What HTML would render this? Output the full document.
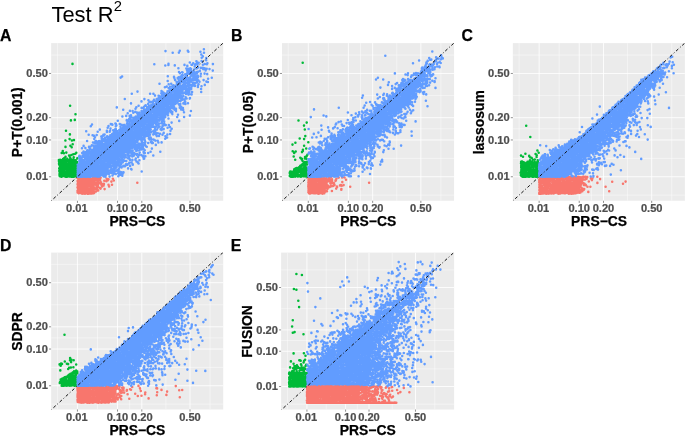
<!DOCTYPE html>
<html><head><meta charset="utf-8"><title>Test R2</title>
<style>
html,body{margin:0;padding:0;background:#fff;}
body{width:685px;height:436px;overflow:hidden;font-family:"Liberation Sans",sans-serif;}
svg{display:block;will-change:transform;font-family:"Liberation Sans",sans-serif;}
.tk{font-size:11.1px;font-weight:bold;fill:#4D4D4D;stroke:#4D4D4D;stroke-width:0.22px;}
.ax{font-size:13.9px;font-weight:bold;fill:#000;stroke:#000;stroke-width:0.25px;}
.tag{font-size:15.8px;font-weight:bold;fill:#000;stroke:#000;stroke-width:0.25px;}
.ttl{font-size:21.9px;fill:#000;}
</style></head><body>
<svg width="685" height="436" viewBox="0 0 685 436">
<rect width="685" height="436" fill="#fff"/>
<g>
<text class="ttl" x="51.5" y="21.5">Test R<tspan font-size="14.8" dx="0.1" dy="-10.6">2</tspan></text>
<rect x="51.15" y="43.10" width="172.05" height="157.65" fill="#EBEBEB"/>
<clipPath id="cA"><rect x="51.15" y="43.10" width="172.05" height="157.65"/></clipPath>
<g clip-path="url(#cA)">
<path d="M57.40 43.1V200.8M51.1 195.15H223.2M97.48 43.1V200.8M51.1 158.36H223.2M129.67 43.1V200.8M51.1 128.82H223.2M165.91 43.1V200.8M51.1 95.57H223.2M210.04 43.1V200.8M51.1 55.06H223.2" stroke="#fff" stroke-width="0.45" fill="none"/>
<path d="M77.44 43.1V200.8M51.1 176.75H223.2M117.53 43.1V200.8M51.1 139.96H223.2M141.81 43.1V200.8M51.1 117.68H223.2M190.00 43.1V200.8M51.1 73.46H223.2" stroke="#fff" stroke-width="0.85" fill="none"/>
<g fill="none" stroke-linecap="round" stroke-width="2.56">
<path d="M60.2 159.9h0m0.9 0.2h0m-2.2 0h0m2 0.2h0m-0.4 0.3h0m-1.6 0.5h0m2.2 0.2h0m-0.3 0.4h0m-1.1 1.5h0m-0.7 0.1h0m2.1 0.3h0m0.3 0.1h0m-2.2 0.6h0m-0.1 0.2h0m0.7 0.1h0m0.9 0.7h0m-0.8 0.3h0m0.1 0.9h0m0.4 0.2h0m0 1.6h0m-1.2 0.1h0m0.3 0.9h0m1 0.9h0m1 0.2h0m-2.2 0.5h0m0.7 0.7h0m1.2 0.8h0m-1.2 0.3h0m1.3 0.3h0m-1.7 0.1h0m0 0.5h0m-0.1 1.3h0m0.4 0.3h0m-0.2 0.9h0m0.1 0h0m1.3 0.5h0m1.7-25.5h0m-1.1 1.9h0m2.2 0.3h0m0.5 4.8h0m-1.4 0.9h0m-0.2 1.2h0m0.4 0.2h0m-1.2 1.3h0m2.2 0.4h0m-0.5 0h0m-1.3 0.8h0m0.3 0.5h0m1.1 0.1h0m-0.8 0.5h0m1 1.7h0m0.3 0h0m-2.2 0h0m-0.5 0.2h0m1.9 0.1h0m-0.4 0.3h0m0.7 0.7h0m-1.1 0.2h0m1 0.9h0m-1.5 0.1h0m1 0.2h0m-1.7 1.2h0m2.8 0.3h0m-0.9 0.5h0m-1.9 0h0m2.9 0.7h0m-2.9 0.4h0m0.2 0.4h0m0.6 0.6h0m-0.7 0h0m1 0.4h0m0.5 0h0m0 0.2h0m0.9 0.8h0m-0.1 0.4h0m-2 0.7h0m0.9 0h0m-0.9 0.6h0m0.7 0h0m0.3 0.3h0m1.3 0.2h0m-2.6 0.6h0m4.4-45.9h0m-0.6 9.7h0m0.1 6.4h0m0.8 5.7h0m-0.8 4.2h0m1.9 2.1h0m-1 0.5h0m-1.2 0.4h0m0.6 0.3h0m1.3 0.3h0m-1.8 0.2h0m1.7 0.7h0m-2.1 1.5h0m1.2 0.4h0m-1.2 0.4h0m-0.3 0.7h0m2.4 0.6h0m-0.5 0.6h0m-0.4 1.6h0m-1.2 1.2h0m2.4 0h0m-2.3 0.5h0m1.9 0.8h0m-2.3 0h0m0 1.2h0m0.5 0.8h0m1.5 0h0m-0.1 0.2h0m-1.2 1.2h0m1.1 0.5h0m-1.3 0h0m0.8 0.2h0m0.9 0.9h0m-0.9 0.8h0m-0.1 1h0m1.1 0.2h0m-1.1 0h0m1.2 0.1h0m-1.3 0h0m4.4-71h0m-0.2 28.7h0m-0.3 4.7h0m0.8 6.6h0m-1.3 9.8h0m0.4 0.4h0m0.7 2h0m0.3 0.9h0m-1.2 1.2h0m-1.3 0.1h0m0.5 0.5h0m1.5 0.1h0m-0.5 0.2h0m-0.6 0.4h0m-0.3 1.5h0m1.6 0.4h0m-1.7 0.2h0m1.3 0.3h0m-2.2 1.2h0m1.4 0.3h0m0.1 0.6h0m0.9 0.1h0m-2.1 1.4h0m0.5 0.4h0m-0.2 0h0m2.3 0.5h0m-1.6 0.4h0m-1.1 1.3h0m1.6 0.3h0m0.3 0.3h0m-1.4 0.8h0m0.7 0.7h0m-1.2 0.7h0m1.3 0.5h0m-0.1 0h0m1.3 0.1h0m-0.6 0.4h0m-1.6 1.2h0m1 0h0m-0.3 0.7h0m0.7 0.8h0m-0.4 0h0m3.4-112.5h0m-1.6 56.5h0m1 20.1h0m0.8 3.8h0m-1 3h0m1.6 6.9h0m-1.9 0.8h0m2.1 4.3h0m-3 0.7h0m1.3 0.1h0m-0.4 0.3h0m1 0h0m-1.8 0.5h0m2.1 0.3h0m-0.1 0.3h0m-1.9 0.7h0m0.4 1.1h0m1.6 0.3h0m-1.5 1.5h0m0.6 0.1h0m1 0.3h0m-0.4 0.2h0m-1.3 0.8h0m0.4 1.1h0m0.9 0.5h0m0.3 0.3h0m-0.9 0.5h0m1 0.6h0m-0.8 0.1h0m1.4 0.2h0m-0.9 1.2h0m-0.2 0.6h0m-1.3 0.1h0m2.1 0.7h0m-0.5 1.3h0m-0.5 0.1h0m0.3 0.3h0m0.6 0.6h0m-0.1 0.2h0m-2 0h0m0.3 0h0m0.1 0.3h0m-0.2 0h0m0.8 0.6h0m-1.4 0.3h0m0.6 0.5h0m0.7 0h0m0.2 0.1h0m3.5-62.4h0m-0.7 5.6h0m-0.8 20.2h0m2.3 12.6h0m-1 1.1h0m-1.6 3.6h0m1.9 3h0m-0.8 0.8h0m0.9 0.2h0m-2 0.8h0m2 1.1h0m-0.7 0.9h0m-1 0.1h0m2.1 0.3h0m-1.5 0.5h0m-0.3 1.1h0m1.8 0.2h0m-0.5 0.5h0m-0.9 0.7h0m0.9 0.4h0m-1.3 0.3h0m2.2 0.8h0m-1.5 0.4h0m-0.2 1.6h0m1.7 0.3h0m-2.7 0.3h0m0.7 0.7h0m0.7 0.5h0m-1.3 1.5h0m2.6 0h0m-1.1 0.8h0m-0.3 0.7h0m-0.1 0.1h0m0.9 0.2h0m-1.4 0.3h0m-0.7 0h0m0 0.2h0m3.5-18.3h0m-0.2 3.7h0m-0.4 1.4h0m0.7 1.2h0m-0.7 0.3h0m-0.1 4.5h0m0.1 3.2h0m0.1 1.8h0m0.5 1.3h0m0.1 0.5h0" stroke="#00BA38"/>
<path d="M78.1 177.3h0m-0.5 0.8h0m1.9 0.7h0m-0.7 0.9h0m-0.7 0.8h0m1.1 0h0m-1.6 0.6h0m0.6 0.6h0m0.3 0.1h0m0.9 0.5h0m-0.2 0.3h0m-1.3 0h0m0.2 0.1h0m0.4 0.4h0m0.6 0.4h0m-1.4 0.3h0m0.5 0.5h0m1 0.1h0m-1.3 0.1h0m-0.3 0.1h0m0.3 0.7h0m-0.1 1.4h0m0.1 0.3h0m0.2 0.2h0m-0.6 0.3h0m0.4 0.6h0m1.2 0.3h0m0 0.1h0m-0.9 0.7h0m0.4 0.4h0m0.1 0.4h0m-0.6 0.5h0m-0.4 0.1h0m-0.2 0.3h0m0.1 1.6h0m0.2 0.1h0m0.6 0.5h0m0.3 0.2h0m3.5-15.3h0m-2.5 0.7h0m1.5 0.2h0m-1.6 0.6h0m2.4 0.6h0m-1.4 0.2h0m0.8 1.2h0m-0.8 0h0m0.5 1.2h0m-1 0.1h0m1.9 0.4h0m-1.8 0.1h0m-0.1 0.2h0m1.9 0.5h0m-0.5 0.6h0m-1.6 0.8h0m0.4 0.6h0m2 0.6h0m-1.2 0.2h0m1.2 0.5h0m-2.7 0.1h0m2 0.4h0m-1.4 0.6h0m0.5 0.9h0m0.5 1h0m-1.3 1.3h0m2.1 0h0m-2.3 1.2h0m1.1 0h0m1.5 0.6h0m-0.7 0h0m0.8 0.2h0m1.1-16.7h0m-0.9 1h0m2.8 0.2h0m-1.2 1.1h0m0.5 1h0m-0.8 1.1h0m1.5 0.3h0m-2.3 0h0m-0.2 0.2h0m1.1 0.3h0m0.5 0.4h0m0.8 1.4h0m-1.3 0.4h0m-1 0.3h0m2 0.9h0m-1.3 0.4h0m1.1 0h0m-1.3 0.3h0m-0.7 1.8h0m1.5 0.2h0m0.3 0.1h0m-0.9 0.5h0m0.2 0.7h0m-1.1 0.6h0m0.5 1.2h0m1.7 0h0m0.2 0.1h0m-1.5 0.1h0m-0.2 1.1h0m1.4 0.6h0m-1.8 0h0m1.1 0.2h0m-0.2 0.1h0m1 0.3h0m1.1-16.7h0m2 0.4h0m-0.1 0.2h0m0.3 1.7h0m-2 0h0m1.9 1.5h0m-0.9 0.8h0m-0.2 0.1h0m-0.6 1.4h0m0.5 0.9h0m0.6 0.1h0m-0.3 0.1h0m0.9 0.1h0m-1.3 0.2h0m-0.5 1.5h0m0.3 1.2h0m0.9 0.6h0m0 0.4h0m0.8 0.7h0m-2.8 0.6h0m0.2 0.9h0m0.9 0.1h0m-0.3 0.4h0m0.4 0.7h0m-1 0.6h0m0.1 0.7h0m1.6 0.7h0m1.8-15.6h0m1.7 1h0m-0.1 0.5h0m-1.8 0.4h0m1.7 0.3h0m0.1 0.1h0m-0.7 1h0m0.8 0.1h0m-2.3 0.2h0m2 0.9h0m-1.6 1h0m2 0.4h0m-1.2 0.2h0m-0.9 1.6h0m1.4 0.1h0m-0.8 0.1h0m-0.8 0.3h0m2.1 0.9h0m-0.1 0.6h0m-0.3 0.1h0m-0.1 0.4h0m-0.6 0.4h0m1.3 0.1h0m-2.6 0.7h0m0.1 1.1h0m1.9 0.3h0m-0.1 0.6h0m-1.5 0.8h0m2.2 0.1h0m-2.5 0.3h0m2.7 0.3h0m-1 0h0m-1.4 0.3h0m1.4 0.2h0m-1.8 0.1h0m5.7-15.9h0m-1.3 0.2h0m1.4 0.4h0m-1.2 1.1h0m1 0.3h0m-1.8 0.6h0m1.9 0.5h0m0.1 0.5h0m-1.5 0.6h0m0.8 0.2h0m-1.6 1.6h0m0.7 0.5h0m1 0.2h0m-1.9 0.1h0m-0.2 1.3h0m1.5 0h0m0.4 0.6h0m-0.3 0.4h0m0.1 0.5h0m0.5 0h0m-1.7 1.1h0m1.4 0h0m0.9 1.2h0m-1.8 0.4h0m-0.2 0.8h0m1.3 0.7h0m-1.8 0.4h0m2.2 1.1h0m-0.2 0.1h0m-1.9 0.1h0m1.3 0.1h0m-1.4 0.2h0m-0.1 0h0m-0.1 0h0m4.3-15.6h0m-1.4 0.2h0m2.9 0.2h0m-0.1 0.5h0m-1.8 0.1h0m-0.1 0.6h0m0 0.4h0m1.8 2.3h0m-2.3 0.3h0m2 0.1h0m0.4 0.9h0m-2.3 0.7h0m2.2 0.3h0m-1.8 0.1h0m1 0.6h0m0 1.8h0m-0.5 1.3h0m1 0.6h0m-2.2 0.4h0m2 0h0m0.7 0.4h0m-1.5 1.8h0m3-14.6h0m-0.7 2.1h0m1.2 0.1h0m0.5 0.2h0m-0.9 0.6h0m1 0.5h0m-2.6 0.5h0m0.7 0.8h0m1.9 1.4h0m-0.8 0.2h0m-1.4 1.3h0m0 0.5h0m0 1.8h0m2 1h0m-1.7 2.5h0m2.4-12.6h0m0.5 4.5h0m0.1 1.4h0m0.1 0.3h0m1.7 0.1h0m-1.6 0.7h0m1.1 0.8h0m-0.3 0.9h0m-1.6 2.1h0m3.7-7.8h0m2.1 0.4h0m-2.5 2.7h0m-0.2 1.6h0m0.9 3.6h0m2-10.3h0m1.9 0.5h0m-0.6 1h0m0.6 4.5h0m0.6 1.6h0m2.3-4.8h0m0.6 3.1h0m0.9-5.9h0m0.9 1.7h0m23.5 2.2h0" stroke="#F8766D"/>
<path d="M79 156.5h0m0.4 0.8h0m0 3.8h0m-0.3 3.3h0m-1.4 0.3h0m1.6 1.8h0m-1.4 0.3h0m0.3 0.1h0m1.1 0.1h0m-1.4 0.1h0m1.1 1.7h0m-1.3 0.4h0m0 0.4h0m0.1 0.2h0m1.5 0.1h0m-1.4 0.9h0m0 0.5h0m-0.1 0.3h0m0.8 0.3h0m-0.7 0h0m0.3 0.2h0m0.3 0h0m-0.2 0.7h0m-0.6 0.8h0m0.7 0.4h0m-0.3 0.3h0m-0.2 0.2h0m0.6 0.7h0m-0.8 0.3h0m0.2 0.1h0m0 0.4h0m0 0.4h0m0.8 0.1h0m-0.8 0.1h0m0.1 0.1h0m1.3 0h0m2.7-28.4h0m0.2 4.8h0m-2.6 2.6h0m0.6 0.9h0m0.9 1.2h0m-0.2 0.6h0m-1.4 0.4h0m2.1 0h0m-0.3 0.2h0m0.8 0.6h0m-1.5 0.5h0m-0.2 0h0m0.9 1.1h0m-0.8 0.7h0m-0.4 0.1h0m-0.1 0.4h0m2.5 0.1h0m-2.9 0.4h0m2.3 0.1h0m-2 0.5h0m1.2 0.1h0m0.3 0.8h0m-1.6 0.2h0m-0.2 0.8h0m1.9 0.7h0m0 0.9h0m-1.6 0.3h0m1.5 1h0m-1.6 0.3h0m-0.1 0.9h0m1.4 0.9h0m-0.6 0.3h0m0.9 0.1h0m0.2 0.8h0m0.4 0.4h0m0.3 0h0m-2.5 0.5h0m2.2 0.4h0m-2.1 0.3h0m2.2 0.1h0m-2.1 0.3h0m1.3 1.2h0m-0.6 0h0m-0.6 0.5h0m0.4 0.2h0m0.3 0.6h0m1 0.2h0m0.7 0.3h0m-0.2 0h0m-1.4 0.1h0m2.7-30.8h0m1.8 2.2h0m-1.8 3.5h0m1.7 0.6h0m-0.5 0.5h0m-0.8 1.4h0m-0.3 0.8h0m-1.1 0.8h0m0.9 0.3h0m-0.8 0h0m2.6 0.2h0m-0.2 0.2h0m-2.2 0.3h0m1 0h0m0.5 0h0m0.6 2.2h0m-1 0.8h0m0.1 0.1h0m-0.6 0.4h0m0.6 0.9h0m1.1 0.5h0m-1.3 0.4h0m-0.4 1h0m0.1 0.2h0m-0.7 0.3h0m2.4 1.4h0m-1.1 0.2h0m-1.7 0.4h0m0.9 0h0m0.8 1.7h0m1 0h0m-0.5 0.1h0m-2.1 0.1h0m1.8 0.9h0m-1.1 0.4h0m-0.5 0.9h0m0.4 0.8h0m1.2 1h0m-0.5 0.9h0m-0.4 0.3h0m0.8 1.2h0m-1.4 1h0m0.5 0.2h0m0.6 0.6h0m-1 0.3h0m0.5 0.3h0m1.3 0.1h0m-0.6 0h0m-0.7 0.1h0m-0.8 0h0m0.2 0.1h0m2.3 0.2h0m1-45.5h0m0.9 9.8h0m0.2 9.4h0m0.4 0.3h0m-0.5 1h0m-1.2 0.3h0m1.3 1.6h0m-1.2 0.9h0m1.1 0.2h0m0 0.4h0m0.6 0.1h0m-0.6 0.6h0m1 0.4h0m-0.4 1.1h0m-1.8 0.3h0m2.2 0.3h0m-1.2 0.2h0m-1.3 0.1h0m2.2 0.7h0m-1.2 1.4h0m0 0.8h0m1.7 0.4h0m-0.2 0.3h0m-0.6 0.2h0m-1.3 0.7h0m1.7 0.7h0m-2.5 0.3h0m2.5 0.3h0m-1.8 0h0m0.7 0.9h0m0.2 0.2h0m-1.4 0.2h0m1.5 1.3h0m0.1 0.8h0m-1.2 0.4h0m0 0.8h0m-0.3 0.3h0m1.8 0.5h0m-0.6 0.2h0m-0.1 0.7h0m-0.4 0.1h0m-1 0h0m1.4 0.7h0m1.5 0.6h0m-1.2 0.3h0m-1.3 0.7h0m2 0.8h0m-2.1 0.1h0m0.2 0.8h0m1.2 0.7h0m-0.1 0.3h0m0 0.5h0m1.3 0.2h0m-2.8 0.2h0m0.4 0.2h0m1.5 0h0m-0.6 0.1h0m-0.9 0.1h0m4.8-50.4h0m-2.1 8.5h0m2 11.7h0m-1.7 0.4h0m0.5 1h0m0.8 1.1h0m-1.6 1.4h0m2.6 0.7h0m-2 0.5h0m1.2 0.4h0m-1.3 1.4h0m0.9 0.1h0m0.8 0.6h0m-0.3 0h0m-0.3 0.3h0m0.7 1.5h0m-1.4 0.4h0m-0.5 0.6h0m1.6 0.2h0m-0.3 1h0m0 0h0m-1.6 0.6h0m0.9 1h0m-1.2 0.8h0m2.6 0.5h0m-1.5 0.2h0m-0.8 1.1h0m2.4 0.3h0m-1.1 0.1h0m0.7 0.7h0m0.4 0.5h0m-1.5 0.9h0m-1.1 0.5h0m2.5 0h0m0.2 1h0m-1.7 0.2h0m1.8 1h0m-2.4 0.6h0m1.9 0.6h0m-1.6 1h0m0.5 0h0m0.6 1.5h0m-0.3 0h0m-0.7 0.2h0m-0.7 0.6h0m1.1 1.2h0m1.4 0.1h0m-0.3 0.3h0m0.2 0.9h0m-2.6 0.4h0m2.5 0.2h0m-1.4 0.1h0m-0.2 0.1h0m-0.7 0.4h0m2.3 0.9h0m-1.5 0h0m0.9 0.1h0m-1.4 0h0m3-52.2h0m0.6 10.8h0m1.5 0.6h0m0.2 3.1h0m-1.3 3.5h0m-1.1 2.8h0m1.8 0.3h0m0.1 0.9h0m-0.1 0.2h0m0.5 1.2h0m-1.6 1.8h0m1.3 0.4h0m-0.7 0.1h0m-0.3 0.3h0m1.4 0h0m-2.3 0.2h0m-0.3 0.3h0m1.4 0.7h0m-0.5 0.8h0m1.1 0.5h0m-0.5 1h0m0.9 0.4h0m-2.2 1.2h0m1.3 0.1h0m1 0.6h0m-1.6 0.4h0m-0.5 0.2h0m1.7 0.2h0m-1.3 0.1h0m0.4 0.8h0m1.2 0.4h0m-2.3 0.8h0m0.9 1.2h0m-0.3 0.1h0m1.1 0.4h0m-1.7 0.1h0m1.3 0.1h0m1.1 0.2h0m-0.2 1.1h0m-1.3 0h0m-0.3 0.6h0m1.7 1.5h0m-1.3 0.7h0m0.9 1.3h0m-1.2 0.5h0m1.2 0.6h0m-1.9 1.1h0m0.9 0.3h0m1.6 0.2h0m-2.3 0.3h0m0.6 1.5h0m-1.1 0.1h0m2.6 0.1h0m0 1.4h0m-1.7 0.1h0m0.4 0.9h0m1.6 0.2h0m-1.8 0h0m-1 0.7h0m1.6 0.3h0m-0.4 0.3h0m0.1 0.4h0m-0.1 0.6h0m0.5 0.2h0m3.4-41.2h0m-1.8 2.1h0m1.5 3.9h0m-1.1 0.4h0m1.7 0.4h0m-0.9 0.3h0m-1.5 0.8h0m1.1 0.5h0m1.8 0.3h0m-1.5 2.3h0m1.5 0.5h0m-1.8 0.4h0m-1.1 1.7h0m2.4 0.1h0m-0.8 0.2h0m0.4 0.3h0m-0.9 0.4h0m-0.5 0.2h0m2.1 0.7h0m-2.3 0.6h0m1.9 0.6h0m0.4 1.4h0m-1.8 0.3h0m-0.3 0.5h0m1.9 0.5h0m-1.2 0.4h0m-0.1 1.5h0m0.5 1.8h0m-0.3 0.4h0m0.4 0.8h0m-1.5 0.1h0m2.4 0h0m-2.1 0.1h0m0.9 1.2h0m-1.3 0.1h0m1.2 1h0m-0.5 0.8h0m1.1 0.7h0m0.2 0.2h0m-0.4 0.7h0m-1.8 0h0m1.1 0.2h0m0.1 0.3h0m0.9 0.7h0m-1.6 0h0m1.7 0.4h0m0.2 1.4h0m-0.7 0h0m-1.3 0.1h0m2 1.1h0m-2.1 0.4h0m2.4 0.7h0m-1.1 0.5h0m0.7 0.1h0m-1.2 0.2h0m1.1 0.9h0m-0.7 0.2h0m0.7 0.2h0m-1.2 1.7h0m1.8 0.9h0m-2.7 0.3h0m0.2 0.7h0m1.7 0.2h0m-1.6 0.3h0m1.1 0.5h0m-1.2 0h0m2.4 0.3h0m2.5-47h0m-2.1 2.2h0m1.4 9.2h0m0.5 0.8h0m-0.9 1h0m1.5 1.1h0m-1 0.2h0m0 1.5h0m-1.6 0.5h0m2.8 0.1h0m-1.1 0.2h0m-1 1.2h0m0.7 0.7h0m-0.2 1.7h0m-0.7 0.2h0m0.1 0.6h0m0 0.1h0m-0.6 0.1h0m2.4 0.7h0m-0.5 0.6h0m1 0.1h0m-1.1 0.2h0m0 0.9h0m0.3 0.6h0m-1 1.2h0m-0.5 0.4h0m1.2 1h0m0.5 1h0m-2.3 0h0m2.6 0.6h0m-1.5 0.2h0m-0.5 0.3h0m-0.7 0.6h0m1.3 0h0m0.2 0.9h0m-0.5 0.5h0m-0.3 0.3h0m2 0.2h0m-2.1 0.4h0m2.1 0.1h0m-0.6 1.5h0m-0.9 0.4h0m-0.3 0.8h0m-0.3 0h0m2.3 1.3h0m-2.6 0.1h0m2.5 0.4h0m-0.1 0.5h0m-0.2 0h0m0.2 0.5h0m-1.3 0h0m-0.6 0.8h0m1.4 1h0m0.1 0.5h0m-2.1 0.9h0m1.8 0.6h0m-0.5 0.6h0m-1.4 0.7h0m2.5 1.2h0m-2.1 0.3h0m1.6 0.3h0m-0.4 0.2h0m0.8 0h0m-1.1 0.1h0m-1.3 0.1h0m0.6 1.8h0m-0.4 0h0m1.8 0.1h0m3.8-41.7h0m-0.7 1.2h0m-1.4 0.6h0m0.6 1.8h0m-0.2 0.1h0m-0.2 2h0m1.5 0.6h0m-1.6 0h0m0.5 1.4h0m-0.2 1.1h0m1.6 0.8h0m-0.1 0.1h0m-1.2 0.9h0m1.3 0.6h0m-2.1 1.7h0m1.2 0.3h0m-1 0.8h0m1 0.4h0m-1.7 0h0m1.3 1.2h0m1.2 0.1h0m-0.9 0.5h0m0.7 1.1h0m-0.1 0.5h0m-1.1 0.9h0m0.3 0h0m0.8 0.8h0m-1.8 0.3h0m1.7 1.1h0m-2.1 0.1h0m2.2 1.3h0m-1.7 0.3h0m1.8 0.1h0m-1.9 0.1h0m-0.2 0.4h0m0.7 0.8h0m-0.3 0.8h0m1.2 1.1h0m-1.8 0.2h0m2.2 0h0m-0.5 0.4h0m0.7 0.3h0m-0.3 0.9h0m-0.4 0.3h0m0.5 0.4h0m-1.3 0.4h0m-0.6 0.6h0m0.6 0.2h0m1.9 0.1h0m-0.3 1.4h0m-2.6 0.2h0m2.2 0.3h0m-1.3 1.1h0m0.9 0.8h0m-1.6 0.3h0m1.4 1h0m0.7 0.3h0m-1.9 1.4h0m1.7 0.1h0m-0.4 0.7h0m1 0.3h0m-1.4 0.8h0m-0.9 0.8h0m-0.1 0.5h0m2.5 0.1h0m-0.6 0.2h0m-1.7 0.1h0m1.4 0.6h0m2.1-40.9h0m0.3 2.9h0m-0.1 1.4h0m-1.2 0.3h0m1.6 1h0m1 0.9h0m-2.7 0.2h0m1.2 0.2h0m0.7 0.8h0m-1 1.7h0m0.9 0h0m0.4 0.4h0m-2.1 0.5h0m1.9 1h0m0.9 0.3h0m-2.3 0.4h0m-0.1 0.7h0m2.3 0.1h0m-0.8 0.5h0m-0.6 0.1h0m-1.3 1.5h0m1.9 0h0m-1.4 0.6h0m2 0.8h0m-1 0.1h0m0.6 1.2h0m-0.7 1.1h0m1.1 0.1h0m-1.5 0.8h0m0.3 0.2h0m0.7 0.3h0m-0.3 0.9h0m-1.1 0.1h0m1.1 0.3h0m-1.6 0h0m1.1 0h0m-0.8 0.4h0m-0.3 0.5h0m2.5 0.7h0m-2.1 1.1h0m-0.3 0.1h0m1.8 0.3h0m-0.2 0.3h0m-1.1 0.4h0m0 0.1h0m0.7 0.1h0m-0.5 0.8h0m0.6 0.1h0m1.3 0.4h0m-2.6 0h0m0.5 0.7h0m0 0.4h0m0.3 0.3h0m-1 0.1h0m0.9 0.4h0m0.9 1.8h0m0 1.1h0m-0.1 1.1h0m-1.5 0.4h0m1.6 0h0m-1.7 0.3h0m0 0.5h0m2 0.1h0m-0.1 0.1h0m0.3 0.3h0m-1.8 0h0m0.2 1.7h0m1.3 0.7h0m-0.2 1h0m0.3 0.4h0m-2 0.9h0m0.5 0.6h0m2.2 0.1h0m-0.5 0.8h0m-2 1.4h0m1.6 0.2h0m3-50.7h0m-0.8 1.8h0m-0.8 3h0m0 1.2h0m0.3 4.2h0m2.1 0.6h0m-0.3 0.4h0m-1.3 0.1h0m-0.7 0.1h0m0.2 0.7h0m0.9 0.3h0m-1.4 1.7h0m0.9 0h0m0 0.4h0m-1 1.6h0m2.4 0.1h0m0.3 0.1h0m-2.1 1.1h0m1.7 0.1h0m-2.2 0.4h0m0.2 0.5h0m0 0.8h0m2.3 0.4h0m-0.5 0.3h0m-0.5 0.2h0m-0.2 0.1h0m0.4 0.1h0m-0.5 1.4h0m-0.3 0.1h0m0.6 0.2h0m-0.5 0h0m-0.5 0.6h0m2.3 1h0m-0.3 0.2h0m0.3 0.2h0m-2.2 0.7h0m0 0.5h0m0.8 0.5h0m-1.4 0.1h0m1.1 0.1h0m1.1 0.3h0m-1.5 1.3h0m0.5 0.2h0m-0.5 0.1h0m1.4 1.5h0m-1.8 0.5h0m1.3 1.3h0m-0.2 0.2h0m0 0.3h0m0.6 0.9h0m-0.6 0.7h0m1.2 0.5h0m-0.8 0h0m-0.9 0.2h0m1.5 1.4h0m-1.5 0.3h0m0.1 0.5h0m-0.3 0.2h0m1.4 0.4h0m0.5 0.2h0m-2.5 0.8h0m-0.1 0.2h0m2.4 0.6h0m-0.1 0.1h0m-1.2 0.8h0m-0.5 0.2h0m1.3 0.3h0m-0.5 0.1h0m-1.2 0.4h0m1.4 0.9h0m0.1 0.2h0m-0.6 0.3h0m-0.3 1h0m-0.4 1.3h0m1.2 0.2h0m-1.4 0.3h0m1.1 1.2h0m-0.6 1.5h0m0.7 0.3h0m0.7 0.3h0m-2.3 0h0m4.3-49.8h0m1.2 0.2h0m0.4 0.5h0m-1.9 3.8h0m-0.4 2.1h0m-0.4 1h0m2.5 2.3h0m-1.9 1.3h0m1.6 0.4h0m-0.8 0.7h0m-0.3 0.3h0m-0.5 0.1h0m0 0.6h0m-0.3 0.3h0m2.4 0.3h0m-0.9 1h0m0.2 0.3h0m-1.8 0.1h0m2.2 0.6h0m-2.5 0.8h0m0.4 0.1h0m1.5 0.5h0m-1.4 1.5h0m1.8 0.9h0m-2.3 0.1h0m1.2 0.1h0m-0.6 1.9h0m1.7 0.7h0m0.1 0.2h0m-0.2 0.4h0m-2 0.3h0m2.3 0.6h0m-1.9 0h0m-0.6 0.1h0m1.5 0.4h0m-0.5 0h0m1.1 2.3h0m0.2 0.5h0m-2.3 0.1h0m2 0.5h0m-1.3 1.4h0m2.1 0.3h0m-1.7 0.5h0m-0.8 0h0m1.4 0.8h0m0.9 0.6h0m-0.9 0.5h0m-1.4 0.4h0m0 0.4h0m2 0.4h0m-0.9 1.3h0m0.6 0.1h0m-1.1 1.8h0m0.2 1.3h0m-0.7 1.1h0m1.7 0.4h0m-1.6 0.3h0m0 1.2h0m2 1.1h0m-0.3 0.4h0m-1.5 0.8h0m-0.7 0.2h0m1.9 1.6h0m-0.2 0.4h0m0.7 0.5h0m-1.5 0.4h0m2 1.3h0m-0.8 0.5h0m-1.7 0.4h0m0.9 0h0m0.3 0.5h0m1.3 2.6h0m-2.9 1.1h0m5.8-53h0m-0.2 5.6h0m-2 1h0m0.8 1.3h0m-0.3 0.9h0m1.2 1h0m-1.5 0.9h0m0.9 1.3h0m-0.3 0.1h0m1.1 0.8h0m-1.8 0.5h0m-0.1 1.3h0m2 0.3h0m-1.1 0.8h0m0.5 1.3h0m0.2 0.8h0m-1.9 0.1h0m1.7 0.7h0m-1.7 0.2h0m2.2 1.8h0m-1.2 0.4h0m0.2 0.3h0m-1.5 0.8h0m0.3 0h0m1 0.1h0m1.2 0.5h0m-0.8 0.2h0m-0.1 1.2h0m-1.2 0.5h0m0.2 0.5h0m2.2 0.3h0m-1 0.2h0m-1.8 1.5h0m1.5 0.4h0m-0.3 1.1h0m-0.7 0.5h0m1.4 0.2h0m-1.4 0.1h0m1.4 0.1h0m-0.8 0.2h0m0.7 0.6h0m-1 0.4h0m1.9 0.8h0m-2.8 0.2h0m2.2 1h0m0.4 0.3h0m-1.5 0.4h0m0.3 1.6h0m-1.2 0.4h0m1.3 0.7h0m-1.2 0.6h0m2.2 0.2h0m-1.7 0.8h0m-0.5 0h0m0.7 0.4h0m1.2 1.2h0m-1.8 0.6h0m0.3 0.3h0m0.3 1.5h0m1.1 0.6h0m-2 0.2h0m1.6 1.8h0m1.2 0.6h0m-1.7 0.4h0m0.1 1h0m0.8 0.3h0m0 0.8h0m-0.6 0.6h0m-1 0.4h0m0.8 1h0m-0.3 0.8h0m3.3-66.5h0m1 13.4h0m-1.8 3.3h0m0.4 1.3h0m-0.6 0.8h0m0 2.8h0m-0.1 1.5h0m0.2 0.5h0m1.1 0h0m-0.4 1.1h0m0.2 0.3h0m0.8 0.6h0m-0.3 0.1h0m-0.8 1h0m1.4 0.9h0m0.4 0.4h0m-2.4 0h0m1.2 0.5h0m-0.2 1.5h0m-0.6 0.3h0m0 0.5h0m1.7 0.6h0m-0.2 0.5h0m-0.9 0h0m-0.4 0.8h0m1.4 0.7h0m-0.6 0.3h0m-0.9 0.2h0m1.2 0.5h0m-0.1 1h0m-1.7 0.7h0m2.2 0.6h0m0 0.3h0m-1.2 0.7h0m0.4 0.6h0m-1.3 0.4h0m0.4 0.8h0m-0.7 0h0m2.4 0.6h0m-0.9 1.5h0m-0.2 0.3h0m0.8 1.1h0m-1.9 0.5h0m1.5 1.7h0m-1.3 0.6h0m0.7 0.1h0m-0.3 1h0m0.9 0.5h0m-1.2 1.5h0m0.8 0.4h0m1.1 0h0m-2.5 0h0m0.2 1.4h0m0.7 0.4h0m-0.9 1.2h0m2.5 0.4h0m-2.5 0.2h0m2.8 0.9h0m-2.1 0.6h0m0.1 0.6h0m0.4 1.3h0m1.4 0.2h0m-2.5 0.3h0m2.4 1h0m-0.8 0h0m-0.9 0.9h0m0.3 0.2h0m-0.1 1.1h0m-0.6 0.1h0m1.4 2.9h0m-1.6 0.9h0m2.8 0.8h0m-0.3 1.2h0m-2.4 0.7h0m2.5 2.3h0m2.4-98.7h0m-0.9 46.4h0m0.7 2.6h0m0.1 2.1h0m-0.2 0.5h0m-1.1 0.9h0m1.8 0h0m-0.8 0.5h0m-0.4 0.1h0m0.3 0.4h0m1 0.3h0m-0.5 0.5h0m-1.8 0.5h0m0.2 0.5h0m2 0.7h0m-0.3 0.2h0m-1.9 1.2h0m0.1 0.3h0m1.8 0.1h0m0.1 0.5h0m-0.8 0.3h0m1 0.2h0m-2 0.8h0m0.5 0.5h0m0.4 0.2h0m0.9 0.7h0m-0.4 0.3h0m-1.3 0.3h0m1.1 0.6h0m0.6 1h0m-2 1h0m0.9 0.3h0m0.4 0.9h0m0 0h0m-1.6 0.3h0m0.9 0.3h0m-0.2 0.8h0m0.5 0.3h0m1.5 1.1h0m-1.9 0.6h0m1.2 0.8h0m-0.9 0.6h0m-1 0.1h0m0.1 0.7h0m2.3 0.3h0m-1.5 0.4h0m1 0.2h0m-0.2 1.5h0m0.9 0.1h0m-2.6 0h0m0.3 0.1h0m2.2 0.5h0m-2.1 0.3h0m0.4 0.5h0m-0.5 0.3h0m0.3 0.2h0m1.3 0.9h0m0.7 0.7h0m-2.1 0.4h0m0.6 0.2h0m-1.1 1.6h0m2.4 0.2h0m-1.5 1.5h0m-0.9 0.1h0m1.8 1.1h0m-1.5 0.7h0m0.7 0.7h0m0.1 1.4h0m0.7 0.1h0m1 0.3h0m-0.8 1.4h0m0.5 0.2h0m-1.4 0.8h0m0.2 1.5h0m-0.5 0.2h0m-0.7 2h0m-0.2 0.8h0m1 1.7h0m1.8 0.8h0m-0.8 0.6h0m-1.4 1.6h0m-0.2 0.4h0m0.9 0.1h0m2.2-98.5h0m1.1 33.3h0m-0.8 6.7h0m-0.8 8.3h0m2.3 0.3h0m-0.6 0.7h0m-0.4 1.8h0m-1.1 0.9h0m1.9 0.2h0m0.5 1.6h0m-1.4 0.6h0m-0.2 0.9h0m1 1h0m-0.7 0.2h0m-0.7 1.3h0m-0.4 0.2h0m1.7 0.4h0m0 0.7h0m-1.5 1.4h0m1.2 0.7h0m0.1 0.3h0m-0.1 1h0m0.9 0.3h0m-1.7 0.6h0m0.2 0.8h0m0 0.2h0m1.2 0.2h0m-1.7 0.2h0m0 0.1h0m0.3 0.1h0m-0.6 0.2h0m2.5 1.1h0m-2.4 0.5h0m-0.3 1.3h0m1.3 0h0m0.4 1h0m-0.9 1h0m0.3 0.2h0m1.5 1.1h0m0.1 0.1h0m-2.2 0h0m-0.1 0.3h0m1.5 0.3h0m-1.5 1.6h0m0.8 0.3h0m1.6 0.6h0m-0.2 0.1h0m-0.8 0.1h0m0.9 1.4h0m-2.2 0.2h0m1.9 1.1h0m-2.1 1h0m1.1 0.3h0m1 0.9h0m-1.1 1.3h0m1.3 0.3h0m-2.2 1.5h0m1.6 0.7h0m-0.7 0.2h0m1.6 0.6h0m-2.2 0.3h0m0.5 1.2h0m1.2 3.4h0m-0.9 0.6h0m-1.6 1.1h0m2 5h0m-0.8 1.3h0m-0.5 1h0m0.1 1h0m2.5-76.7h0m1.4 16.9h0m0.6 4.1h0m-0.1 0.5h0m0.5 0.1h0m0.2 2.3h0m-0.4 0.9h0m-2.4 1.3h0m2.9 0.4h0m-0.1 0.2h0m-0.9 0.5h0m-1.6 0.5h0m2.5 1.1h0m-2.8 0h0m2 0.1h0m-1.8 0.4h0m1.4 0.7h0m-0.8 0.6h0m1.1 1.2h0m-0.8 0.1h0m-0.1 0.5h0m-0.4 1h0m1.5 0.1h0m0.8 1.3h0m-1.8 0.4h0m-0.4 0.2h0m1.3 0.4h0m-1.5 1.4h0m1.3 0.4h0m-0.5 0.2h0m-0.4 0.5h0m0.1 1.7h0m1.8 0.1h0m-1.6 0.6h0m0.1 0h0m-0.4 1.5h0m1.5 0.4h0m0.3 0.4h0m0.1 0.3h0m-1.7 0h0m-0.1 0.2h0m-0.4 0.8h0m-0.5 0.3h0m2.2 0.6h0m-2.1 1.4h0m2.1 0.2h0m0.4 0.9h0m-0.4 0.1h0m-2.3 0.4h0m0.7 1.3h0m-0.1 0.3h0m1.4 0.5h0m-1.5 0.1h0m-0.3 1.1h0m1.7 0.6h0m-1 0.5h0m-0.4 0.5h0m0 0.2h0m1.6 0h0m-1.3 3.1h0m0.9 1.8h0m-1.7 0.4h0m1.7 3.5h0m-0.3 3.1h0m1.3 0h0m-0.8 0.8h0m-1.4 0.7h0m-0.1 0.5h0m4.9-55.3h0m-2.2 2.4h0m2.4 2.3h0m-0.5 0.3h0m0.8 2.3h0m-0.3 0.7h0m-0.9 0h0m-1.1 2.1h0m2.1 0.6h0m-1.1 1.9h0m-1.1 1.3h0m0.3 0.2h0m0.6 0.2h0m0.1 0.1h0m-0.3 0.2h0m1.6 1.6h0m-1.4 0.3h0m0.8 0.5h0m-1.7 0.4h0m1 1.5h0m-0.3 0h0m-0.9 0.8h0m1 0.4h0m0.8 1.4h0m-0.3 0.1h0m-0.7 0.3h0m0.7 1h0m-1.1 0.6h0m1.8 0.5h0m-0.9 0.9h0m-0.7 0.2h0m1.2 1h0m-1.6 0.9h0m2 0.3h0m-1.1 1.2h0m-0.7 0h0m1.4 0h0m0.9 0.5h0m-1.8 1.5h0m0 0.4h0m1.7 0.6h0m-1 0h0m0.1 0.2h0m0.4 0.4h0m0 0.1h0m-0.2 0.6h0m-1.3 0.3h0m1.7 1.9h0m-0.8 0.1h0m-0.2 0.2h0m-1.3 0.4h0m0.7 1.6h0m1.9 0.5h0m-1 1.2h0m-1.5 0h0m0.5 0.2h0m0.1 0.2h0m1.7 0.3h0m-1.8 1.6h0m0.5 0.1h0m1.2 0.3h0m-2.2 0.8h0m0.4 0.2h0m-0.6 0.6h0m-0.1 0.3h0m0.5 0.7h0m2.1 0.3h0m-2.1 0h0m1 1.5h0m-1.1 1.2h0m1.5 0.7h0m0.5 1h0m-0.7 2.9h0m0 0.5h0m-1.8 1.5h0m2.6 1.1h0m-2 2.5h0m3.7-74.6h0m-0.8 9.6h0m1.6 7.7h0m0.7 1.7h0m-2.3 2.6h0m0.2 1.9h0m1.8 0.5h0m-2.5 1.8h0m1.8 0.6h0m-0.3 0.9h0m-0.1 1.3h0m0.6 0.6h0m0.7 0.1h0m-1.7 0.9h0m-0.9 0.2h0m0.8 0.3h0m1.8 0.5h0m-0.8 0.2h0m-1.3 0.5h0m0.8 0.1h0m-0.3 0.6h0m0.1 0.2h0m0.3 0.1h0m0.2 0.7h0m0.1 0.1h0m0.3 0.6h0m-2 0.4h0m2.3 0.6h0m-0.8 1.1h0m-1.4 0.1h0m0.5 0.5h0m0.9 0.2h0m0.9 0.8h0m0 0.8h0m0.4 0.1h0m-1.6 0.2h0m1 0h0m0.3 1.1h0m-2.2 0.1h0m0.4 0.7h0m1.3 1.2h0m-1.7 1.1h0m2.4 0.1h0m-1.2 1.5h0m0.1 0.5h0m1 0h0m-1.1 0.4h0m0.6 0.1h0m0.5 0.5h0m0.2 0.9h0m-1.3 0.2h0m-1.6 2.2h0m2 0.1h0m-1.6 0.6h0m1.8 1.7h0m-1.1 0.3h0m-0.6 0.1h0m-0.2 0.8h0m-0.1 0.2h0m1.6 0.7h0m-0.4 0.3h0m0.7 2.2h0m-2.1 1.4h0m0.4 0.1h0m1 0.6h0m0.1 1.1h0m0.3 0.4h0m0.2 0.1h0m-0.2 2.2h0m0.1 3.5h0m-0.8 2.3h0m0.9 1.9h0m0.3 0.7h0m-1.6 4.2h0m0.3 0.5h0m4.8-62.2h0m-0.8 1.4h0m-0.2 3.1h0m0.5 4.9h0m-0.2 0.2h0m-1.5 1h0m2.1 0.4h0m-2.2 0.2h0m2.2 0.2h0m0.2 0.2h0m-0.9 1.5h0m0.4 0h0m-1.4 0.3h0m1.4 0.2h0m-2.2 0.1h0m0.1 0.3h0m2.7 1h0m-2.2 0.7h0m0.8 0h0m0 1.4h0m-1.1 0.1h0m2 0.1h0m-1 0h0m0 0.5h0m1.2 0.7h0m-0.5 0.5h0m-1.9 0.5h0m1.5 1.5h0m0.3 0.3h0m-1.6 0.1h0m2.1 1.4h0m-1.5 0.4h0m1.4 1.3h0m-0.4 0.1h0m-0.9 0.2h0m0.6 0.7h0m-0.3 0.9h0m-0.2 0.6h0m0 1.3h0m-0.6 1.1h0m2.1 0.5h0m-0.6 0.6h0m-1.5 0.3h0m0.8 2.2h0m1.3 1.6h0m-2.4 0.4h0m0.7 1.2h0m0.5 0.2h0m-0.6 0.6h0m-0.9 0.4h0m1.6 0h0m1.3 0.3h0m-2.3 0.6h0m2 0.7h0m-1 0.4h0m0.1 0.3h0m-1.4 0.1h0m1.6 0.5h0m-0.6 1.5h0m1.4 0.7h0m0 1.1h0m-2.5 2h0m1.3 0.8h0m-1.2 1.9h0m1.9 2.9h0m-0.4 1.2h0m2.1-68.1h0m1.1 14.1h0m-1.6 6.9h0m2 0.1h0m0.5 0h0m-2.6 0.1h0m2.2 1.3h0m-0.1 0.2h0m-0.4 0.4h0m-0.9 0.3h0m0.4 1.2h0m0.2 0.6h0m0.6 0.8h0m-1.7 0.7h0m2 1.5h0m-0.8 0.4h0m-0.9 0.3h0m1 0.7h0m-0.1 0.2h0m-0.9 0.2h0m1.7 0.1h0m-2.4 0.4h0m2.3 1.1h0m-0.8 0.9h0m0.5 0.4h0m-0.2 0.1h0m-1.4 0h0m1.1 1.3h0m0.6 0.4h0m-1.7 0.4h0m1.5 1.5h0m-2 0.2h0m2.7 0.2h0m-1.5 1.3h0m0.7 0.9h0m-0.6 0.2h0m1.2 1.4h0m-1.6 0.2h0m1.6 0.6h0m-2.6 0.2h0m2.4 0.8h0m-1.2 0.3h0m-1 0.8h0m0.5 0.5h0m1.4 1.3h0m-1.6 0.2h0m0.8 0.3h0m0.7 1.4h0m0.1 0.2h0m0.4 0h0m-2.5 0.1h0m0.9 1.5h0m-0.2 1h0m1.5 2.1h0m-0.4 0.1h0m0.9 0.2h0m-1.9 0.3h0m0.7 0.1h0m0.9 1.6h0m-1.2 0.2h0m1.6 1.6h0m-2 0.1h0m-0.9 1.9h0m1.7 0.2h0m-0.9 3.8h0m-0.5 1h0m2.3 0.1h0m-1 2h0m1.3 3.1h0m-2.9 1.2h0m1.4 1.2h0m0.7 0.9h0m2.9-62.1h0m0.1 6.5h0m0 3.1h0m0.3 1.1h0m0 2h0m-0.4 0.2h0m-1.6 0.2h0m1.1 0.4h0m1.4 0.6h0m-2.8 0.5h0m0.6 0.6h0m1.7 0.8h0m-1.7 1h0m1.4 0h0m-0.5 0.4h0m0.9 0.9h0m0 0.4h0m-0.7 0.2h0m-1.4 0.1h0m0.2 0.1h0m2.3 0.8h0m-0.4 1h0m-0.9 0h0m0.1 0.6h0m0.4 1h0m-1.3 0.1h0m-0.3 0.6h0m0.8 0.5h0m0.4 0.5h0m0.9 0.5h0m-1.8 0.6h0m0 0.7h0m-0.1 0.8h0m2 0.4h0m-2.5 0.6h0m0.9 0.3h0m1.8 1.3h0m-2.2 0h0m0.8 0.4h0m1.5 0.3h0m-1.5 0.1h0m1 0.3h0m-0.7 0.9h0m0.1 1.2h0m-0.1 0.6h0m-1.4 0.6h0m-0.3 0h0m2.5 0.4h0m-0.4 0.2h0m-2 1.1h0m1.6 0.4h0m0.2 1.6h0m-1.1 0.1h0m1.9 0.7h0m-0.9 0.8h0m0.4 1.2h0m0.2 0.3h0m0.1 0.8h0m-2.4 1.1h0m1.7 0.1h0m-1.2 0.2h0m1.3 1.3h0m-1.4 0.1h0m1 2.4h0m1.2 0.4h0m-1.4 0.2h0m1 0.9h0m-2.1 0.3h0m-0.1 2.8h0m1.7 2.5h0m0.3 16.4h0m2.7-72.4h0m0.7 6.6h0m-1.1 1h0m-0.8 1.4h0m1.1 1.1h0m-0.3 1.4h0m0.8 0h0m-2.2 1.1h0m2.4 0.8h0m-1.6 0.9h0m2 0.3h0m-1.9 0.7h0m-0.4 0.2h0m1.9 0.9h0m-0.5 0h0m-1.6 0.3h0m2.1 0.5h0m-2.4 0.9h0m1 0.5h0m1.8 1.1h0m-2.4 0.1h0m2.3 1.4h0m0.2 0.1h0m-1.3 0.2h0m-0.7 0.2h0m1.1 0.7h0m-1.4 1.5h0m0.7 0.3h0m0.8 0.1h0m-1.5 0.2h0m0.9 1.3h0m-0.5 0.1h0m1.1 0.3h0m-0.6 0.2h0m-1.6 0.8h0m2.7 1.2h0m-2 0.1h0m-0.3 0.2h0m1.4 0.3h0m0.9 0.1h0m-2.2 0.1h0m1.5 0.3h0m-1.7 1h0m2.6 0h0m-1.4 0.1h0m-1 0.1h0m1.1 0h0m-1.3 0.3h0m0.1 0.3h0m0.8 0.6h0m1.6 0.6h0m-0.8 0.2h0m-0.9 0.9h0m0.3 1.2h0m-0.2 1h0m-1 0h0m0.3 0.1h0m2.4 1.4h0m-1.5 0.8h0m-1 0.8h0m1.2 0.4h0m-0.1 0.3h0m0.4 0.2h0m0 0.4h0m-1.5 0h0m2 1.2h0m0.4 1.5h0m-0.9 0.8h0m0.5 0.5h0m-1.5 1.6h0m1.8 0.3h0m-2.3 1.8h0m0.1 1.6h0m0.6 0.5h0m1.2 1.1h0m-1.2 1.8h0m1.2 1.1h0m-0.9 0.2h0m-0.5 2.7h0m2 0.2h0m-2.5 0.4h0m1.3 2h0m-0.5 0.2h0m4.7-58.6h0m-0.2 3.7h0m-2.5 1.4h0m1.5 1.8h0m-0.1 1.1h0m0.3 0.9h0m-1.1 0.5h0m0.6 0.7h0m-0.3 0.2h0m1.1 1.3h0m-1.8 0.1h0m1.7 1.1h0m-0.6 0.2h0m0 0.3h0m0 1.1h0m0.3 0.4h0m0 1.5h0m-1.8 0.5h0m0.2 0.3h0m2.4 0.1h0m-1.6 0.5h0m-0.8 0.1h0m0.3 1.4h0m1.7 0.1h0m-0.4 0.6h0m-1.4 0.9h0m1.5 0.8h0m-1.7 1h0m2.5 1.2h0m-1.5 0.3h0m0.3 0.5h0m0.3 0.9h0m0.6 0.7h0m0.1 0.5h0m-1.5 0.2h0m-0.7 0.5h0m1.6 1.7h0m0.9 1.1h0m-0.7 0.3h0m-0.6 1.8h0m-1 0h0m0.9 1.1h0m-1.4 0.2h0m0.1 1.2h0m0.2 0.5h0m2.3 0.4h0m-2.2 0.1h0m2.3 7h0m-2.3 3.3h0m0.9 0.4h0m1.4 6.3h0m1.9-59.3h0m-0.6 8h0m1.1 0.4h0m-0.3 0h0m0.9 3.5h0m-1.2 0.1h0m-0.5 0.3h0m-0.5 0.4h0m1.1 0.3h0m1.3 0.2h0m-2.8 0.1h0m2.9 0.4h0m-1 0.9h0m-1.1 0.2h0m0.5 0.8h0m-1 1.3h0m1.1 0h0m-1.2 1.2h0m1.3 0.5h0m-0.3 0.3h0m-0.7 0.6h0m1.8 1.1h0m-0.2 0.1h0m-1.9 0.8h0m1.9 0.1h0m-0.4 0.8h0m0.9 0.1h0m-2 0.5h0m1.4 0.8h0m-1.3 0.4h0m1.6 1.2h0m-0.2 0.3h0m-1.9 0.2h0m0.5 0.8h0m1 0.4h0m-1.6 0.1h0m1.5 0.1h0m1.1 0h0m0.1 0.3h0m-0.7 0.5h0m-1.9 0.3h0m1.5 0.4h0m-0.7 0.1h0m1.5 1.2h0m0.1 0.6h0m-1 0.3h0m-0.7 0.8h0m1 0.3h0m0 0.9h0m-1.8 0.8h0m1.6 1.4h0m0.4 0.5h0m-0.5 0.1h0m-0.9 0.2h0m1.1 0.3h0m-1 0.1h0m0.6 1.1h0m-0.1 0.3h0m1.2 0.3h0m-2 0.3h0m2.1 0.1h0m-1 0.1h0m-1.1 0.9h0m0.9 1.5h0m-1.1 0.2h0m0.6 0.2h0m0.9 2.3h0m-1.3 0.6h0m1.9 0.3h0m-2.2 0.3h0m0.8 0.8h0m1.3 0.2h0m0.4 0.2h0m-0.4 2.3h0m-0.3 9.6h0m3.7-87.5h0m-0.9 29.5h0m0.6 6h0m0.5 1h0m-1.8 0.8h0m-0.1 0.6h0m0.3 0.4h0m-0.2 1.3h0m1.1 0.4h0m-1 0.3h0m-1.2 0.4h0m2.4 0.6h0m0.3 0.5h0m-1.9 0.8h0m1.6 1.3h0m-1.2 0.2h0m-0.1 0.6h0m1.4 0.4h0m-2.3 0.7h0m2.3 0.2h0m-2.1 1h0m1.2 0.7h0m-1.5 0.4h0m2.8 1.4h0m-0.6 0.3h0m-1 0.5h0m-0.2 0.3h0m0.3 0.4h0m-0.5 0.4h0m1.9 0.7h0m-1.4 1.3h0m-0.1 1.8h0m1.5 0.5h0m-1.4 0.3h0m0.6 0.6h0m-0.4 0.6h0m0.5 0.9h0m-0.9 0.2h0m0.9 0.3h0m-0.9 1.1h0m0.3 0.2h0m-0.5 0.8h0m-0.5 0.1h0m-0.5 1.2h0m2.2 0.3h0m-2.1 0.2h0m1.7 0h0m0 4.3h0m0.4 2.4h0m-0.5 1.1h0m0.3 5.1h0m-2 0h0m0.5 2.7h0m-0.2 0.6h0m0.9 0h0m-0.8 0.2h0m-0.1 5.5h0m1.4 6.9h0m1.7-59.9h0m2.3 3.3h0m-0.6 0.1h0m0.1 2h0m0.2 0h0m-1.2 0.7h0m0.9 0.8h0m-0.9 1.6h0m0.1 0h0m-1 0.1h0m2.3 0.7h0m-2.1 1h0m0.4 0.2h0m1.1 0.6h0m0.7 0.5h0m-0.8 0.5h0m-1.3 0.1h0m0.1 0.7h0m0.8 1.1h0m-1.4 0.2h0m2.6 0.2h0m-2.5 1.1h0m0.4 0.2h0m2.3 0.6h0m-0.5 0.3h0m-2.1 0.5h0m1.8 0.1h0m-2 0.3h0m2.1 1h0m0.4 1.3h0m-2 0h0m0.1 0.7h0m2 1.2h0m-2.2 0.1h0m0.6 1.4h0m-1.2 0.1h0m1.2 0.6h0m1.8 0.4h0m-2.3 0.5h0m2.2 1.2h0m-0.6 0.1h0m-1.9 1h0m0.3 0.4h0m0.9 1h0m0.8 0.4h0m-0.4 2h0m-1 0.4h0m-0.3 1.3h0m-0.3 1.3h0m2.1 0h0m-2 1.1h0m0.2 0.4h0m-0.5 0.1h0m1.1 1.6h0m-1.1 1h0m1.4 1h0m0.7 1.4h0m-1.5 4.5h0m0.5 4.3h0m3.7-61.2h0m-0.9 12h0m0.3 0.4h0m0.9 0.4h0m0.4 0.8h0m-2 1.2h0m0.2 0.1h0m1.8 0.9h0m-2.2 0.5h0m1 1.2h0m-1.2 0.6h0m0.9 0.6h0m0.4 0.4h0m-0.5 0.2h0m0.9 0.5h0m-1.3 0.8h0m1 1.2h0m0.2 0.8h0m-0.1 1.2h0m-1.4 0.5h0m0.4 0.4h0m0.5 0.1h0m1.1 0.2h0m0.1 0.2h0m-1.7 0.2h0m-0.2 1.2h0m0.4 0.4h0m-1 0.4h0m1.9 0.6h0m-0.5 0.2h0m-0.7 0.2h0m0.9 1.8h0m-0.9 0.5h0m0.5 0.3h0m-0.6 0.9h0m1.6 1.8h0m-0.1 0.3h0m0.3 1h0m-1.4 0.8h0m-0.5 0.1h0m-0.1 1h0m1.6 0h0m-1 2.6h0m0.8 0.4h0m-0.8 0.6h0m-0.5 0.4h0m1.5 2h0m-1.2 0.9h0m-0.5 5.7h0m2.2 0.5h0m-1 2.2h0m-1.3 4.8h0m0.7 1.8h0m1.9 9.3h0m1.2-60.7h0m0.9 0.8h0m0.9 0.7h0m-2 0.6h0m1 0.5h0m-0.5 1.8h0m1.4 0.3h0m-1.7 0.4h0m0.7 0.8h0m-0.7 2.2h0m0.3 0.3h0m0 1.3h0m-1.2 0h0m2.3 1.1h0m-0.3 0.9h0m-2.1 0.2h0m2.6 0.8h0m-1.7 0.2h0m-0.3 0.4h0m0 1.3h0m1.3 0.1h0m0 0.2h0m-1 0.1h0m0 0.4h0m1.4 0.5h0m-1.5 1.5h0m0.7 0.5h0m0.1 0.4h0m-0.4 0.5h0m-1.1 0.6h0m1.1 0.5h0m-0.9 1.1h0m0 1h0m1 0.1h0m0.7 0h0m-0.3 1.4h0m-1.5 0.4h0m2.7 1.4h0m-2.9 0h0m1.7 0h0m-0.4 0.9h0m1.6 1.2h0m-2.5 0.7h0m2.2 0.4h0m-1.1 1.9h0m0 1.6h0m-0.4 0.1h0m1.6 2.2h0m-0.6 0.5h0m-0.7 1.7h0m-1.3 1.7h0m0.9 0.7h0m1 4.8h0m-0.9 7.6h0m3.9-91.3h0m-0.2 14.4h0m-0.4 21.7h0m0.3 6.5h0m1.2 0.1h0m-1.6 0.1h0m-0.9 0.1h0m0.9 0.6h0m0.2 0h0m0.7 0.3h0m-0.4 0.9h0m0.8 0.3h0m-1.1 1.1h0m-0.5 0.1h0m-1 0.3h0m0.2 1h0m2.3 0.7h0m-0.5 0.1h0m0.9 0.2h0m-0.1 0.1h0m-0.4 0h0m-0.2 0.2h0m-2.1 0h0m1.2 1.1h0m1.5 0.2h0m0.2 1.3h0m-2.5 0.1h0m1.4 1.1h0m-0.7 0.3h0m1.4 0.9h0m-1.3 0.3h0m0.5 0.3h0m-1.3 0.1h0m0.4 0.8h0m-0.4 0.3h0m0.7 0.2h0m0.1 1.7h0m-0.4 0.3h0m1.2 0h0m-1.7 0.2h0m1.7 1.1h0m0.3 0.8h0m-2.2 0.4h0m0.1 0.8h0m2 0.8h0m-1.9 1.4h0m1.3 0.5h0m-0.9 1.2h0m1 1h0m-1.6 1.9h0m0.5 2.4h0m0 2.1h0m-0.1 1.4h0m1.7 0.2h0m-2.1 4h0m0 3.8h0m1.7 3.3h0m0.8 1.5h0m-1 1.1h0m3.3-74.9h0m-0.1 1h0m-0.6 11.4h0m-0.1 4.7h0m1 3.2h0m-2 2.4h0m2.1 1.6h0m-0.1 0.1h0m0.6 2.4h0m-1.8 0.6h0m-0.4 2h0m0.4 0.2h0m-0.9 0.7h0m2.2 0h0m-0.5 1.3h0m-1.2 1.3h0m-0.4 0.2h0m2.3 0.7h0m-1.7 1.2h0m-0.3 0.6h0m1.6 0.4h0m-0.5 0.6h0m1.2 1.4h0m-2 0.9h0m0.1 0.7h0m1.7 0.2h0m0.1 0.4h0m-1.2 0.1h0m-1.4 0.2h0m1.1 1.1h0m-1.2 0.7h0m1.8 0.2h0m0.7 0.3h0m-1.8 0.6h0m2.1 0.5h0m-0.4 0.4h0m-1.8 0.9h0m0.7 0.1h0m0 0.4h0m0.4 0.5h0m0.4 0.1h0m0.5 0.5h0m-2.2 1.2h0m1.4 0.8h0m-1 1.7h0m0.7 0.8h0m0.5 3.3h0m0.3 6.6h0m-1.2 2.6h0m-0.2 6.9h0m-0.3 2.9h0m4.1-53.8h0m0.9 3.1h0m-2.1 0h0m-0.3 1.6h0m2.5 0.2h0m-0.7 1.1h0m-1.6 0.8h0m1 0.8h0m-1.2 0.3h0m1.8 1.3h0m-1.6 0.1h0m1.5 0.8h0m-1.4 0.5h0m1.4 1.8h0m0.8 0.4h0m-2.5 0.3h0m1.6 0h0m-1.4 0.7h0m0.4 0.5h0m-0.4 0.6h0m2.4 0.4h0m-1.6 0.6h0m1.3 0.5h0m-1.6 0.5h0m-0.3 1.2h0m2.2 0.3h0m-2 0.6h0m1.6 0.2h0m-1.5 0.1h0m0.3 0.4h0m1.5 0.7h0m-0.4 0h0m-2.1 0.2h0m0.8 0.2h0m1.3 0.3h0m-0.6 1.1h0m-0.3 0.9h0m-1.2 0.6h0m2.6 0.2h0m-1.3 0.3h0m-0.4 0.2h0m-0.5 0.6h0m0.2 1.6h0m1.3 1.2h0m0.7 0.6h0m-1.3 0.2h0m1.1 1.1h0m0.2 0.7h0m-0.7 8.5h0m-1.6 4.5h0m1.7 1.6h0m-1.2 2h0m-0.4 3.3h0m2.6-81.2h0m2.1 12.6h0m-0.8 11.5h0m0.4 1.3h0m0.7 1.9h0m0.1 0h0m-1.7 5.3h0m-0.9 0.3h0m1.2 1.2h0m1.3 0.2h0m-1.5 0.2h0m1.7 1.6h0m-2.4 0.2h0m-0.2 0.4h0m2.3 0.4h0m0.1 0.6h0m-2 0.2h0m-0.4 0.8h0m1.8 0.1h0m-0.2 1.9h0m-1.8 0.7h0m1.6 1.4h0m0.4 0.2h0m-0.3 0.3h0m-0.9 0.5h0m0.9 0.1h0m-0.6 1.4h0m0.3 0.8h0m1.6 0.7h0m-2.1 0.2h0m1.7 1.7h0m-1.4 0.2h0m0.9 0.2h0m-1.8 0.2h0m1.6 1.3h0m0.3 0.2h0m0.2 0.3h0m-0.6 0.7h0m-1.7 0.4h0m0.3 1h0m1.3 1.2h0m-1 1.2h0m1.4 1.4h0m3.8-41.6h0m-0.7 9.8h0m0.1 0.1h0m0.2 0.5h0m-0.3 3.4h0m-1 0.1h0m0.1 0.7h0m0.2 1.3h0m0.1 1.6h0m-1.3 0.2h0m0.4 0.5h0m-0.7 0.2h0m1.2 0.7h0m0.6 0.8h0m0.3 1.5h0m0.6 0.6h0m-1 0.4h0m0 0.9h0m-1.6 1.3h0m0.7 0.1h0m0.5 1h0m-0.5 0.6h0m1 1.3h0m-1 0.8h0m0.9 0.6h0m-1.2 0.6h0m0.6 1.4h0m1.6 0.3h0m-2.6 0.5h0m1.8 1.2h0m0.2 0.7h0m-1.1 1.3h0m-0.5 5.7h0m0 2.2h0m2 3.6h0m-0.8 2.3h0m2.6-66.2h0m-0.9 1.8h0m0.1 19.5h0m0.9 1h0m0.6 3.8h0m-1.9 0.5h0m2.4 0.9h0m-2.4 0h0m0.5 2.1h0m0.3 0.1h0m1.8 0.5h0m-1.8 0.1h0m-0.1 0.5h0m1.3 1.1h0m-1.4 0.2h0m0.6 0.7h0m-0.8 0h0m-0.3 0.6h0m2 1.3h0m-1.4 0.2h0m0.4 0.8h0m-1 0.6h0m2.6 0.1h0m-0.2 0.7h0m-0.3 0.6h0m-1.9 0.8h0m2.2 0.1h0m-2.4 0h0m1.6 1.7h0m-0.8 0.9h0m0.1 0.7h0m1 0.2h0m-1.9 0.2h0m0.8 0.3h0m-0.8 0.3h0m1.6 0h0m0.6 1.5h0m-1.4 0.6h0m-0.6 0.8h0m0.5 0.3h0m1.2 0.7h0m-2 0.8h0m2.7 0.4h0m0 0.4h0m-2.7 1.5h0m1.9 0.4h0m-0.2 3h0m-1.4 0.1h0m0 0.1h0m1 0.9h0m-0.3 0.3h0m1.6 1.4h0m-1.2 0.7h0m-0.2 0.1h0m1.3 1.8h0m-1.9 11.4h0m2.9-48.6h0m0.5 0.3h0m-0.8 2.6h0m1 0.2h0m-1.1 1h0m0.6 0.8h0m2.1 1h0m-1.4 0.2h0m-1.3 1.2h0m1.4 0h0m0.9 1.4h0m-2.2 0.2h0m0.4 0.4h0m2 0.3h0m-0.3 0.8h0m-0.3 1.4h0m-0.5 0.6h0m-1.2 1.3h0m2.5 0.3h0m-1.9 0.1h0m-0.2 0.5h0m1.9 0h0m-0.2 0.9h0m-1.6 1.2h0m2.1 0h0m-1.2 0.3h0m-0.4 0.4h0m-0.6 1.2h0m0.2 0.3h0m-0.7 1.3h0m1 0.9h0m0.5 2.6h0m-1.8 0.8h0m0.8 0.5h0m0.1 1.3h0m-0.1 1.2h0m1.1 3.6h0m-0.5 4.6h0m-0.8 1.4h0m1.1 0.5h0m0.8 2.4h0m0.1 4.7h0m0.4-52.1h0m2.8 1h0m-1 2.6h0m0.7 2.1h0m0.3 2.5h0m-2.1 1.1h0m1 1h0m-0.3 0.3h0m0.8 0.2h0m-0.5 0.4h0m-0.8 0.2h0m1.3 0.5h0m-0.3 0.5h0m-1.3 0.3h0m0.4 2h0m-0.4 0.2h0m1.7 0h0m-0.9 0.3h0m-1.4 0.1h0m2.1 0.1h0m-1.3 0.7h0m-0.5 0.9h0m1.4 0.9h0m1.2 0.1h0m-2.3 1.2h0m0.3 1.2h0m0.8 0.3h0m-1.1 0.2h0m-0.6 0.1h0m2.7 0.1h0m-2.6 0.7h0m1 0.9h0m0.3 0.6h0m0.5 1.1h0m0.9 0.8h0m-1.1 0.5h0m0.4 1.1h0m-0.9 0.1h0m-0.5 0.8h0m-0.5 0.2h0m1.4 0.4h0m-0.1 0.9h0m-0.3 3.3h0m0.9 1.1h0m-2.1 1.1h0m0.3 1.6h0m0.4 0.3h0m0 0.9h0m0.2 1.5h0m2.4-53.2h0m0.6 1.1h0m1.4 10.7h0m0.5 5.8h0m-2.1 0.4h0m1.9 1.3h0m-1.2 0.9h0m0 0.5h0m0.9 0h0m-1.7 0.3h0m2.3 0.5h0m-2.2 1.6h0m1.8 0.1h0m0.4 3h0m-1.8 1.1h0m0.2 0.4h0m1.2 0.5h0m-1.7 0.7h0m2.1 0.7h0m-1.5 0.6h0m-0.8 1h0m1.1 0.2h0m-0.4 1h0m0.5 0.8h0m-1.1 0.5h0m1.2 0.6h0m-0.3 0.1h0m-1.5 0.7h0m1.2 1.2h0m-0.3 0.2h0m0.2 0.2h0m0.7 0.2h0m-1.1 0.7h0m2 0.2h0m-0.5 0.9h0m-1.1 0.6h0m-0.2 1.4h0m0.9 0.5h0m-1.5 1.2h0m1.6 1.2h0m-1.1 0.3h0m1.6 3.4h0m-0.2 0.6h0m-1.8 4.7h0m1.9 12.3h0m3.3-52.3h0m-1.1 1.4h0m-0.6 0.1h0m-0.4 4.2h0m0.6 2h0m0.7 0.7h0m-0.3 0.7h0m-1.1 0.1h0m0.2 1.2h0m0.5 0.4h0m-1 0.2h0m2.3 0.6h0m-2 0h0m0.5 0.7h0m1.8 1.6h0m0.1 1.5h0m-0.7 0.4h0m0.6 0.5h0m-2.1 0h0m1.2 0.2h0m-0.6 0.1h0m-1.3 1.2h0m0.3 0.5h0m1.7 0.6h0m0.8 0.4h0m-0.4 1h0m-2.1 1.5h0m2.1 0.3h0m-1.4 1.3h0m-0.3 1.7h0m-0.7 0.2h0m0.7 0.5h0m0.9 3h0m-0.5 2.3h0m-0.7 16.6h0m5.5-49.7h0m-1.2 3.3h0m-0.5 1.9h0m-0.5 3h0m-0.1 2.6h0m0.4 0.9h0m-0.7 0.8h0m1.7 0.6h0m-1.9 0.4h0m0.9 1.4h0m0.3 0.9h0m-0.3 0.1h0m1.4 1.5h0m-0.4 0.4h0m-1.5 0.6h0m1.4 0h0m1.1 0.5h0m-1 2.9h0m-1.1 0h0m0.4 0.3h0m0.1 2.5h0m1.7-24.3h0m2.1 1.2h0m-2.1 1h0m0.9 0.9h0m0.6 2.7h0m-1.4 1.1h0m1.3 3.3h0m-1.4 0.3h0m0.4 1.2h0m0.8 2.5h0m-0.9 0.6h0m0.3 0h0m0.7 0.5h0m-0.9 0.6h0m0.3 0.6h0m-0.6 0.6h0m0.7 0.4h0m0.9 1.1h0m-1.4 2h0m1.7 2.1h0m-0.7 1.2h0m0 1.5h0m2.5-35.2h0m0.9 2.7h0m0.4 3.2h0m-0.1 3.3h0m0.8 0.8h0m-1.5 6.1h0m-1.1 3h0m1.1 2.9h0m-0.3 2.5h0m-1.1 5.4h0m2 4.5h0m-0.4 2.8h0m0.1 3h0m2.7-42.7h0m0.1 3.4h0m-1.2 3.7h0m2 7.6h0m-1.9 0.7h0m-0.1 3.1h0m1.8 0.6h0m-0.1 0.3h0m-1.3 0.4h0m1.4 4.5h0m-1 6.5h0m1.2 4.8h0m1.5-26.8h0m-0.1 2.2h0m1.2 3h0m-0.5 1h0m-0.2 4.5h0m-1.1 1.7h0m1.6 3.6h0m0.9 4.7h0m-1.7 2.8h0m1.5 0.4h0m1.6-12.9h0m3.4-5h0m-0.1 6.5h0m-1 7.1h0" stroke="#619CFF"/>
</g>
</g>
<path clip-path="url(#cA)" d="M51.15 200.88L223.20 42.98" stroke="#111" stroke-width="1" stroke-dasharray="0.9 2.2 3.1 2.2" fill="none"/>
<path d="M77.44 200.8v2.1M51.1 176.75h-2.1M117.53 200.8v2.1M51.1 139.96h-2.1M141.81 200.8v2.1M51.1 117.68h-2.1M190.00 200.8v2.1M51.1 73.46h-2.1" stroke="#555" stroke-width="0.65" fill="none"/>
<text class="tk" x="76.8" y="212.4" text-anchor="middle">0.01</text>
<text class="tk" x="47.9" y="180.4" text-anchor="end">0.01</text>
<text class="tk" x="117.5" y="212.4" text-anchor="middle">0.10</text>
<text class="tk" x="47.9" y="143.6" text-anchor="end">0.10</text>
<text class="tk" x="141.8" y="212.4" text-anchor="middle">0.20</text>
<text class="tk" x="47.9" y="121.3" text-anchor="end">0.20</text>
<text class="tk" x="190.0" y="212.4" text-anchor="middle">0.50</text>
<text class="tk" x="47.9" y="77.1" text-anchor="end">0.50</text>
<text class="ax" x="137.4" y="226.4" text-anchor="middle">PRS−CS</text>
<text class="ax" transform="translate(21.8 122.2) rotate(-90)" text-anchor="middle">P+T(0.001)</text>
<text class="tag" x="0.0" y="41.2">A</text>
<rect x="282.00" y="43.10" width="172.05" height="157.65" fill="#EBEBEB"/>
<clipPath id="cB"><rect x="282.00" y="43.10" width="172.05" height="157.65"/></clipPath>
<g clip-path="url(#cB)">
<path d="M288.25 43.1V200.8M282.0 195.15H454.1M328.33 43.1V200.8M282.0 158.36H454.1M360.52 43.1V200.8M282.0 128.82H454.1M396.76 43.1V200.8M282.0 95.57H454.1M440.89 43.1V200.8M282.0 55.06H454.1" stroke="#fff" stroke-width="0.45" fill="none"/>
<path d="M308.29 43.1V200.8M282.0 176.75H454.1M348.38 43.1V200.8M282.0 139.96H454.1M372.66 43.1V200.8M282.0 117.68H454.1M420.85 43.1V200.8M282.0 73.46H454.1" stroke="#fff" stroke-width="0.85" fill="none"/>
<g fill="none" stroke-linecap="round" stroke-width="2.56">
<path d="M292.5 144.6h0m-2.2 27h0m0.9 0.1h0m0.2 0.1h0m-1.6 0.7h0m0 0.7h0m0.5 0.2h0m0.7 0.1h0m0.2 0.1h0m-0.3 0.4h0m1.5 0.4h0m-0.4 0.2h0m-1.8 0.1h0m0.7 0.9h0m-0.8 0.1h0m-0.3 0.2h0m0.2 0.4h0m0.7 0.3h0m1.5 0.1h0m-0.6 0.1h0m3.8-34.1h0m-2.7 8.5h0m1.5 1.7h0m-0.5 3.6h0m1.5 3.3h0m-0.1 9.1h0m-0.9 0.3h0m0.7 0.6h0m0.3 0.2h0m-0.9 1h0m-0.5 0h0m1.6 0.4h0m-2.4 0.5h0m0.9 0.4h0m0.7 0.4h0m-1.3 0.9h0m0.6 1h0m0.6 0.4h0m-1.8 0.4h0m1.8 0.1h0m-0.6 0.7h0m0.2 0h0m0.3 0.3h0m0.8 0.1h0m-2 0.1h0m2.5-25.2h0m2.3 16.5h0m-1.4 0.1h0m-0.1 0.3h0m-0.6 0h0m1.8 1.6h0m0.2 0.8h0m-1.4 0h0m-0.5 0.7h0m1.6 0.2h0m0.1 0.2h0m-0.4 1.4h0m0.3 0.3h0m-1.3 0h0m1.4 0.4h0m-0.3 0.2h0m0.9 0.7h0m0.1 0.2h0m-2.3 0.3h0m2.4 0.4h0m-0.9 0.6h0m0.4 0h0m0.5-55.9h0m1.2 18h0m0.6 19.2h0m0.6 0.6h0m-0.2 7.3h0m-0.5 0.4h0m0.1 0h0m1.1 0h0m-2 1.2h0m1.4 0h0m-1.7 0.2h0m0.6 0.6h0m1.1 0.4h0m-2 0.3h0m0.8 0.9h0m1.6 0.1h0m-0.5 0.9h0m-0.1 0h0m-1.4 1.4h0m0.8 0.3h0m0.7 0.1h0m0.3 1.1h0m0 0.6h0m0.3 0.5h0m-2.3 0.4h0m1 0.6h0m1.2 0.4h0m-1.8 0.1h0m-0.6 0.1h0m2.1 0.5h0m1.8-113.9h0m1.3 62.8h0m0.1 13.5h0m0 6.6h0m-1.2 4.1h0m-0.1 1.1h0m-0.8 1.2h0m-0.1 6.7h0m-0.1 0.6h0m0.7 1.3h0m1.6 1.9h0m0 0.6h0m-1 0.4h0m-0.2 0.1h0m-0.7 0.8h0m1.1 0.1h0m-1.5 1h0m1.8 0.2h0m0.3 1.2h0m-0.2 1.1h0m-1.8 0.2h0m0.1 0.2h0m0.3 1.3h0m2.2 0.3h0m-2.2 0.7h0m2.2 0.5h0m-0.7 0.1h0m-1.6 0.5h0m0.5 0h0m-0.5 0.5h0m0.4 0.1h0m0.8 0.8h0m-1.4 0.5h0m1.2 0.8h0m0 0.3h0m0.7 1.1h0m-0.8 0.3h0m3.6-53.7h0m-1.9 6.9h0m0.5 6.6h0m0.9 12.4h0m1.2 6.2h0m-0.7 1.4h0m-1.7 1h0m-0.1 1.4h0m1.5 0.2h0m0.6 3.1h0m-2.1 0.3h0m-0.2 0.2h0m1.3 0.8h0m0.3 1.2h0m0.7 0.1h0m-2.3 1.5h0m0.2 0.1h0m0.4 0.4h0m-0.2 0.1h0m1.4 1.5h0m0.7 0.1h0m-1.9 0.3h0m1.2 1.9h0m-0.7 0.8h0m1.6 0.2h0m-0.9 0.2h0m-1.8 0.9h0m1 0.5h0m-0.2 1.1h0m1.7 0.1h0m-1.2 0.1h0m-1.4 1.6h0m1.3 0h0m-1 0.3h0m-0.2 0.1h0m2 0.1h0m-2.1 0h0m2.9 0.1h0m-1.5 0h0m0.1 0.1h0m2.2-34.2h0m-0.6 27.2h0" stroke="#00BA38"/>
<path d="M309.7 177.3h0m-1.2 0.3h0m-0.2 0.1h0m0.4 1.1h0m1.8 0.5h0m-1.2 0.1h0m-0.8 0.7h0m0.6 0.8h0m-0.4 0.1h0m1.3 0.5h0m-1.3 0.1h0m0.9 0.6h0m-1.2 0.2h0m0.3 1.1h0m0.9 0.1h0m0.7 0.6h0m-1.5 0.3h0m1.5 0.3h0m-1.9 0.1h0m0.2 0h0m-0.2 1h0m-0.1 0.6h0m1.8 0.4h0m-1.4 0.2h0m-0.1 0.3h0m-0.1 0h0m1 0.4h0m0 0.5h0m-1 0h0m0.1 1.2h0m0.8 0.6h0m-0.9 0.7h0m1.1 0.2h0m0.8 0.6h0m-2 0.7h0m0.2 0.3h0m0.4 0.5h0m1.1 0.4h0m-0.7 0h0m1.1-16.1h0m1.3 1.3h0m0.9 0.9h0m-1.6 0.1h0m0.6 0.1h0m1.5 0.7h0m-2.1 0.3h0m0.4 0.5h0m1.8 0.2h0m-1 0h0m0.5 0.2h0m-1.7 1.4h0m0.9 0.6h0m0.3 0.7h0m-0.7 0.2h0m0.1 0.4h0m-0.7 0.9h0m1.9 0.1h0m-1.5 1.3h0m0.3 1h0m-0.3 0.6h0m0.4 0.2h0m0 1h0m-0.3 0.1h0m1.9 1.2h0m-0.4 0.5h0m-1.7 0.6h0m1.8 0.4h0m-1.2 0h0m-0.9 0.1h0m2.7-14.7h0m1.9 0.7h0m0.5 0.1h0m-1.5 0.2h0m0.7 0.9h0m0.6 0.9h0m-0.8 0.8h0m0.7 1.1h0m-1.1 0.3h0m-0.5 0.1h0m-0.7 0.4h0m0.8 0.1h0m0.8 0.4h0m0.8 0.9h0m-2 1.1h0m2.4 0.2h0m-2.7 0.1h0m1 0.6h0m-0.5 0.9h0m0.8 0.4h0m1.1 0.8h0m-2 0.4h0m0.8 1.2h0m1.6 0.6h0m-1.6 0.4h0m1 0.7h0m0.5 0.4h0m-1.2 0.1h0m0.6 0h0m-1.9 0.1h0m0 0.1h0m2.8-16.1h0m2.2 0.1h0m-1.9 1h0m2.3 1.3h0m-0.8 0h0m-1 0.8h0m0.6 0.1h0m1.4 0.2h0m-1.8 0.5h0m1.2 0h0m-0.8 0.4h0m1.4 0.5h0m-0.5 1.1h0m0.5 0.4h0m-2.3 0.1h0m-0.2 0.2h0m0.7 0.5h0m1.8 0.8h0m-1.1 1.1h0m0.4 0.4h0m-1.9 0.7h0m2.2 0.7h0m-1.2 1.1h0m1.3 1.1h0m-1.6 0.6h0m0.2 0.3h0m1 0.1h0m-0.7 0.4h0m0.5 0.4h0m-1 0.8h0m-0.6 0.1h0m0.3 0.2h0m2.1 0.3h0m-0.9 0.2h0m2.9-16h0m0.5 0.5h0m-0.4 0.6h0m-1.4 0.6h0m2.1 0.1h0m-1.6 1.2h0m1 0.1h0m-0.5 0.8h0m1.5 0.9h0m-0.3 0h0m-0.4 0.1h0m-0.7 1h0m0 0.4h0m-1 1.7h0m0.8 0.4h0m1.4 0.3h0m-1.5 1.1h0m-0.9 0.1h0m1.8 0.9h0m-0.3 0.2h0m-0.2 0.2h0m0.2 0.3h0m0.6 1.3h0m0.3 0.2h0m-2.2 0.3h0m1.4 0.2h0m-1.6 1.3h0m2.3 0.1h0m-1 0.5h0m2.1-14.7h0m1.3 0h0m-1.1 1.2h0m0.6 0.6h0m0.3 1.1h0m-1.4 0.2h0m1.7 0.6h0m0.6 1.3h0m-0.9 0.3h0m-1.6 0.1h0m0 0h0m0.4 1h0m1.6 0.1h0m-0.5 1.3h0m1.1 1h0m-2.8 0h0m2.5 0.2h0m0.2 1.1h0m-1.3 0h0m-0.5 0.5h0m-0.1 0.1h0m0.5 0.3h0m1 0.8h0m-1.1 0.1h0m0.5 0.2h0m-0.2 0.6h0m1 0.6h0m-0.6 0.1h0m-0.3 0.1h0m0.7 0h0m-0.8 0.1h0m0.2 1.2h0m-0.3 0.1h0m-1.4 0.3h0m3.7-15.2h0m0.9 1.2h0m-1.1 0.2h0m0 0.4h0m2.2 0.1h0m-0.5 1.2h0m-2.2 0.2h0m0.9 0.5h0m0 1.3h0m-0.2 1h0m1.5 1h0m-1.2 0.1h0m0.7 0.1h0m-0.7 0.1h0m0.6 0.5h0m-0.5 0.4h0m1.5 0.5h0m0.1 0.2h0m-0.7 1.4h0m-1.7 2.1h0m1.1 0.4h0m4.4-14.5h0m-2 0.1h0m-0.5 1h0m0.8 0.8h0m0.1 0.5h0m0 0.6h0m0.4 0h0m0.2 0.7h0m-0.8 0.4h0m0.9 0h0m-1 0.2h0m0.9 2.2h0m0.4 0.5h0m0.2 2.2h0m-0.8 0.3h0m-0.1 0.4h0m-0.3 0.2h0m-0.6 0.2h0m2.8-7.7h0m0.1 1.6h0m-0.6 1.4h0m1.1 0.3h0m1.4 0.6h0m-0.3 1.2h0m0.8 0.6h0m-1.5 0.9h0m-1.5 0.2h0m0.4 4.8h0m4.5-12.2h0m-0.8 1.5h0m0.3 0h0m-0.4 0.7h0m1.4 5.5h0m0.2 0.6h0m-0.9 1.5h0m2.5-11h0m1.3 7.8h0m2.1-7.9h0m0.2 4.6h0m-1.4 3h0m0 0.2h0m0.9 0.4h0m-0.4 3.3h0m-0.1 0.7h0m3.2-12.2h0m1.5 2.2h0m-2.4 5.4h0m6.6 1.6h0m18.9-4h0" stroke="#F8766D"/>
<path d="M308.6 129h0m1.3 19.4h0m-0.6 0.4h0m-0.3 3.8h0m0.5 0.3h0m-0.9 0.8h0m1.7 5.4h0m-1.8 0.3h0m0 0.2h0m1.1 0.7h0m-1.1 0.1h0m0.6 0.1h0m0.1 1.7h0m1.2 0.4h0m-1.1 1.2h0m1.1 0.6h0m-0.8 0.6h0m0.1 1.2h0m0.5 0.8h0m-1.5 0.1h0m-0.4 0.2h0m1.1 0.4h0m-0.2 0.4h0m-0.7 0.4h0m1.8 0.2h0m-0.2 0.1h0m-1.7 0.1h0m0.3 0.1h0m1.5 1.5h0m-1.4 0.5h0m1.6 0.1h0m-2.1 0.3h0m0.6 0.1h0m-0.4 0h0m0.1 0.9h0m0.7 0.1h0m0.7 0.3h0m-0.9 0.3h0m1.3 0h0m-1.4 0.4h0m-0.5 0h0m0 0.5h0m0.3 0.8h0m-0.3 0.8h0m0.4 0.2h0m0.9 0.2h0m0.2 0.1h0m-0.6 0.2h0m-0.9 0.1h0m0.1 0.1h0m1.6 0.1h0m-0.6 0.1h0m0.1 0h0m1.1-59.6h0m1.4 20.4h0m0.4 9.3h0m0.7 2.4h0m-2.3 2.3h0m2.3 0.8h0m-0.5 0.8h0m-1.4 0.9h0m1.6 0.4h0m-1.3 1.1h0m-0.6 0.4h0m1.9 1.5h0m-0.9 1.1h0m-1.2 0.3h0m2 0.8h0m-1.4 0.3h0m1.9 0.3h0m-0.9 0.1h0m-1.3 1.6h0m1 0.5h0m0.3 0.3h0m-1 0.4h0m1.8 0.6h0m-2.4 0.5h0m1.7 0.4h0m-0.3 0.7h0m0.9 0.1h0m-1.5 0.1h0m0.4 0.5h0m-1 1.3h0m0.2 0.3h0m1.9 1h0m-2.3 0.6h0m1.8 0.3h0m-0.3 0.7h0m1.1 0.4h0m-0.6 1.3h0m-0.7 0.3h0m0.2 0.1h0m-1.2 0.4h0m1.8 0.2h0m-1.2 1.3h0m-0.5 0.7h0m-0.7 0.2h0m2.3 0.2h0m-2.2 0.6h0m0.4 0h0m-0.1 0.4h0m2.4 0h0m-0.6 0.1h0m0.5 0.1h0m-2.2 0.1h0m1.4 0.1h0m1.5-67.3h0m-0.2 24.5h0m2.7 3.3h0m-2.5 10.7h0m1.9 1.1h0m0 0h0m-1.5 2.5h0m-0.2 0.4h0m0.1 1.8h0m1.4 0h0m0.1 0.6h0m-1.9 1.2h0m1.1 0.1h0m1.2 0.8h0m-1.6 0.5h0m0.2 0.2h0m-1.1 0h0m-0.2 0.6h0m2.6 1.5h0m-0.7 0.2h0m-0.6 0.5h0m0 0.3h0m1.6 0.6h0m-1.2 1.5h0m0 0.1h0m-1.4 0.4h0m2 0.2h0m-0.8 0.1h0m0.1 0.3h0m-1.1 0.6h0m1.3 0.4h0m0.9 0.3h0m-2.2 0.2h0m1.3 1.5h0m-0.2 0.5h0m0.6 0.6h0m-2 0.3h0m0.6 0.5h0m0.6 1.2h0m-0.4 0.8h0m2 0.5h0m0 0.4h0m-1.3 1.1h0m1 0h0m-1.2 0.8h0m-0.7 0.6h0m1 0.8h0m-0.7 0.1h0m1.3 1h0m0.2 0.7h0m-2.4 0.2h0m1.8 0h0m-0.1 0.1h0m-0.5 0h0m-1 0.1h0m0.7 0h0m3.8-44.1h0m0.4 9.9h0m0.5 4.3h0m-1.3 0.8h0m1.3 0.6h0m-0.6 0.8h0m-1.4 0.4h0m1.5 1.2h0m0 2.9h0m-1.5 0.3h0m0.6 0h0m1.4 0.3h0m-0.6 1.3h0m-0.4 1.5h0m-0.5 0.6h0m0.2 0.5h0m0.4 0.7h0m-0.7 0.2h0m-0.3 0.9h0m1.2 1.4h0m-2 0.5h0m0.9 0h0m0.5 1.2h0m0.2 0.3h0m1.1 0.9h0m-0.5 0.4h0m-0.4 0.8h0m-1.3 0.7h0m-0.2 0h0m1.3 1h0m-1.1 0.1h0m2.2 0.6h0m-2.7 0.2h0m1.5 0.5h0m-0.6 0.3h0m0.2 1.6h0m0.3 0.2h0m-1.4 0h0m2 1.7h0m-2 0.9h0m0.7 1.3h0m1.4 0.1h0m-0.3 0.7h0m-0.3 0.1h0m1.2 0.5h0m-0.3 0h0m-2.3 0.1h0m0.1 0.1h0m1.9 0.1h0m0.2 0h0m-1.8 0.2h0m-0.6 0.3h0m1.1 0h0m0.2 0.1h0m-0.8 0h0m4.3-51.1h0m0.3 4.2h0m-0.7 6.1h0m-0.7 5.8h0m1.7 0.9h0m-2.2 0.2h0m1.7 0.5h0m-1.4 0.2h0m2.3 1.7h0m-2 2.5h0m0.4 0.4h0m0.4 0.3h0m-0.3 1.1h0m0.5 0.4h0m0.9 0.3h0m0.1 0.3h0m-1.9 0.8h0m0.1 0.8h0m1.9 0.9h0m-2.2 0.3h0m0.4 0.4h0m1.7 0.1h0m-2.5 1.1h0m1.3 0.4h0m1.3 0.1h0m-2.5 0.6h0m0.1 0.5h0m0.9 0.8h0m0.7 0h0m-1 0.3h0m0.6 0h0m0.4 1.4h0m-1.2 0.2h0m2.1 0.1h0m-1.5 1.1h0m-1.1 0h0m0 1.5h0m1.4 0.1h0m0.6 0.6h0m-1.9 0.6h0m1.1 1.3h0m0.4 0.7h0m-1.2 0.3h0m2.2 0.1h0m-2.3 0h0m2.1 0.2h0m-0.1 0.2h0m-2.5 0.5h0m1.1 0.3h0m1 1.5h0m-0.5 0.1h0m0.2 0.1h0m-1.4 0.4h0m1.7 0.2h0m-2.2 1.2h0m1.2 0.6h0m-0.3 1.1h0m1.9 0.7h0m-2.1 0.4h0m0.7 0.4h0m0.3 0.2h0m-0.2 0.6h0m-1.4 0.7h0m1.7 1.3h0m-1.8 0.1h0m0.6 0.3h0m0.2 0h0m-0.4 0h0m3.6-61.2h0m1.1 23.3h0m-0.8 1.9h0m1.4 4.3h0m0.2 4.6h0m-0.1 0.4h0m-0.6 0.4h0m0.4 0.1h0m0.1 0h0m-0.5 0.2h0m-1.5 0.7h0m1.6 1.1h0m-2.2 0.3h0m0.4 0.3h0m0.3 1.2h0m1.5 1.7h0m-1.5 0.5h0m-0.3 0.6h0m-0.1 0.6h0m1.8 0.4h0m-0.7 0.2h0m-1.2 1.3h0m0.7 1h0m-0.3 0h0m-0.8 0.7h0m1.6 0.5h0m0.5 0.5h0m-1.3 0.5h0m0.6 0.7h0m-0.7 0.5h0m-0.4 0.3h0m0.4 0.6h0m-0.4 0h0m2.5 0.7h0m-1.2 0h0m-0.9 0.8h0m2.2 0.7h0m-1.4 0.1h0m0.4 0.2h0m-0.7 1.5h0m1.4 0.4h0m-1.8 1.5h0m2.2 0.1h0m-1.8 0.5h0m-0.4 0.4h0m-0.3 0h0m0.8 0.1h0m1.1 0.9h0m-0.3 1.4h0m-0.4 0.2h0m-0.5 0.2h0m-1 0.9h0m2.4 0.5h0m-0.7 0.1h0m-1.1 0.2h0m0.7 0h0m2.3-59.9h0m1.8 11h0m0 9.8h0m-1.7 1.6h0m0.5 1.7h0m0.3 0.4h0m-0.1 0.6h0m0.1 0.5h0m-1.6 1.3h0m1.5 0.8h0m0.9 1h0m-1.7 1.7h0m1.2 0.1h0m-0.8 0h0m1.6 0.6h0m-2.7 0.8h0m1 0.2h0m-0.4 0.7h0m-0.4 0.6h0m1 0.5h0m-0.3 0.4h0m1.1 0.3h0m-0.3 0.4h0m-0.3 0.1h0m-0.7 0.2h0m2 0.8h0m-1.9 0.4h0m1.3 0.4h0m0.5 0.6h0m-0.8 0h0m-1.8 0.3h0m1.9 0.3h0m-1 1.3h0m1.5 1.2h0m-2.1 0.8h0m1.5 0.2h0m-0.7 1.4h0m-0.9 0.2h0m2.4 0.6h0m-2.4 0.9h0m1.5 0.2h0m-1.2 0.4h0m1.8 0.5h0m0.3 0.2h0m-0.9 0.1h0m0.1 1.1h0m-1.7 0.3h0m0.7 0.9h0m-0.1 1.7h0m1.5 0.1h0m-2.1 0.8h0m1.3 1.4h0m-0.1 0.2h0m0.6 1.2h0m-1.2 0.6h0m0 0.8h0m1.8 0.2h0m-2.5 0.2h0m1.4 2h0m-1.4 0.7h0m2.4 0.9h0m-2.1 0.5h0m0.8 0.2h0m0.7 0.2h0m1.5-45.7h0m0.4 1h0m2 4.1h0m-0.8 0.4h0m0.2 2.3h0m0 0.1h0m0 0.2h0m-1.2 4.7h0m-0.3 1.8h0m-0.3 0.1h0m1.9 0.1h0m-0.1 0.3h0m-0.7 0.8h0m0.7 1.6h0m-1.6 0.5h0m1.2 0.2h0m-0.9 0.7h0m-0.2 0.1h0m1.7 0.9h0m-1.9 0.2h0m1.9 0.7h0m-1.1 0.5h0m1.4 1h0m-0.8 0.2h0m-1.5 0.8h0m0.7 0.9h0m-0.3 0h0m1.5 2h0m-2.2 0.1h0m0.4 0.1h0m0 0.2h0m0.1 1.5h0m2.1 0.3h0m-1.1 0.3h0m-0.4 0.6h0m0.8 0.3h0m-0.7 0.4h0m-0.5 0.2h0m0.5 0.6h0m0.3 0.2h0m-1.1 0.2h0m0.7 0.1h0m1.2 0.3h0m-0.5 1.1h0m-1.3 0.9h0m0.8 0h0m-0.5 0.1h0m-0.9 0.9h0m2.4 0.8h0m-0.9 0.2h0m-1 0.5h0m1.5 0.6h0m-0.9 0.8h0m-0.2 0h0m1.7 0.1h0m-2.1 0.2h0m2.1 0.1h0m-2.2 1.1h0m1.5 0.4h0m1.1 0.4h0m-2.9 0.4h0m1.3 1.1h0m0.6 0.5h0m1 0.1h0m-1.4 0.6h0m-1.4 0.5h0m1.2 0.3h0m1.4 0.4h0m-1.4 1h0m-1.2 0.6h0m2.1 0.3h0m2.3-48h0m-1.5 5.2h0m0 1h0m2.8 0.3h0m-1.7 1.7h0m1.3 0.7h0m-2 0.2h0m1.7 0.2h0m-2.1 0.6h0m2.6 1h0m-0.1 0.6h0m-2.1 0.5h0m-0.1 0.4h0m1 0h0m-0.2 0.3h0m0.5 0.1h0m1.2 2.2h0m-2.3 0.3h0m1.5 0.6h0m-0.4 0.7h0m0.4 0.1h0m-1.6 1.6h0m2.1 0.9h0m-0.8 0h0m1.2 1.2h0m-1.7 0.1h0m-1 0.8h0m2 0.1h0m-0.6 1.5h0m1.2 0.4h0m-0.5 0.9h0m-0.4 0.6h0m-1.1 0.3h0m1.4 0.3h0m0.6 0.1h0m-0.8 1h0m-1.4 0h0m2.2 0.1h0m-0.2 1h0m-2.6 0h0m0.1 0.9h0m0.3 0.5h0m1.8 0.1h0m-1.9 0.7h0m0.3 0.1h0m1.9 0.2h0m-1.9 0.3h0m-0.7 1.4h0m1.6 0.4h0m-0.7 1.1h0m-0.6 0.4h0m-0.1 0.3h0m2.5 0.4h0m0 0.7h0m-1.8 0.8h0m0.7 0.9h0m-1.2 0.4h0m0.8 0.2h0m-0.5 1.3h0m2.1 0h0m0.2 0.4h0m-1.5 0.5h0m0.6 0.7h0m-0.5 0h0m1 0.2h0m-0.6 0.5h0m0.5 0h0m-1.1 1.4h0m1.4 0.3h0m-2.1 0.6h0m0.8 0.1h0m1.1 0.8h0m-1.8 0.8h0m1.4 0.7h0m-2.1 0.2h0m0.7 0.1h0m0.7 0.2h0m1 0.6h0m-0.6 0h0m-0.7 0.6h0m1.4 0.8h0m2.2-53h0m-0.6 0.9h0m-0.9 2.6h0m0.2 9h0m0.7 1.9h0m0.3 1.7h0m0 0.9h0m-1 0.1h0m1.5 0.7h0m-0.9 0.4h0m0.9 0.3h0m0.1 0.3h0m-1 0.8h0m1.6 0.1h0m-1.3 0.3h0m0.6 0h0m-1.6 0.9h0m0.4 1.1h0m1.5 0.2h0m-0.1 0.2h0m-0.3 0.1h0m0 0.9h0m-1.2 0.2h0m-0.3 0.7h0m0.9 0.8h0m1.3 0.3h0m-0.2 0.8h0m-0.2 0.6h0m-1.8 0.7h0m0 0.3h0m-0.2 0.5h0m1.4 0.5h0m-1 0.4h0m0.3 0.5h0m0 0.6h0m1 0.4h0m0.7 0.8h0m-1.5 0.2h0m0.4 0h0m-1.4 0.8h0m2.3 0.7h0m-0.1 0.8h0m-1.3 0.1h0m1.2 0.1h0m0.5 0.6h0m-1 0.3h0m0.8 0.3h0m-1.4 0.5h0m1.4 0.1h0m-1.6 0.3h0m1.6 1.1h0m-1.7 0.1h0m-0.7 0.9h0m1 0.7h0m1.8 0.3h0m-2.1 0h0m1.6 0.2h0m-0.1 0.5h0m-1.6 1.1h0m2.1 0.6h0m-0.8 0.1h0m0.5 0.2h0m-0.5 1.2h0m0 0.5h0m-1.3 0.4h0m1.8 0.1h0m-0.2 0.8h0m0.6 0.5h0m-1.7 0.7h0m1.6 0.4h0m-0.7 0.6h0m0.3 0.1h0m-1.4 1.2h0m1.9 1.1h0m-1.1 0.2h0m-1.4 0.3h0m2.3 1.1h0m0.2 0.2h0m-2.4 0.8h0m2.1 0.4h0m-1.3 0.2h0m3-68.8h0m-0.2 14.4h0m-1 6.1h0m2.8 2h0m-0.3 1.8h0m-1.8 0.2h0m0.5 2.3h0m-0.7 0.4h0m2.4 0.7h0m-2.3 1.2h0m2 0.5h0m-2.4 0.8h0m1.3 0.9h0m0.3 0.5h0m0.3 0.2h0m-1.7 0h0m2 0.3h0m-1.7 1h0m0.3 0h0m1.8 0.4h0m-1.9 0.7h0m1.5 0.5h0m0.4 0.6h0m0 1.1h0m-2.2 0.2h0m0.4 0.2h0m-0.1 0.3h0m1.9 1.1h0m-0.6 0h0m0.2 0.1h0m-0.5 0.1h0m-1.8 0.3h0m1.5 0.7h0m-0.4 0.3h0m1.2 0h0m-1 1.3h0m1.3 1.4h0m-1.8 0.2h0m0.8 0.1h0m-0.6 0.7h0m-1.2 0.7h0m2.9 0.5h0m-1.8 0.4h0m-0.9 1.3h0m1.9 0.1h0m0.6 0.1h0m-2.2 1.1h0m-0.1 0.2h0m1.7 0.7h0m-1.2 0.2h0m-0.5 1h0m2.1 0.8h0m0.3 0.6h0m-1.8 0.2h0m0.9 0.3h0m0.5 0h0m-2.4 1h0m2.3 0.8h0m-1.7 0.4h0m0.4 0.7h0m-0.3 0.3h0m2.2 0.2h0m-1.6 1.1h0m0.9 0.8h0m-0.2 2h0m-0.1 0.3h0m0.3 0.2h0m-2 0.3h0m0.6 0.4h0m-0.3 0.1h0m2.3 0.9h0m-0.4 1.6h0m-1.1 0.3h0m0.5 0.4h0m-0.7 0.7h0m1.6 1.2h0m-0.5 0.7h0m-0.3 0.6h0m1.1 0.5h0m-2.4 1.4h0m2.8-54.9h0m0.9 3h0m0.1 0.2h0m0.6 1.1h0m0.4 3.4h0m-0.6 1h0m-0.6 2.2h0m-0.9 0.1h0m1.6 0.3h0m0.8 0.1h0m-0.1 1.3h0m-1.4 0.6h0m-0.5 1h0m0.6 1h0m0.3 0h0m1.3 1h0m-2 0.7h0m1.9 0.4h0m-2.4 0.4h0m-0.2 0.3h0m1.9 0.5h0m0.4 0h0m-1.8 0.2h0m1.9 0h0m-1.3 0.3h0m0.9 0.9h0m-0.3 0.2h0m0.3 0.1h0m-0.6 0.2h0m-0.7 0.8h0m-0.8 0.6h0m1.9 0.9h0m-0.6 1.6h0m0.2 0.2h0m1.2 0.7h0m-2.3 0.5h0m1.8 0.2h0m-1.6 1.6h0m0.8 0.1h0m-1 0.4h0m1.9 1.1h0m-0.5 0.9h0m-0.5 2.1h0m1.3 0.4h0m-1.1 1h0m-1.2 0h0m0.4 0.3h0m-0.5 0.4h0m0.6 0h0m0.4 1.8h0m1.6 0.1h0m-1.9 0.3h0m-1 0.8h0m1.4 0h0m-0.8 1.9h0m-0.2 0.1h0m1.7 1h0m0 0.7h0m0.4 0.2h0m-0.5 0h0m-1.3 0.1h0m1.4 0.7h0m-2 1.4h0m2 0.3h0m-0.7 0.5h0m-0.7 0.1h0m-0.1 0.4h0m2 2.6h0m-0.6 3.3h0m-1 0.5h0m-0.1 0.3h0m0.3 0.5h0m0.4 1.9h0m-0.9 0.5h0m1.2 0.8h0m1.6-50.6h0m2 2.9h0m-0.4 0.8h0m-0.1 0.3h0m0.2 1h0m0.8 1.4h0m-0.8 1.1h0m-1.3 1.1h0m-0.7 1h0m1.5 0.7h0m-0.6 0.8h0m1.2 0.1h0m-2.1 0.4h0m1.4 1h0m0.6 1.4h0m-0.6 0.1h0m0.4 0.6h0m0.3 0.8h0m-1.6 0.5h0m1.2 0.5h0m-1.1 0.2h0m2 1.2h0m-0.2 0h0m-2.3 0.1h0m2.3 0.2h0m-0.5 0.9h0m-1.4 0.7h0m-0.4 0.7h0m1.7 0.6h0m-1.3 0.9h0m1.1 0.5h0m-0.1 0.1h0m-1 1.2h0m0.1 1.1h0m1 1.3h0m-1.6 0h0m0.6 0.2h0m0.9 1.6h0m-0.9 2.1h0m1.6 0.5h0m-2.3 0.3h0m0.1 0.9h0m0 0.2h0m2.8 0.1h0m-2.3 0h0m2.2 0.2h0m-0.7 1h0m-0.4 0.7h0m-0.7 0.2h0m-1.1 0h0m0.8 1.6h0m0.6 0.8h0m-1.2 0.5h0m2.1 0.3h0m-1.2 0.8h0m-0.8 0.6h0m0.5 0.8h0m2 0h0m-2.8 0.8h0m2.9 0h0m-2.4 0.5h0m1.5 0.8h0m1 0.5h0m-0.6 2.1h0m-2 1.4h0m0.7 1.9h0m0.1 1.1h0m1.6 0.3h0m-2.1 0.3h0m3.7-62.8h0m-0.1 7.5h0m1.3 2.7h0m-2.5 0.4h0m2.8 0.9h0m-2 3.6h0m2 2h0m-2.2 0.2h0m1.7 1.4h0m-1.3 0.8h0m0.8 0.6h0m0.5 0.4h0m-1.1 0.2h0m-0.3 0.8h0m-0.6 0.2h0m-0.1 0h0m2.5 0.3h0m-2.3 1h0m0.2 0.2h0m1.7 0.2h0m-0.8 0.9h0m-1.2 0.3h0m1.7 0.4h0m-1.7 0.2h0m-0.1 0h0m-0.1 0.3h0m-0.2 0.1h0m2 0h0m0 0.5h0m-0.8 1h0m0.4 0.8h0m1 0.2h0m-1.3 0.8h0m0.3 0h0m1.1 0.8h0m-1 0.1h0m0.4 0.7h0m-1.4 0.1h0m0.7 1h0m1.4 0.7h0m-0.2 0.1h0m-2.2 0.4h0m0.6 1.1h0m1.4 0.1h0m0.2 0.1h0m-0.8 1.1h0m-0.4 0.2h0m-0.6 0.2h0m0.6 0.2h0m-0.2 0h0m-0.1 0.1h0m0.2 0.2h0m0.2 0.2h0m0.3 1.2h0m0.8 0.1h0m-2.6 0.1h0m0.6 1h0m-0.1 0.5h0m2.1 0.3h0m-2.1 0.3h0m2.4 1h0m-0.3 0.1h0m-1.6 0.4h0m0.5 0.9h0m-1.1 0h0m2.2 0.6h0m-1.6 0.8h0m0.7 0.8h0m0.7 0.8h0m-0.1 1.7h0m-0.7 0.3h0m-1.3 0.2h0m1.6 0.3h0m0.9 0.2h0m-2.8 1.3h0m1.8 0.6h0m0.6 0.3h0m-1.6 0.1h0m2 0.1h0m-0.5 0.3h0m-0.7 3.6h0m-1.5 1.4h0m2.9 0.4h0m-0.2 0.2h0m-0.3 0.3h0m-1.1 0.5h0m0.4 0.2h0m-1.5 2h0m2 1.7h0m-0.2 1.4h0m-0.5 0.3h0m0.7 1.1h0m2.7-61h0m0 7h0m0.8 0.8h0m-0.8 0.5h0m0.4 1.1h0m-1.2 1.7h0m-0.8 1h0m2.4 0.1h0m-2.7 0.7h0m2.2 0.8h0m0 2h0m-1.5 0.1h0m1.3 1.1h0m-1.5 0.8h0m1.3 1h0m-1.7 0.9h0m1.8 0h0m0.4 1.5h0m-2 0.1h0m0.2 0.8h0m-0.3 0.1h0m2.7 0.7h0m-0.7 0h0m-0.8 0.1h0m-0.4 0h0m0 0h0m-0.7 0.2h0m1.9 1.1h0m-1.4 0.1h0m1.6 0.6h0m-0.6 0.1h0m0.3 1.8h0m-2.1 0.3h0m0.7 0.2h0m-0.6 0.5h0m1.8 0.1h0m0.4 1.4h0m-2.2 0.6h0m1.8 1.2h0m-0.4 0.2h0m-0.3 0.3h0m-1.2 0.3h0m0.7 0.1h0m0.8 0.9h0m0.4 0h0m-1.2 0.2h0m0.8 0.1h0m0.7 1.5h0m-1.6 0.2h0m1.5 0h0m-2 0.7h0m-0.2 0.3h0m0.5 0.5h0m0.3 0.3h0m0.5 0h0m-1.2 0.2h0m-0.1 0.7h0m2.6 0.5h0m-0.5 0.8h0m-1.4 0.4h0m0.7 0.7h0m0.6 1.1h0m-1 0.6h0m-0.4 1.1h0m-0.5 0.5h0m0.5 0.7h0m-0.5 0h0m0.3 1.4h0m1.2 0.8h0m0 0.7h0m-1.2 0.3h0m1.4 0.9h0m1 1.8h0m-0.3 0.4h0m-0.7 0.9h0m-1.2 2.8h0m1.3 0.5h0m-1.8 0.5h0m1.5 0.8h0m0.3 0.8h0m-0.6 1.5h0m-1.2 2.8h0m1.3 0.1h0m4.5-59h0m-2.1 0.8h0m0 1.4h0m-0.3 0.4h0m0.4 0.8h0m0.1 1.5h0m-0.5 3h0m-0.3 0.5h0m1.3 1.1h0m1.3 1.4h0m-1.9 0.6h0m0.6 0.1h0m-0.3 0.6h0m0.1 1h0m0.3 0.6h0m-1.5 0.2h0m0 0.4h0m2.5 0.7h0m-2.3 0.2h0m2.3 0.9h0m-2 0.7h0m0.3 0.2h0m-0.6 0.3h0m1.6 0.8h0m-1.5 0.3h0m0.1 0.8h0m0 0.1h0m-0.4 0.7h0m1.9 0.5h0m-0.2 0h0m1.1 1.2h0m-0.8 0.8h0m-1.7 0.1h0m0.7 0.6h0m1.7 0.2h0m-1.3 1h0m-0.3 0.1h0m0.3 1.4h0m0.9 0.3h0m-1.7 0.9h0m-0.4 0.3h0m0.5 0.1h0m1.3 0.8h0m-0.3 0.3h0m-1.7 0.3h0m1.7 1.1h0m1.2 0.3h0m-2.7 0.5h0m1.6 0.3h0m0.5 0.2h0m-0.9 1h0m0.7 0.7h0m-1.8 0.1h0m0.8 0.3h0m-0.7 1h0m1.5 0.8h0m-1.4 0.3h0m0.3 0.3h0m0.5 1.2h0m1.5 0.3h0m-2.2 0.3h0m1.4 0.4h0m-1.8 1.1h0m-0.2 0.1h0m0.7 0.2h0m1 0.5h0m-0.5 0.2h0m-0.6 0.7h0m0.3 0.1h0m-0.8 0.9h0m1.9 0.7h0m0.6 0.8h0m-2.1 0.8h0m2.3 0.1h0m0.1 0.4h0m-0.1 0.2h0m-2 0.1h0m0.1 1.9h0m1.6 2.5h0m-0.7 2.1h0m0.2 1.9h0m-1.1 0.3h0m2.3-57.3h0m2.3 1.6h0m-0.3 0.4h0m0.3 0.8h0m-2.3 4.1h0m2.7 3.6h0m-0.4 0.4h0m-0.1 1h0m-1.7 0h0m1.6 0.3h0m-1.5 1.5h0m1.5 1.2h0m-2.3 0.2h0m2.7 0.2h0m-1.6 1.4h0m0.1 0.8h0m-1.1 0.1h0m2.1 0.3h0m-1 0.7h0m0.8 0.2h0m-1 0.5h0m-0.8 0.9h0m0.8 0.6h0m1.6 0.3h0m-0.3 1.1h0m-1.3 0.2h0m0.1 0.3h0m0.1 0h0m-1.1 0.4h0m2.1 0.2h0m-1.5 1.2h0m2.1 0.9h0m-1.5 1.3h0m0.9 0.2h0m-1.1 0.4h0m1.3 0.5h0m-2.3 1.4h0m0.7 0.2h0m1.1 0.3h0m0.6 0h0m-2.5 0.4h0m2.2 1.8h0m-0.9 0.1h0m0 1.1h0m-0.2 0.2h0m-1 0.2h0m-0.1 0.8h0m1.5 1.6h0m-0.5 1.2h0m0.5 0.1h0m-1 0.4h0m0.3 0.6h0m0.8 1h0m1.1 1.5h0m-1.7 0.2h0m0.5 1h0m-0.9 0.1h0m0.2 2.5h0m-0.7 0.2h0m0.4 6.7h0m0.4 0.7h0m2.6-53.3h0m0.3 1.9h0m1 6.9h0m0.2 0.5h0m-1 2.1h0m0.1 1.3h0m0.4 0.6h0m1.1 0.1h0m-0.7 0.5h0m-1.5 0h0m0 1h0m1.5 0.1h0m-1.4 0.9h0m-0.2 0.2h0m1.4 0.4h0m-1.2 0.1h0m1.8 0.2h0m-1.8 1.5h0m2 0.3h0m-1.5 0.5h0m0 0.1h0m-0.4 0.9h0m1.7 0.6h0m-2 0.8h0m2.4 1h0m-1.3 0.2h0m1 0.2h0m-0.8 1h0m1.2 1h0m-0.3 0.8h0m-1.1 0.2h0m0.9 0.6h0m0.5 1h0m-1.4 0.9h0m-0.8 0.8h0m1.5 0.1h0m0 1.2h0m-1.9 0.6h0m1.5 0.2h0m0.4 0.1h0m-1.1 0.2h0m1.3 0.5h0m-1.5 1.3h0m1.6 0.1h0m0.2 1.3h0m-0.5 0.2h0m-2.1 0.3h0m1.1 0.6h0m0.6 0.3h0m0.6 0.2h0m-1.8 0.8h0m0.2 1h0m0.7 0.7h0m-1.5 0.3h0m0.8 1h0m1.9 0.3h0m-1.4 0h0m-0.8 1.5h0m1.1 0.4h0m-0.4 0.5h0m-0.4 0.3h0m-0.2 0.3h0m0.5 0.4h0m1.9 0.7h0m-1.7 1.1h0m-0.7 0.2h0m0.8 0.1h0m1.4 0.1h0m-2.2 0.3h0m0.1 2.5h0m-0.2 0.3h0m0.9 1.3h0m1.3 0.2h0m-2.2 0.3h0m0.1 2.9h0m-0.5 10h0m4.3-80.8h0m-0.8 2.2h0m1.5 10.1h0m-1.7 3.7h0m0.7 0.9h0m0.7 0.3h0m0.1 0.2h0m-1.4 2.4h0m-0.3 1.8h0m0.7 0.2h0m-0.3 1.5h0m1.1 0.5h0m0.2 2.2h0m-0.2 0.4h0m-1.2 0.1h0m0.9 0.7h0m1.3 0.1h0m-0.5 0.2h0m-1.8 0.3h0m0.2 0.9h0m2.4 0.2h0m-0.6 0.2h0m0.2 1.1h0m-0.8 0.7h0m-1.2 0.7h0m1.8 0.9h0m-0.9 0.6h0m0 1.2h0m0.9 0.1h0m-1.8 0.2h0m1.5 0.4h0m-1.4 1h0m1 0.8h0m0 0.6h0m0.6 0.1h0m0.6 1.2h0m-1.4 0.3h0m1.3 0.1h0m-1.4 1.3h0m-0.7 0.4h0m0.2 0.7h0m1.3 0.4h0m-1.2 0.2h0m1.9 0.9h0m-1.6 0.2h0m0.8 0h0m0.4 0.7h0m-2 0.3h0m-0.2 1.2h0m1.4 0h0m-1.2 0.6h0m2.4 0h0m-2 0.3h0m0.5 0.4h0m1.6 0.1h0m-1.4 0.4h0m-0.4 0.5h0m1.3 0.5h0m-1.9 1.1h0m1.9 0.3h0m-0.3 1.3h0m-1.2 0.9h0m1.5 0.1h0m-0.6 1.8h0m-0.9 0.1h0m1 0.4h0m0.4 1.1h0m-1.4 1.1h0m1.2 1h0m-1.1 2.3h0m-1 0.1h0m0.5 0.1h0m0.6 0.6h0m-0.4 1.5h0m0.1 1.7h0m-0.9 4.8h0m2.3 1.3h0m-0.4 0.2h0m-0.7 1h0m0 0.9h0m1.7 2.1h0m-1.8 2.3h0m3.6-69.1h0m-1.5 2.8h0m2.4 4.4h0m-1.7 1.5h0m0.5 1.2h0m1.2 0.1h0m-1.6 2.4h0m-0.6 0.3h0m2 2.7h0m-0.2 0.1h0m-1.4 0h0m0.4 1.7h0m1.5 0.2h0m-2.6 0.3h0m2.4 0.5h0m-2.2 0.4h0m2.4 1h0m-1.1 0.2h0m-1.2 1.4h0m2.4 0.7h0m-2.5 0.8h0m1.9 0.1h0m-1.7 0.1h0m-0.5 0.2h0m2.9 1.2h0m-0.8 0h0m-1.3 0h0m2.2 1h0m-2.4 0.1h0m-0.5 0.1h0m2.1 1.6h0m-1.2 0.7h0m0.2 0.8h0m-0.1 0.6h0m-0.4 0.4h0m1.1 1.7h0m0.9 1.2h0m-1.4 0.1h0m0.3 0.3h0m0.7 0.2h0m-1.6 0.3h0m1.1 0.7h0m0.7 1h0m-0.5 1.2h0m-1.8 1.2h0m2 0.2h0m-2.1 0h0m0.6 1.8h0m1.8 0.7h0m-1.1 0.3h0m1.3 0.7h0m-2.3 1h0m2.1 1.2h0m-1.6 0.1h0m1.9 0.1h0m-1.1 0.9h0m1 1.4h0m-0.5 2.6h0m-0.4 0.5h0m-1.6 0.9h0m2.2 0.4h0m-1.5 1.2h0m0.1 0.9h0m0.7 0.7h0m-0.1 0.4h0m-0.2 2.4h0m-0.9 4.6h0m1.9 4.4h0m3.2-65.6h0m-0.3 8.7h0m-1.5 3.4h0m1.7 0.5h0m0.2 2.1h0m0 0.4h0m-1.7 0.3h0m-0.2 0.8h0m0.2 0.7h0m0.8 0.2h0m1.2 1h0m-2.9 0.2h0m1.8 0.9h0m0.1 1.8h0m0 0.3h0m-1.1 0.6h0m-0.4 0.3h0m1.2 0.9h0m-1.4 0.5h0m0.5 1.1h0m0.5 1h0m0.9 0.1h0m-0.8 1.8h0m1.6 1.2h0m-2.7 0.5h0m0.9 0.3h0m0.5 0.5h0m-1.4 1.1h0m0.9 0.4h0m0.7 1.8h0m-1.3 0.5h0m0.6 0.4h0m0.2 1.1h0m-1.2 0.6h0m2.7 0.2h0m-2.5 0h0m-0.2 0.8h0m2.5 0.7h0m-0.6 0.2h0m-0.9 0.6h0m-0.8 0.2h0m2.4 1.2h0m-0.9 0.7h0m0.6 0.4h0m-1.1 0.6h0m0.8 0.6h0m0 1.5h0m0.5 1.1h0m0.1 1.1h0m-0.2 2.6h0m-1 2.8h0m-0.9 1.4h0m0.9 0.3h0m0.6 0.5h0m0.7 1.1h0m-0.2 4.1h0m-1.3 1.4h0m-0.1 2h0m-1.3 4h0m2.5 5.9h0m1.6-69.3h0m1.1 1.4h0m-1.7 4.8h0m0.4 0.2h0m0.1 1.7h0m0.3 1.2h0m0.2 0.9h0m1.4 0.9h0m-0.8 0.2h0m-0.7 0.8h0m-1.1 0.7h0m1.1 0.1h0m-1.1 0.7h0m1.3 0.5h0m1 1h0m0.3 1.2h0m-2.6 0.2h0m2.6 0h0m-0.6 0h0m-2.2 0.6h0m2.3 0.2h0m0.5 0.9h0m-2 0.3h0m1.6 0.1h0m-0.8 0h0m-0.7 0.6h0m1.2 0.4h0m-1.2 0.6h0m1.1 0.2h0m-1.7 0.4h0m0.6 0.4h0m0.2 0.1h0m-1 0.2h0m0.5 0.5h0m0.6 0.5h0m0.1 0.4h0m-1 1.6h0m1.5 0h0m0.3 0.1h0m0 1.2h0m0.8 0.7h0m-2.3 0.4h0m1 0.1h0m-1.6 0.8h0m1.7 0.1h0m-1.1 1.6h0m1.2 0h0m-0.1 0.3h0m-1.6 0.1h0m0.1 0.5h0m0.5 0.2h0m1.8 0.7h0m-2.2 0.9h0m2.5 0.6h0m-1.4 0.4h0m-0.6 0.5h0m0.7 1.6h0m-0.6 0.3h0m-0.9 0.6h0m0 0.8h0m1.9 1.7h0m1 0.6h0m-2.5 1.3h0m1.4 2.2h0m-0.5 0.6h0m0.4 0.4h0m-0.1 1.6h0m-0.6 1.8h0m-0.1 1.7h0m-1 0.8h0m0.4 3h0m1.3 0.1h0m0.7 0.4h0m-1.6 0.5h0m0.3 5h0m-0.4 1.9h0m1.5 0.3h0m-1.9 2.7h0m0.2 0.4h0m5-89.2h0m-0.9 22.9h0m1.1 2.2h0m-0.4 3.2h0m-2.2 0.3h0m-0.1 0.9h0m1.2 1.3h0m1.3 1.5h0m-1.7 0.2h0m1.5 0.5h0m-0.4 0.3h0m-0.6 0.2h0m0.9 0.5h0m-1.8 0.8h0m2.3 0.2h0m-2.1 0.5h0m1.4 0.1h0m-1.8 0h0m1.3 0.7h0m0.1 0.2h0m-0.1 0.3h0m0.3 0.2h0m1 0.3h0m-2.7 0.3h0m2.7 0.2h0m-1.4 0.7h0m-0.5 0.8h0m0.9 0.7h0m-1.1 0.2h0m1.3 0.7h0m-0.4 2h0m0.8 0.4h0m-0.2 1h0m-1 0.2h0m-0.5 0.8h0m-0.4 1.3h0m0.5 0h0m0.6 0.4h0m0.5 0.4h0m0.4 0h0m-0.1 0.3h0m-0.5 0.2h0m-1.1 0.4h0m0.9 0.6h0m-1.1 0.5h0m0.8 0.2h0m1.7 0.5h0m-2 1.6h0m-0.1 0.3h0m0.3 0.7h0m-0.6 0.7h0m0.3 1.1h0m0.2 1.7h0m1.9 1.1h0m-0.9 0.7h0m-1.6 0.9h0m0.6 1.1h0m1.6 0.6h0m-0.2 0.5h0m-2.3 0.9h0m0.1 1h0m0 0.4h0m1.8 0.5h0m-2 0.3h0m0.8 2.2h0m-0.5 2.1h0m1 3.9h0m0 0.5h0m-1.1 2.1h0m0.8 1.7h0m3.4-78.5h0m-0.7 16.9h0m0.6 3.9h0m-1.1 6.1h0m1.7 0.8h0m-0.7 0.9h0m1.5 0.7h0m-1.4 1.2h0m1.1 0.3h0m-2.3 0.1h0m1 0.3h0m-1.1 0.2h0m1.8 0.4h0m0.2 0.3h0m-0.6 0.9h0m-1.3 0.3h0m2.8 0.9h0m-0.3 0.4h0m-1.3 0h0m1.2 0.2h0m0.1 0.6h0m-1.7 1.1h0m0.2 1h0m-0.9 0.9h0m2.1 0.3h0m-0.3 0.2h0m-0.6 0.7h0m1.2 1.2h0m-1.4 0.2h0m-0.8 0.3h0m1.2 0.9h0m-1.4 0.1h0m2.5 0.3h0m-2.6 0.2h0m0.6 0.8h0m0.2 0.6h0m0.4 0.5h0m-0.8 0.4h0m0.5 0.4h0m1.9 0.8h0m-2 0.9h0m0.4 0.7h0m-1.3 0h0m1.9 0.4h0m-0.3 0.6h0m-1.1 0.7h0m0.6 0.1h0m1.3 0h0m0.3 0.2h0m0.3 1.1h0m-1.1 0.6h0m-1.6 0h0m2.4 1.1h0m-2.3 0.5h0m-0.1 0h0m0.7 0.1h0m1.7 0.2h0m0 0.9h0m-1 0.1h0m-1.6 0.7h0m0.1 0.9h0m1 0.2h0m0.3 2.1h0m0.7 0h0m-1.6 0.3h0m0.8 2.8h0m-0.4 5.7h0m0.3 1.5h0m1.5 1.4h0m1.1-60.2h0m-0.6 9.4h0m2.1 5.4h0m-1.4 2.6h0m0.9 0.7h0m0.9 0.5h0m-1.6 1.2h0m1.2 1h0m-1 0.1h0m1.1 0.3h0m-0.1 0.3h0m-1.4 0.2h0m1 0.6h0m-1.5 1.3h0m1.5 0.2h0m-0.5 0.2h0m0.3 0.6h0m-0.3 0.7h0m0.8 0.1h0m-0.8 0.1h0m-0.8 0.1h0m0.3 1.4h0m-0.6 0.1h0m0.1 0.2h0m2.2 0.8h0m0.1 0.1h0m-1.8 0h0m0.7 1.4h0m-1.4 0.5h0m0.3 0.1h0m1.6 0.1h0m-0.5 0.4h0m-0.4 0.1h0m1 1.9h0m-0.8 0.1h0m0.4 0.5h0m-1.6 0h0m1.9 0.5h0m-1.7 1.2h0m0.4 0.7h0m0.8 0.2h0m-1.7 0.2h0m0.6 0.1h0m2.4 0.4h0m-1.2 0.1h0m-1.4 0h0m0.6 0h0m0.3 1.1h0m0.5 1.1h0m-0.9 0.4h0m-0.7 0.2h0m1.3 0.3h0m-0.9 0.1h0m1.9 0.9h0m-0.6 0.3h0m-0.4 2h0m0.3 0.4h0m-0.6 1.5h0m-0.9 1h0m1 0.9h0m-1 0.4h0m0.3 0.3h0m-0.5 0.5h0m2 4h0m0.9 0.1h0m-2 0.4h0m-0.4 0.2h0m-0.5 6.6h0m2.5 12.9h0m0.1 1.6h0m-1.2 0.1h0m-0.7 3h0m5-108.9h0m-2.1 23.8h0m0.7 14.2h0m-0.6 1.3h0m0.8 3.4h0m-0.9 0h0m0.4 1.2h0m1.3 0.8h0m-0.3 0.8h0m-0.2 1.6h0m0.3 0.1h0m-1.6 0.3h0m0.7 0.4h0m0.1 1h0m0.4 0.1h0m-1.7 1.5h0m0.2 0.1h0m0.6 0.2h0m1.6 1.5h0m-1.8 0h0m1.1 1.4h0m-0.4 0.7h0m-0.3 1h0m1.2 0.4h0m-1.6 1.9h0m1.3 0.5h0m-1.8 0h0m1.6 0.8h0m1.2 1h0m-0.8 0.1h0m0.5 0.1h0m-0.4 0.8h0m-1.9 0.1h0m1.5 0.9h0m-0.4 0.2h0m-1 0.2h0m0 1.2h0m1.3 0.2h0m0.7 0.6h0m-0.4 1h0m-0.6 0.2h0m0.2 0.1h0m0.1 0.7h0m-1.4 1.3h0m0.6 0.2h0m1.8 0.5h0m-2.5 0h0m0 0.8h0m0.7 1.2h0m1.9 0.6h0m-1.9 0.1h0m-0.9 1.5h0m0.8 0.7h0m1.2 0.4h0m0.9 0.3h0m-1.7 1.6h0m-0.4 0.6h0m0.4 0.2h0m0.7 2.7h0m-1.8 0.2h0m2.5 1.2h0m-0.3 0.4h0m-1.9 3.5h0m1.2 1.2h0m0.4 4.2h0m-0.8 4.8h0m-0.5 1.8h0m4.7-67.2h0m-0.9 9.5h0m-0.2 1.3h0m1.3 4.9h0m-2.4 0.6h0m0.3 0.1h0m-0.4 0.4h0m2.4 1.2h0m-0.1 0.7h0m-1.2 0h0m-0.5 0.4h0m1.3 0.2h0m0.8 0.1h0m-1.6 0.1h0m-0.8 0.6h0m1 0.2h0m0.7 1.1h0m-1.9 0.2h0m0 0.6h0m2.2 0.5h0m0.3 0.4h0m-2.2 0.2h0m0.4 0.7h0m0 0.2h0m0.4 0.4h0m0 0h0m1.4 0.2h0m-1 0.7h0m-0.8 0.3h0m-0.2 0.1h0m0 0.3h0m0.1 1.8h0m1.6 0.3h0m-2.4 0.4h0m2.6 0.4h0m-0.6 0.4h0m-2 0.4h0m1 0.1h0m0.1 1.7h0m1 0.3h0m-2.2 0.8h0m2.1 0.6h0m-0.8 0.4h0m1.1 0.2h0m0.3 0.6h0m-2.4 0.4h0m1.5 0.4h0m-0.2 0.5h0m-0.9 1.1h0m1.4 0.2h0m-0.7 1.6h0m0.3 0.5h0m1.1 1h0m-1.3 1.6h0m-0.4 1.7h0m1.8 0.3h0m-1 0.3h0m-1 1.5h0m0.8 0.5h0m-0.2 6.4h0m1.2 7.1h0m-1.6 1.7h0m1.9 2.4h0m0.3-66.4h0m1.1 13.2h0m-0.2 0.4h0m-0.3 0.4h0m0.3 0.7h0m-1.2 0.4h0m3 0.4h0m-1.5 0.8h0m-0.9 0.4h0m1.5 0.1h0m-2.1 0h0m1.6 0.9h0m0.6 1.3h0m-1.7 0.5h0m0.2 0.9h0m1.1 0.6h0m-1 1.4h0m1.1 0.2h0m0.1 0.1h0m0.5 0.9h0m-1.2 0.3h0m0.4 0.7h0m-0.7 0.2h0m1.7 1.1h0m-1.7 0.6h0m1.8 0h0m-2.5 1h0m2.6 0.9h0m-1.1 0h0m0.2 0.7h0m0.7 0.5h0m-2.5 0.3h0m1.8 1.1h0m0.7 0h0m0 0.2h0m-1.2 0.2h0m0.3 0.8h0m-1.6 1.8h0m2.2 0.1h0m-1.7 0.5h0m1.8 0.2h0m-0.7 1.4h0m-0.2 1.4h0m1.3 0.4h0m-0.7 0h0m-1.1 0.4h0m-0.2 1.6h0m1 0.8h0m-0.2 0.5h0m-1.2 0.6h0m1.5 0h0m-0.8 2.3h0m-0.4 4.2h0m0 1.1h0m0.9 0.5h0m-0.5 9.3h0m0.1 0.8h0m-0.4 2.7h0m2.7-59h0m0 2.8h0m0.5 4h0m-0.5 0.5h0m1.8 0.6h0m-0.2 0.3h0m-0.8 0.2h0m1.2 0.2h0m-0.9 0.5h0m-1.4 1.1h0m0.4 0.4h0m0.9 0.8h0m1.1 0.1h0m-1.6 0.2h0m-0.9 0h0m2.2 1.5h0m-2.1 0.9h0m-0.2 0.7h0m1.9 0.3h0m0.6 0.4h0m-1.9 0.5h0m2.2 0.4h0m-2 0.8h0m0 0.6h0m1 0.8h0m0.4 0.2h0m-1.1 1h0m1.7 0.5h0m-1.5 0.1h0m-1.4 0.1h0m1.1 0.8h0m1.9 0.7h0m-2.5 0.1h0m1.8 0.2h0m0.2 1.4h0m-1.8 0.5h0m2.3 0.1h0m-2.3 0.8h0m2.2 1.3h0m-2.9 0.6h0m0.9 0h0m0.2 0.2h0m1.7 1.4h0m-2.1 1h0m0.1 0.5h0m0 1.2h0m-0.7 0.4h0m1.6 1.7h0m-0.7 1.7h0m0.5 0.3h0m0.8 0.6h0m-0.9 1.9h0m0.7 1.3h0m-0.1 1.6h0m-0.2 2.6h0m-0.3 3.4h0m0.7 15.8h0m1.2-75.3h0m2.2 9.6h0m-1.4 1.1h0m-0.9 3.8h0m1.9 1h0m-0.4 1.3h0m0.4 1.2h0m-0.4 1.1h0m0.4 0h0m-0.6 1.1h0m1.3 0.5h0m-0.6 0.2h0m0.3 0.1h0m-2.3 0.4h0m1.9 1.7h0m-1.5 0.1h0m0.8 0.6h0m-0.8 0.8h0m0.9 0.6h0m-0.8 1.1h0m1.3 0.6h0m-0.4 0.9h0m0.1 0.7h0m0.6 0.6h0m-0.3 0.2h0m-1.2 0.3h0m2 0h0m-1.6 0.7h0m-0.9 1h0m2.5 0.7h0m-0.2 0.4h0m-2.5 0.1h0m1.5 0.8h0m1.1 0.3h0m-2.4 0.6h0m1 0.6h0m0.1 0.5h0m-1.2 0.4h0m1.7 0.9h0m-1.6 0.3h0m-0.3 0.6h0m1.2 1.1h0m0.2 0.7h0m-1.2 0.7h0m1.5 0.3h0m-1.5 1.2h0m0.9 0.6h0m-1 0.6h0m0.3 3.9h0m0.8 0.1h0m-0.7 1.1h0m2 0.3h0m-0.2 0.1h0m0.2 0.7h0m-2.6 0.2h0m0.2 4h0m1.2 1.5h0m-0.2 2.5h0m0.1 1h0m0.1 1h0m1.5 0.7h0m-2.5 1.3h0m5.1-49.2h0m-1.2 0.1h0m1 1.7h0m-1.1 0.8h0m0.1 0.3h0m0.1 0.8h0m1.4 1h0m-1.1 0.5h0m-1.3 0.4h0m2 0.8h0m0.2 1.1h0m-2.3 0.7h0m2.4 0.4h0m-0.4 0.1h0m-2.2 0.3h0m2.3 0.2h0m-0.5 1.1h0m-0.5 0.9h0m-0.9 0.5h0m2.1 0.5h0m-2.1 0.2h0m0.5 0.3h0m0.1 1.1h0m-0.7 1.3h0m0.8 0.2h0m1.4 0.1h0m-1.4 0.6h0m0.6 0h0m0 1.1h0m1.1 1.1h0m-1.8 0.2h0m0.4 0.1h0m1.1 1.4h0m-0.5 0.4h0m0.3 1.1h0m-1.6 0.4h0m-0.5 0.7h0m1.2 0.5h0m1.5 0.7h0m-1.9 0.6h0m-0.7 0.7h0m-0.4 0h0m1.7 0.8h0m-0.9 0.3h0m1.4 0.3h0m-0.1 0.6h0m-1.3 1h0m1.8 3.3h0m-1.6 0.2h0m-0.2 0.9h0m0.9 5.7h0m0.3 1.9h0m0.2 1.6h0m0.7 3.5h0m0 1.6h0m-2.1 1.3h0m4.7-54.3h0m-0.7 1.1h0m1 0.8h0m-0.7 1.1h0m0.2 1.1h0m-1.5 0.1h0m0.8 1.1h0m1.2 1.5h0m-2 0.4h0m-0.3 1.6h0m2 0.7h0m-2.2 1.9h0m2.7 0.1h0m-1.2 0.2h0m0.9 0.5h0m-1.1 2.1h0m0.5 0.1h0m0.5 0.6h0m-2 0.6h0m0.4 0.6h0m1.5 0.1h0m0.1 1.8h0m0.2 0.1h0m-1.3 0h0m0.3 0h0m0.2 0.7h0m-2 0.4h0m0.3 0.3h0m-0.2 0.6h0m1.4 0.3h0m0.3 1.2h0m0.6 0h0m-1.3 0.2h0m-1 0h0m2.8 0.4h0m-0.9 0.7h0m-1.2 1.1h0m1.9 0.2h0m-1.7 0.2h0m-0.2 0.1h0m-0.1 0.9h0m1.7 0.4h0m-0.5 0h0m0 1h0m-1.6 0.6h0m1.7 0.5h0m-1.4 0.7h0m0 1.5h0m0.4 2.4h0m-1 0.5h0m1.1 2.9h0m0 3h0m1.9 0.5h0m-2.1 5.1h0m-0.4 1h0m1 2h0m-0.5 0.7h0m-0.4 18.3h0m4.4-71.1h0m-0.9 5.3h0m0.8 0.5h0m-0.9 0.4h0m1.1 2.3h0m-1.3 1.1h0m0.6 1h0m0.1 1.5h0m1 0.3h0m0 0.4h0m-1.4 0.3h0m1 0.7h0m-0.3 0.1h0m-1.7 0.1h0m2.1 1.1h0m0.2 0.5h0m0.2 0.5h0m-1.4 0.2h0m1.2 0.1h0m-2.3 0.5h0m2.7 0.1h0m-2.4 0.5h0m-0.3 0.6h0m1.6 0.9h0m-1 0.9h0m0.9 1.1h0m-1.2 0.2h0m2 0.2h0m0 0.5h0m-0.1 0.3h0m0.7 0h0m-1.6 0.2h0m0.6 0.1h0m0.3 0.4h0m-0.2 0.2h0m-2.1 0.5h0m0 0.2h0m2.3 0.7h0m-1.7 0.3h0m0.7 0.2h0m-0.8 0h0m0.7 0.2h0m0.5 0.9h0m-0.4 1.1h0m0.3 0.9h0m0.6 0.1h0m0 0h0m0.7 0.3h0m-0.8 0.8h0m-1.3 0.8h0m0.6 0.1h0m-1.4 0.2h0m1.4 0.3h0m-0.9 2.1h0m0.6 0.2h0m0.4 0.7h0m0.5 0.5h0m-0.1 0.1h0m-1.1 5.2h0m1 0.7h0m0.2 2.5h0m-0.9 0.1h0m1.6 3.5h0m-2.7 3.9h0m1.1 0.3h0m3.4-51.8h0m-0.3 1.9h0m0.4 4h0m0.7 0.6h0m0.4 0.4h0m-0.8 0.6h0m-0.1 1.2h0m-0.2 0.5h0m-0.8 0h0m-0.3 1.5h0m2 0.1h0m-0.6 0.2h0m-0.6 1.7h0m1.5 0.3h0m-2.2 0.4h0m0.9 0.9h0m0.5 1.2h0m-0.5 0.3h0m-1.2 0.8h0m0.3 0.1h0m2.1 0.8h0m-0.4 0h0m-0.4 1.7h0m0.7 0.5h0m-0.5 0.3h0m-0.1 0.2h0m-1.8 0.4h0m0.5 0h0m0.3 0.8h0m0.1 0.5h0m-0.7 0.3h0m1.8 0h0m-0.5 0.6h0m0.7 0.4h0m-0.5 1.4h0m-0.6 0h0m0.7 0.2h0m-0.6 1.1h0m-0.6 0.2h0m0.2 0.7h0m-0.5 0.2h0m0.7 0.9h0m-0.4 0.4h0m1.9 0.7h0m-0.7 0.7h0m0.1 1.6h0m-1.7 0.6h0m0.9 0.8h0m0.9 1.6h0m-1.1 4.2h0m-1.1 1.9h0m5.1-38h0m-0.5 1.5h0m-0.7 2.9h0m0.5 0.2h0m1.3 0.3h0m-1.1 0.9h0m0.4 1.1h0m-1.2 0h0m0.5 2.2h0m-0.5 0.2h0m1.5 0.2h0m-0.3 0.6h0m-1.2 0h0m0.9 1.3h0m-1.1 0.2h0m0.5 0.4h0m-0.1 0.7h0m-0.7 0.8h0m0.1 0h0m0.4 1.1h0m2 0.3h0m-2.2 0.3h0m-0.1 0.7h0m1.2 0.6h0m1.3 0.2h0m-0.8 1.2h0m-1.4 0.1h0m2 0.1h0m-2.7 0h0m2.4 0.5h0m-1.4 0.5h0m-0.8 1.3h0m1.5 0.8h0m-1.1 0.5h0m0.8 0.1h0m-0.1 1.3h0m-1.2 0.2h0m0.1 0.9h0m-0.3 0.4h0m1.5 1.5h0m-1.3 0.3h0m2.4 0.2h0m-2.1 1.7h0m2.1 1h0m-2.1 4.9h0m1.5 1.8h0m-0.6 1.7h0m0.7 18.2h0m0.1 4.3h0m1.3-72.5h0m1 10.3h0m0.8 1h0m-1.9 0.7h0m1.7 3.3h0m-0.7 0.8h0m0 0.1h0m-1.3 1.9h0m0.4 0.4h0m1.2 0h0m0 0.4h0m0.8 1.4h0m-2.4 0h0m1 1.2h0m1.7 0.3h0m-1.8 1.1h0m1.3 0.6h0m-2.1 0.6h0m0.8 0.2h0m0.4 0.4h0m0.9 1.2h0m-2.2 0.2h0m2.2 0.5h0m-1.9 0.5h0m1.8 1.3h0m-1 0h0m0.2 1.1h0m0.4 0.1h0m-0.1 0.5h0m0.1 0.8h0m-0.9 0.1h0m0.7 0.5h0m-1.2 0.2h0m0 0.2h0m1.6 0.3h0m-1.1 1.1h0m0.5 0.6h0m0.8 0.1h0m0.6 0h0m-2.4 0.9h0m-0.3 0.2h0m2.4 3.3h0m-1.9 4.2h0m0.1 4.3h0m2.8-37.2h0m1.9 0.2h0m-1.4 0.8h0m-0.9 1.1h0m1.9 0.5h0m0.8 1.3h0m-1 1.1h0m-1.6 0.2h0m-0.1 0.9h0m1.8 0.1h0m0 0.7h0m-1.2 0.2h0m0.2 0.9h0m-0.7 0.6h0m1.8 0.1h0m-0.3 0.5h0m0.3 0.7h0m-0.3 0.2h0m-1.4 0.1h0m2.6 1.6h0m-2.7 0.3h0m0.1 0.2h0m2.3 0.1h0m-1.3 0.2h0m-1.2 1.2h0m2.2 0.5h0m-2 0.1h0m-0.1 0h0m1.6 0.1h0m-1.7 1.9h0m1.5 1.5h0m1.1 0.2h0m-1.9 0.1h0m1.1 0.2h0m-0.5 0.1h0m-0.8 2.6h0m-0.1 1.1h0m0.8 1.5h0m-1.3 0.6h0m0.7 0.4h0m-0.7 1.4h0m0.1 22.3h0m3.5-60.9h0m2.4 10h0m-0.6 1.7h0m-0.8 1.6h0m0 0.7h0m0.3 0.3h0m0.6 1.4h0m-1.6 0h0m1.4 0.8h0m-2.1 0.1h0m2.5 0.3h0m-0.8 0.9h0m-1.1 0.7h0m0.3 0.5h0m0.6 0.6h0m-0.8 0.1h0m-0.9 2h0m1.3 0.2h0m-1 0.7h0m2.4 1.2h0m-2.2 0h0m0 0.8h0m0.8 0.6h0m0.4 0.1h0m0.1 2.8h0m0.2 1.6h0m-1.1 0.1h0m1.1 0.7h0m-1.4 0.5h0m0.6 0h0m0 0.6h0m2.6-24.5h0m-0.5 0.7h0m2.5 0.6h0m-0.4 0.7h0m-2.2 1.3h0m1.7 0h0m-0.2 0.2h0m1.1 0.2h0m-0.4 0.8h0m-0.6 0.3h0m-1.1 0h0m2.2 2h0m-2.1 0.1h0m1 1.2h0m-0.8 0.1h0m1.7 0.6h0m-2.4 1.4h0m1.7 0.7h0m-1 0h0m1.7 0.1h0m-1.3 1h0m-1.4 0.5h0m1.7 0.2h0m-0.4 1.2h0m-0.6 0h0m0.9 2.4h0m-1 0.3h0m0.2 1.8h0m-0.4 0.8h0m1 1.1h0m1.3 4.2h0m-1.4 0.4h0m0.8 1.5h0m2.8-31.5h0m0.4 1h0m-0.5 0.4h0m-0.8 1.6h0m1 1.3h0m-1.7 0.3h0m0.9 0.7h0m1.7 1.1h0m-1.6 0.2h0m1 1.7h0m-1.2 0.6h0m-0.6 2.8h0m-0.1 0.4h0m2.1 0.7h0m-1.2 0.4h0m-0.4 0.3h0m2 0.2h0m-2.3 2.4h0m1.8 0.2h0m-1.5 0.4h0m0 1.1h0m1.4 0.5h0m-1.3 0.7h0m1.7 0.2h0m0 1.3h0m-1.8 0.2h0m-0.5 0.9h0m1.4 1.3h0m-0.2 0.3h0m0.9 0.2h0m-2.3 1.8h0m1.5 6.7h0m-0.3 6.4h0m1.6 5.5h0m1.7-48.2h0m0.9 1.6h0m-2.4 1.2h0m2.1 3.3h0m-0.5 0.8h0m-0.2 2.5h0m0.3 0.2h0m-0.8 0.1h0m1.8 2h0m-0.6 0h0m-1.4 1h0m1.9 1.3h0m-1.1 0.8h0m-0.9 0.1h0m1.5 1.8h0m-1.5 4.2h0m-0.4 0.2h0m2 0h0m0.2 3.4h0m-1 2.7h0m3.2-33.8h0m-1 8.1h0m0.8 5.3h0m0.7 0.6h0m-2.3 0.2h0m2 1.6h0m-0.1 0.8h0m0.9 1.4h0m-0.7 0.3h0m0.5 4.6h0m0.1 0.1h0m-2.4 0.4h0m0.5 0.8h0m0.7 0.1h0m-1.4 0.6h0m1.7 4.4h0m3.8-23.5h0m0.3 2.2h0m-1 1h0m0.4 0.4h0m-1.6 1.5h0m-0.3 1.7h0m1.1 3.2h0m-0.5 1.9h0m1 9h0m-0.8 3.1h0m-0.1 0.6h0m0.9 6h0m3.1-29.3h0m-1 4.1h0m-0.6 1.4h0m0.3 2.4h0m2.1 0h0m1.7-11.2h0m0.2 0.7h0m0.2 1h0m-0.5 2.2h0m-1.3 2.7h0m1 1.1h0m-1.1 4.3h0m3.2-8.9h0" stroke="#619CFF"/>
</g>
</g>
<path clip-path="url(#cB)" d="M282.00 200.88L454.05 42.98" stroke="#111" stroke-width="1" stroke-dasharray="0.9 2.2 3.1 2.2" fill="none"/>
<path d="M308.29 200.8v2.1M282.0 176.75h-2.1M348.38 200.8v2.1M282.0 139.96h-2.1M372.66 200.8v2.1M282.0 117.68h-2.1M420.85 200.8v2.1M282.0 73.46h-2.1" stroke="#555" stroke-width="0.65" fill="none"/>
<text class="tk" x="307.7" y="212.4" text-anchor="middle">0.01</text>
<text class="tk" x="278.8" y="180.4" text-anchor="end">0.01</text>
<text class="tk" x="348.4" y="212.4" text-anchor="middle">0.10</text>
<text class="tk" x="278.8" y="143.6" text-anchor="end">0.10</text>
<text class="tk" x="372.7" y="212.4" text-anchor="middle">0.20</text>
<text class="tk" x="278.8" y="121.3" text-anchor="end">0.20</text>
<text class="tk" x="420.8" y="212.4" text-anchor="middle">0.50</text>
<text class="tk" x="278.8" y="77.1" text-anchor="end">0.50</text>
<text class="ax" x="368.2" y="226.4" text-anchor="middle">PRS−CS</text>
<text class="ax" transform="translate(252.6 122.2) rotate(-90)" text-anchor="middle">P+T(0.05)</text>
<text class="tag" x="230.9" y="41.2">B</text>
<rect x="512.85" y="43.10" width="172.05" height="157.65" fill="#EBEBEB"/>
<clipPath id="cC"><rect x="512.85" y="43.10" width="172.05" height="157.65"/></clipPath>
<g clip-path="url(#cC)">
<path d="M519.10 43.1V200.8M512.9 195.15H684.9M559.18 43.1V200.8M512.9 158.36H684.9M591.37 43.1V200.8M512.9 128.82H684.9M627.61 43.1V200.8M512.9 95.57H684.9M671.74 43.1V200.8M512.9 55.06H684.9" stroke="#fff" stroke-width="0.45" fill="none"/>
<path d="M539.14 43.1V200.8M512.9 176.75H684.9M579.23 43.1V200.8M512.9 139.96H684.9M603.51 43.1V200.8M512.9 117.68H684.9M651.70 43.1V200.8M512.9 73.46H684.9" stroke="#fff" stroke-width="0.85" fill="none"/>
<g fill="none" stroke-linecap="round" stroke-width="2.56">
<path d="M521 155.6h0m2 1.2h0m-0.9 4.8h0m-1 0.3h0m0.6 0.1h0m1.3 0.1h0m-2 1.5h0m0.9 0.1h0m-0.4 0.5h0m1.7 0.9h0m-1.1 0.2h0m1.4 0.6h0m-2.3 0h0m1.6 1h0m-0.5 0.2h0m-1.1 0.1h0m0 0.3h0m2.3 1.1h0m-2.1 0.3h0m0.5 0.9h0m-0.6 0.4h0m0.1 0.9h0m1.5 0.1h0m-1.9 1.1h0m0 0.4h0m-0.4 0.1h0m1 0.6h0m1.4 0h0m-0.5 0.4h0m0.7 0.4h0m-1.2 0h0m-1 0.1h0m0.1 0.2h0m-0.1 0.5h0m0.6 0.2h0m-0.7 0.1h0m0.6 0.7h0m1.8 0.1h0m-0.1 0.4h0m-0.2 0.2h0m-0.4 0h0m3.6-51h0m-0.8 28h0m-1.6 8.6h0m0.4 0.4h0m0.6 0.1h0m-0.7 0.1h0m0.5 0.6h0m0.9 0.1h0m-0.3 1.4h0m-0.4 0.3h0m-0.9 0h0m1 0.8h0m1.5 0.5h0m-0.1 0.7h0m-0.4 0.1h0m-2.2 0.5h0m1.7 0.9h0m-0.5 0.1h0m-0.1 0.4h0m-1.1 0.6h0m-0.1 0.2h0m0.6 0.8h0m0.6 0.7h0m1.1 0.7h0m-1.6 0.7h0m1.5 0.9h0m-1.6 0.1h0m1.2 0.4h0m-1.3 0.6h0m0 1.5h0m1.8 0.1h0m-0.5 0.1h0m-1.3 0h0m5.1-20.8h0m-0.1 5.7h0m-1.5 0.1h0m0.7 0.4h0m-1 0.1h0m1.5 0.7h0m-0.5 0.5h0m-1.6 0.4h0m0.9 1.8h0m1.4 0.2h0m-1.7 0.3h0m1.5 1.7h0m-2 0.9h0m0.3 0.3h0m2.3 0.7h0m-2.5 0.6h0m-0.2 0.1h0m1.9 0.8h0m0.2 1.1h0m0.4 0.3h0m-0.2 0.1h0m-1.1 0.4h0m-0.8 0.4h0m-0.1 0.6h0m0.1 0.8h0m-0.3 0.2h0m1.4 0.1h0m0.1 0.5h0m-1.6 0.3h0m1.5 0h0m-1 0.4h0m1.7 0h0m-2.2 0.1h0m2.2 0.2h0m0.3 0h0m-0.2 0.1h0m1.3-39.8h0m-0.4 20.2h0m1.4 0.5h0m0.4 0.3h0m-1.7 2.4h0m1.5 1.3h0m0.4 0.2h0m-0.2 0.4h0m-0.6 0.1h0m0.5 0.1h0m-1.4 1.9h0m1.1 0.2h0m0.6 0.3h0m-0.4 1.6h0m0.7 0.3h0m-2.7 0.5h0m0.2 0.4h0m0.9 0.2h0m1 1.4h0m-1.3 0.9h0m0.8 1h0m-0.9 0.1h0m1.8 1.3h0m-2.3 0h0m1.2 0.2h0m-1.1 0.8h0m2.2 1h0m-1.9 0.3h0m1 0h0m-1.4 0.3h0m1.6 0.6h0m0.2 0.4h0m0.5 0.2h0m-2.4 0h0m2.9 0.3h0m2.3-17.2h0m-1.9 0.3h0m1.7 2.2h0m-0.6 0.4h0m0.4 0.1h0m-1.9 0h0m2.4 0.1h0m-0.1 0.1h0m-1.6 0.9h0m0.3 0.2h0m1.5 1.1h0m-0.5 0.4h0m-0.7 0.1h0m0.3 0.3h0m0.4 0.7h0m-1 0h0m1.5 0.1h0m-1.4 1.9h0m0.9 1.6h0m-1.1 0.5h0m1.1 1.1h0m-0.5 0.9h0m1.3 0.7h0m0.2 0.4h0m-1.9 0.9h0m0.9 0.2h0m-1.9 0.8h0m2.6 1h0m-1.6 0.1h0m3.8-26.1h0m-1.8 3.6h0m1.2 1.1h0m-0.2 1.8h0m1.1 3.2h0m-0.1 1.5h0m0.3 0.2h0m-1.2 0.5h0m0.7 0.5h0m0.2 0.2h0m-1.6 0.2h0m0 0.5h0m-0.3 1.4h0m2.6 0h0m-1.1 0.6h0m0.2 1h0m-1.2 1h0m1.4 0.2h0m-1.4 0.2h0m1.2 1.7h0m-1.7 0.1h0m0.6 1.8h0m1.7 0.5h0m-0.8 0.1h0m-0.3 1.2h0m1.2 0.3h0m-0.4 0.9h0m0.1 0.1h0m-1.6 0.3h0m1.1 0.3h0m0.4 0.3h0m0.4 0.5h0m0.2 0.3h0m-2.4 0.1h0m0.8 0h0m2-23.9h0m0.4 10.5h0m-0.2 6.6h0m-0.2 2.5h0" stroke="#00BA38"/>
<path d="M541.2 177.1h0m-1.5 0.4h0m0 0.5h0m0 0.6h0m0.5 0.5h0m-0.5 0h0m0.1 0.6h0m-0.5 0.3h0m-0.1 0h0m1.9 0.5h0m-1.7 0h0m0.1 0.6h0m1.4 0.4h0m-1.7 0.6h0m1.3 0h0m0.1 0.6h0m-1.3 0.1h0m0.6 0.2h0m1.5 0.5h0m-1.6 0.4h0m0.7 0.4h0m-1.1 0.2h0m0.1 0.5h0m0 0.8h0m0.4 0.7h0m0 0.2h0m-0.6 0.6h0m2.2 0.9h0m-0.1 0.1h0m-0.4 0.5h0m-0.3 0.1h0m0.2 0.1h0m-1.4 0.3h0m0 0.3h0m0.9 0.1h0m-0.4 0.2h0m-0.6 0.3h0m2 0.1h0m-1.2 0.1h0m0.6 0h0m-0.6 0.1h0m-0.3 0.6h0m0.9 0.2h0m0.5 0.7h0m-1.7 0.3h0m-0.3 0.5h0m1.7 0.9h0m-1.8 0.1h0m4.1-15.6h0m-0.7 0.5h0m0.2 0.8h0m-0.2 0.8h0m0.6 0.1h0m0.8 1.2h0m-1 0h0m1.3 0.5h0m-1 1.2h0m1 0.1h0m-0.5 1h0m-0.1 1.1h0m-1.4 0.2h0m0.4 0.1h0m-1.2 0.5h0m0.9 0.2h0m0.7 1.5h0m1.1 0.6h0m-0.9 0.2h0m-0.3 0.3h0m0 1.9h0m-0.7 1.4h0m1.4 0h0m-0.5 1h0m-0.9 0h0m5.2-16.2h0m-2.4 0.1h0m1 1h0m-0.9 0.1h0m0.6 0.6h0m1.1 0.3h0m-1.5 0.4h0m0.5 0.4h0m1.2 0.1h0m-2.4 0.6h0m1.6 1.2h0m-1.2 0.3h0m1.4 1h0m-1.6 0.5h0m1 0.4h0m1.5 0.9h0m-0.4 0.1h0m-1.7 0.4h0m0.8 0.6h0m-0.7 0.6h0m0.7 0.3h0m-0.3 0.6h0m-0.8 0.1h0m2.3 0.5h0m-0.9 0.7h0m-1.6 0.1h0m-0.2 1h0m0.8 0.1h0m-0.6 1.3h0m2.2 0.3h0m-0.3 0.5h0m0.3 0.1h0m-0.2 0.4h0m0 0.1h0m-1.6 0.2h0m0 0.2h0m2.3 0.1h0m-1.3 0.3h0m2.1-16.9h0m1.2 0.8h0m-0.9 1.1h0m1.5 0.8h0m-1.3 0.6h0m-0.8 1.4h0m1.7 0h0m0.4 0h0m-2.4 1.5h0m2.3 0.5h0m-1.8 1h0m1.4 1.1h0m0.9 0.3h0m-1.7 1.1h0m-0.3 0.4h0m-0.6 0.2h0m1.8 1.2h0m0.3 1h0m-2.4 0.6h0m0.7 0h0m1.8 1.3h0m-2.6 0.3h0m1.7 0.7h0m-0.7 0.3h0m0.3 0.6h0m4.5-16h0m-0.9 0h0m-1.5 0h0m0.8 1.4h0m1.4 0.7h0m-1.3 0.5h0m0.7 0.2h0m0.1 1.3h0m-0.3 1h0m0.9 1.3h0m-0.1 0.8h0m-1.3 0.2h0m-0.6 0.9h0m0.6 0.2h0m0.9 0h0m-0.8 0.7h0m-0.7 1.1h0m0.9 0.2h0m1.2 0.6h0m-2.3 0.5h0m1.6 0.3h0m-0.5 0.7h0m-1.3 0.8h0m2.6 0.1h0m-2.2 0.4h0m0.1 0.6h0m-0.2 0.3h0m1.8 0.1h0m-2.2 0.7h0m1.5 0h0m-0.9 0.2h0m2.7-16.3h0m2.1 0.2h0m-1 0.1h0m1.3 1.3h0m-2.5 0.5h0m1.2 1.5h0m1.2 0.3h0m-1.5 0.5h0m-0.4 0.5h0m1.1 0.4h0m-0.1 0.1h0m-1.4 1.5h0m1.3 0.8h0m-0.1 0.3h0m0.2 0.5h0m0.3 0.3h0m-1.2 0.2h0m1.7 0.4h0m-1.4 0.6h0m-1.1 0.4h0m2.5 1h0m-0.7 0.1h0m-1.8 0.6h0m0.6 1.6h0m0.6 0.3h0m1 0.1h0m0.5 0.4h0m-2.9 0.5h0m1.5 0.4h0m0.6 0h0m-0.1 0.1h0m-1.6 0.6h0m-0.1 0.2h0m3.7-15.9h0m0 0.7h0m1.7 0.4h0m-1.3 1.7h0m1.1 0.4h0m-1.3 0.5h0m-0.2 0.5h0m1.5 0.4h0m-1.7 0.5h0m-0.1 1h0m1.7 0.5h0m-2 0.9h0m0.4 0h0m-0.3 0.4h0m1.5 0.9h0m0.3 0.9h0m-0.1 0.3h0m0.5 0.8h0m-0.4 0.1h0m-1.4 0.1h0m-0.8 0.2h0m0.7 0.3h0m-0.6 0h0m1.7 0.4h0m0.5 0.1h0m0 1h0m-0.9 0.6h0m0.4 0.2h0m1.1 0.6h0m-0.4 0.2h0m-0.1 0.3h0m-2.2 0.1h0m2.1 0.7h0m-1.2 0.1h0m1 0h0m0 0.4h0m3.5-15.5h0m-0.4 0.1h0m-1.5 0.1h0m2.1 0.2h0m-0.6 0.1h0m-1.8 0h0m1.7 0.7h0m0.5 0.2h0m-1.9 0.5h0m0.6 2.1h0m1.4 0.2h0m-2.1 0.7h0m2 0.5h0m-0.9 0.6h0m0.9 1.3h0m-1.5 0h0m0.2 0.7h0m0.1 0h0m0.7 1.3h0m-0.6 0.7h0m0.4 0.5h0m-1.2 0.9h0m-0.1 1.1h0m2 0.4h0m-1.5 0h0m-0.6 0.6h0m0 0.2h0m0 0.3h0m2 0.2h0m-2.4 0.1h0m1.9 0.5h0m-1.3 0h0m0.3 0.3h0m-0.3 0.1h0m5.2-15.5h0m-2.6 0.5h0m1.4 0.8h0m-1.1 0.2h0m-0.5 0.5h0m-0.2 0.3h0m0.9 0.1h0m0.9 0.7h0m-1.6 0.2h0m2.6 0.4h0m0 1.2h0m-0.7 0.3h0m-1.9 0.5h0m1.6 0.3h0m-0.1 0.9h0m0.7 1.6h0m-2.1 0h0m0.7 0.9h0m1.8 0.5h0m-0.7 1h0m-1.1 0.1h0m1.9 0.3h0m-1.2 0.7h0m0.4 0.3h0m-1.5 0.1h0m1.7 0.1h0m-0.5 1h0m0.3 0.3h0m-1.8 1.2h0m2.5 0.1h0m-1.3 0.1h0m0.8 0.1h0m-0.5 0h0m2.7-15.9h0m1.1 0.2h0m-1.6 0.5h0m-0.6 1.1h0m0.9 0h0m1.4 0.2h0m0.2 0.9h0m-0.6 0h0m-1.3 1.4h0m0.9 0.5h0m0.5 0.4h0m0.4 0.3h0m-1 1.1h0m-1.8 0.8h0m0.8 0.6h0m1.3 0.8h0m-1 0.1h0m0.1 0.2h0m-0.5 0.4h0m2.2 1.4h0m-0.5 0.3h0m-0.9 0.2h0m0.3 0.1h0m0.1 0.2h0m-1.8 1.6h0m1.6 0.1h0m0.6 0.3h0m-0.1 0.5h0m0.1 1.1h0m-0.9 0.2h0m-1 0.2h0m-0.3 0.1h0m5.2-16.2h0m0.6 0h0m-2.2 0.1h0m-0.3 0.5h0m0.5 0.3h0m0.9 1.2h0m-0.4 1.1h0m-0.5 0h0m-0.8 0.3h0m1.6 0.5h0m0.5 0.2h0m-0.9 0.1h0m0.7 1.8h0m-0.1 0.5h0m-1.6 0.9h0m-0.2 0.6h0m2.9 0.2h0m-2.1 0.4h0m1.4 0.2h0m-0.3 0.5h0m-1.3 0.7h0m1.6 0.4h0m0.3 1.4h0m-0.8 0.3h0m-0.2 0.5h0m-1.6 0.2h0m2.7 0.6h0m-1 0h0m-0.9 1.1h0m1.1 0.1h0m1 0.9h0m-0.1 0.2h0m-2.2 0.2h0m1.1 0.5h0m0 0.1h0m-1.6 0.1h0m0.3 0.1h0m5.2-16.8h0m-1.5 0.2h0m-0.9 0.3h0m1.6 0.3h0m-1.3 0h0m0 1.9h0m1.6 0h0m-0.2 1.4h0m0.4 1h0m-1.4 0.6h0m0.5 0.1h0m0.5 0h0m-0.5 0.1h0m-0.7 1.8h0m1.7 0.2h0m-0.7 0.6h0m1.2 0.8h0m-2 0.4h0m1.6 0.9h0m-0.1 1h0m0.3 0.1h0m-1.7 0.6h0m0.3 0.1h0m-0.8 1.2h0m-0.3 0.7h0m1.8 0.4h0m-1.7 0h0m2.5 1.7h0m-0.9 0.1h0m0.2 0.1h0m-1.5 0h0m-0.5 0.3h0m5.7-16.8h0m-0.7 0.3h0m0.4 0.2h0m-2.1 0.6h0m1.6 0.4h0m-0.3 0.6h0m1 0h0m-0.2 0.2h0m-0.6 0.6h0m-0.7 0.4h0m0.4 0h0m-0.5 0.3h0m0.8 0.7h0m-1.4 0.5h0m2.5 0h0m-0.9 0h0m-0.1 0.8h0m-0.1 0.4h0m0.3 0.1h0m-2.1 0.1h0m1.8 0.6h0m-0.1 0.6h0m-0.6 0.4h0m-0.5 0.4h0m0.3 0.2h0m1.3 0.8h0m-0.3 0.5h0m0.4 0.2h0m-1.6 0.2h0m1 0.8h0m0.8 0.9h0m-2.5 0.1h0m1.7 0.5h0m-1.7 0.6h0m0 1.5h0m2 0.2h0m-0.3 0.1h0m1.1 0.8h0m-1.4 0.5h0m-1.4 0.1h0m3.7-16.2h0m0.2 0.1h0m1 0h0m0.5 0.4h0m-2.1 0.3h0m0.8 0.2h0m0.1 0.4h0m0.6 0.8h0m-1.5 0.4h0m1.3 0.2h0m0.7 0.9h0m-2.2 0.4h0m1.2 1.2h0m0.9 0.7h0m-2.2 0.4h0m1.2 1.3h0m-1.1 0.3h0m-0.1 1.2h0m2.2 0.7h0m-0.8 0.2h0m1.5 0.2h0m-1.7 1.2h0m-0.5 1.5h0m0.8 0.2h0m-1.3 1.1h0m2.6 1.1h0m-1.5 0.2h0m0.5 0.2h0m3.7-16h0m-2 0.4h0m-0.5 0.4h0m2.2 0.1h0m-1 1.3h0m0.1 0h0m0.9 0.1h0m-1.6 0.2h0m0.8 1.4h0m-1.1 0.9h0m0.7 0.3h0m-0.6 0.3h0m1.9 0.5h0m-2.1 1.2h0m0.3 0.6h0m-0.3 0.6h0m0.4 2.4h0m0.7 0.9h0m0.9 0.5h0m-0.2 0.4h0m-1.7 0.5h0m1.1 1.2h0m0.3 0.2h0m1.3-14.4h0m2 0.1h0m0 0.8h0m0.5 0.6h0m-2.5 1.2h0m1.6 0h0m-1.4 3.7h0m-0.2 0.4h0m1 0.1h0m1 1.1h0m-1.7 0.1h0m2 0.4h0m-1.7 3.7h0m-0.3 0.7h0m3.4-12.6h0m-0.7 1.7h0m2.2 2.7h0m-1.3 5.2h0m0.8 5.2h0m2.6-13.5h0m1.5 0.1h0m-0.5 1.6h0m-1.5 6.6h0m6.9-9.9h0m0.1 6.1h0m2.7-3.8h0m5.5 7.7h0m3.6 4.4h0m3-9.4h0m10.8 2h0m2.6-2.2h0" stroke="#F8766D"/>
<path d="M540.2 145.3h0m0.7 13h0m-0.9 1.5h0m0.7 2.5h0m-1.1 1.1h0m1.4 0h0m-0.5 0.4h0m0.9 0.5h0m-2.1 0.7h0m1.7 0.3h0m-1.2 0.6h0m0.6 0.7h0m-1.2 0.3h0m1.6 0.8h0m-1.7 0.1h0m1 0.2h0m-0.7 0.1h0m-0.1 1h0m0.1 0.1h0m-0.2 0.2h0m1.8 0.5h0m-1.2 0.3h0m0.7 0.3h0m-0.8 0.1h0m1.1 0.1h0m-0.6 0.6h0m-0.6 0.4h0m0.9 0.2h0m-1.1 0.4h0m0.3 0.1h0m1.4 0h0m-1.3 0.6h0m0.6 0.1h0m0.2 0.1h0m-1.4 0.3h0m0.7 0.6h0m-0.6 0.2h0m0.7 0h0m-0.4 0.4h0m0.4 0.4h0m0.2 0.8h0m-0.9 0h0m1 0.2h0m-1.1 0.1h0m0.8 0.1h0m1.4 0.2h0m-0.8 0h0m2.4-21h0m-0.5 0.4h0m1.3 0.7h0m-2.1 0.4h0m-0.1 0.7h0m2.4 0.2h0m-1.6 0.5h0m1.7 1.6h0m-1.7 1h0m1.6 0.2h0m-0.2 0.2h0m-0.2 0.4h0m-0.6 0.3h0m-1.3 0.3h0m1.2 0.4h0m-1.2 0.1h0m0.3 0.2h0m1.9 0h0m-1.6 0h0m-0.4 0.8h0m2.2 0.7h0m-0.6 0.2h0m-0.2 1.8h0m0.5 0h0m0.6 0.1h0m-2.7 0.1h0m0.8 0h0m0.6 0.2h0m-0.1 1.6h0m1.3 0.4h0m-1.7 0.7h0m-0.7 0.2h0m0.6 0.1h0m-0.5 0.2h0m1.2 0.3h0m-0.6 1.9h0m0.6 0.3h0m-1 0.6h0m0.1 0.6h0m-0.6 0.9h0m1.4 0.2h0m0.5 0.5h0m0 0.3h0m-1.5 0.2h0m0.1 0.5h0m-0.2 0h0m0.3 0.1h0m2.1 0h0m-1.1 0.1h0m-1.5 0h0m4.4-30.6h0m-1.4 8.2h0m0.1 0.1h0m0.2 0h0m0 1.8h0m0.8 1.4h0m-0.4 0h0m0.7 0.6h0m-0.1 0.2h0m0.4 1.2h0m0.5 0h0m-1.5 0.1h0m0.8 0.4h0m0.9 0.1h0m-2.5 0.1h0m0.6 0.1h0m0 0.8h0m0.1 0.3h0m1.5 0.7h0m-0.1 0.3h0m-1.5 0h0m-0.6 1.4h0m0.5 0.5h0m1.2 0.7h0m0.9 0.1h0m-1.4 1.5h0m0.6 0.7h0m-1.8 1.6h0m1 0.8h0m0.9 0.3h0m-0.1 0.9h0m-1.9 0.7h0m2 1.2h0m-2 0.1h0m1.3 0h0m-0.7 1.2h0m0.9 0.5h0m1.1 0.9h0m-0.3 0h0m-1.3 0.1h0m-1.1 0.3h0m1.1 0h0m1 0.1h0m-1.4 0.1h0m2.2 0h0m-0.2 0.4h0m-1.9 0.1h0m4.5-26.6h0m0.6 2.7h0m-2.7 2.1h0m0.3 1.6h0m-0.1 0.4h0m-0.2 0.7h0m2.2 0.1h0m-1 0.7h0m1.1 0.3h0m-0.7 0.1h0m1.1 0.1h0m-1.9 1.6h0m-0.7 0.3h0m0.3 0.7h0m2.1 1.2h0m0.2 0.7h0m-1.5 0.1h0m1.5 0.5h0m-2.6 0h0m2.2 1.2h0m-0.5 0.3h0m-0.7 0.4h0m-1 0.8h0m0.6 0.2h0m2 1.1h0m-2.4 0.4h0m-0.4 0.5h0m1.1 0.7h0m0.4 0.8h0m-0.5 1.1h0m0.1 0.2h0m-0.2 0.1h0m1.5 0.6h0m-2 0.5h0m0.9 0.4h0m-0.5 0.4h0m1.3 0.4h0m0.7 1.5h0m-1.9 0h0m-0.1 0.6h0m-0.7 0h0m2.3 0.1h0m-0.9 0.2h0m-0.6 0h0m1.6 0h0m-0.6 0.1h0m3.8-27.4h0m-1.3 1.5h0m-1.3 1.5h0m2.8 0.3h0m-0.2 0.6h0m-1.3 0.2h0m1 0.3h0m-1.9 0.4h0m1.7 0.6h0m0.2 0.1h0m-0.7 0.3h0m-0.1 0.1h0m-0.2 0.6h0m0.8 1h0m-2 0.4h0m0.1 0.3h0m2.5 1h0m-0.9 0.4h0m-0.4 0.2h0m-1.4 0.4h0m0.9 0.3h0m-0.7 0.3h0m0.9 0.3h0m-0.2 0.5h0m1.5 0.4h0m-1.4 0.1h0m-1.1 0.1h0m0 0.3h0m1.7 0.9h0m0.3 1.9h0m0.3 0.9h0m-1.9 0.5h0m0 0.9h0m1.9 0.7h0m-0.8 0.4h0m0.2 0.3h0m-1.6 0.4h0m1.3 0.8h0m-1.1 0.5h0m2.5 0.2h0m-2.8 0.3h0m1.6 1.1h0m-1.6 0.3h0m0.2 0.4h0m2 0h0m-0.3 0.8h0m-0.2 0.2h0m-0.1 0.2h0m-1.1 0h0m0.3 1.1h0m0.6 0.7h0m1.2 0.2h0m-1.6 0.7h0m1.7 0.3h0m-2 0h0m-0.1 0h0m0.4 0.2h0m0.3 0.1h0m3.7-28.9h0m0.6 1.5h0m-1.3 0.6h0m-0.3 1.4h0m0.3 0.3h0m0.9 0.4h0m0.4 0.3h0m-0.6 0.1h0m-1.3 1h0m1.4 0.5h0m0.4 0.7h0m-1 0.1h0m-1.3 0h0m-0.3 0.9h0m2 0.8h0m-1.1 0.5h0m-0.9 0.3h0m2.4 0h0m-1.6 1.6h0m2.1 0.7h0m-2.7 0.3h0m0.9 0.2h0m1 0.2h0m-0.2 0.1h0m-0.9 0.1h0m0 0.4h0m1.4 0.1h0m-2.2 0.1h0m1.5 0.4h0m0.6 0.6h0m-1.9 0.6h0m1.6 0.3h0m-1.9 1.1h0m0 0.8h0m2.2 0.5h0m-0.7 0.2h0m0.1 0.9h0m-1 0.6h0m1.7 0.3h0m-1 0.5h0m1.4 0.7h0m-2.3 0.6h0m1.5 0.2h0m-1 0.1h0m0.8 0.4h0m0.4 0.3h0m-1 0.7h0m-0.8 1.2h0m2.5 0.2h0m-0.4 0.9h0m-2 0.5h0m1 0.5h0m0.7 0.9h0m-0.6 0.8h0m-0.6 0h0m0.7 0.1h0m0.7 0.4h0m-1 0.4h0m3.8-31.4h0m0.4 1.5h0m-0.9 3.1h0m-0.2 0.2h0m-0.5 0.4h0m-1 1h0m2.7 0.9h0m-0.5 0.2h0m-0.9 0.5h0m-0.2 1h0m-0.6 0.7h0m0.3 0.3h0m0.7 0.3h0m1.2 0.5h0m-1.3 0h0m0.6 0h0m0.2 0.6h0m-0.5 0.5h0m-1.1 0.3h0m0.9 0.3h0m-0.9 1.2h0m1.4 0.9h0m0 1.5h0m-1 0.1h0m1.4 0.6h0m-0.5 0.2h0m-0.1 0.5h0m-1.2 0.5h0m2.3 0.3h0m-1.2 1.1h0m-0.3 1.4h0m-1.2 0.1h0m2 0.2h0m-2 1.4h0m0.7 0.5h0m0 0.2h0m-0.1 0.5h0m0.8 0.2h0m1.3 0.2h0m-1.7 1.2h0m1.4 1h0m-2 0.2h0m0 0.1h0m2 0.1h0m-0.3 1.6h0m-2 0.1h0m2.5 0.1h0m-1.4 0.4h0m-0.2 0.3h0m0.5 0.6h0m1.1 0.2h0m-0.4 0.6h0m-0.8 0.6h0m-0.5 0.2h0m1.1 0.1h0m-1.9 0h0m-0.1 0.1h0m5.5-30.5h0m-1 1.2h0m-0.7 0.8h0m-0.3 1.3h0m-0.6 0.6h0m2.7 0.1h0m-2.7 0.7h0m1 0.1h0m0.8 0.5h0m-1.8 0.4h0m1.5 0.3h0m0.9 0.5h0m-2.1 1.3h0m2 1h0m-1.2 0.5h0m0.1 0.3h0m-0.3 0.5h0m1.3 0.9h0m-1.2 0.2h0m-0.6 0.1h0m1.6 0.3h0m0.8 1.1h0m-1.9 0.1h0m-0.5 0h0m0.9 0.2h0m1.2 0.3h0m-1.6 1h0m1.2 0.7h0m-0.8 0h0m-1.3 0.5h0m0.1 0.2h0m2.6 0.7h0m-2.6 0.9h0m0.2 0h0m0.5 0.6h0m-0.7 0.7h0m1.3 0.3h0m-0.5 0.2h0m1.1 0.1h0m-0.2 0.8h0m0 0.4h0m-0.5 0.2h0m0.1 0.3h0m0.9 0.4h0m-0.9 0.3h0m-1.1 0.1h0m1.1 0.3h0m0.3 0.3h0m0.3 1.2h0m0 0.2h0m0.2 0.6h0m-1 0h0m1.3 1.2h0m-2.2 0.3h0m2.3 0.6h0m-2 0.2h0m1.9 0.5h0m-0.3 0.4h0m-2.2 0.9h0m1.3 0.4h0m-0.3 0.8h0m0.3 0.3h0m1.5 0.2h0m-2.1 0.3h0m-0.2 0.1h0m4.8-32.1h0m-0.2 1.2h0m0.1 1.6h0m-1.8 0.5h0m0.2 1h0m2 0.2h0m-0.4 0h0m-2 0h0m1.3 0.2h0m-0.7 0.1h0m1.9 0.2h0m-0.3 0.6h0m-1.1 0h0m-0.4 0.1h0m1 0.1h0m0.1 1.6h0m-1.7 0.1h0m1.3 0.7h0m-1.4 0.7h0m0.1 0.6h0m-0.3 1.1h0m1.8 0h0m-0.4 0.5h0m1.5 1h0m-1.6 0.4h0m0.3 0.9h0m-0.5 0.3h0m1.2 0.1h0m-1.8 1.6h0m2 0.1h0m-1.5 1.3h0m1.2 0.1h0m0 0.6h0m-0.7 0.1h0m0.6 0.5h0m-2.1 0.3h0m0.7 0.8h0m0.4 0.5h0m-0.9 0.3h0m0.2 1.2h0m1.8 0.3h0m-0.1 0.2h0m-0.4 0.8h0m-0.3 0h0m1.1 0.7h0m-2.1 1.2h0m1.9 0.3h0m-0.8 0.5h0m1.2 0.1h0m-2.1 0.7h0m0.5 0.5h0m-0.6 0h0m0.3 0.6h0m-0.2 1.5h0m1.5 0.3h0m-1.1 1.9h0m-0.5 0.4h0m2.2 0.4h0m-1.7 0.4h0m1.1 0.1h0m2.6-32.9h0m-1.8 0.9h0m0.9 1.2h0m2.1 0.5h0m-0.6 0.1h0m-0.2 0h0m-0.1 0h0m-1.7 0.3h0m1.9 0.2h0m-1.4 0h0m1.9 1.1h0m-2.3 0.2h0m0.6 1h0m0.8 0.4h0m-0.4 0.2h0m0.5 1h0m0.5 0.1h0m-1.6 0.2h0m1.4 1.2h0m0.2 0.1h0m-2.5 0.1h0m1.4 0.2h0m1.5 0.2h0m-0.2 0.2h0m-1.8 0.1h0m0.2 0.4h0m-0.5 0.6h0m0.4 0.2h0m0.8 0.1h0m-0.1 1.2h0m-1 1.2h0m-0.1 0.2h0m1.6 0.2h0m0.6 0.3h0m-1.5 0.5h0m-0.8 0.2h0m2.1 1.3h0m-2.5 1h0m1.4 0h0m0.9 0.4h0m-1.5 1h0m0.4 1.4h0m-0.7 0.3h0m0.6 0.1h0m-0.9 0.5h0m2 0.8h0m-0.6 0.1h0m-1.3 0.4h0m1.4 0.4h0m-0.2 1.8h0m-0.9 0.6h0m0.1 0.7h0m-0.1 0.3h0m1.3 1.2h0m0.2 0.1h0m-1.2 0.3h0m0.5 0.6h0m-1.4 0.2h0m1 1h0m0.9 0.5h0m0.2 0.5h0m-1.2 0.9h0m1.5 0.2h0m-2.4 0.5h0m1.2 0.2h0m-0.3 0.2h0m4.7-36.2h0m-1.9 1.9h0m1.2 0.3h0m-1.3 1h0m1.2 0.1h0m-0.2 0h0m-1.2 0.3h0m0.8 0.3h0m-0.3 0.5h0m-0.9 0.2h0m1.2 0.8h0m-1 0.9h0m0.4 0.3h0m1.2 0h0m-1.9 1.8h0m1.1 0.5h0m0.5 0.6h0m-0.5 0h0m0.8 0.3h0m0 1.4h0m0.4 0.3h0m0.6 0.5h0m-2.3 0.1h0m-0.1 0.3h0m1.9 1.4h0m-1.4 0.7h0m-0.2 0h0m1.3 1.4h0m-2.1 0.4h0m2.5 0.2h0m-0.2 0.3h0m-1.3 0.4h0m1.3 0.3h0m-1.1 1.2h0m-0.1 0.8h0m0 0.2h0m0 0.2h0m-0.4 0.1h0m2 0.4h0m0.2 0.6h0m-0.3 0.2h0m0.4 0.5h0m-2.4 0h0m0.7 0.1h0m1.1 0.3h0m-1.3 0.3h0m-1 0.1h0m2 0.1h0m-0.2 1h0m-1.8 0.1h0m2.2 0.7h0m0.2 0.2h0m-2 0.3h0m0.4 0.2h0m0.7 0.3h0m0.9 0.1h0m-1.6 1.1h0m-0.8 0.7h0m2 0.6h0m-1.9 0.9h0m2.3 0.4h0m-0.8 1h0m-1.3 0.4h0m1.8 0.9h0m0.3 0.4h0m0.4 0.4h0m-2 0.1h0m0.1 0.2h0m-0.9 0.6h0m0.9 0.9h0m-0.5 0.4h0m2.3 0.2h0m3.1-34.4h0m-2.3 0.3h0m0.6 0.7h0m0.5 1.6h0m-1.1 0.4h0m1.3 0.3h0m-1.6 0.4h0m2.6 0.1h0m-2.6 0.4h0m0.2 0.2h0m-0.2 0.1h0m1.7 0h0m-0.6 0.1h0m-0.7 1.3h0m-0.5 1.6h0m1.6 0.3h0m0.3 0.3h0m-1.7 0.1h0m2.5 1.2h0m-1.2 0.2h0m-1.6 0.7h0m0.8 0.4h0m1 0.6h0m-1.1 1.9h0m1.7 0.4h0m-1.9 0.3h0m1.9 0.5h0m-1.5 0.8h0m1.9 0h0m-2.2 0.7h0m1 0.2h0m-0.6 0.7h0m-0.5 1.4h0m1.4 0.5h0m-1.4 0.8h0m1.2 1.3h0m0.5 1.5h0m-0.4 0.7h0m-0.7 0.2h0m0.9 1.1h0m-1.9 0.3h0m1.2 0.4h0m1.1 0.4h0m-2.1 0.9h0m0.2 0.6h0m1.6 0.4h0m-1 0.5h0m1.3 1h0m-2 0.4h0m-0.3 1.1h0m1.5 0.2h0m-0.9 0.2h0m-0.3 0h0m0.8 0.2h0m1.5 0h0m-2.6 5.1h0m1 0.3h0m2.3-36.9h0m2.3 0.1h0m-0.1 0h0m-1.4 1.4h0m0.3 0.1h0m-1.2 0.3h0m2.1 0.5h0m-1.4 0.5h0m-1 0.2h0m0.1 0.2h0m1.9 0.1h0m0 0.8h0m-1.1 2.2h0m1.8 0.1h0m-2.7 0h0m2.6 0.4h0m0.2 0.4h0m-1.6 0h0m1.5 0.9h0m-1.9 0.2h0m2 1.6h0m-1.6 0.1h0m0.6 1.4h0m-1.7 0.3h0m0 0.7h0m0.8 0.3h0m1.2 0.3h0m-1 0.5h0m1 0.4h0m-1.8 1h0m2.4 0.2h0m-2.4 1.1h0m2.4 0.1h0m-2.6 0.9h0m0.5 0.1h0m0.8 0.9h0m-0.7 0.7h0m-0.5 0.1h0m2.4 0.8h0m-0.8 0.7h0m-1.2 0.5h0m1.9 0.2h0m-0.3 0.4h0m-1.3 1.4h0m0.9 0.2h0m-0.2 0.2h0m0.8 0.5h0m-0.6 0.6h0m-1.6 0.4h0m-0.2 1h0m0.6 0.2h0m-0.6 0.2h0m2.8 0.1h0m-1.4 1.6h0m0.3 2.2h0m-1.5 0.3h0m1.8 0.3h0m-0.4 0.8h0m-1.5 1.4h0m1.9 0.8h0m-1.1 0.4h0m1.9 0.1h0m-1.5 2.1h0m3.8-43.7h0m0.3 4.7h0m-0.9 0.2h0m-0.2 0.9h0m1.3 0.1h0m-1.9 0.2h0m0.8 0h0m-1.3 0.2h0m1.5 0.1h0m-1.1 0.6h0m2.2 0.7h0m-1.4 0.2h0m-1.2 0.5h0m2.1 0.8h0m-0.3 0.7h0m-1.1 1.2h0m-0.9 0.1h0m0.5 0.1h0m0.1 1.5h0m0.9 1.6h0m0.8 1h0m-1.9 1.1h0m2.4 0.4h0m-2.4 0.7h0m0.9 0.2h0m-0.3 0.4h0m-0.3 0.6h0m-0.3 0.6h0m1.5 0.2h0m-0.4 0h0m0.9 2h0m-2.3 0.1h0m2.7 0.8h0m-2.3 0h0m1.2 0.3h0m1.1 0.2h0m-0.9 1h0m-1.9 0.3h0m0.2 0.2h0m1.4 0.7h0m-0.5 0.9h0m1.6 0.1h0m-2.1 1.3h0m1.8 0.8h0m-1 0.9h0m-1.4 0h0m2.7 1.2h0m-0.8 0.3h0m-0.5 1.4h0m-0.7 1.1h0m2 0.3h0m-2 1h0m0.8 0.6h0m-0.9 1.8h0m1.1 0.2h0m0.9 1h0m-1.7 0.6h0m0.9 0.1h0m-1 0.5h0m0.8 2.3h0m2.8-46.8h0m1.4 7.4h0m0.1 1.5h0m-1.6 0.5h0m0.5 0.6h0m-1.1 0.2h0m1.3 0.1h0m-1 0.2h0m0.5 1.9h0m-0.3 0.2h0m1.2 0.2h0m-1.4 1.6h0m0.9 0.5h0m0.6 0.5h0m-2.6 0.6h0m0.2 0.4h0m0.4 0.3h0m0.8 0.1h0m0.3 1.1h0m-1.7 0.1h0m1.2 0.4h0m0.9 0.5h0m0.6 1.3h0m-1.8 0.1h0m1 0.2h0m-1.3 0.2h0m0.9 0.1h0m1.2 0.4h0m-1.5 0.3h0m1.5 1.4h0m-1.3 1.2h0m-1.1 0.1h0m1 0.6h0m-0.3 0.6h0m1.4 0.5h0m-2 0.3h0m0.6 0.5h0m1.8 0.2h0m-0.1 1.2h0m-1.9 1h0m0.8 0.8h0m1.1 0.5h0m-2.6 0.3h0m0.7 0.8h0m-0.3 0.1h0m1.7 1.5h0m-0.4 0.3h0m1.1 0.6h0m-1.5 0.5h0m-0.5 0.3h0m0 0.6h0m-0.7 1.4h0m0.8 0.4h0m-0.2 0.1h0m0.6 1.6h0m1 0.4h0m-1.1 0.4h0m-0.8 1.1h0m0.6 1.5h0m-0.8 0.9h0m0.3 3.2h0m2.1 0.3h0m3.1-42.5h0m-0.6 2.2h0m-0.6 0.1h0m0.2 0.3h0m1 0h0m-1.2 0h0m0.6 0.1h0m-0.6 0.2h0m0.6 0.3h0m-1 0h0m-0.5 0.3h0m0 0.1h0m0.5 0.7h0m-1 0.1h0m2.4 1.1h0m0.2 0.2h0m-2.4 0h0m2.3 1.5h0m-0.7 0.2h0m-1.7 0.3h0m1.1 0.1h0m0.4 1.1h0m-1.5 0.2h0m2.6 0.7h0m-1.2 0.3h0m1.1 0.1h0m-2.6 0.5h0m0 0.3h0m1.4 0.2h0m-1.5 1.4h0m1.4 0.5h0m1.3 0.2h0m-1.3 0.8h0m1 0.5h0m-1.3 0.1h0m0.5 0.4h0m0.4 2h0m-1.6 0.2h0m2.3 0.5h0m-0.8 0.5h0m-1.3 0.5h0m-0.4 0h0m0.5 0.2h0m-0.4 0.5h0m2.2 0.2h0m0 0.3h0m-0.4 0.4h0m-0.7 0.5h0m0.8 0.7h0m0.1 0.1h0m-0.5 0.1h0m0.6 0.1h0m0.4 1.2h0m-1.4 0.4h0m0.9 0.7h0m-1.5 0.9h0m-0.9 1.4h0m1.6 0.2h0m-0.9 0.8h0m1.3 0.3h0m0.6 0.9h0m-0.1 1.4h0m-1.6 0.5h0m0.5 0.9h0m0.3 3.3h0m-0.2 2h0m0.4 0.5h0m-0.4 0h0m0.1 1h0m-1.4 1.3h0m0.1 0.6h0m1.3 0.1h0m-0.3 0.6h0m4.5-43.4h0m-1.3 0.8h0m0.2 0.3h0m1 0.7h0m-0.6 0.1h0m-2 0.3h0m1.2 0.1h0m0.6 0.7h0m-1.2 0.1h0m0.3 0h0m-0.6 0.7h0m2 0.1h0m0.4 0.3h0m-1.2 0.4h0m-1.1 0.4h0m-0.3 0.3h0m2.2 0h0m-1.7 0.7h0m1.3 0.5h0m-0.5 1.9h0m1.4 1.2h0m-2.6 0.1h0m2.1 1.1h0m-1.4 0.4h0m0.1 1.3h0m1.8 0.4h0m-2.6 1h0m2.6 0.5h0m-0.1 0.3h0m-2.1 0.4h0m-0.4 1.1h0m0.8 0.3h0m1.5 0.1h0m-1.2 0h0m-0.2 1h0m-0.9 0.1h0m1.7 0.5h0m-0.5 0.6h0m0.7 1.3h0m-1.9 0.3h0m1.1 0.5h0m0.7 0.2h0m0.2 0.6h0m-2.1 0h0m1.3 0.1h0m0.1 0.4h0m0.3 0.9h0m1.1 0.1h0m-2.6 1.4h0m1.8 0.3h0m0.7 0.5h0m-2.9 0.5h0m1.4 0.9h0m1.5 0.2h0m-1.8 0.2h0m-0.8 0.3h0m1.7 2.5h0m0.4 0h0m-1.4 6.5h0m-0.4 1.4h0m-0.3 2.8h0m5.6-50.9h0m0 6h0m-0.1 3h0m-1.3 0h0m-0.1 0.1h0m0 0.1h0m-1.2 0.6h0m0.5 0h0m1.6 0.7h0m-2.1 0.1h0m0.1 0.3h0m2.4 0.1h0m-2.2 0.2h0m1.7 0.2h0m-2 0.7h0m0.8 1.4h0m0.8 0.4h0m-1.1 0.5h0m0.5 0.1h0m1.7 0.8h0m-0.2 0.6h0m-1.9 0.9h0m1.1 0.5h0m0.5 0.1h0m-0.9 0.1h0m-1.4 0h0m0.2 0.6h0m2.1 0h0m0.1 0.5h0m-1.9 1.1h0m2.1 0h0m-1.5 0.4h0m0.5 0.1h0m0.4 0.3h0m-0.4 0.8h0m0.7 1h0m-1.9 0.3h0m0.5 0.3h0m1.7 0.2h0m-0.4 0.2h0m-1.3 0.3h0m-0.2 2.2h0m1.3 0h0m0.2 0.6h0m-0.4 0.7h0m-1.7 0h0m1.1 0.4h0m0.5 1h0m-0.9 1.1h0m0.4 0h0m0.9 0.5h0m-1.6 1.2h0m0.8 0.3h0m-0.7 0.4h0m1.7 0.2h0m-0.9 0.2h0m-0.8 1h0m0.5 0.5h0m1.7 0.8h0m-1.4 4.3h0m-1.4 1.2h0m2.5 1.4h0m-0.7 0.2h0m0.6 2.2h0m0.2 7.1h0m-2.6 3.1h0m1.1 3.8h0m3.1-51.9h0m0 0.4h0m0.3 0.9h0m0.6 0.7h0m-0.8 0h0m0.1 0.1h0m-0.2 0.2h0m0.6 0.2h0m-1.9 0h0m1.9 0.9h0m-0.5 1.7h0m0.6 0.3h0m-1.9 0.3h0m1.7 0.8h0m-1.1 0.1h0m0.8 0.1h0m1 0h0m-1.7 1.2h0m1.4 1.3h0m-1.4 0.8h0m0 0.3h0m1.4 0.3h0m-0.7 0.1h0m0.2 1.4h0m-1.2 0h0m2.3 1.8h0m-1.5 0.3h0m1.2 1.5h0m-2 0.7h0m0.7 0.3h0m1.6 0.5h0m-0.3 0.2h0m-0.6 0.2h0m-0.6 0.1h0m-1 0.1h0m1.5 0.3h0m1.1 0.1h0m-1.3 0.6h0m-0.4 0h0m1.4 0.1h0m0.3 0.1h0m-2.8 0.4h0m2.6 0.5h0m-1.8 0.7h0m0.8 1.1h0m-0.5 0.4h0m-0.6 0.1h0m0.5 1.6h0m0.5 0.6h0m0.5 0.2h0m-0.7 0.2h0m-1.2 1.8h0m2.3 0.3h0m-1.6 0.1h0m-0.2 0.3h0m0.1 2.5h0m1.3 2.3h0m0 2.4h0m-0.9 0h0m0 10.8h0m-0.7 3.3h0m0.4 2.8h0m0 0.6h0m3.6-62h0m0.8 6h0m0 1.2h0m-0.1 0.6h0m0.1 0.3h0m-0.7 0.3h0m-0.6 0.6h0m-0.3 0.7h0m-0.6 0h0m2.6 0.8h0m-2.1 0.4h0m0.5 0.4h0m1 0.2h0m-1.5 0.3h0m0.2 0.8h0m1.9 0.2h0m-1.4 0.6h0m-0.9 0.1h0m1.3 0.4h0m-0.9 0.9h0m0.2 0.1h0m1 0.4h0m0.3 1.7h0m0.3 0h0m-0.9 0.2h0m-1.3 1.7h0m0.2 0.3h0m1.1 0.1h0m-0.4 0.3h0m0.7 0.6h0m0.8 1h0m0.2 0.1h0m-2.6 0.6h0m1.4 0h0m-1.7 0.1h0m0.4 0.4h0m0.2 0.5h0m1.7 0.3h0m-1.7 1.3h0m0.7 0.2h0m1.5 1h0m-2.5 0.7h0m1.4 0.3h0m1.1 0.1h0m0 0.7h0m-1.3 0.9h0m0.5 0.2h0m-1.9 1.1h0m1.9 1.8h0m-0.9 0.1h0m-0.7 0.1h0m0.4 0.7h0m-0.5 0.4h0m-0.2 0.7h0m0.1 1.3h0m2.5 0h0m-1.3 0.2h0m0.6 0.1h0m-1.6 1.4h0m0.5 1h0m0.9 0.8h0m-1.6 0.8h0m0.4 5.5h0m-0.4 1.3h0m1.3 3.3h0m0 0.7h0m0.4 3.5h0m-1 0.7h0m-0.2 0.2h0m1.7 0.7h0m1.8-63h0m0.7 12.6h0m-1.7 0.6h0m1.8 0.4h0m-0.9 0h0m1.1 0.1h0m0.2 0.2h0m-2 0.1h0m0.7 0.3h0m1.5 1.3h0m-1.6 0.7h0m-0.9 0.4h0m2.3 0.4h0m-1.3 0.8h0m-0.5 0.2h0m1.8 0.9h0m0.3 0h0m-1.1 0.3h0m0.1 1.1h0m1.1 0.4h0m-1.9 0h0m0.3 0.1h0m-0.6 0.5h0m1.3 1.4h0m-1.6 0.2h0m1.5 0.2h0m-1.4 1.2h0m0.7 0.4h0m1 0.6h0m-1.5 0.4h0m1.6 0.6h0m-1.5 0.8h0m1.9 1.3h0m-2.1 0.8h0m0.9 0.5h0m0.3 0.2h0m-0.9 0h0m-0.8 0.3h0m1.4 0.1h0m-0.6 1.2h0m-0.3 0.4h0m0.9 0.5h0m-0.6 0.5h0m1.5 1.1h0m-1.2 0.5h0m0.7 0.7h0m-1.4 0h0m1.5 1.2h0m-1.6 0.2h0m0.2 0.4h0m1.6 0h0m-0.9 0.1h0m1.6 1.5h0m-1.7 1h0m0.3 1.6h0m-1.3 0.3h0m1.5 0.7h0m-0.9 1h0m0.7 0.3h0m-1.5 4h0m1.8 0.3h0m-1 0.4h0m0.5 3.4h0m-1.3 0h0m0.4 0.4h0m0 3.5h0m2.1 0.5h0m-1.6 1.2h0m-0.5 1.4h0m5-50.6h0m0 0.4h0m0 1.3h0m0.5 0.3h0m-0.1 0.4h0m-2 1h0m-0.3 0h0m0.8 0.1h0m-0.7 0.1h0m0.1 0.4h0m1 0.1h0m0.3 0.4h0m-0.2 0.7h0m-0.8 0.2h0m-0.6 0.2h0m-0.3 0.8h0m1.8 0.2h0m-1.2 0.8h0m-0.6 0.2h0m2.3 0.7h0m-2.2 0.3h0m1.3 1h0m-0.4 0.2h0m0.2 1.1h0m1.5 0.3h0m0.2 0.4h0m-0.8 0.9h0m0.5 0.1h0m-1.8 0.4h0m-0.7 0.9h0m1.2 0.2h0m0.8 0.3h0m-1.7 0.1h0m1 0.6h0m-1.2 0.4h0m1.4 0.4h0m-0.8 0.1h0m1.8 0.6h0m-1.2 0.2h0m-0.3 0.1h0m-1 0.2h0m2.7 0.1h0m-2 0.5h0m-0.5 0.9h0m1.7 0.1h0m-1.8 0.6h0m1.1 1.3h0m0.8 0.6h0m0.6 0.1h0m-1.8 1.3h0m2 0.3h0m-0.8 0.7h0m-1.8 0.3h0m2.5 0.1h0m-2.8 1.2h0m0 0.5h0m2.4 0.2h0m-0.7 0h0m-0.1 2.1h0m0.8 0.4h0m-2 1.2h0m2.2 0.2h0m-2.1 3h0m-0.6 0.3h0m2.2 3h0m0.3 0.8h0m-1.4 2.8h0m0.7 1.8h0m0.9 2.4h0m-0.6 3.5h0m-1.6 2.2h0m4.4-51.1h0m-0.1 1.3h0m-0.1 0.2h0m0.2 0.4h0m0.3 0.3h0m0.4 0.8h0m-0.9 0.6h0m-1.3 0.2h0m2.5 0.9h0m-1 0h0m-1.5 0.2h0m0.8 0.7h0m1 0.1h0m0.3 0.1h0m-2 1.5h0m-0.3 0.3h0m2.7 0.1h0m-1.2 1h0m0.1 0.1h0m0.5 0h0m-1.5 1.5h0m0.4 0.7h0m-0.1 0.3h0m1 0.2h0m-0.5 0h0m-1.5 1.9h0m1.2 0.5h0m0.9 0h0m0.6 0.1h0m-0.7 0.4h0m-0.6 0.1h0m0 0.8h0m-1.1 0.3h0m1 0.7h0m1.3 0.2h0m-0.2 0.1h0m-0.2 1.1h0m-0.5 0.2h0m-1.1 0.5h0m2 0.6h0m-1.8 0.1h0m0.6 1h0m1.2 0.1h0m-2.6 0.2h0m0.3 1.5h0m1.5 0.7h0m1 0.5h0m-2.4 0.3h0m2.3 0.2h0m-1.2 0.3h0m0.9 0.1h0m-1.6 0.7h0m1.7 1.5h0m-0.6 0.9h0m-1.5 1.1h0m1.5 2h0m0.2 0.3h0m-1.2 0.1h0m-0.9 1.9h0m1.8 5.5h0m-1.9 1.2h0m2.5 1.7h0m-2.2 8h0m1.5 3.5h0m-1.4 0.3h0m4.9-55.5h0m-0.8 0.4h0m0.7 1h0m-0.9 0.2h0m-0.2 0.7h0m0.3 0h0m-0.9 0h0m0.9 0.4h0m1 0.3h0m-2 0.3h0m0.8 0h0m0.4 0.9h0m0.4 0.5h0m-1.8 1.1h0m0.1 0.6h0m2.4 0h0m-0.6 0.4h0m0.6 1.1h0m-1.2 0.8h0m-0.7 1h0m2.2 0.8h0m-1.7 0.5h0m0.5 0.4h0m-0.5 0h0m1.1 0.7h0m-0.8 0.2h0m-1.2 0.2h0m0.3 1.5h0m-0.1 0.7h0m1.7 0.3h0m-1 1.3h0m1.7 0.9h0m-2.1 0h0m0.6 1.2h0m0.8 0.8h0m0.1 0h0m0.5 0.6h0m-2.6 0.5h0m2.4 0.2h0m-0.2 1.6h0m-0.5 0h0m-2 0.8h0m2.6 0h0m-1.2 0.2h0m-1.3 1.3h0m1.5 0.1h0m0.5 1h0m0.5 1.1h0m-0.9 1.6h0m-0.6 0.8h0m0.7 1.4h0m-0.6 1.9h0m-0.1 1.6h0m0 1.1h0m0.1 1.2h0m-0.6 3.3h0m1 0.6h0m1 15.4h0m3-58.6h0m-0.5 0.2h0m0.9 0.2h0m-1.3 0.7h0m0.2 0.6h0m0.4 0.4h0m-0.4 0.2h0m-0.6 0.1h0m-0.4 0.4h0m0.6 0h0m0.5 1.3h0m-0.5 0.3h0m0.9 1h0m-1.4 0.3h0m0.3 1.3h0m-0.6 0.3h0m-0.7 0.4h0m1.2 0.5h0m1.3 0.6h0m-0.7 1.9h0m0.1 0.4h0m0.4 0.3h0m0.1 0.2h0m-2.3 0.4h0m0.1 0.4h0m1 0.4h0m1.1 1h0m-0.5 0.7h0m-0.2 0.1h0m1.2 1.6h0m-1.8 0.7h0m-0.9 0h0m0.6 0.7h0m2 0.4h0m-0.5 0.2h0m0.4 0.6h0m-1.3 0.6h0m-1 0.8h0m2.6 1.1h0m-1.9 1.6h0m0.5 0.6h0m-0.5 0.4h0m1.2 0.1h0m0.2 1.2h0m-2.3 0.3h0m1.7 1.8h0m-0.8 0.3h0m-0.3 0.6h0m0.7 0h0m1.4 0.2h0m-2.3 3.4h0m0.6 0.7h0m1.5 1.1h0m-0.2 0.9h0m-2.2 0.6h0m-0.1 0.5h0m1.1 20.8h0m1.8 1.1h0m-2.7 9.8h0m4.8-69.7h0m0.2 1h0m-0.6 0.5h0m0.8 0h0m-1.6 0.5h0m1.5 0.2h0m-1.7 0.3h0m1.4 0.1h0m0.1 0.2h0m-1.9 0.9h0m0.9 0.9h0m1.7 0.2h0m-0.6 0.2h0m-0.5 0.3h0m-0.1 0.6h0m-1.2 0.6h0m1.8 0.2h0m-0.8 0.3h0m0.9 0.4h0m0.5 1.5h0m-2.2 0.2h0m2.1 0h0m-2.7 0.1h0m1.3 2h0m0.9 0.1h0m-1.5 0.1h0m-0.6 0.4h0m2.3 0h0m-0.2 1.2h0m-0.3 0.3h0m-0.3 0.1h0m-1.1 1.8h0m0.7 0.5h0m1.1 1.2h0m-2.2 0.2h0m0.7 0.2h0m1.9 0.4h0m-1.1 0h0m-1.6 0.5h0m1.1 0.4h0m1.7 0.6h0m-0.8 1h0m0.7 0.9h0m-1.2 0.1h0m-0.5 1.4h0m0.1 0.3h0m1.3 0.7h0m-0.3 0.1h0m-1.4 1h0m0.3 0.4h0m1.6 2.5h0m-0.1 0.2h0m-2.3 0h0m-0.3 0.4h0m0.3 0.2h0m1.2 1.7h0m-0.5 0.9h0m1.8 0.9h0m-2 11.7h0m1.3 1.9h0m-1 5h0m3.9-53.5h0m-0.9 1.5h0m-0.3 0.5h0m-0.3 0.9h0m2.1 0h0m-1.7 0.2h0m0.7 0.5h0m1.2 0.1h0m-2 0h0m1.9 0.2h0m-2.4 0.1h0m1.2 0.6h0m1.4 0.6h0m-0.2 0.3h0m-2.3 0.7h0m0.1 0.4h0m1.9 0.5h0m-1.1 0.1h0m0.8 0.1h0m-2.1 0h0m2.3 0.9h0m0.4 0.7h0m-1.9 0.9h0m1.8 0.2h0m-2.5 0.6h0m1.2 0.7h0m0.7 1.4h0m0.5 0.3h0m-0.1 0.7h0m-1.9 0.2h0m0.8 0h0m1.6 1.1h0m-1.8 0.4h0m-0.6 1.1h0m1.7 0.8h0m0.5 0.4h0m-2.5 0.7h0m2.8 0.1h0m-2.1 0.5h0m1.1 0.8h0m-1.6 1.2h0m2.4 0.1h0m-0.5 0.4h0m-0.7 1.5h0m0.8 1.9h0m-1.7 0.5h0m0.3 1.8h0m1.3 0.4h0m-0.4 0.8h0m-1.4 1.9h0m1.3 0.1h0m0.8 1.4h0m-1.3 1.1h0m-1.2 0.4h0m1.7 2.2h0m1 1.8h0m-0.4 0.5h0m-1.9 0.2h0m-0.3 1.6h0m0.8 15.7h0m4-57.2h0m-0.5 1.1h0m-0.2 0.4h0m1.3 0.1h0m-2.1 0.5h0m0.2 0.1h0m1.3 0.7h0m-1.8 0.2h0m2.7 0.8h0m0 0.3h0m0 0.1h0m-2.4 0h0m2.3 0.1h0m-1.2 0.4h0m0.2 0.3h0m-1.7 1.8h0m2.2 0h0m-1.9 1.2h0m1.2 0.2h0m0.9 1.5h0m-1.4 0.8h0m-0.9 0.2h0m1.6 0h0m-1.4 0.5h0m-0.1 0h0m1.8 0.3h0m-1.3 0.6h0m-0.1 0.7h0m0.8 0.4h0m0.3 0.8h0m-1.3 0.6h0m0.7 0.2h0m0.8 0.5h0m-0.2 0h0m0.5 0.4h0m-0.9 0.6h0m0.7 0.2h0m0.3 1.4h0m-2.3 0.1h0m0.8 0.2h0m1.7 1.5h0m0.4 0.5h0m-1.7 0.1h0m0.6 0.1h0m-1.7 0.4h0m0.7 1.3h0m-0.2 0.1h0m2.2 0.1h0m-0.6 0.1h0m-0.7 2.3h0m-1.2 0.3h0m-0.1 0.5h0m1.9 0.2h0m-0.2 1.1h0m0.9 1.5h0m-0.8 0.9h0m-1.9 0.3h0m1.6 2h0m0.1 1.8h0m-1.8 3.2h0m-0.1 8.9h0m0.9 9.5h0m0.5 15.2h0m4.6-74.1h0m-0.1 1.9h0m0 0.3h0m-1.2 0.2h0m1.2 0.3h0m-0.5 0.1h0m-0.2 0.1h0m0.3 0.1h0m-0.9 0.1h0m-1.5 0.1h0m1.4 0.3h0m0.9 0.2h0m-1.7 0.3h0m-0.6 0.4h0m2.9 0.3h0m-2.7 0.4h0m1.5 0.5h0m-1.7 0h0m0.7 2.2h0m1.3 0.6h0m0.1 0.2h0m-1 0.9h0m-0.5 0.1h0m0.3 1.1h0m1.1 0.7h0m-1 0.7h0m0.8 0.1h0m0 0.6h0m-0.7 1.8h0m0.4 0.2h0m-0.9 0.4h0m0.2 0.4h0m0.6 0.1h0m1.5 0.6h0m-2.9 0.7h0m2.4 0h0m-0.3 0.1h0m-1.6 0.6h0m0.6 0.6h0m-0.2 2.2h0m1.5 0.8h0m-1.9 1.1h0m0.7 1.5h0m0.7 0.2h0m-1 0.3h0m1.1 1h0m-1.4 1.1h0m0.6 0.9h0m-0.4 0.6h0m0.9 1.8h0m-1.5 0.1h0m1.5 1.8h0m0.4 4.5h0m0.3 0.8h0m-2 0.6h0m2 7.7h0m-1.6 0.6h0m0.6 14.7h0m4.5-62.9h0m-0.6 0.3h0m0.3 0.7h0m-1 0.3h0m0.3 0h0m-0.2 0.6h0m-0.1 0.8h0m-0.8 0h0m0.2 0.7h0m-0.4 0.2h0m1 0.5h0m1 0.1h0m-1.8 0.2h0m-0.8 0.3h0m1 0h0m1.4 0.4h0m-0.1 0.5h0m-2.1 0.3h0m2.4 1.1h0m-2.3 0.5h0m1.9 0.2h0m0 0.3h0m0.3 0.4h0m-2.1 0.5h0m-0.3 0.2h0m1.5 0.1h0m-0.2 0.9h0m-0.9 0.8h0m2.3 0.9h0m-1.9 0.1h0m-0.5 0.4h0m-0.3 0.8h0m2 0.6h0m-0.2 0.6h0m0.2 0.8h0m-1.9 0.3h0m0.8 0.1h0m-0.8 1h0m0.8 0.6h0m1.6 0.4h0m-2.6 1.4h0m1.9 0.3h0m-1.3 0.4h0m0.6 1.3h0m-1.2 0.2h0m0.1 0.7h0m0.4 1.2h0m0.8 0.5h0m-0.4 1.3h0m-0.9 0.4h0m2.3 1.3h0m-1.6 0.1h0m-0.1 1h0m0.1 1.7h0m-0.6 2.5h0m2.2 10.3h0m-1.4 1.2h0m1.1 0.7h0m-2 3.4h0m0.9 4.7h0m4.3-53.7h0m-0.7 0.2h0m1.1 1h0m-0.7 0.1h0m-0.6 0.1h0m-0.4 0.2h0m-0.6 0.6h0m2.5 0.4h0m-0.3 0h0m0.3 0.7h0m-0.3 0.2h0m-0.2 0h0m0.3 0.8h0m-1.8 0.1h0m0.1 0.8h0m-0.3 1h0m2.2 0.5h0m-1 0.9h0m-1.3 0.8h0m2.3 0.5h0m-1.8 0.4h0m1.2 0.1h0m-0.4 1.3h0m-1.6 0.8h0m1.9 0h0m0.4 0.3h0m-0.6 0.7h0m0.3 1.3h0m0.7 0.5h0m-2.6 0.3h0m1.9 0.7h0m-1.6 0.3h0m1.9 0.6h0m-2.6 0.1h0m0.3 0.3h0m2.4 0.2h0m-0.9 0.4h0m0.8 0.6h0m0.4 0.1h0m-2.1 0.9h0m-0.3 0.2h0m0.1 0.4h0m1 1.5h0m0.3 1h0m-2 0.1h0m0.6 0.3h0m-0.6 0.9h0m2.2 0.6h0m-0.9 6.1h0m1.6 0.7h0m-1.9 2.5h0m0.5 1.4h0m-1.1 2.7h0m-0.1 0.8h0m2.2 0.7h0m0.1 3h0m-1.7 13.5h0m3.3-57.7h0m0.3 0.2h0m0.7 0.5h0m-1.6 0.2h0m1.9 1h0m-1.6 0.2h0m0.7 1.1h0m1 0h0m0.3 0.4h0m-0.7 1.1h0m-1.5 0h0m-0.6 1.3h0m2.2 0.1h0m-1.3 0.6h0m1.8 0.7h0m-1.5 1.3h0m-0.7 0.1h0m0.5 0.1h0m1.5 0.5h0m-0.9 0.1h0m-1 0.6h0m1 0h0m-1.4 1.6h0m2.5 0.2h0m-0.3 0.5h0m-2.3 0h0m1.3 0.5h0m-0.3 0.9h0m1.3 0.6h0m0.1 0.8h0m-1.9 0.2h0m0.5 0.2h0m0.7 0.4h0m-0.4 1.1h0m0.9 0.1h0m-1.9 1.9h0m1.9 0h0m0.4 0.1h0m-2.5 1.8h0m2.5 0.3h0m-2.8 1h0m2.1 1.7h0m-1.3 1h0m0.6 0.2h0m-0.7 0.1h0m0.6 3.9h0m0.3 0.5h0m-0.1 1h0m0.8 4.7h0m2.9-39.6h0m-2.1 1.7h0m2.7 0.1h0m-2 0.2h0m0.8 0.6h0m0.5 0.1h0m-1.9 0h0m1.1 0.5h0m1.5 0.9h0m-0.7 0.3h0m-1.4 0.3h0m-0.1 0.2h0m0.3 0.8h0m1.9 0.2h0m0.1 0.5h0m-1.8 0.2h0m-0.5 0.3h0m0.6 0h0m-0.6 0.8h0m0.8 0.4h0m-0.2 1.2h0m-0.5 0.4h0m1.3 0.2h0m-0.5 0.2h0m-0.3 0.5h0m0.8 0.3h0m0.6 0.2h0m-2 0h0m-0.6 1h0m1.8 1h0m-1.8 0.3h0m2.7 0.8h0m0 0.5h0m-1.9 0.3h0m1.9 1.5h0m-0.2 0.3h0m-1 0.1h0m-1.3 0.3h0m1.7 0h0m0.9 0.3h0m-0.3 1h0m-1.9 0h0m-0.5 1.7h0m1.1 0.2h0m1.6 0.2h0m-1 0.3h0m-0.8 1.7h0m-0.8 5.5h0m1.7 1.9h0m0.7 1.1h0m-1.4 0.1h0m-0.6 3.1h0m-0.1 2.1h0m0.5 0.7h0m2 0.2h0m-0.8 2.1h0m0.6 9.2h0m-1.3 1.5h0m-0.8 16.3h0m4.8-69.6h0m0.2 0.7h0m-1 0h0m-0.2 1.2h0m-0.6 0.9h0m1.7 0.7h0m-1.3 0.4h0m0.7 0.1h0m0.8 0.2h0m-0.2 0.7h0m0.1 0.4h0m-2.4 0.6h0m0.4 0.9h0m0.5 0.2h0m1.3 0.5h0m-0.4 0.2h0m-1.4 0.5h0m2.2 0.3h0m-1.7 1.2h0m-0.9 1.2h0m0.6 0.2h0m1.6 0.3h0m-2.4 0h0m2.2 1h0m0 1.2h0m-1.3 1.1h0m1.7 0.3h0m-2.5 1.3h0m2.6 0.3h0m-1.3 0.3h0m-1 0.8h0m1.9 1.3h0m-0.7 0.4h0m-1.4 1.9h0m0.1 3.1h0m2.3 0h0m-1.2 2.5h0m-1.4 1.4h0m2.9 2.4h0m-1.1 9h0m0.6 5h0m-2.4 3.7h0m1.4 6.3h0m4.2-57.6h0m-1.9 0.5h0m1.4 1.6h0m0.2 0.5h0m-2.1 0.3h0m1 0.2h0m0.6 0.8h0m0.8 0.7h0m-1 0.2h0m0.4 0h0m-1.5 0.3h0m0.3 0.1h0m0.9 0h0m-1 0.5h0m1.8 0.4h0m-0.1 0.2h0m-1.2 1h0m1.4 0.5h0m-1.7 1h0m1.1 0.2h0m0.4 0.1h0m-1.4 0.1h0m0.2 0.4h0m-1.1 0.9h0m2.4 0.6h0m-2.1 1.1h0m1.7 0.1h0m-1.2 0.4h0m1.4 0.7h0m-0.5 1h0m-0.5 0h0m0.8 0.8h0m-2.2 0.7h0m1.4 0.3h0m0.3 0.1h0m-0.8 0h0m2 1.5h0m-1.9 0.1h0m0 1h0m0 2.1h0m-0.1 1.1h0m-0.3 1.1h0m-0.4 0.9h0m1 14.6h0m-0.9 11.3h0m0.4 29.5h0m3.9-81.3h0m0 1.8h0m0.4 0.3h0m-0.1 0.3h0m-1.8 0.7h0m1.1 0.3h0m-0.6 1.1h0m0.9 0.1h0m0.4 1.2h0m0.9 1.4h0m-1.5 0.2h0m0.9 0.8h0m0.6 1.2h0m-1.8 0.1h0m1.9 0.2h0m-2.3 1.3h0m0.4 1.4h0m-0.4 0.1h0m1.9 0.4h0m-1.3 0.1h0m0 0.6h0m-0.9 0.2h0m2.4 0.8h0m-1.5 0.1h0m1.3 0.6h0m-1.7 1.4h0m-0.2 1.6h0m0.6 0h0m-1.1 0.5h0m0.6 0.5h0m-0.2 2.1h0m1.1 1.9h0m-0.3 33.3h0m4.6-59.1h0m-0.8 0.4h0m0.4 0.8h0m0.1 0.4h0m-1.3 0.1h0m0.5 0.1h0m-0.9 0.4h0m1.6 0.2h0m-0.7 0.1h0m0.8 0.7h0m-1.9 0.1h0m1.1 0.2h0m0.3 0.2h0m-0.2 1.2h0m-0.8 0.3h0m1.1 0.8h0m-2 0.4h0m0 1h0m1.3 0.4h0m0.7 0.4h0m-2 0.3h0m1.6 1.4h0m0.2 0.1h0m-0.4 0.7h0m1.3 0.4h0m-1.3 0.5h0m-0.7 0.3h0m2.1 0.4h0m-2.6 0.8h0m1.4 0.8h0m-0.8 0.2h0m1.3 0.5h0m-2.1 0.3h0m1.4 0.7h0m-1.4 0.3h0m0.4 0.2h0m0.8 0.3h0m-0.1 0.5h0m-0.7 1.4h0m1.6 0.6h0m-2 0.4h0m1 0.9h0m0.9 1.8h0m-1 0.7h0m-0.8 0.8h0m1 2.8h0m0.5 2h0m1.2 5.7h0m-1.9 1h0m-0.3 8h0m0.5 7.2h0m-0.1 14.3h0m3.8-66h0m0.9 0.7h0m-0.1 0.5h0m-1.9 0.3h0m0.7 0.5h0m1.2 1h0m-1.7 0.5h0m1.3 0.1h0m-0.1 0.6h0m0.3 1.3h0m0.2 0.4h0m-1.1 0h0m-1.4 0.1h0m0 0.2h0m0.4 0.5h0m0.7 0.2h0m0.2 1h0m-0.9 1.1h0m0.1 0.9h0m-0.3 0.2h0m2.4 0.2h0m-0.4 0.1h0m-0.2 0.1h0m-1.7 1.2h0m2 1.2h0m-2.1 1.1h0m0.1 1h0m-0.3 6.6h0m0.4 0.9h0m-0.4 17.6h0m0.9 13.2h0m3.8-55.8h0m-1.4 0.4h0m1.2 0.4h0m0.9 0.1h0m-2.1 0.3h0m-0.3 0.3h0m1.1 1.4h0m0.3 0.8h0m0.1 1.2h0m0.9 0.4h0m-2.3 1.4h0m0.2 0.1h0m2.3 0.1h0m-1.6 0.7h0m-0.6 1.4h0m1.3 1.4h0m0 2.2h0m-0.2 0.4h0m0.5 0.1h0m-0.6 0h0m1 1.2h0m-1.8 0.1h0m0.8 0.3h0m0.3 0.9h0m-1.7 1.1h0m0 0h0m1.1 1.1h0m0.2 0.9h0m0 6.8h0m0.9 3.9h0m0.4 3.7h0m2.9-36.6h0m-1.4 0.9h0m1.2 1.2h0m-0.6 0.5h0m-0.1 1.2h0m1.1 0.5h0m-1.2 0.1h0m0.9 0.5h0m-2.1 0.3h0m0.1 0.3h0m-0.2 0.7h0m2.2 0.6h0m-1.9 0.7h0m0.8 0.7h0m0.5 0.4h0m0.1 0.3h0m0.8 0.4h0m-2.9 0.7h0m2.3 0.9h0m-1.8 0.8h0m1.7 0h0m-2.2 0.3h0m1.1 2.1h0m-1 0.5h0m5.3-17.4h0m-0.3 0.5h0m-0.3 0.5h0m0.2 2h0m-0.9 0.4h0m0.9 1.5h0m0.5 0.7h0m0.4 0.6h0m-0.6 0.4h0m-1.3 1h0m0.6 0.4h0m1.3 0.7h0m-2.5 0.6h0m1.7 0.7h0m-1.8 0.9h0m1.9 0.9h0m0.6 1.1h0m-0.2 0.7h0m-0.4 1.8h0m-1.1 0.2h0m0.1 1h0m-0.1 6.4h0m-1 6.7h0m4.8-31.7h0m-0.4 1.4h0m0.8 3.8h0m0.5 0h0m-1.2 0.1h0m-1.6 2.4h0m1.2 0.5h0m-1.2 1h0m1.1 0.3h0m0.5 1.2h0m-0.1 0.2h0m-1.1 0.2h0m2.3 0.6h0m-2.5 1.6h0m1.7 0.9h0m-1.8 3.1h0m1.3 3.7h0m3.4-19.5h0m0.3 0.1h0m-1.1 0.7h0m1.2 2.2h0m-1.6 5.3h0m-0.5 1.9h0m2.4 2.7h0m-1.2 15.1h0m3.7-30.7h0m-0.7 2.1h0m-1.2 1.7h0m1.2 5.8h0m0.1 36.7h0m3.2-51.1h0m-1.5 0.7h0m2 4.8h0m-0.8 3.6h0m0 2.3h0m2-3.5h0m-0.3 8.5h0" stroke="#619CFF"/>
</g>
</g>
<path clip-path="url(#cC)" d="M512.85 200.88L684.90 42.98" stroke="#111" stroke-width="1" stroke-dasharray="0.9 2.2 3.1 2.2" fill="none"/>
<path d="M539.14 200.8v2.1M512.9 176.75h-2.1M579.23 200.8v2.1M512.9 139.96h-2.1M603.51 200.8v2.1M512.9 117.68h-2.1M651.70 200.8v2.1M512.9 73.46h-2.1" stroke="#555" stroke-width="0.65" fill="none"/>
<text class="tk" x="538.5" y="212.4" text-anchor="middle">0.01</text>
<text class="tk" x="509.7" y="180.4" text-anchor="end">0.01</text>
<text class="tk" x="579.2" y="212.4" text-anchor="middle">0.10</text>
<text class="tk" x="509.7" y="143.6" text-anchor="end">0.10</text>
<text class="tk" x="603.5" y="212.4" text-anchor="middle">0.20</text>
<text class="tk" x="509.7" y="121.3" text-anchor="end">0.20</text>
<text class="tk" x="651.7" y="212.4" text-anchor="middle">0.50</text>
<text class="tk" x="509.7" y="77.1" text-anchor="end">0.50</text>
<text class="ax" x="599.1" y="226.4" text-anchor="middle">PRS−CS</text>
<text class="ax" transform="translate(483.5 122.2) rotate(-90)" text-anchor="middle">lassosum</text>
<text class="tag" x="461.5" y="41.2">C</text>
<rect x="51.15" y="252.60" width="172.05" height="156.90" fill="#EBEBEB"/>
<clipPath id="cD"><rect x="51.15" y="252.60" width="172.05" height="156.90"/></clipPath>
<g clip-path="url(#cD)">
<path d="M57.40 252.6V409.5M51.1 404.10H223.2M97.48 252.6V409.5M51.1 367.39H223.2M129.67 252.6V409.5M51.1 337.93H223.2M165.91 252.6V409.5M51.1 304.75H223.2M210.04 252.6V409.5M51.1 264.34H223.2" stroke="#fff" stroke-width="0.45" fill="none"/>
<path d="M77.44 252.6V409.5M51.1 385.75H223.2M117.53 252.6V409.5M51.1 349.04H223.2M141.81 252.6V409.5M51.1 326.81H223.2M190.00 252.6V409.5M51.1 282.70H223.2" stroke="#fff" stroke-width="0.85" fill="none"/>
<g fill="none" stroke-linecap="round" stroke-width="2.56">
<path d="M61.1 363.5h0m-1.5 0.9h0m1.1 1.3h0m-0.4 4.7h0m0.4 9.2h0m-0.5 2.3h0m-0.1 0.4h0m0.3 0.2h0m0.5 0.1h0m-1.1 0.3h0m0.4 0.1h0m4.3-48.2h0m-2.5 29.1h0m1.6 14.2h0m-0.9 0.5h0m-0.7 0.3h0m1.4 0.2h0m-1 0.6h0m0.6 0h0m-1 0.8h0m1.7 0.8h0m-1.7 0.8h0m0.1 0.3h0m1.3 0.2h0m-1.2 0.2h0m-0.4 0.9h0m2.1 0.1h0m-1.2 0.4h0m1.4 0.9h0m-2.3 0.4h0m0.8 0.1h0m1.2 0.1h0m-2.1 0h0m3.1-24.2h0m2.1 2.2h0m-0.5 13.1h0m-1.5 0.6h0m1.4 0.7h0m-1 1.4h0m-0.6 0.8h0m2.3 0.1h0m0.1 0.3h0m-0.3 0.2h0m0.1 0.2h0m-1.9 0.6h0m1.6 1h0m-1 1h0m1.3 0.6h0m-2.1 0.4h0m1.3 0.2h0m-1.3 0.3h0m0.2 0.2h0m1.8 0.2h0m0 0.1h0m3.3-27.6h0m-0.1 2.2h0m-1.9 3.8h0m1 3.7h0m-0.9 1.2h0m1.4 5.4h0m-0.5 0.6h0m-1 0.5h0m0.2 1.7h0m1.2 0h0m-0.4 0.8h0m0 1h0m0 0.8h0m1 1.8h0m-1.7 0.2h0m-0.9 0.7h0m0.7 0.3h0m1 0.7h0m1 0.1h0m-0.5 0.1h0m-0.2 1.1h0m-0.3 0.4h0m-1 0h0m1.8 0.3h0m-1 0h0m0.6 0.1h0m1.7-25.9h0m-0.2 2.4h0m2.3 5.1h0m-2.5 0.3h0m2 4.7h0m0.6 1.4h0m-2.2 0h0m1.2 0.1h0m-0.9 0.1h0m-1.1 0.1h0m0.5 1h0m0.8 0.3h0m0 0.6h0m-1 0.9h0m1 0.6h0m1.2 0.4h0m-2.5 0.8h0m3 0.4h0m-0.7 0.1h0m-2.1 1.4h0m2.7 0.4h0m-2 0.2h0m0.6 0.7h0m-0.9 0.3h0m0.9 0.6h0m1.4 0h0m-0.2 0.7h0m-1.6 0.6h0m1.3 1.4h0m-1.9 0.3h0m2.7-25.4h0m2.5 4.3h0m0 6.1h0m-2.1 0.7h0m1.9 0.4h0m-0.4 0.6h0m-1.8 0h0m1.6 0.6h0m-0.4 0.7h0m1 1.1h0m-0.3 0.4h0m-2.1 0.9h0m1.7 0.1h0m0.3 2.1h0m-1.7 0.1h0m0.2 1.5h0m0.7 0.2h0m1.3 0h0m0 1.6h0m-0.9 0.2h0m1 0.1h0m-0.2 0.3h0m-1.7 0.3h0m0.5 0h0m0.3 1.5h0m1 0.5h0m-2.5 0.5h0m0.3 0.1h0m0.2 0.2h0m2 0h0m-1.8 0.3h0m0.7 0h0m2.2-14.2h0m0.1 0.9h0m0 1h0m-0.6 3.5h0m0.1 8.6h0" stroke="#00BA38"/>
<path d="M78.1 386.4h0m1.3 0.4h0m-1.3 0.1h0m-0.5 0.4h0m0.6 0.3h0m-0.7 0.9h0m0.6 0.1h0m0.8 0.5h0m-0.9 0.1h0m1.1 0.2h0m-1.2 0.1h0m0.1 0.1h0m-0.2 0h0m-0.3 0.2h0m0.6 0.7h0m0.1 0.4h0m-0.5 0h0m0.6 0.2h0m0.9 0.5h0m-1.2 0.3h0m0.4 0.3h0m-0.5 1h0m-0.2 0.2h0m1.2 0h0m-0.9 0.6h0m0.4 1h0m-0.9 0.1h0m0.5 0.8h0m0.9 0.2h0m-1.4 0.1h0m0.1 1.2h0m0.4 1h0m-0.5 1.5h0m0.7 0.6h0m-0.5 0.1h0m0 0.7h0m0 0.1h0m0.1 0.5h0m1.3 0.3h0m2-14.9h0m1 0.1h0m-2.4 0.6h0m2.6 0.5h0m-0.9 0h0m0.8 0.5h0m-0.9 0.8h0m-1.4 0.9h0m1.9 0.3h0m-0.5 1.4h0m-1.6 0.4h0m1.5 1.1h0m-1 0.6h0m-0.1 0.7h0m2.3 0.4h0m-2.3 0.2h0m1.8 0.1h0m-1.1 0.6h0m-0.9 1.8h0m1.4 0.2h0m-1.4 0.2h0m1.3 0.2h0m0.5 0.3h0m0.2 0.2h0m-0.7 0.1h0m-0.9 0.5h0m-0.7 1h0m2.2 0.1h0m0.5 0.6h0m-0.2 0.7h0m-1.5 0h0m0.9 0.2h0m2.1-16.7h0m1.5 1.1h0m-0.8 0.3h0m-1.7 0.6h0m1.6 0.5h0m0.7 1.1h0m-0.8 0.4h0m-0.1 1h0m-0.5 0.3h0m-0.3 0.4h0m2.3 0.2h0m-1.1 0.1h0m-1.6 1h0m1.5 0.9h0m0.3 0.2h0m-0.1 0.5h0m-1.9 0.5h0m0.1 0.7h0m2.4 1h0m-0.2 0.1h0m-1.9 0.1h0m0.3 0.2h0m0.4 0.5h0m0 1h0m1.4 1.3h0m-2.3 0.3h0m-0.2 0.8h0m2.2 0.3h0m-0.8 0.1h0m0.1 0.2h0m0.3 0h0m0.6 0.3h0m-1.2 0.5h0m2.2-15.9h0m0.6 0.2h0m0.4 1.4h0m-0.3 0.9h0m-0.2 0.2h0m1.5 0.7h0m-0.5 1.3h0m-0.7 0.2h0m-1.2 0.2h0m2 1.1h0m-1.1 1.2h0m1.8 0.2h0m-2.2 0.2h0m1.7 0.1h0m0.1 0.2h0m-1.6 1.2h0m2.1 0.3h0m-1.2 1.4h0m0.1 0.1h0m-1.6 0.1h0m0.1 1.3h0m1.5 0.3h0m-1.3 0.6h0m0.7 0.7h0m1.7 0h0m-0.6 0.6h0m0.4 0.4h0m-1.4 0.3h0m-0.4 0.3h0m0.5 0.3h0m0.4 0.2h0m1.2-15.8h0m2.1 0.3h0m-1.5 0.1h0m1.5 0.1h0m-1.4 0.5h0m0.8 0.9h0m0.4 0h0m-0.5 0.3h0m-0.9 1h0m-0.2 0.4h0m1.3 0.2h0m1.2 0.2h0m-2.3 0.7h0m1.2 0.2h0m0.7 0.5h0m-1.6 0.1h0m1.9 1h0m-0.8 0.9h0m-1.8 0.2h0m2.7 0.1h0m-0.8 0.6h0m-0.6 0.8h0m-0.6 1.1h0m1 0.7h0m-0.9 0.8h0m1.2 0.7h0m0.7 2h0m-1.6 0h0m-1.2 0.4h0m2.2 0.3h0m0 0.3h0m-1.9 0.3h0m0.9 0.1h0m2.2-16.3h0m0 0.9h0m1.2 0.2h0m-0.5 0h0m1.2 0.1h0m-1.6 0.4h0m1 0h0m0.8 1.1h0m-1.1 0.3h0m0.2 1h0m-0.6 0.6h0m-0.4 0.7h0m2.3 0.7h0m0 0.8h0m-0.7 0.2h0m-0.5 0.2h0m1 1.1h0m-1.3 0.5h0m1.4 0.2h0m-1.2 0.5h0m-0.7 0.7h0m1.4 0.2h0m-0.3 0.3h0m-1.8 1.2h0m2.2 0.7h0m-2 0.5h0m0.3 0.2h0m2.1 1.2h0m-1.7 1h0m0.6 0.5h0m-0.8 0.1h0m1.1 0h0m-1.3 0.1h0m3.9-15.5h0m1.2 0.2h0m-2.5 0.1h0m1.5 0.2h0m-0.9 0.2h0m0.9 1.4h0m0.2 0.5h0m-1.1 0.2h0m0.6 0.6h0m0.2 1h0m1.2 0.2h0m-2.6 0.3h0m0.8 0.6h0m1.3 0.6h0m-0.9 1.5h0m1.3 1.2h0m-1.1 0.1h0m0.6 1.1h0m-0.5 0.8h0m-0.5 0.2h0m-0.5 1.4h0m1.1 0.3h0m0.1 0.4h0m-0.4 0.1h0m-1.5 0.9h0m1.8 0.5h0m-1.2 0.2h0m1 0.2h0m1.3 0.4h0m1.9-15.4h0m1.1 0.1h0m-2.7 1.2h0m0 0.5h0m2.5 0.1h0m-1 0.7h0m-0.7 1.5h0m-1.1 0.6h0m0.6 0.1h0m1.5 0.6h0m-0.7 0.5h0m-1.3 1.2h0m2 1.3h0m0.5 0h0m-1.2 0h0m1.5 0.9h0m-0.8 0.7h0m-0.8 0.7h0m1.1 0.5h0m-1.9 0.3h0m1.1 1.1h0m0 0.7h0m-1.3 1.5h0m2.4 0.4h0m-2.2 0.3h0m0.6 0h0m3.2-16.5h0m1.4 1.2h0m-2.2 0.8h0m1.9 0.5h0m-1.2 0.3h0m0.4 0.2h0m-0.8 1.5h0m1.9 0.4h0m-2.6 0.1h0m2 0.6h0m-0.7 0.2h0m0.9 1.4h0m0.7 0.4h0m-2.7 0h0m2.5 0.3h0m-1.4 0.4h0m0.7 1.2h0m-0.6 2h0m1.4 0.9h0m-2.2 0.1h0m1.3 0.2h0m0.1 1h0m-1 0.2h0m1.8 0.4h0m-1.8 0.8h0m0 0.1h0m1.6 0.9h0m-1.2 0.2h0m-1.2 0.1h0m0.7 0.1h0m4.5-16.3h0m-0.8 1.4h0m-1.2 1.2h0m0.8 0.5h0m0.4 0.3h0m-0.7 0.5h0m-0.7 0.6h0m1.5 0.2h0m1.2 1.1h0m-1.6 0.6h0m-0.2 0.1h0m0.4 1.2h0m1.2 0.3h0m-2.5 0.6h0m1.3 1.3h0m0.8 0.6h0m-1.8 0.4h0m0.9 0.9h0m-1.1 0.3h0m1.5 1h0m-1.3 0.7h0m1.7 1.3h0m-1.7 0.3h0m-0.2 0.1h0m1.7 0.7h0m-0.8 0h0m1.9-16.5h0m2.5 0.8h0m-0.2 0.3h0m-0.1 0.5h0m-1.7 0.1h0m1.2 0.4h0m-0.7 0.1h0m-0.5 1.3h0m0.4 0h0m0.4 0.6h0m-0.7 0.5h0m-0.3 1h0m1.7 1.1h0m-1 1h0m-0.1 0.4h0m-0.7 0.3h0m0.8 0.9h0m-0.7 1.2h0m1 0h0m-0.5 0.3h0m1.9 0.2h0m-0.1 0.4h0m-0.8 1h0m0.4 0.2h0m-2.2 0.5h0m1.9 1.1h0m0.8 0.9h0m-2.2 0h0m1.4 0.3h0m-2.1 0.6h0m2.6 0.2h0m-2.2 0h0m1.5 0.2h0m1.6-16.6h0m0 0.1h0m0.4 0.1h0m0.5 0h0m-0.7 0.3h0m1.8 0.4h0m-0.7 0.8h0m-0.6 0.3h0m0.5 1h0m-0.2 0.5h0m-1 0h0m0.3 0.3h0m0.8 0.1h0m1.3 0.1h0m-2.4 0.7h0m-0.3 0h0m0.3 0.2h0m0.1 0.1h0m0.4 0.2h0m1.2 0.6h0m-1.7 0h0m0.3 0.2h0m1.7 0.3h0m-2 0.2h0m0 0.2h0m0.2 1h0m-0.6 0h0m1 0.1h0m0.2 0h0m-0.6 0.3h0m0 0.3h0m-0.2 0.2h0m-0.2 1.6h0m2.1 0.1h0m-0.8 0h0m0.9 0.4h0m-2.1 0.5h0m1.1 0.3h0m-1 1.8h0m1.1 0.7h0m-0.2 0.1h0m-0.8 0.2h0m-0.6 0.3h0m2.1 1.2h0m3.5-15.4h0m-0.8 0.4h0m-1.1 1h0m1.5 0.5h0m-0.7 0.2h0m-0.2 0h0m0.8 0.8h0m-1.4 0.1h0m0.5 0.5h0m1.6 1.3h0m-1.7 0.6h0m1.8 1.4h0m-1.4 0.6h0m0.1 0.3h0m-0.8 0h0m-0.3 0.7h0m1.9 0h0m-2.3 0.2h0m1 0.9h0m0.2 0.1h0m0.2 0.1h0m-1.5 1.1h0m1 0.6h0m0.6 0.4h0m-1.1 0.9h0m2.2 0.5h0m-2.1 0.3h0m0.6 0.9h0m-1.1 0.2h0m0.7 0.3h0m0.4 0.3h0m1.8 0h0m0.7-15.6h0m0.3 0.5h0m0.3 0.6h0m0.2 0h0m-0.8 2.1h0m2.2 4.7h0m-0.8 0.5h0m-0.9 1.1h0m-0.4 1.8h0m1.8 0.7h0m-0.9 0.4h0m0.5 1.2h0m1-13.6h0m0.6 0.3h0m0.2 0.6h0m-1 2.1h0m0.7 0.2h0m0.7 1h0m0.9 0.2h0m0.4 0.9h0m-0.9 0.7h0m0.9 0.9h0m-1.8 2.2h0m1.9 1.2h0m-1.4 1.1h0m1.3 2.1h0m2-11.8h0m-1.1 0.3h0m1.5 0.1h0m-0.5 1.4h0m0.4 0.6h0m-1.4 2.5h0m2 0.2h0m2.8-2.6h0m-0.2 0.7h0m3.3-1.5h0m-2.4 5h0m1.7 4.5h0m2.9-11.7h0m-1.2 2.7h0m4.2 4.1h0m3.3-7.9h0m-0.7 10.1h0m2.2-7.6h0m0.8 2.5h0m0.7 4.9h0m3.8-3.3h0m-0.2 1.8h0m3.5 4.1h0m7.8-10.1h0m0.7 0.1h0m0.1 3.9h0m-0.4 2.9h0m4.7-5.3h0m4.9 5h0m0.7-3.3h0m8.7-5.5h0m3.4 4.1h0m0.6 7h0m2.4-7.2h0" stroke="#F8766D"/>
<path d="M79.3 374.9h0m0 0.8h0m-1.6 1.1h0m1.6 0.2h0m-1 0.3h0m0 0.2h0m-0.3 1.1h0m-0.1 0.3h0m-0.2 0h0m0.9 0h0m-0.6 1.1h0m0.9 0.1h0m-1.3 0.4h0m0.2 0.4h0m0.5 0.2h0m-0.5 0.2h0m0.4 0.2h0m0.1 0.8h0m0.5 0.1h0m-0.9 0.1h0m1 0.3h0m-1.2 0.2h0m0.6 0.4h0m0.5 0.2h0m-0.8 0.1h0m-0.2 0.1h0m0.8 0.5h0m0.8 0.1h0m-0.9 0h0m-0.7 0.5h0m1.1 0.1h0m-0.5 0.4h0m0.9 0.3h0m-1.4 0h0m4.2-15.4h0m-1.4 1.8h0m0.3 0.9h0m1.4 1h0m-2.6 0.5h0m2 0.4h0m0.7 0.2h0m-0.2 0h0m-1.3 0.1h0m-0.8 0.9h0m1.3 0.6h0m0.5 0.2h0m-0.2 1.2h0m-1.8 0.7h0m2.4 0.4h0m-2.6 0.5h0m1.9 0.7h0m-1.4 0.5h0m0.3 0.9h0m-1 0.7h0m2.8 0.1h0m-0.8 1.2h0m0.6 0.8h0m-1.4 0.4h0m0.4 0.6h0m1.1 0.1h0m-1.4 0h0m4.3-18.8h0m-0.2 1.6h0m0 0.8h0m-2.2 2.6h0m0.3 0.6h0m1.6 0.2h0m-1.1 0h0m0.7 0.1h0m-0.8 0.6h0m1.7 0.1h0m-1.3 0.6h0m-0.6 0.6h0m1.5 0.2h0m-1.5 0.1h0m0.4 1.7h0m0.5 0h0m-1.2 0.5h0m0 0.1h0m2.2 0.8h0m-2.3 0.7h0m1.1 0.1h0m0.2 0.7h0m-0.6 0.5h0m0.8 0.1h0m-0.6 0.9h0m-0.3 0.8h0m1.9 0h0m-1 1.8h0m-1.2 0.7h0m1.5 0.2h0m-2.1 0.4h0m2.4 0.3h0m-1.6 0.1h0m-0.7 0.1h0m0.5 0.1h0m1.1 0h0m0 0.1h0m0.5 0h0m2-18.9h0m1.4 0.7h0m-0.6 0.3h0m-0.6 0.8h0m1.4 0.1h0m-0.7 0.9h0m-2.1 0.8h0m1.9 0.5h0m-1.3 0h0m1.8 1.2h0m-2.2 0.6h0m0.3 0.7h0m0.6 0.1h0m-0.5 0.5h0m0.9 0.3h0m0.7 0.3h0m-2 0.7h0m1.2 0.2h0m-1.3 0.6h0m2 0.1h0m-1.6 1h0m2.3 0h0m-2.4 0.7h0m1.7 0.7h0m-1.7 0.5h0m1.9 0h0m-0.4 0.5h0m-1.4 0.7h0m0.2 0.5h0m2.1 0.1h0m-1.4 1h0m0.3 0.3h0m0.9 0h0m-1.1 0.3h0m-0.8 0.3h0m0.9 0.5h0m-1 1.6h0m-0.4 0.1h0m-0.3 0.3h0m2.2 0.1h0m-0.5 0h0m0.3 0.1h0m0.3 0.1h0m-1.9 0.1h0m1.3 0h0m3.6-36.3h0m0.6 13.5h0m-2.4 0.8h0m1 2.3h0m1.3 0.7h0m-0.9 0.3h0m0.8 1h0m-1.9 0h0m0 1.1h0m0 0.9h0m2.1 0.2h0m-1.3 1.1h0m1 1h0m-1 0h0m-1 1.1h0m-0.1 0.7h0m1.9 0.1h0m-1.6 1.2h0m0.8 0.3h0m-0.6 1.3h0m0.4 0.6h0m-0.6 0.3h0m-0.7 1.1h0m2.2 0.3h0m-1.5 1.4h0m0.7 0.1h0m-0.1 0.2h0m1 0.2h0m-1.2 1.1h0m1.3 0.4h0m-2.5 0.4h0m2.9 1.1h0m-1.4 0.6h0m1.4 0.1h0m-1.8 0h0m0.5 0.5h0m-0.3 0h0m-0.9 0.2h0m2.5 0h0m2-21.4h0m-0.1 0.6h0m-1.7 0.2h0m2 0.1h0m0.2 0h0m-0.9 1.2h0m0.9 0.5h0m-1.4 0.8h0m0.1 0.6h0m1.4 0.9h0m-2.1 1h0m2.5 0h0m-2.3 0.3h0m2.2 1.4h0m-1.9 0.1h0m1.6 0.4h0m-1.9 0.4h0m1.4 0.2h0m-0.4 0.5h0m0.3 1.5h0m-1.7 1.2h0m0.6 0h0m0.1 0.3h0m1.3 0.3h0m-1.7 0.2h0m0.9 0.3h0m-0.5 0.3h0m0.4 1.1h0m-1.1 0.9h0m1.8 1h0m-0.5 0.9h0m0.2 0.4h0m0.4 0.5h0m-1.1 0h0m1.6 0.5h0m-1.7 0h0m1 0.6h0m0.7 0.3h0m-0.4 0.2h0m-1.5 0.4h0m0.9 0.4h0m0.4 0.1h0m-1.4 0.2h0m0.2 0.4h0m0 0.1h0m1 0.1h0m0.3 0.1h0m1.9-26.4h0m1.2 0.9h0m-0.3 0.3h0m-0.9 0.2h0m2 1.2h0m-1.2 1.1h0m0.8 0.2h0m-0.4 1.5h0m-1.7 0.1h0m0.4 0.5h0m1.2 0.3h0m-1.5 1.4h0m-0.2 0h0m1.3 0.2h0m-0.1 0.2h0m0.6 0.4h0m-0.6 0.2h0m0.2 0.4h0m-1.3 1.5h0m1.4 0.2h0m1 0.6h0m-0.7 0.5h0m-2 0h0m0.5 1.1h0m1.5 0.6h0m-1.2 0.2h0m-0.7 0.6h0m2.8 0.6h0m-1.4 0.7h0m-1.2 0.5h0m1.5 1h0m-0.6 0.8h0m-0.3 0.1h0m-1 0.9h0m0.9 0.5h0m-0.1 0.1h0m-0.4 0.3h0m1.9 0.1h0m-0.5 0.3h0m1.1 0.1h0m-1.1 0.2h0m-1.3 0.3h0m0.9 0.7h0m-0.1 1.3h0m0.7 1.1h0m0.2 0.2h0m-1.5 0.1h0m1.1 0.5h0m-1.3 0.3h0m2.1 0.4h0m0 0.2h0m-0.3 0.3h0m-1.4 0.2h0m1.1 0h0m-1.8 0h0m3.5-28h0m1.6 4.2h0m0.4 0.1h0m-1.7 0.5h0m1.3 0.6h0m-1.5 0.2h0m-0.4 0.2h0m0.4 0.1h0m1.4 0.6h0m-1.9 0.3h0m2.2 0.3h0m-0.9 0.2h0m0.4 0.6h0m-1 0.6h0m1.3 0.5h0m0.1 0.3h0m0.4 0.9h0m-1.8 0.3h0m0.3 0.5h0m-1.2 0.2h0m2.8 0h0m-1.1 0.5h0m0.4 1h0m-2.2 0.9h0m1.8 0.7h0m1 0.5h0m-0.4 0.7h0m-1.7 0.4h0m2 0.2h0m-0.7 0.6h0m0 0h0m-1.8 0.2h0m2.2 0.3h0m-1.4 0.4h0m0.6 1.2h0m1.3 0.3h0m-2.5 0.3h0m0.6 0.2h0m-0.4 0.8h0m1.4 0.1h0m-1.4 0.9h0m0.2 0.6h0m-0.2 0.9h0m0.4 0.4h0m1.2 0.1h0m-1.7 1.1h0m1.1 0.5h0m0.3 1.1h0m-0.5 0.3h0m-0.2 1.1h0m-0.1 0.2h0m0.6 0.1h0m0.7 0.2h0m-0.8 0h0m3.5-26.5h0m-1.7 0h0m1.5 0.4h0m0.5 0.3h0m-1.3 1.1h0m-0.5 0.3h0m0.1 0.1h0m2.1 0.1h0m-1.7 0.4h0m1.1 0.5h0m0.3 0.2h0m0.3 0.8h0m-0.9 0.1h0m-0.5 0.7h0m0 0.4h0m0.9 0.4h0m-1.9 0.1h0m1.1 0.2h0m1.4 0.1h0m-2.6 0.1h0m1.3 0.8h0m1.3 1.1h0m-2 0.3h0m1 1.3h0m0.5 0.4h0m-0.1 0.1h0m0.4 0.3h0m-0.8 0.4h0m-1.1 1.1h0m1.1 0.3h0m-1.6 0.3h0m2.6 0.2h0m-1.3 0h0m0.8 0.4h0m-2.3 0.9h0m1.1 0.6h0m-0.4 0.2h0m0.7 0.4h0m0.6 0.2h0m-1 0.2h0m1.6 1.4h0m-1 0.6h0m-0.3 0.9h0m-0.4 0.8h0m1.3 0.3h0m-1.9 0.8h0m0 1.3h0m-0.3 0.2h0m1.5 0.1h0m0.7 0.1h0m-0.8 0.8h0m-1.3 0.6h0m0.5 1.4h0m1.2 1h0m0.6 0.2h0m-2.5 0.1h0m2.2 0.2h0m3.3-30.5h0m0.1 0.9h0m-0.6 0h0m0.1 1.1h0m0.4 1h0m-2 0h0m0 0.1h0m0.1 0.9h0m1.3 0.6h0m0.6 0h0m-0.4 0.2h0m0.9 0.2h0m-2.5 0.7h0m1.6 0.2h0m-0.1 0.8h0m-0.4 0.6h0m-0.1 0.7h0m1.1 0.9h0m-0.8 0.8h0m0.8 1.5h0m-0.2 0.2h0m-0.8 0.6h0m0.2 0h0m-1.2 1.1h0m1.8 0.2h0m-0.4 1.2h0m-1.1 0.2h0m0.2 1h0m1.2 0.8h0m-1.2 0.7h0m0.9 0.4h0m-1.1 0.5h0m0.2 1.4h0m0.8 0.1h0m-1.4 0.3h0m0 1.2h0m0.4 0.5h0m-0.8 0.2h0m0.5 0.2h0m0 0.5h0m0.6 0.3h0m1.5 0.2h0m-1 0.6h0m-0.7 1.4h0m0.9 0.4h0m-0.1 1.6h0m-1.5 0.1h0m-0.2 0.9h0m1.4 0.1h0m-1.2 0.1h0m0.7 0.5h0m0.5 0.4h0m0.7 0.2h0m-1.6 0.5h0m0.2 0.2h0m0.8 0.5h0m2.4-30.3h0m1.2 0h0m-1.4 0.4h0m-0.3 0.7h0m1 0.8h0m0.6 1.1h0m-0.8 0.5h0m-1.2 0.2h0m1.8 0.5h0m1 1.2h0m-2 1h0m1.2 0.2h0m-1.2 0.1h0m0.2 0.5h0m1.7 0.2h0m-2.1 0.3h0m1.1 2h0m1.1 0.3h0m-2.2 0.2h0m0.9 0.7h0m-0.1 0.1h0m-1.3 0.5h0m1.9 0.4h0m0.4 0h0m-0.6 0.5h0m1 0.3h0m-1.9 0.1h0m0.5 0h0m0.2 0.7h0m-0.8 0.8h0m1 0.5h0m-0.8 0.5h0m-0.5 0.8h0m1 0.5h0m-0.8 1.2h0m2 0.7h0m-0.8 0.1h0m0.3 0.3h0m-2.1 0.9h0m-0.1 0.3h0m1.7 0.2h0m-1.6 0.5h0m2.4 0.4h0m-2.1 0.4h0m2.3 0.1h0m-1.3 0h0m1.4 1.1h0m-0.2 0.5h0m-2.1 0.5h0m0.7 0.2h0m1.7 0.1h0m-1.6 0.5h0m0 0.3h0m-0.5 0.5h0m1 0.3h0m0.4 1.3h0m-2 0.3h0m1.4 1.5h0m-1.5 0.2h0m1.2 0.7h0m2.8-33.8h0m1.7 1.4h0m0.1 0.6h0m-1 0.3h0m-0.3 0.3h0m0 0.1h0m0.1 0.2h0m-0.9 0.5h0m1.1 0.3h0m1 0.1h0m-1.6 0.2h0m0.7 0h0m0.9 0h0m-2.2 0.1h0m0.7 0.1h0m-1.2 0.5h0m0.1 0.5h0m2.2 0.5h0m-1.1 0.8h0m1.1 0.1h0m-1.1 0.9h0m-0.1 0.6h0m0.7 0.1h0m-1.7 0.4h0m0.8 0.4h0m1.5 0.7h0m-1.6 0.7h0m1.4 0.2h0m-2.3 0.9h0m1.2 1.3h0m-0.1 0.8h0m1.2 1.3h0m-2.4 0.5h0m2.9 0.7h0m-1.9 0.3h0m-1 0.3h0m0.2 0.3h0m2.2 0.2h0m-1.3 0.6h0m1.6 0.8h0m-2.1 1.3h0m1.4 0.7h0m-1.4 0.8h0m-0.3 0h0m1.3 0.7h0m-0.8 0.5h0m0.8 0.4h0m0.1 1.1h0m0.5 0.2h0m-1.9 0.9h0m1.1 0.1h0m-1.2 0h0m0 1h0m0.9 0.7h0m0.1 1h0m1.2 2h0m-2 0h0m1.5 0.3h0m-0.3 0.4h0m0 0.6h0m-0.8 0.6h0m-0.1 0.5h0m0.3 0.7h0m-0.9 0.4h0m2.3 0.7h0m-2 0.1h0m1.1 0h0m4.3-34.3h0m-0.6 0.5h0m0.1 0.1h0m-1.6 0.4h0m0.8 0.7h0m0.4 0.3h0m-1.2 0.6h0m1.2 0.6h0m-1.2 0.4h0m1.5 0h0m-1.8 0.6h0m2.5 0.4h0m-2.2 0.7h0m1.7 0.5h0m-0.4 0.2h0m-0.9 1h0m-1.2 0.4h0m1.7 1.3h0m0.6 0h0m0.4 1.1h0m-0.8 0.6h0m-0.7 1.1h0m-1 0.2h0m1.8 0.5h0m-1.8 0.5h0m1.9 0.9h0m-1.4 0.2h0m0.2 0.1h0m0.4 0.6h0m1.4 0.7h0m-0.6 0.2h0m-1.6 0.5h0m2.2 0.2h0m-0.5 0.5h0m-0.9 0.5h0m0.6 0.1h0m0.8 0.1h0m-1 0.2h0m-0.6 0.2h0m-0.7 0.9h0m0.8 0.7h0m0 1.9h0m-0.7 0.4h0m1.8 0.1h0m0.1 1.4h0m-1.3 0.2h0m-0.3 0.2h0m0.8 1.6h0m0.3 0.2h0m-1.8 1h0m1.6 0.1h0m-0.8 0.3h0m0.4 1.2h0m1.3 0.3h0m-2.5 0.5h0m0.5 0.1h0m0.7 0.1h0m0.8 0.8h0m-0.8 0.8h0m-0.4 0.1h0m1.6 2h0m-1.2 0.3h0m1.1 0.5h0m-2.2 0.8h0m0.7 0h0m3.3-36.3h0m1.4 0.6h0m0.3 0.5h0m-1 0.4h0m-0.6 0.2h0m-0.7 0.1h0m2.4 0.7h0m-2.3 0.2h0m1.6 0.6h0m-1.6 0.9h0m0.7 0.2h0m1.3 1.1h0m-2 0.9h0m0.9 0.3h0m1.3 1.5h0m-1.6 0.5h0m0.4 0h0m0.3 0.7h0m-1.9 0.7h0m1.3 0.7h0m0.7 1.2h0m-0.3 1.6h0m-0.6 0h0m1.3 1.3h0m-1.7 0.3h0m2.1 1h0m-1.9 0.3h0m1.4 0.7h0m-0.7 0h0m-0.3 0.2h0m0.7 1.2h0m-0.6 0.1h0m-1 0.4h0m0.1 1h0m1.4 0.5h0m-0.2 0.1h0m-0.3 0.1h0m1.5 0.4h0m-1.4 0.5h0m-1.5 0.1h0m0.1 0.1h0m0.3 0.7h0m1.3 1.2h0m-0.5 0.3h0m0.5 0.5h0m-0.7 0.5h0m0.1 1.1h0m0.4 0.2h0m-1.4 0.2h0m1.1 0.4h0m1.6 0.1h0m-1.3 0h0m-0.9 1.1h0m1 1.7h0m1 0.7h0m-0.1 0.4h0m-1.8 0h0m2.2 0h0m-1.5 0h0m-0.4 0.6h0m0.5 1h0m1.4 0.1h0m-1.8 0.1h0m1.7 0.7h0m-2.7 0.4h0m3.3-45.7h0m0.4 10.6h0m0.9 0h0m0.3 0.3h0m0.8 0.5h0m0.1 0.3h0m-2.1 0.1h0m-0.5 0.5h0m1 0.2h0m-0.4 0.3h0m0.1 1.7h0m0.8 0.9h0m-0.6 0.9h0m0.2 0.1h0m-0.9 0.9h0m2.1 0h0m0.2 0.9h0m-1.7 0.4h0m0.2 0.8h0m0.4 0.9h0m-0.9 1.5h0m-0.3 0.6h0m1.9 0.4h0m0.2 0.8h0m-2.1 0.5h0m1.9 0.5h0m0.5 0.2h0m-1.4 0h0m-0.5 0.4h0m0.4 0.2h0m0.8 0.1h0m-0.5 1.5h0m-1.3 0.2h0m1.6 0.8h0m-0.3 0.6h0m1.1 0.8h0m-1.9 0.4h0m1.7 0.9h0m-1.4 0.1h0m-1 0.8h0m0.8 0.5h0m-0.6 0.9h0m0.9 0.7h0m-0.2 0.6h0m-1.1 0.3h0m2.6 0.1h0m-1.9 1.6h0m-0.7 0h0m1.4 0.2h0m0.7 1.8h0m-1.2 0.2h0m-0.1 1.5h0m-0.8 0.5h0m1.2 0.5h0m1.2 0h0m-1.3 1h0m1.5 1.7h0m-0.3 0h0m0.1 1.4h0m-2 0.9h0m0.8 1.3h0m-0.6 0.6h0m5-42.1h0m-1.4 1.7h0m-0.8 0h0m1.5 0.4h0m-1.7 0.6h0m0.5 0.5h0m-0.4 0.8h0m2.1 0.3h0m0.3 0.1h0m-2.5 0.4h0m2.4 0h0m-1.7 0.7h0m1.1 1.5h0m-1.7 0.1h0m1 0.7h0m-0.9 0.1h0m1.8 0.8h0m-1.9 0.2h0m2 1.3h0m-1.2 0.9h0m1 1.1h0m0.6 0.1h0m0 0.6h0m-2.7 0.2h0m2.1 0.6h0m-1.8 1.5h0m0.4 0.7h0m0.6 0.1h0m1 1.2h0m-2.4 0.6h0m1.8 0h0m0.6 1h0m0.5 0h0m-2.6 1.4h0m1.9 0.2h0m0.4 0.9h0m-0.4 0.2h0m-0.9 0.3h0m-1.3 0.3h0m0.1 0.1h0m0.4 0.8h0m1.7 0.6h0m0.6 0.2h0m-2 0.2h0m0.4 0.5h0m-0.7 1.5h0m1.8 0.2h0m-0.2 0.5h0m0.7 0.2h0m-2.5 0.3h0m2.6 0.2h0m-2.6 1h0m0.4 0.2h0m0.2 1.3h0m-0.3 0.2h0m0.6 0.5h0m-0.2 0.4h0m0.5 0.5h0m1.3 0.4h0m-2 0.5h0m2.2 0.4h0m-2 0.6h0m-0.9 0.3h0m0.2 0.4h0m0.2 0.2h0m1.2 2.4h0m-1.1 3.6h0m-0.5 1.2h0m0.5 0.3h0m2.4-43.5h0m1.3 1.3h0m-0.7 0.1h0m0.6 0.5h0m-0.5 1.4h0m1.6 1h0m-1.2 0h0m1.4 0.5h0m-1.5 0h0m1 1.1h0m0.7 0.4h0m-1.3 1.2h0m1.3 0.5h0m-0.7 0h0m-0.6 0.3h0m-0.6 0.2h0m-0.4 0.4h0m1.9 1h0m-0.4 1h0m-1.7 0.2h0m1.9 1h0m-2.1 0.4h0m2.9 0.1h0m-2.3 0.5h0m1.9 0.9h0m-0.1 0.3h0m0.3 0.3h0m-2 1.2h0m2.2 0.3h0m-1.9 0.6h0m1.2 0.6h0m-2 0.3h0m0.9 0.1h0m0.3 0.4h0m1.2 1.5h0m-1.6 0.9h0m1.8 0.1h0m-2.3 0.3h0m-0.1 0h0m2.5 1.6h0m-1.2 0.2h0m0.8 0.9h0m-2 1.3h0m1.9 0h0m-0.6 0.2h0m-1.3 0.3h0m1.5 0.8h0m0.6 0.1h0m0.3 1h0m-1.8 0.1h0m1.1 0.4h0m-1.5 0.7h0m0 0.5h0m1.8 0.9h0m0.2 1.1h0m-2.2 0.1h0m0.7 0.2h0m1.3 0.6h0m-1.7 0.2h0m-0.4 0.7h0m2.2 1.2h0m-1.1 0.9h0m1.2 0.2h0m-2.5 1.2h0m1.5 0.7h0m0.2 2.3h0m-1.6 0.1h0m3.9-52.8h0m-0.7 3.1h0m2.5 7.9h0m-2.5 0.1h0m2.1 1.2h0m-1.9 0.2h0m1.8 0.1h0m-2.4 0.5h0m0 0.5h0m1 0.4h0m0.6 0.4h0m-0.5 0.2h0m-0.7 1.1h0m1.8 0h0m-2.3 0.5h0m2.2 1h0m-1.9 0.9h0m2.3 0.5h0m0.2 0.7h0m-1.8 0.3h0m1.9 0.7h0m-0.5 0.4h0m-1.4 0.3h0m1.2 0.5h0m-2.1 0.6h0m1.7 1.7h0m-0.6 0.6h0m-0.2 0.1h0m1.4 0.5h0m0.3 0.5h0m0.2 0.5h0m-2.2 0.3h0m0.2 0.2h0m-0.4 0.5h0m2.2 0.7h0m-1.3 0.5h0m-0.9 0.3h0m2.5 1.3h0m-2.2 0.2h0m0.4 1.3h0m0.5 0.1h0m-0.9 0.2h0m1.7 0.7h0m-1.5 0.7h0m1 1.4h0m0.5 0.2h0m-1.4 0h0m1.1 0.3h0m-2 0.8h0m0.6 0.5h0m1.4 0.4h0m-0.1 0.5h0m0.5 0.7h0m-1.7 0.1h0m0.3 1.4h0m-0.3 0.7h0m1.4 0.2h0m0.7 0.7h0m-0.1 0.3h0m-1 0.5h0m-1.8 1h0m2.4 0.2h0m-0.4 0.7h0m0.1 0.5h0m-1.8 1.1h0m-0.1 0.7h0m1.1 0.2h0m1.2 0.5h0m0 2.6h0m-1.2 3.4h0m0.2 0.8h0m1 0.2h0m-2 1.4h0m0.9 0.3h0m-0.2 0.6h0m0.2 0.4h0m4-56.9h0m0.2 7.9h0m0 0.4h0m-1 0.3h0m1 1.2h0m-0.5 0h0m-0.4 0.7h0m-0.3 0.1h0m0.2 0.4h0m-1.2 0h0m1.6 0.1h0m-1.9 0.2h0m0.3 0.3h0m1.2 0.1h0m-1.1 0.3h0m2 0.4h0m-1.9 0.1h0m2.3 0.6h0m-0.5 0.1h0m-2.5 0.3h0m2.1 0.1h0m-1.4 0.7h0m1.1 1.2h0m1 0.1h0m-1.7 0.7h0m-0.1 0.5h0m1 0.6h0m-1.3 0.1h0m1.7 1.2h0m-0.5 0.9h0m0.1 0.1h0m0.6 1.1h0m-2.5 0.2h0m2.4 0.7h0m-1.9 1.2h0m-0.5 0.1h0m0.7 0.8h0m2.1 0.1h0m-1.8 0.5h0m-1.1 0.1h0m2.9 0.6h0m-0.5 0.4h0m-1.9 0.1h0m0.8 0.8h0m1.4 0.6h0m-0.6 1.1h0m-1.9 0h0m0.6 0.4h0m2.1 0.2h0m-2.5 0.5h0m1.7 0.3h0m0 0.9h0m-1.4 0.2h0m-0.3 1h0m1.3 1.3h0m0.9 0.6h0m-2.4 0.1h0m2.7 0h0m-2.7 0.9h0m2.7 0.3h0m-0.5 0.2h0m0.3 0.6h0m-0.3 0.4h0m-2.1 2.1h0m1.2 0.3h0m0.1 0.7h0m-1.1 0.3h0m0.1 0.4h0m2.3 0.6h0m-0.7 1.6h0m-1.9 0.1h0m2.1 0.7h0m0 0.7h0m-2 1.4h0m2.2 1.3h0m-1.2 0.8h0m0.2 1.5h0m-1.1 2.3h0m2 0.6h0m-1.5 0.7h0m0.1 3.9h0m-0.4 2.3h0m4.3-53.5h0m0.8 0h0m0.1 0.2h0m-2.1 1.1h0m2.1 0.2h0m-2.8 1.2h0m1.6 0.3h0m1.3 0.3h0m-1.5 0.2h0m1.2 1.6h0m-2.3 0h0m1.5 0.7h0m0.3 0.4h0m-1.6 0.2h0m1.9 0.6h0m0.1 1.3h0m-1.8 0h0m0 0.5h0m0.5 0.4h0m1 0h0m-0.2 0.4h0m0.4 0.8h0m-2.1 1.2h0m0.8 0.6h0m-0.6 0.5h0m1.8 0h0m-1.8 1h0m2.2 0.5h0m-2.6 0.5h0m0.7 0.2h0m-0.3 1h0m0.6 0.4h0m1.3 0.9h0m-1.9 1.3h0m1.6 0.1h0m-0.6 0.1h0m-0.9 0.3h0m1.8 0.9h0m0.4 0.6h0m-0.8 0.3h0m-1.9 0.4h0m-0.1 0.4h0m2.5 0.6h0m-0.2 0.7h0m-1.7 0.1h0m0.5 0.2h0m-0.5 0.3h0m1.9 1.4h0m-0.3 0h0m0.4 0.2h0m-1.9 0.3h0m-0.6 0.3h0m1.4 0.1h0m-1.2 0.6h0m0.4 0.5h0m2.2 0.2h0m-0.6 0.6h0m-0.9 0.3h0m-0.4 0.4h0m-1 0.3h0m2.3 0.7h0m-0.2 1h0m-1.8 0.7h0m2.4 0h0m-0.3 1.4h0m-1.6 0.1h0m0.8 1.1h0m1.3 0.9h0m-2.7 0.2h0m0.1 0.4h0m2.3 0.5h0m-2.3 0.6h0m2 1.5h0m-0.2 0.4h0m-0.3 0h0m-1.8 0.2h0m1.6 2.3h0m-1.4 0.5h0m-0.1 0.3h0m0.2 1.2h0m1.4 3.4h0m-1.1 3.8h0m-0.7 0.3h0m0.3 1.9h0m4.3-53.6h0m1 1h0m-1.4 0.2h0m1.1 1h0m-1.9 0.3h0m2.2 0.5h0m-1.4 0.1h0m1.1 0.7h0m-1.5 0.6h0m-0.4 0.4h0m2.1 0.3h0m-2.1 0.7h0m2 0.1h0m-0.6 0.5h0m0.8 0.9h0m-1.2 0.3h0m1.2 0.2h0m-0.7 0.7h0m0.7 0.7h0m-2.5 0.1h0m1.1 0.8h0m0.9 0.4h0m-1 0.8h0m1.1 0.1h0m-2 0.8h0m0.9 0.5h0m0.6 0.9h0m0.2 0.6h0m0.8 0.3h0m-1.9 1.3h0m1.1 0.3h0m-0.7 0.1h0m1 0.4h0m-1.6 0.2h0m-0.3 0.8h0m1.3 0.1h0m1.4 1.2h0m-1.7 1.1h0m-0.3 0h0m1.1 0.7h0m-1.3 0h0m0.2 0.8h0m1.6 0.6h0m-2.4 0.6h0m0.7 0.6h0m1.8 0.2h0m-0.7 0.9h0m-0.1 0.7h0m-1.4 0.8h0m0.2 0.5h0m2.2 0.5h0m-2 0.5h0m1.6 0.9h0m-0.8 0.1h0m-0.2 2.1h0m-0.3 0.5h0m0.1 2h0m0.5 0.6h0m-1 0.3h0m0.5 1.1h0m0.1 0h0m0.8 0.5h0m-0.2 2.3h0m0.2 1.4h0m0.3 1.5h0m-1.8 0.1h0m1 0.6h0m-0.6 2.2h0m0.3 0.2h0m1 1.1h0m-2.1 1.6h0m0.7 0.1h0m1.1 0.8h0m-1.2 1.4h0m1.6 2.3h0m-1.9 0h0m4.9-54.2h0m-0.3 0.7h0m-1.1 0.3h0m1.5 0.1h0m-2 0.3h0m0.1 0.3h0m-0.4 0.6h0m1.1 0.4h0m-1.3 0.4h0m0 0.2h0m0.2 0.2h0m1.9 0.3h0m0 1.8h0m-1.7 0.2h0m-0.1 0h0m1 0.4h0m-0.5 1.7h0m1.8 1h0m-1 0.1h0m-0.6 0.9h0m1.3 1h0m-0.2 0.4h0m0.1 0h0m-0.7 1h0m1.2 0.3h0m-1.1 0.6h0m-0.8 0.3h0m1.2 0.4h0m-1.6 1.7h0m0.4 0.2h0m-0.2 0h0m-0.1 0.9h0m1.7 0h0m0.4 1.2h0m-0.5 0.3h0m0.4 0.2h0m-1.3 0.1h0m1.4 0h0m-2.1 1.2h0m1 0.2h0m0 1.3h0m-0.8 0.1h0m-0.5 0.8h0m2.3 0.6h0m-0.1 0.7h0m-0.5 0.3h0m0.5 0.3h0m-2.4 0.2h0m1.5 0.4h0m0 0.4h0m-1.2 1.2h0m0.2 0.6h0m0.6 0.3h0m-1 0.5h0m1.1 0.1h0m-0.4 0.3h0m1.3 0.4h0m0.4 0.4h0m-2.1 0.3h0m0 0.2h0m0.2 0.8h0m1.8 3.2h0m-2.3 0.1h0m2.7 0.1h0m-1.2 1.2h0m-1.5 0.4h0m1.7 0.8h0m-1.5 0.7h0m-0.3 0.3h0m0.8 1h0m0.1 0.4h0m1.1 4.8h0m-1.6 6h0m-0.4 0.5h0m0.1 1.8h0m2.2 0.3h0m0.5 2h0m-2 1.6h0m-0.1 0.3h0m1 0.7h0m-0.3 0.2h0m4.4-59h0m-1.2 0.7h0m-1.4 0.1h0m1.4 0.1h0m-1.4 0.6h0m1.8 0.2h0m0 0.6h0m-0.8 0.7h0m1.6 0.1h0m-2 0.8h0m-0.4 0.1h0m0.1 0.5h0m1.2 0.1h0m-1 0.3h0m0.8 1h0m-0.8 1.5h0m1.3 1.2h0m-0.8 0.3h0m-1.1 1h0m2.5 0.7h0m-1.4 0h0m-1.2 0.3h0m0.1 0h0m2 1.3h0m0.5 0.5h0m-1.2 0.3h0m-0.2 2h0m1.2 0.6h0m-1.3 0.2h0m-1.1 0.6h0m0.4 0.1h0m2.2 0.2h0m0.3 0.1h0m-2 0.8h0m-0.6 0.7h0m1.6 0.4h0m-0.9 0.9h0m1.5 0.3h0m-2.5 0.3h0m1.1 0h0m0.9 1.2h0m0.8 0.1h0m-0.1 0.3h0m-2.3 1.2h0m-0.3 0.2h0m1.5 0.9h0m0 0.8h0m0.9 0.8h0m-1.1 0.8h0m-0.5 0.9h0m0.6 0.2h0m-1.4 2.5h0m0.4 1.8h0m1.4 0.6h0m-0.6 0.1h0m0.5 0.7h0m-0.1 0.2h0m1.1 0.2h0m0.1 0.7h0m-0.6 3.5h0m-0.7 3.4h0m-0.5 1.4h0m0.5 0.2h0m1.2 2h0m-1.8 0.1h0m-0.4 3h0m0 1h0m1.7 0.2h0m-1.2 0.4h0m-1 4.3h0m1.1 4.6h0m4.6-61.4h0m-1.1 0.4h0m-1.4 1h0m0.3 0.2h0m1.3 0.5h0m-0.4 0.1h0m1.4 0.4h0m-2.7 0.3h0m2 0.5h0m0.4 0.4h0m-0.8 0.3h0m-0.9 0.5h0m1.7 0.2h0m-0.9 0.1h0m-0.1 0.3h0m-0.2 0.5h0m0.7 0.6h0m-1.5 0.9h0m1.4 0.2h0m-1.6 1.4h0m0.2 0.7h0m1.9 0.1h0m-2.4 0.2h0m0.5 1.3h0m0.5 0.1h0m-0.5 0.3h0m0.8 0.7h0m0.7 0.1h0m-0.7 1h0m-1 1.2h0m1.9 0.2h0m-0.7 0.4h0m-1.5 1.7h0m2.4 0.4h0m-0.2 0.1h0m-1.5 0.3h0m0.8 0.8h0m1 0.9h0m-0.7 0.9h0m-1.2 1.1h0m0.7 0.2h0m0.7 1.6h0m-0.9 1.1h0m0.3 1.7h0m-0.6 0.2h0m0.2 0.1h0m-0.9 1.1h0m2.2 1.3h0m-2.2 0.3h0m1 0h0m1.3 0.4h0m-0.2 0.6h0m-2 1.4h0m0.3 0.6h0m1.2 0.3h0m0.4 0.2h0m-1.2 0.7h0m0.7 0.7h0m-1.5 0h0m2.5 1.5h0m-2.5 0.1h0m1.6 0.4h0m0.1 4.3h0m0.5 0.2h0m-0.4 2h0m0.9 1.8h0m-1 3h0m0 0.5h0m-0.1 1.1h0m-0.9 3.7h0m-0.7 1.3h0m0 0.1h0m1 1.3h0m1.2 0.6h0m-0.8 0.1h0m1.1 4.4h0m-0.2 3.3h0m1.5-65.8h0m1.2 0.1h0m-1.8 0.3h0m1.1 0.6h0m1 0.7h0m-0.8 0.8h0m-1 0.4h0m1.3 0.1h0m0.6 0.3h0m-2.2 0.2h0m0.8 0.9h0m-0.4 0.1h0m0.1 1.4h0m1.3 1.4h0m-0.6 0.1h0m-0.3 0.7h0m-0.6 1h0m-0.1 0.5h0m0.6 0.1h0m-0.7 0.6h0m1.2 1h0m-1.5 0.1h0m0.8 0.7h0m-0.6 0.8h0m0.3 0.7h0m1.5 1.2h0m-1.2 0.8h0m-0.6 0h0m2 1.3h0m-1.7 0.1h0m0.3 1.3h0m1.4 0.7h0m0.3 1.1h0m-2.5 0.2h0m1.2 0.1h0m0.4 0.8h0m-0.8 0.2h0m-0.4 1.9h0m1.8 0.1h0m-0.3 0.8h0m-1.4 0.2h0m0.8 2.4h0m-1.5 1h0m0 0.3h0m0.5 0.4h0m1.4 0.5h0m-1.4 0.6h0m2.1 0.2h0m-0.2 0.2h0m-0.2 0.3h0m-2.3 0.6h0m2.2 1.2h0m-1.4 2h0m1.5 0.5h0m-1.9 0.3h0m-0.2 0.3h0m2 1.8h0m-1.9 3.7h0m0.3 0.7h0m0 0h0m0.4 0.1h0m1.3 0.2h0m-0.7 1.4h0m-1.5 0.6h0m2.4 2.8h0m-0.7 2.9h0m-0.6 3.4h0m1.2 0.6h0m-0.7 2.2h0m-1.3 5.6h0m0.2 0.5h0m-0.1 2.3h0m5.4-66.8h0m-0.9 0.7h0m-0.1 0.1h0m0.9 0.1h0m-1.5 0.7h0m0 0.2h0m0.7 0.1h0m-0.5 0.5h0m-1.4 0.1h0m2 0.7h0m0.2 0.1h0m-0.9 0h0m-0.3 0.9h0m0.4 0.6h0m-0.4 0.8h0m0 1.1h0m-1 1.1h0m0.1 0.6h0m2.3 0.1h0m-1.5 0.1h0m1.1 0.5h0m-0.7 0.1h0m1.6 0.7h0m-0.5 0.5h0m-1.9 1.1h0m-0.2 0.5h0m0.9 0h0m0 0.8h0m0.9 0.2h0m-2 0.2h0m2.3 0.3h0m-2.1 0.1h0m0.4 0.6h0m-0.5 0.2h0m0.4 0.5h0m0.4 0.3h0m-1 0.6h0m1.2 0.3h0m-1.2 0.6h0m2.3 0.8h0m-2.4 0.8h0m1.9 1h0m0.3 0.2h0m-0.3 0.2h0m-0.7 0.7h0m-0.2 0.4h0m1.3 0.4h0m-2.2 0.2h0m1.7 1.9h0m0.2 0.2h0m-0.7 0.4h0m0.2 0.5h0m-1.2 0.4h0m0.3 2.3h0m0.3 0h0m1.7 1.3h0m-0.2 0.5h0m0.2 0.7h0m0.2 0.9h0m-1.5 1.1h0m0.2 0.8h0m-0.9 0.8h0m2.2 0.3h0m-1.5 1.2h0m1.1 1.4h0m-1.2 0.1h0m1.2 0.7h0m-1.9 0.1h0m0.9 0.3h0m0.7 2h0m0.7 0.2h0m-2.3 1.7h0m0.2 1.1h0m1 0.5h0m-1.5 3h0m1.5 0.3h0m0.2 5.4h0m-0.7 0.6h0m-0.5 3.5h0m0.8 2.6h0m-0.6 0.5h0m0.1 0.3h0m1.7 4h0m3.2-67.9h0m0 1.4h0m-0.3 1.3h0m-0.5 1.4h0m-0.5 0.2h0m-0.7 0.1h0m2.1 0.2h0m-2.8 0h0m2.1 0.2h0m-1.1 0.1h0m1.4 0.1h0m0.3 1h0m-1.9 0h0m0.9 0.1h0m-1.5 0h0m-0.1 1.7h0m2.1 0.1h0m-1.5 0.7h0m1.8 0.5h0m-0.9 0.6h0m-1.1 1h0m0.4 0.1h0m0.7 0.2h0m-1.7 0.2h0m2.3 1.1h0m-2.1 0.6h0m1.9 0.3h0m-0.2 0.5h0m0.2 0.5h0m-0.1 0.7h0m-0.1 0.6h0m-1.2 1.5h0m0.4 0.7h0m0.7 0.2h0m-0.8 0.7h0m0.1 1h0m-0.8 0.5h0m0.7 0.2h0m1.4 0.7h0m0.2 0.2h0m-2.4 0.8h0m0.9 0.1h0m-1.2 1.2h0m1.9 0.1h0m0.9 0.8h0m-0.9 0.8h0m-1.5 0.3h0m0.9 1h0m-1.3 0.7h0m1.4 0.1h0m-1.1 0.5h0m1.3 0.9h0m-1.5 1.1h0m1.6 3.4h0m-1.1 0.4h0m0.5 0.4h0m-0.3 1.4h0m1.2 1.3h0m0 0.3h0m0.5 0.2h0m-0.3 0h0m-2.1 2.9h0m0.3 0.1h0m2.4 0.7h0m-2 0.1h0m0.7 1.7h0m-0.1 3.4h0m1.6 2.3h0m-0.4 0.8h0m-2.3 0.5h0m0.7 4.2h0m0.3 2.5h0m-0.1 12h0m0.6 5h0m1.5-73.2h0m1.2 0.3h0m-0.2 1.3h0m1 0h0m-1.5 0.1h0m1.8 0.2h0m-0.5 0.9h0m-0.4 0.5h0m-0.4 0.6h0m-1 0.2h0m1.5 0h0m0.5 1.5h0m-0.9 0.5h0m1.4 0h0m-0.2 0.2h0m-1 0.8h0m-1.2 0.6h0m0.9 0.3h0m1.1 0.5h0m-1.2 0.5h0m0.2 0.7h0m-0.9 0.4h0m0.6 1.1h0m0.7 0.2h0m0.8 0.2h0m-2.2 0.8h0m2.1 0.4h0m-0.3 0.1h0m0.5 0.2h0m-1.2 0.6h0m0.7 0.8h0m-2 0h0m0.7 1.2h0m-0.1 0.9h0m1.4 0.7h0m-1 0.2h0m-0.4 0.9h0m1.8 0.4h0m-2.1 0.7h0m0.4 0.1h0m1.9 0.2h0m-1.9 0.4h0m-0.2 0.4h0m-0.6 0h0m1.1 0.6h0m-0.1 1.3h0m0.8 0.1h0m0.4 1h0m-0.4 0.2h0m-0.7 1.4h0m0.3 1.1h0m0 1.8h0m-0.8 1.1h0m1.4 2.1h0m-1.4 0.7h0m2.2 0h0m-0.7 1.7h0m-2 0.2h0m2.1 0.9h0m-2 0.3h0m0.5 0.6h0m-0.4 0.3h0m0.1 0.8h0m2.5 0.6h0m-2.9 2.3h0m1.7 0.4h0m-0.7 3.9h0m1.7 0.4h0m-1.8 2.3h0m-0.4 0.3h0m0 4h0m1.4 0.2h0m-0.6 5.1h0m0.1 0.8h0m0.4 10.2h0m3.9-70.5h0m-0.4 0.5h0m0 1h0m-1 0h0m-1.3 0.8h0m0 0.4h0m1.7 0.1h0m-0.6 1h0m-1.1 0.8h0m2.1 0.1h0m-1.4 0.2h0m0.8 0.1h0m-1.4 0.6h0m2.8 0h0m-0.7 0.3h0m-1.8 1.1h0m2.1 0.6h0m0.4 0.4h0m-2.1 0h0m1.2 0.2h0m0.4 0.3h0m-1.4 0.8h0m1.5 1.8h0m-1.4 0.3h0m1.8 0.3h0m-2.9 0.4h0m2.7 0.6h0m-0.9 0.3h0m-0.4 0.9h0m-0.7 0.1h0m-0.7 0.8h0m2.3 0h0m-1.2 0.5h0m1.7 1.1h0m-0.2 1.2h0m-1.6 0h0m-0.9 1.5h0m2.2 0.1h0m0.1 0.4h0m-1.2 1.3h0m0.5 0.1h0m0.1 0.8h0m-0.3 0.3h0m-0.2 1.6h0m1 0h0m-2.2 0.3h0m2.6 0.7h0m-0.9 0.2h0m-0.6 0.7h0m0.8 0.3h0m-1.8 1.1h0m0.5 1.4h0m-0.3 1.1h0m0.5 0.7h0m1 0.9h0m-1.3 0.3h0m0.4 1.1h0m-0.8 1.6h0m1.3 0.7h0m0.4 7.4h0m0.7 3.2h0m-1.5 3h0m0.4 6.2h0m-0.5 5.8h0m0.5 3h0m0.3 1.5h0m0.1 1.4h0m0.2 9.3h0m3.1-78.1h0m0.6 0.4h0m-2.1 0.7h0m2.1 0.2h0m-2 0.1h0m1.4 0.2h0m-1.8 1.4h0m-0.3 1.1h0m2.3 0.1h0m-0.7 0.5h0m0.9 0h0m-2.6 0.3h0m2.1 0.9h0m-0.8 0.8h0m1.2 0.2h0m-1.2 0.4h0m-1.4 1.3h0m2.8 0.2h0m-1.8 0.6h0m1.3 0.4h0m-2 0.1h0m-0.2 0.6h0m0 0.3h0m2.1 0.2h0m0.2 0.1h0m-0.3 0.4h0m-1 0.3h0m0.4 0.5h0m-0.5 0.4h0m1.7 0h0m-1.6 1.8h0m0.3 0.7h0m0.8 0.3h0m-1.6 1.1h0m0.8 0.1h0m1.4 1.6h0m-0.9 0.3h0m0.9 0.2h0m-2.6 0.4h0m1.7 0.7h0m-1.1 0.8h0m-0.1 0.1h0m0.6 0.6h0m0.7 1h0m-1.6 0.5h0m2 0.4h0m0 0.5h0m0.3 0.6h0m-2.1 1.3h0m1.3 0.1h0m-0.3 0.3h0m-0.5 2.5h0m1.3 3.2h0m-2.1 4.5h0m0.6 2h0m-0.1 3.6h0m0.9 2.8h0m-0.3 0.6h0m-0.7 0.7h0m-0.6 1.6h0m1.4 2.7h0m1.4 1.7h0m-0.1 1.4h0m-1.6 6.3h0m-0.3 2.7h0m0.8 5.9h0m3.2-70.3h0m0.4 0.1h0m-2 0.8h0m1.3 0.2h0m1.3 0.5h0m-1.7 1.1h0m0.3 0.2h0m0.9 0.1h0m0 2.1h0m-2 0.1h0m0.5 0.6h0m1.6 0.2h0m-1 0.3h0m1.1 0.3h0m-1.3 1.4h0m1.6 1.4h0m-0.2 0.6h0m-1.9 0h0m1.5 0h0m-0.4 0.8h0m-0.4 0.2h0m1.5 0.8h0m-1.8 0.5h0m1 0.1h0m-1.1 0.3h0m0 1.2h0m0.2 1.1h0m0.6 0.3h0m-1.4 0.5h0m2.5 0h0m-0.5 0.4h0m-1.9 0.5h0m2.3 1h0m-0.6 0.2h0m-1.4 0.6h0m0.5 0.4h0m-1.3 1.8h0m0.1 1.4h0m0.3 1.1h0m0.7 0.1h0m-0.6 0.6h0m1.6 0h0m0 1.6h0m0.1 0.5h0m-0.2 0.5h0m-2 0.5h0m2.5 4h0m-0.6 1.1h0m0.3 1.8h0m-0.7 1.1h0m-1 0.5h0m2.2 0.7h0m-2.6 0.1h0m1.5 1.6h0m1.1 3.1h0m-0.1 2.9h0m-2.6 4.9h0m2.6 5.7h0m-1.3 1.6h0m1.3 0.1h0m-0.8 1.2h0m1 0.6h0m-2.2 0.4h0m2.2 3.2h0m0.8-64.4h0m1.8 0.6h0m-0.7 0.6h0m0.1 0h0m-1.5 0.3h0m0.1 0.3h0m1.8 0.2h0m-1.8 1.3h0m1.8 0h0m-0.4 1.3h0m-0.4 0.6h0m-1.5 1.2h0m1.6 0.2h0m0.9 0.1h0m-1.9 1.2h0m1.4 1.3h0m-0.5 0.1h0m0.7 0.3h0m-0.5 0.9h0m-0.8 0.2h0m-0.6 0.5h0m0.6 0h0m0.4 0.1h0m-0.2 0.4h0m0.3 1.7h0m1.2 0.1h0m-1.9 1.5h0m1.9 0.7h0m-0.4 0h0m-1.8 0.5h0m-0.1 0.5h0m2.2 1.1h0m-2.1 0h0m2.2 0.3h0m-1.5 0.3h0m-0.7 0.4h0m0.7 1.4h0m0.4 0.8h0m0.4 0.3h0m-0.9 0.5h0m1.5 0.3h0m-1.4 0.3h0m1.5 1h0m-1.4 1.3h0m0.8 1.6h0m0.7 1.8h0m-1 3.1h0m-1.7 7.5h0m1.2 3.6h0m0.4 6.3h0m-0.4 1.2h0m0.6 2.5h0m0.9 9.1h0m-1.8 2.8h0m5.1-69.2h0m-0.5 0.4h0m-0.2 1.4h0m-0.3 0.9h0m0 0.2h0m-1 1h0m-1 0.4h0m1.8 0.7h0m-1.1 0.1h0m-0.7 0.5h0m1.1 1.1h0m0.7 0.5h0m-1.7 0.1h0m1 0.5h0m-0.4 0.3h0m0.4 0.6h0m1.7 0.6h0m-0.3 0.6h0m0.5 0h0m-2 0.6h0m-0.1 0.3h0m0.2 0.1h0m0.5 0.5h0m1.4 0.5h0m-2.4 0.4h0m1.5 0.9h0m-0.2 0.7h0m0.5 0.1h0m-1.6 0.2h0m2.1 1.2h0m-0.6 0.6h0m-1 0.3h0m-0.8 0.7h0m1.7 0.5h0m0.6 0.4h0m-2.3 0.5h0m2 0.6h0m-1.1 0.6h0m-0.2 1.1h0m0.6 0.3h0m-0.6 0.7h0m0.3 0.3h0m-0.7 0.6h0m1.2 0.6h0m0.1 1.9h0m0.8 0.2h0m-0.4 0.2h0m-1.4 1h0m0.3 1.3h0m1.2 1.5h0m-0.5 2.7h0m-1.6 0.6h0m-0.3 1h0m2.4 0.2h0m-0.5 0.5h0m-0.3 3.1h0m-1 2.7h0m1.2 4.5h0m-0.7 15.7h0m1.4 3.8h0m0.2 18.9h0m3-85.4h0m-0.4 1.3h0m-0.7 0.4h0m0 1.4h0m-0.7 0.3h0m0.5 0.9h0m0.8 0.5h0m-2.4 0.2h0m0.5 1h0m1.8 0.2h0m0.3 1.8h0m-2.4 0.2h0m0.3 0h0m-0.5 0.2h0m2.7 0.8h0m-1.9 0.7h0m2.1 1.1h0m-2.1 1.3h0m1.8 0.1h0m-1.2 1.4h0m0.2 0.5h0m-0.4 0.1h0m-0.7 0.2h0m1.6 0.2h0m0.7 1.4h0m-1.3 0.9h0m0.8 1.2h0m-1.6 0.1h0m1.2 0.4h0m-0.4 0.2h0m0.7 1.1h0m-1.2 0.7h0m1.7 0.2h0m-0.8 0.1h0m-1.7 1.4h0m2.8 0.2h0m-1.6 0h0m-0.1 1.3h0m0.1 3.8h0m1 0.1h0m0.5 2.6h0m-1.4 3.1h0m-0.3 3.3h0m-0.5 0.5h0m-0.3 2.4h0m2.5 0.1h0m-2.1 4.6h0m1.7 2h0m-0.9 2.6h0m1 0.7h0m0.3 1.5h0m-0.3 0.2h0m-1.1 17h0m3.6-71h0m-0.4 1.6h0m0.6 0.9h0m-0.9 0.4h0m1.5 0.2h0m-1 0h0m-1.2 0h0m0.4 1.2h0m0.6 0.1h0m0 0.6h0m-1.6 0.1h0m2.7 0.2h0m-1.6 1.5h0m0 1.6h0m0.7 0.1h0m-1.2 0.9h0m1.8 0.7h0m-1.3 1h0m0 1.1h0m1.7 0.1h0m-2.8 0.2h0m0 1h0m0.9 0.2h0m0.7 0.4h0m-0.7 0.2h0m0.8 0h0m-1.3 1.6h0m1.4 0.6h0m0.7 0.2h0m-1.7 0.3h0m0.1 1h0m-0.6 0h0m1.6 0.5h0m-0.6 0.6h0m0.2 1.8h0m1 2.9h0m-2.2 2.5h0m2.5 0.4h0m-2.5 4.8h0m2.3 5.5h0m-2.4 0.1h0m0.1 0.7h0m0.9 2.4h0m0.8 1.5h0m-0.1 1.4h0m-1.9 4.3h0m0.8 2h0m0.1 2h0m1.3 4.2h0m-1.7 17.4h0m-0.4 9h0m5.1-84.5h0m-0.9 1.7h0m0.3 0.4h0m-1.4 0.4h0m2.6 0.1h0m0.1 1.2h0m-2 0.5h0m1.4 1.8h0m-1.3 0.6h0m0.7 0.3h0m-0.1 0.9h0m0.2 0h0m-1.2 0.1h0m0.9 1h0m0.1 0.5h0m-1.5 0.7h0m0.9 0.3h0m0.9 0.2h0m0.6 0.6h0m-0.1 0.2h0m-1.4 0.6h0m1.9 0.5h0m-1.4 0.4h0m-1.3 0.3h0m-0.3 1.4h0m2.2 0.1h0m-2 1.2h0m1.2 1.1h0m0.4 0.6h0m-1.1 0h0m-0.6 4.1h0m0.4 1.1h0m2.1 1h0m-1.8 3.2h0m1.8 4.1h0m-2 0.1h0m0.1 2.6h0m-0.4 2.7h0m-0.3 2h0m1.1 2h0m1.3 0.2h0m-0.3 3.9h0m-0.2 6.9h0m3.9-52.5h0m0.2 0.2h0m-2.1 1.1h0m2.1 1h0m-2.9 0.1h0m2.3 0.7h0m-0.3 0.9h0m-1.3 0.8h0m1.5 0.7h0m-0.7 0.2h0m0.3 0.3h0m1.1 0.8h0m-2.3 0.2h0m0.2 0.3h0m1.5 0.1h0m-1.1 2.2h0m0.6 0.4h0m-1.2 0h0m0.5 1h0m-0.3 0.1h0m0.6 0.7h0m-0.5 0.1h0m1.9 0.3h0m-1.4 0.9h0m-1.2 0.1h0m0.9 1.7h0m-1 0.7h0m2.4 0.3h0m-2.1 0.8h0m-0.3 1h0m1.6 3h0m-1 3.3h0m-0.7 0.3h0m2 6.6h0m-1.3 6.1h0m-0.6 1.1h0m1.2 7.3h0m0.6 3.9h0m-1.4 3.9h0m1.4 17.2h0m-1.7 5.4h0m2.6 5.4h0m0 11.2h0m3-95.6h0m-1.8 0.7h0m-0.6 0.1h0m1.2 0h0m1.2 1.5h0m-2.4 0.5h0m-0.2 0.7h0m1.9 0.4h0m-0.9 0.2h0m-0.7 0.7h0m1.8 0.3h0m0.6 0h0m-2.9 1h0m0.4 0.4h0m2.4 0.2h0m-0.5 0.6h0m-1.4 0.3h0m1.4 0.2h0m-0.5 0.2h0m0.3 2.2h0m-2.1 0.2h0m1.1 1.1h0m1.5 1h0m-2.2 0.1h0m0 0.5h0m-0.2 0.1h0m2.1 0.2h0m-1.8 0.5h0m2.2 0.5h0m-0.6 1.2h0m0.1 0.9h0m-1.1 1.3h0m0 2.8h0m1.5 1.9h0m-1.6 0.5h0m-0.8 7.1h0m0.2 1.3h0m0.4 6.4h0m2 5.5h0m-2 4.5h0m-0.7 8.6h0m2.8-58.7h0m0.5 0.3h0m2 0.4h0m0.1 0.4h0m-1.7 0.2h0m1.5 1.2h0m-0.9 0.1h0m-1.3 0.2h0m1.8 1.8h0m-1.9 0.1h0m1.8 1h0m0.6 1.2h0m0.1 1.1h0m-1.4 0.2h0m1.6 0.7h0m-1.5 0.1h0m1 0.2h0m-1.8 0.4h0m0.5 0.5h0m-0.4 0.4h0m0.9 0.1h0m-0.2 1.5h0m0.2 0h0m-0.6 6.3h0m0.2 1.4h0m1.1 0.4h0m-0.3 0.7h0m-0.5 2.6h0m-1.3 1h0m1.2 17.1h0m-0.1 1.4h0m-0.2 1.6h0m-0.2 11.8h0m2 10.3h0m-0.3 33.3h0m2.1-103.2h0m0 0.7h0m-0.8 0.5h0m-0.3 1.4h0m0.9 1.9h0m1.4 1.4h0m0 0h0m-1.5 0.6h0m0.5 0.2h0m-1 1.6h0m0.3 0.2h0m1 0.3h0m0.8 0.2h0m-2.1 0.7h0m1.5 3.2h0m-2.2 1.3h0m2.9 1.6h0m-0.6 1.4h0m-2.3 0.1h0m2.6 0.1h0m-0.6 14.4h0m0.1 13.8h0m0.5 45.5h0m1.4-93.7h0m0.8 1.6h0m-1.7 1.1h0m0.9 0.1h0m0.9 0.1h0m-0.5 0.2h0m-0.5 1.7h0m1.4 0.2h0m-2.2 1.4h0m1.6 0.2h0m-1.6 0.8h0m0.7 1.4h0m-0.7 1.1h0m0.7 0.5h0m1 1.2h0m-0.7 0.2h0m0.5 2.3h0m0.8 0.1h0m-0.8 0.4h0m0.5 2h0m-2.1 0.7h0m2.7 2h0m-2 19.8h0m0.3 13.7h0m0.8 2.8h0m0.5 12.5h0m2.2-71.5h0m0.2 3.6h0m-1.1 0.1h0m0.8 0.1h0m1.3 5.5h0m-1.9 3.9h0m0.3 0.9h0m-0.4 0.3h0m0.8 3.8h0m-0.4 45.4h0m1.7 3.5h0m1.1-68.5h0m-0.2 1.5h0m1.5 1.3h0m-1.5 9.7h0m2.1 2h0m-0.7 3.7h0m-0.3 3.7h0m1.1 25.5h0m-2.1 2.4h0m1.9 48.8h0m0.8-99.6h0m-0.3 0.5h0m-0.2 4.4h0m1.5 2.1h0m-1 1.8h0m0.6 2.9h0m-0.5 1.6h0m1.6 2.5h0m-0.6 6.9h0m3.9-26.7h0m-1.7 2.7h0m-0.5 1.3h0m0.7 1.2h0m-0.9 2.5h0m0.3 0.5h0m0.2 1.8h0m1.6 22.7h0m1.9-34.9h0m-0.8 1h0m0.4 7.5h0m1.2 1.2h0" stroke="#619CFF"/>
</g>
</g>
<path clip-path="url(#cD)" d="M51.15 409.82L223.20 252.30" stroke="#111" stroke-width="1" stroke-dasharray="0.9 2.2 3.1 2.2" fill="none"/>
<path d="M77.44 409.5v2.1M51.1 385.75h-2.1M117.53 409.5v2.1M51.1 349.04h-2.1M141.81 409.5v2.1M51.1 326.81h-2.1M190.00 409.5v2.1M51.1 282.70h-2.1" stroke="#555" stroke-width="0.65" fill="none"/>
<text class="tk" x="76.8" y="421.2" text-anchor="middle">0.01</text>
<text class="tk" x="47.9" y="389.3" text-anchor="end">0.01</text>
<text class="tk" x="117.5" y="421.2" text-anchor="middle">0.10</text>
<text class="tk" x="47.9" y="352.6" text-anchor="end">0.10</text>
<text class="tk" x="141.8" y="421.2" text-anchor="middle">0.20</text>
<text class="tk" x="47.9" y="330.4" text-anchor="end">0.20</text>
<text class="tk" x="190.0" y="421.2" text-anchor="middle">0.50</text>
<text class="tk" x="47.9" y="286.3" text-anchor="end">0.50</text>
<text class="ax" x="137.4" y="435.2" text-anchor="middle">PRS−CS</text>
<text class="ax" transform="translate(21.8 331.4) rotate(-90)" text-anchor="middle">SDPR</text>
<text class="tag" x="0.0" y="250.7">D</text>
<rect x="281.10" y="252.60" width="173.00" height="156.95" fill="#EBEBEB"/>
<clipPath id="cE"><rect x="281.10" y="252.60" width="173.00" height="156.95"/></clipPath>
<g clip-path="url(#cE)">
<path d="M287.60 252.6V409.6M281.1 404.16H454.1M326.26 252.6V409.6M281.1 368.90H454.1M357.30 252.6V409.6M281.1 340.58H454.1M392.25 252.6V409.6M281.1 308.71H454.1M434.81 252.6V409.6M281.1 269.88H454.1" stroke="#fff" stroke-width="0.45" fill="none"/>
<path d="M306.93 252.6V409.6M281.1 386.53H454.1M345.59 252.6V409.6M281.1 351.26H454.1M369.01 252.6V409.6M281.1 329.90H454.1M415.48 252.6V409.6M281.1 287.51H454.1" stroke="#fff" stroke-width="0.85" fill="none"/>
<g fill="none" stroke-linecap="round" stroke-width="2.56">
<path d="M289.3 372.7h0m-0.2 0.5h0m0.1 0.8h0m0.2 3.3h0m0.1 0.1h0m-0.3 0.4h0m0.1 1.4h0m0.1 1.8h0m-0.1 1.2h0m-0.2 0.3h0m0.4 0.1h0m-0.3 0.6h0m0 0.8h0m0.1 2h0m0 0.4h0m2.8-59.9h0m-1.2 34.9h0m-0.8 6h0m2.1 3.9h0m-2.6 1.3h0m2.1 0.1h0m-0.2 0h0m-1.8 0.6h0m1.3 0.3h0m-0.5 0h0m-0.6 1.2h0m2.1 0.2h0m-1.1 1.3h0m-0.3 1.3h0m-1 0.5h0m1.4 0h0m-1.2 0.6h0m-0.1 0.7h0m-0.1 0.7h0m1.8 0.4h0m0 1.2h0m-0.7 0.2h0m1.2 0.4h0m-0.3 0.6h0m-0.3 0.3h0m-1.7 1.2h0m2.1 0.1h0m-1.1 1.3h0m1.8 0.2h0m-2.7 0.1h0m0.8 0.2h0m0.2 0.1h0m3.2-97.4h0m-1.1 31.3h0m1.8 11.8h0m-1.8 0.6h0m0.8 20.7h0m0 10.4h0m0.8 2.3h0m-1.3 2.2h0m0.9 0.2h0m0.7 0.6h0m-1 1.7h0m-0.1 0.6h0m-0.7 1.8h0m1.3 0.1h0m1.3 0.1h0m-2.3 1.6h0m0.8 0.2h0m-1 0.3h0m0.3 0.4h0m-0.3 1h0m1.2 0h0m-1.7 0.5h0m2.3 0.9h0m-1.9 0.2h0m0.4 0.6h0m0.5 0.2h0m1.3 0.1h0m-2.5 0.8h0m2.5 0.4h0m-1.5 1.2h0m1.3 0.1h0m0.3 0.4h0m-0.4 0.5h0m-0.5 0.2h0m-1.4 0.3h0m0.4 0.3h0m-0.1 0.8h0m-0.2 0.4h0m0.2 0.3h0m0.5 0.1h0m1.7 0.1h0m-0.6 0.6h0m-2.1 0.4h0m0.1 0h0m1.4 0.1h0m-0.1 0.1h0m-0.9 0h0m3.2-112.5h0m0 15.8h0m1.9 10.9h0m-1.4 64.5h0m0.2 1.1h0m-1.6 0.3h0m2.5 0.2h0m-0.2 0.2h0m0.4 0.8h0m-1.8 0.2h0m-0.1 1.5h0m0.4 1.8h0m-1 1.4h0m1.6 0.3h0m-1.5 0.8h0m2.7 0h0m-2.1 0.2h0m-0.2 0.1h0m-0.2 0.4h0m2 1.2h0m-2 0.6h0m0.1 0.6h0m0.7 0.2h0m-0.2 1.3h0m-0.6 0.1h0m0.3 0h0m-0.1 0.4h0m-0.4 0.8h0m1.4 0h0m1.2 0.2h0m-2.9 1.3h0m1 0.1h0m0.9 0.6h0m-0.5 0.6h0m0.1 1h0m-1.5 1.2h0m2 0h0m-1.3 1.4h0m-0.6 0.2h0m2.6 0.1h0m-0.7 0.1h0m-0.9 0h0m2.5-79.4h0m0.2 53.1h0m1.4 0.6h0m-0.2 0h0m0.5 3.5h0m0.4 1.1h0m-1.6 2.8h0m1.7 1.5h0m-2 1h0m-0.7 2h0m2.5 0.4h0m-1.1 0.1h0m-0.2 1h0m1.1 0.1h0m-1.3 1.1h0m-1.1 0.7h0m2.3 1h0m-2.3 0.5h0m1.2 0h0m1.5 0.8h0m-1.8 0.1h0m-0.3 1.3h0m-0.8 0.3h0m2.1 0.6h0m-1.7 0.3h0m0.6 0.4h0m-0.6 0.1h0m2 0.4h0m-0.3 0.3h0m0.5 0.1h0m0.1 0.2h0m-1.3 0.8h0m-1.1 0.3h0m0 0.3h0m0 0.6h0m2.1 0.8h0m-1.3 0.2h0m1.1 0h0m0.4 0.7h0m0.3 0.1h0m-1.4 0h0m1.9-111.3h0m1.6 59.3h0m0.4 18.9h0m0.2 7.5h0m-0.5 1.8h0m-0.8 5.2h0m0.8 0.1h0m-2 0.1h0m1 0.1h0m0.7 1.5h0m-0.2 0.2h0m0.8 1.5h0m-0.2 1.2h0m-1 0.2h0m0.9 1h0m-1.2 0.3h0m-0.2 0.8h0m0.9 0h0m-1.5 0.8h0m1.1 0.9h0m0.5 0.3h0m0.9 0.3h0m-1.7 0.6h0m0.9 0.5h0m0.9 0.7h0m-1.1 1.2h0m-0.9 0.4h0m1.7 1.6h0m-2 0h0m1.4 0.2h0m-0.2 1.3h0m-0.2 0h0m0.9 0.4h0m0.4 0.4h0m-2.5 0.3h0m1.8 0.7h0m0.5 0.7h0m-0.1 0.3h0m-1.4 0.2h0m3-30.7h0m-0.4 4h0m1.1 5.1h0m-0.1 0.3h0m-0.5 0.8h0m-0.3 2.9h0m-0.5 3.9h0m0.2 0.2h0m1.9 0.1h0m-1.1 0.1h0m-1.3 0.1h0m1 0.2h0m0.3 0.3h0m0.3 0.1h0m-1.6 0h0m1.1 1.4h0m-0.1 0.3h0m0.5 1.3h0m-0.4 0.2h0m0.6 0.6h0m-1.2 0.6h0m0.8 1.2h0m-1 1.1h0m0.6 0.2h0m-0.8 1.1h0m2.3 0.3h0m-2.4 1.1h0m2.1 0.1h0m0 0.5h0m-1.8 0.4h0m0 0.7h0m1.7 0.6h0m-1.9 0.1h0m0.4 0.1h0m0.4 0.4h0m0.3 0.3h0" stroke="#00BA38"/>
<path d="M307.4 283.1h0m-0.2 69h0m0.2 12.6h0m-0.3 5.2h0m0.3 5.7h0m-0.2 0.2h0m0.2 2.2h0m0.1 0.3h0m-0.4 1.4h0m0.1 0.2h0m0.3 1.7h0m-0.3 4.4h0m0.8-94.4h0m1.2 52h0m-0.2 3.1h0m-1 7.3h0m1 6.7h0m0.8 2.3h0m-1.6 3.1h0m2 0.6h0m-0.5 0.2h0m0.7 0.1h0m-1 1.5h0m-1.8 0.6h0m2.1 1h0m-1.8 0.7h0m0.8 0.8h0m0 0.6h0m0.1 1h0m1.7 0.5h0m-1.1 0.6h0m-0.6 0.4h0m-0.4 1h0m0.4 0.2h0m0.2 0.4h0m1.5 0.5h0m-2.6 0.4h0m1.9 0.1h0m-2 0.7h0m2.5 0.7h0m-0.8 0.9h0m0.5 0.1h0m-0.9 0.5h0m-0.3 0h0m1.1 0.1h0m-0.6 0.6h0m-0.7 0.4h0m1.3 0.3h0m-0.4 0.4h0m-0.2 0.4h0m-1 0.3h0m-0.6 0.1h0m0.2 0.7h0m1.8 1.4h0m-0.6 0h0m-1.6 0.7h0m1.6 0.1h0m-0.6 0.3h0m1.5 0.4h0m1.4-53.5h0m0.6 9.4h0m-1.4 3.1h0m0.2 5.6h0m0.2 0.1h0m1.2 1.1h0m0.9 1.4h0m-1.1 0.4h0m-1.3 0.5h0m1.2 5.3h0m-0.3 0.1h0m-0.9 1.1h0m2.3 0.3h0m-1.1 1h0m-0.4 0.7h0m0.2 0.4h0m1.7 1h0m-2 0.7h0m1 0.7h0m0.6 0.8h0m-2.4 1h0m2.7 0.1h0m-2.6 0h0m0.3 0.8h0m1.5 1.2h0m-0.2 0.2h0m0 0.7h0m-1.5 0.2h0m2.6 1.6h0m-2.4 0.1h0m1.6 1.1h0m-1.7 0.4h0m2.1 0.4h0m-2.5 0.3h0m1.3 0.2h0m1 0.6h0m0.6 1.4h0m-0.8 0.3h0m-0.9 0.4h0m-1 0.1h0m2.4 0.4h0m-1.6 0.6h0m1 1.6h0m-0.9 0.2h0m1.1 0.1h0m-0.1 0.3h0m0.8 0.4h0m-0.2 1h0m-1 0.1h0m1.2 0h0m-2.1 0.8h0m0.2 0.3h0m0.4 0.2h0m0.5 0.1h0m-1.8 0.1h0m0.3 0.4h0m0.8 0.7h0m1.4 0.6h0m0.1 0.1h0m2.2-78.6h0m-1.4 13.7h0m2.1 15.7h0m-0.2 4.1h0m-1.3 0.5h0m1.2 2.1h0m0 5.3h0m-0.5 5.5h0m-0.2 0.2h0m-0.2 5.4h0m-1 0.4h0m0.9 0.4h0m-0.2 1.1h0m0.9 1.4h0m-1.4 0.2h0m2.3 0.4h0m-2 0.6h0m0.2 0.3h0m1.5 0.8h0m-1.5 0.9h0m0.9 0.3h0m-1 1.1h0m1.9 0.3h0m-0.4 0.5h0m-1.3 1.2h0m1.4 0.5h0m-1.7 0.2h0m0.9 0.7h0m-0.8 0.2h0m1.3 0.1h0m-0.4 0.4h0m-0.4 1.8h0m-0.3 0.4h0m1.3 0.3h0m-0.6 1.6h0m-0.6 0h0m-0.3 0.8h0m0.2 0h0m0.9 1.9h0m-1 0h0m1.6 0.5h0m-0.3 0.2h0m0.3 0.1h0m-0.3 0.2h0m-0.5 0.1h0m1 0.3h0m-2.3 0.1h0m2.1 0.3h0m-1.8 0.1h0m1.2 0h0m-1.3 0.9h0m1.4 1h0m-0.9 0.2h0m-0.4 1.1h0m0.4 0.3h0m-0.9 0h0m2 0.6h0m-1.8 1.3h0m2.1 0h0m0.9-54.5h0m0.6 0.3h0m0.2 9.2h0m-1.3 6.3h0m0.6 4.8h0m2.2 1.5h0m-1.7 0.1h0m-0.3 1.4h0m0.2 2.5h0m0.6 1.5h0m0.5 0.8h0m0.6 0.7h0m-0.4 0.2h0m-0.6 1.5h0m-0.9 1.6h0m-0.7 2.1h0m-0.1 0.3h0m2 0.2h0m-1.3 0.3h0m1.5 0.3h0m-1.9 1.2h0m2.5 0.4h0m-0.9 1.2h0m-1.6 0.6h0m0 0.4h0m-0.3 0.2h0m2.8 0.4h0m-0.6 1h0m-2.1 0.1h0m1.7 0.8h0m-0.3 0.1h0m1.4 0.7h0m-2.1 0.2h0m-0.6 0.2h0m0.3 1h0m2 0.2h0m-0.1 0.6h0m-0.4 0.3h0m-1.4 0.7h0m0.1 0.2h0m0.5 0h0m-0.7 0.5h0m0.2 0.4h0m0.3 0.1h0m1.2 0.1h0m-2 0.1h0m2.6 0.2h0m-0.4 0.5h0m-2.3 1.3h0m1.9 0.4h0m-0.1 0.6h0m-1.3 0h0m2 0h0m-1.5 0.6h0m-1 0.3h0m1.9 0.6h0m-0.6 0.2h0m0.9 2h0m-1.2 0.3h0m-1 0.2h0m2.5 0.3h0m-1 0.3h0m2.1-87.9h0m1.1 25.7h0m1.1 1.4h0m-0.2 15h0m-1.2 1h0m1.4 8.1h0m-0.3 2.8h0m-0.6 1.3h0m-2 0.4h0m2.6 0.9h0m-1.1 2.9h0m-1.4 1.7h0m1.9 0.2h0m-0.7 0.6h0m-1.1 0.9h0m0.7 0h0m0.7 1.1h0m-1.7 1h0m0 0.7h0m1.7 0.4h0m0.9 0.3h0m-0.7 1.2h0m-0.9 0.2h0m1.1 0h0m-1.4 0.5h0m1.8 0.8h0m-0.5 0.3h0m0.6 0.4h0m-1.8 1.3h0m1.9 1.1h0m-2.6 0.1h0m0.4 0.5h0m1.9 1.6h0m-1.5 0.5h0m1.4 0.7h0m-0.9 0.1h0m1.4 0.5h0m-0.9 0.3h0m-0.6 0.3h0m0.5 0.3h0m-0.9 0.2h0m-0.6 1.8h0m1.1 0.2h0m1 0.4h0m-1.7 0.8h0m0.1 0.5h0m0.7 0.1h0m1.2 0.7h0m-2 0.7h0m2.1 0.2h0m0 0.2h0m-2.7 0.8h0m0.9 0.2h0m0.8 0.2h0m0.7 1.5h0m-1.5 0.2h0m0.8 0.1h0m-0.7 0.1h0m0.1 0.5h0m-0.5 0.3h0m2 0.9h0m-0.7 0.1h0m2.9-49.6h0m-0.6 5.5h0m1.6 0.8h0m-2.3 1.6h0m0.8 2.1h0m-1.3 1.2h0m0.6 0.4h0m0.7 2.3h0m1 0.4h0m-1.3 3.2h0m1 2.3h0m-1.7 0.2h0m0.6 0.1h0m0.1 1.8h0m-0.4 1.3h0m1.2 0.6h0m0.3 0.6h0m-1.9 0.1h0m0.3 1.8h0m0.9 0.2h0m1.2 0h0m-0.8 0.1h0m-0.1 0.3h0m0.1 0.2h0m1.1 0.5h0m-2.7 0.6h0m1.5 0.7h0m0.7 0.1h0m-1.1 0.3h0m-0.7 1.1h0m2 0.4h0m-0.6 0.1h0m-1.5 0.2h0m2 0.8h0m-2.1 0.3h0m-0.1 0.7h0m2 0.3h0m-1.3 1.2h0m0.1 0.8h0m0.8 0.1h0m-0.5 0.1h0m0.8 0.3h0m-1.3 0.1h0m0.4 0.5h0m-0.9 0.1h0m-0.1 1.2h0m1.2 0.3h0m-0.3 0.3h0m-0.8 1.4h0m1.5 0.3h0m0.9 0.8h0m-1.4 0.7h0m-0.7 0.3h0m0.2 0.9h0m-0.1 0.7h0m1 0.2h0m0.1 0.7h0m0.9 0.3h0m-2.2 0.1h0m0.1 0.9h0m0.5 1h0m0.3 0.1h0m-1.5 0.8h0m0.7 0.4h0m1.3 0.2h0m0.7 0.3h0m2.6-46.9h0m-0.5 4.7h0m0 0.2h0m-1.1 2.7h0m1.5 0.4h0m-2.2 0.4h0m2.2 0.6h0m-1 2.1h0m0.1 0.5h0m1.1 1.5h0m-2 1.8h0m2.2 0.1h0m-0.2 0.7h0m0.2 0.1h0m-0.5 0.6h0m-1.5 0.1h0m0.6 1.5h0m1.1 0.5h0m-2.4 1.1h0m0.6 0.2h0m0.3 0.1h0m1.9 0.7h0m-0.9 0.4h0m0.7 0.2h0m-2.4 0.3h0m0 0.2h0m1.4 1.6h0m-0.3 0.7h0m0.9 1.2h0m-1.4 0.2h0m1.3 0.2h0m0 0.3h0m-1.6 0.2h0m1.8 0.5h0m-2.2 0.8h0m0.8 0.2h0m2 0.6h0m-1.2 0h0m-1 0.1h0m0 0.3h0m-0.2 1.5h0m0.5 0.2h0m1.5 0.2h0m0.4 0.3h0m-0.9 0.4h0m-0.4 0h0m-0.5 0.4h0m-0.7 0.5h0m0.4 0.6h0m-0.7 0.4h0m0.5 0.4h0m2.2 0.4h0m-2.1 0.3h0m0.9 1.4h0m-1.2 0h0m-0.4 0.6h0m1.2 0.6h0m-1.1 1.1h0m1.9 0h0m-0.6 0.9h0m-0.2 0.6h0m1.6 0.7h0m-1.9 0.6h0m0.6 0.5h0m-0.9 0h0m1.4 0.6h0m0.2 0.6h0m0.6 0.5h0m-1 0.8h0m-1.3 0.9h0m1.5 0.6h0m0.7 1h0m-2.3 0.4h0m0.6 1.5h0m4-60.2h0m0.2 7.2h0m-1.1 1.9h0m0.5 6.4h0m0.1 0.2h0m0.5 5.1h0m-2.1 1.5h0m1.1 0.4h0m-0.8 0.5h0m1.3 1.1h0m-0.8 0.1h0m0.5 2.2h0m0.2 0.2h0m-1.1 0.5h0m0.9 0.2h0m1.5 0.7h0m-1.4 0.5h0m-0.5 1.2h0m1.1 0.8h0m0.6 0h0m-2.5 0.2h0m0.6 0.1h0m2.1 0.9h0m-2.5 0.3h0m-0.2 1.1h0m1.5 0.5h0m-0.3 0.1h0m-1 0.8h0m1.9 0.5h0m-1.4 1.4h0m2 0.6h0m-2.4 0.8h0m-0.2 0.2h0m1.9 0.5h0m-1.2 0h0m0.4 0.1h0m-1 1h0m1.4 0.6h0m-0.8 0.4h0m1.4 0.3h0m-1.5 0.5h0m-0.3 0.2h0m2.1 0.7h0m-1.4 0.2h0m-0.3 0.2h0m1.9 0.1h0m-0.3 0.4h0m-1.6 1.3h0m-0.9 0.4h0m2.4 0h0m-1 0.1h0m-0.9 0.8h0m1 0.7h0m-1.5 0.4h0m0 0.4h0m1.4 0.3h0m-1.3 0.2h0m2.3 1.1h0m-1.7 0.4h0m1.9 0.1h0m-1.1 0.4h0m-1.5 0h0m2.8 1.3h0m-1.3 0.9h0m-0.6 0.3h0m-0.8 1h0m0.2 0.5h0m1 0.4h0m0.8 0.1h0m-0.8 0.4h0m0.9 0.5h0m-1.4 0.3h0m-0.7 0.7h0m1.1 0.8h0m0.5 0.3h0m0.6 0.2h0m-1.7 0.2h0m0.1 0.2h0m-0.5 1.7h0m1.6 0.1h0m1.6-72.8h0m1.6 8.2h0m-0.4 11.4h0m-1.2 0h0m0.4 2h0m0.9 3.8h0m0.5 3.7h0m-1.8 1.9h0m2 0.7h0m-1.6 0.6h0m-0.3 0.6h0m2.4 1h0m-2 1h0m-0.3 1.3h0m1.7 0.4h0m-1.9 0.7h0m-0.5 0.2h0m1.9 0.2h0m-1.4 1h0m0.9 0.8h0m0.6 0.9h0m-1.3 2.2h0m0.4 0.1h0m1.5 0.2h0m-0.5 0.1h0m-0.2 0.7h0m0.9 0.9h0m-2.7 0.7h0m2.4 0.7h0m-0.9 0.2h0m-0.8 0.4h0m1.8 0.2h0m-1.8 0.6h0m0.6 0.5h0m-0.6 0.7h0m-0.4 0.5h0m2.5 0.9h0m-2.5 0.3h0m2.3 0.3h0m-0.2 0.5h0m-2.1 0h0m1.2 0.1h0m-0.5 0.8h0m-1 0.8h0m2.7 0h0m-1 0.5h0m-1.5 0.1h0m2.2 0.4h0m-0.6 0.2h0m-0.8 0.3h0m-0.5 0.1h0m1.8 0.8h0m-2.1 0.2h0m0.5 0.2h0m0.7 0.7h0m-1.1 0.3h0m2.5 0.5h0m0 0.6h0m-2 0.5h0m0.1 1.2h0m1.1 0.2h0m-1.8 0.6h0m0.6 0.4h0m2 0.5h0m-2.6 0.7h0m1.9 0.8h0m-0.1 0.7h0m-0.9 0.1h0m1.7 1h0m-2 0.1h0m1.3 0.8h0m-0.2 0.8h0m-1.6 0.1h0m-0.1 0.9h0m1.2 0.4h0m1.1 0.3h0m-0.4 0.5h0m-0.5 0.3h0m-0.9 0.3h0m-0.7 0.6h0m0.3 0.9h0m2 0.6h0m-2.1 0.5h0m2 0.1h0m-2.1 0.4h0m5.1-67.8h0m0.6 13.6h0m-2.8 1.6h0m1.7 6.4h0m-0.8 5.8h0m0 0.4h0m1.7 0.1h0m-0.6 2.5h0m-1.2 0h0m1.1 3.2h0m-1.6 0.5h0m0 1.1h0m2.6 0.2h0m-2.9 0.9h0m1.1 0.8h0m0.7 0.8h0m0.2 1.5h0m0.7 0.1h0m-0.7 1.3h0m-1.5 0.4h0m1.1 0.8h0m-1.2 0h0m-0.4 0.2h0m1.9 0.3h0m0 1.1h0m0 0.5h0m-0.8 0.1h0m-0.7 0.1h0m0.5 0.2h0m0.9 1.2h0m-1.7 0.6h0m1.3 0.8h0m1.3 0.5h0m-0.7 0.7h0m-1.6 1h0m1.9 1.1h0m-2.1 0.4h0m2.2 0.4h0m-1.5 1h0m0.1 1.5h0m0.8 0h0m0.7 0.4h0m0.2 0.7h0m-2.4 0.6h0m1.3 0.3h0m0.9 1.3h0m-0.2 0.5h0m-1.4 0.1h0m1.5 1h0m-1.3 0.5h0m1.2 1.3h0m-1.1 1.3h0m-0.4 0.2h0m2 0.3h0m-0.7 0h0m-2 0.3h0m1 0.3h0m-0.6 0.1h0m2.4 1.3h0m-1.2 0.9h0m-1.6 0h0m1.6 1.7h0m-0.9 0.7h0m0.9 0.7h0m4-98.4h0m-2.8 23.5h0m2.7 4.6h0m-2.3 2.8h0m1 14.2h0m0.6 1.6h0m-1.3 2.1h0m2.2 2.8h0m-1.2 2.3h0m-1.2 1.4h0m0.2 0.1h0m1.3 0.1h0m0.3 0h0m-2.2 0.1h0m0.8 0.2h0m0.5 2h0m-0.6 1.3h0m2 0.9h0m-2.6 1h0m1.8 0.1h0m-2 0h0m2.8 1.5h0m-0.2 0.1h0m-2.1 0.5h0m2.1 1.1h0m0.3 0.5h0m-1.6 0h0m0.9 0.6h0m-0.5 0h0m-1.3 1.6h0m0.9 0.7h0m-1.3 0.8h0m0.4 0.3h0m-0.1 0.4h0m0.1 0.5h0m1.2 0h0m-1.6 0.3h0m2.6 0.8h0m-2.3 0.3h0m0 0.9h0m1.2 0.9h0m1.3 1.1h0m-2.4 0.9h0m0.8 0.2h0m1.2 0.1h0m0.3 0.5h0m-1.1 0.1h0m-1.1 0.3h0m1.7 0.3h0m-1.8 1.2h0m-0.4 0.1h0m2.8 0.4h0m-2.3 0.5h0m-0.1 1.2h0m0.7 0.4h0m1.3 0.5h0m-0.7 0.6h0m-0.8 0.9h0m-0.5 0.4h0m2.1 0.9h0m-1.2 0.1h0m1.5 0h0m-0.4 0.7h0m-0.7 0.1h0m-0.3 0.3h0m-0.3 0.5h0m0.7 1.4h0m-1.7 0.7h0m1.2 1.6h0m0.5 0.1h0m-0.9 0.3h0m-0.7 0.1h0m1.6 0.7h0m-1.1 1.1h0m1.4 0.9h0m0.3 1.2h0m-1.9 0.3h0m2.2 1h0m-0.4 0.4h0m-1.9 0.4h0m1.2 0.4h0m-1 0.9h0m0.9 0.7h0m0.4 0.7h0m-1.2 0.1h0m-0.4 0.1h0m4.4-103.8h0m-0.9 34h0m1.7 8.8h0m0 5.5h0m0.2 0.2h0m-0.1 0.9h0m-1.1 1.2h0m-0.9 1.1h0m1.8 0.2h0m-1.8 0h0m-0.5 1.2h0m2.5 1.9h0m-0.4 1.4h0m0.1 0.2h0m-1.8 0.3h0m2.4 1.1h0m-1.2 0.7h0m1 1.1h0m-2.2 0.4h0m2.5 1.2h0m-1.3 0.4h0m-0.5 0.9h0m-1.2 0.8h0m1 0.4h0m1.8 0h0m-0.1 1.3h0m-0.2 0.4h0m-0.8 0h0m0.4 2h0m-2 0.1h0m1.4 0.4h0m0.9 0.7h0m0.5 0.1h0m-0.1 0.3h0m-0.6 0.7h0m-1 0.5h0m-0.5 0.4h0m0.2 1.2h0m1.6 0.5h0m-0.6 0.1h0m-1.8 0.3h0m2.5 0.9h0m0 0h0m-1.4 0.1h0m0.6 0.6h0m0.9 0.4h0m-2.3 0.1h0m0.3 0.1h0m1.7 1h0m-1.9 0.4h0m1.7 0.2h0m-2.2 0.2h0m1.9 0h0m-1.8 0.3h0m2.1 1.1h0m-1.3 0.3h0m2 0.1h0m-2.7 0.2h0m1.3 1.4h0m-1.1 0.1h0m1.7 0.6h0m0.8 0.8h0m-2.8 0h0m0.3 0.8h0m-0.3 0.4h0m1.5 0.7h0m0.2 0.1h0m-1.7 0.5h0m2.5 0.2h0m-1.5 0h0m1.1 0.5h0m-0.4 0.4h0m-1.1 1.6h0m0 0h0m2.1 0.2h0m0.1 0.9h0m-0.2 0.4h0m-1.9 0.3h0m2.1 1h0m-2.5 0.5h0m1.7 0.7h0m-0.2 0.3h0m-0.6 0.8h0m-0.3 0.1h0m-0.4 0.2h0m1 0.6h0m-1.1 0.8h0m1.9 0.6h0m0 0.2h0m-1.6 1h0m1.3 0h0m0.8 1h0m-1.5 0.6h0m0.8 1.3h0m-0.8 0.2h0m-1.1 1h0m1.6 0.2h0m0.2 0.5h0m-0.4 1h0m-0.9 0.4h0m1.2 0.1h0m-1.8 0.8h0m1.8 1.1h0m0.4 0.3h0m0.9-100.1h0m1.7 27.7h0m0.9 1.3h0m0 4.3h0m-0.7 4.3h0m-1.2 9.3h0m0 2.7h0m-1 0.7h0m2.4 0.3h0m-1.1 1.3h0m0.8 0h0m-0.5 2.5h0m-0.1 0.5h0m0.3 0.1h0m0.6 0.4h0m-0.4 0.2h0m-1.7 0h0m-0.1 0.2h0m2 1.6h0m-2.1 0.9h0m0 0.4h0m0.3 0.2h0m1.4 0.2h0m-0.5 1.1h0m0 0h0m0 0.2h0m1.3 0.9h0m-2.1 0.1h0m0.3 0.3h0m-0.3 0.7h0m0 0.7h0m1.8 0.8h0m-0.1 0.2h0m0.7 0.2h0m-1.6 1.1h0m-0.6 1h0m1.8 0.2h0m-0.7 0.1h0m-0.4 0.2h0m1.2 0.5h0m-2.6 0.2h0m1.6 0.5h0m-1.3 0.4h0m1.1 0.4h0m-0.5 1.6h0m-0.3 0.9h0m1.5 0.1h0m0.5 1.1h0m-0.5 0.4h0m0.6 0.3h0m-1.8 0.1h0m0.1 0.6h0m-0.1 0.6h0m0 0.4h0m0.8 0.6h0m0.1 0.5h0m-1.1 0.4h0m2 0.3h0m-2.3 0.2h0m2.3 0.9h0m-2.7 0.3h0m1.2 1.1h0m0.8 0h0m0.8 0.8h0m-2 1.6h0m1.8 0.6h0m-1.8 0.1h0m1.6 0.5h0m-1.8 0.5h0m1.4 1.9h0m-0.7 2.1h0m0.2 0.6h0m-0.6 0h0m0.6 0h0m-0.8 0.2h0m1.7 0.3h0m-0.7 1h0m0.3 1.4h0m-1.9 0.1h0m1.2 1.1h0m1.4 0.7h0m-1.4 0.4h0m0.3 0h0m-1.3 0.7h0m0.9 1.4h0m0.7 0.1h0m0 1.6h0m0.1 0.2h0m-1.7 0.5h0m2.3 0h0m-2 0.1h0m0 1.2h0m2.2 0.8h0m0.9-107.9h0m1.7 4.1h0m-1.5 32.4h0m-0.4 10.9h0m1.1 1.8h0m-1.5 1.5h0m0.3 1.3h0m-0.2 1.4h0m1.7 0.6h0m0.1 0.1h0m-0.5 0.2h0m1.4 0.7h0m-1.5 3.2h0m-0.1 1.1h0m1.2 0h0m-1.2 0.9h0m-1 0.1h0m1.1 1.3h0m-1.3 0.9h0m2.8 0.1h0m-1.2 0.2h0m-1.1 0.9h0m2.4 0.2h0m-0.5 1h0m-1.8 0.8h0m-0.3 0.5h0m2.2 0.5h0m-1.6 0.2h0m-0.2 0.6h0m-0.7 0.3h0m0.7 0.1h0m0.8 0.1h0m1.1 0.1h0m-2.2 2.2h0m1.2 0.2h0m-1.7 0h0m1.3 2.2h0m-0.7 0.4h0m2.2 0.8h0m-1 0.7h0m-0.4 0.1h0m-0.6 0.7h0m0.7 0.7h0m-1.4 1.2h0m0 0.7h0m2.5 0h0m-1.6 0.2h0m1.9 0.1h0m-1.9 0.8h0m-0.3 0.4h0m1.6 0.3h0m-0.8 1.3h0m-0.6 0.4h0m0.3 0.7h0m1 0.7h0m-1.6 0.1h0m1.7 0.3h0m0.4 1.8h0m-1.2 0.3h0m1.2 0.3h0m-1.3 0h0m1.4 0.4h0m-2.1 0.4h0m1 0.7h0m-0.6 0.5h0m-0.7 0.5h0m1.9 0.2h0m0.1 0.6h0m-1.3 0.2h0m1.1 0.1h0m0.7 1.1h0m-2.9 0.1h0m1.2 0.6h0m-0.4 1.4h0m0 0.2h0m2.2 0.5h0m-1.1 0.3h0m0.5 0.8h0m-2.2 0.4h0m1.2 0.7h0m1.4 0.5h0m-1.6 0.5h0m-0.7 1h0m1.7 0.4h0m0.1 1.3h0m-1.1 0h0m-0.4 0.8h0m-0.7 0.8h0m0.5 0.3h0m-0.2 0.1h0m2.2 0.5h0m-2.4 0.6h0m1.3 0.2h0m-1.1 1.1h0m1.5 0.2h0m1 0.4h0m0 1.4h0m-1.2 0.1h0m-0.8 0.1h0m-0.3 0.3h0m1.5 0.5h0m-0.4 0.5h0m0.8 1.1h0m0.4 0.1h0m-1.1 0.1h0m2.7-80h0m0.4 8.1h0m0.2 14.7h0m-2 0.6h0m2.3 0.7h0m-1.4 1.7h0m-0.6 1.6h0m0.8 2h0m-0.4 0.7h0m0.1 1.9h0m1.4 0.2h0m0.3 0.2h0m-1.8 0.2h0m-0.1 1.5h0m2 0.4h0m-1.1 0.2h0m0.2 1.5h0m0.8 0.2h0m-1.1 1.1h0m-0.8 1.8h0m1.8 0.1h0m-1.9 0.9h0m-0.5 0.4h0m1.1 0.8h0m1.4 0.1h0m-2.5 0.9h0m1.3 0.7h0m-1.3 1.2h0m-0.1 0.8h0m2.5 0.1h0m-0.8 0.1h0m-0.9 0.6h0m1 1.3h0m-1.7 0.2h0m0.6 0.5h0m0.4 0.1h0m-0.8 0.1h0m1.5 0.2h0m0.5 0.2h0m0.3 0.3h0m-1 0.4h0m-0.4 0.3h0m-0.2 1.3h0m-0.6 0.1h0m1.6 0.7h0m-1.7 0.4h0m0.4 0.7h0m1.8 1.4h0m-1.1 0.4h0m0 0.3h0m-0.5 0.3h0m0.3 0.3h0m-1 1h0m0.7 0.4h0m-0.1 0.5h0m0.7 0h0m-1.1 0.1h0m2.5 0.8h0m-1.4 1.3h0m-0.4 0.1h0m0.2 2.2h0m0.3 0.6h0m-1 1.3h0m-0.2 0.1h0m0.7 0.1h0m-0.6 0.2h0m-0.2 0.2h0m2.7 0.7h0m-0.3 1h0m-1 0.1h0m0.6 0.6h0m0 0.8h0m-1.6 0.3h0m1.5 0.4h0m0 0.6h0m-0.5 0.7h0m-0.6 0.7h0m-0.7 0.2h0m0.4 1.2h0m1.5 0.6h0m-0.8 0.4h0m0.3 1.7h0m-0.7 1h0m-0.9 1.2h0m2.6 0.4h0m-1.7 0.8h0m0.6 0.5h0m-1 0.6h0m0.4 1h0m3.1-83.2h0m-0.9 13.2h0m2.5 1.3h0m-1.1 9.7h0m-0.9 0.2h0m-0.3 0.5h0m0.1 2.2h0m1 1.3h0m-0.7 1.1h0m1.1 0.4h0m-1.9 1.4h0m1.1 0.2h0m0.9 0.5h0m-0.6 0h0m0.7 0.5h0m-2.1 0.5h0m0.5 0.4h0m0.9 0.7h0m1 0.3h0m-0.8 0.6h0m0.1 0.5h0m1.2 0.2h0m-2 0.8h0m1.8 0.4h0m-1 1.8h0m0.6 0.3h0m-2.1 1.5h0m0 0.2h0m1 0h0m0.8 0.4h0m-0.6 0.6h0m-0.7 0.6h0m1.3 1.4h0m-1.4 0.2h0m2.2 1.3h0m-1 0.7h0m-0.9 0.5h0m2 0.6h0m-2.6 0.2h0m2.3 0.8h0m-1 0.6h0m-1.4 0.5h0m1 0.3h0m1.4 0.7h0m-1.7 0.7h0m0.7 0.3h0m0.7 0.7h0m-0.9 0.2h0m-1.2 1.7h0m1.8 0.1h0m0.5 0.7h0m-2.6 0.5h0m2.2 0.4h0m-0.7 0.9h0m0.8 0.8h0m-1.6 0.4h0m-0.3 1.7h0m1.4 0h0m0.4 0.3h0m-0.5 0.1h0m0.7 0.1h0m-1.5 0.5h0m-0.4 0.5h0m0.8 1.4h0m1.4 1.3h0m-2.4 0.5h0m0.5 0.5h0m0.7 0.3h0m0.9 1.3h0m-2.3 0.5h0m0.7 0h0m2.2 0.8h0m-1.6 0.1h0m-1.2 1.7h0m0.7 0.2h0m2.1 0.3h0m-0.9 0.2h0m-0.2 0h0m-1.6 0.9h0m2.3 0.5h0m-1.5 1.5h0m1 0.2h0m0.6 0.4h0m-1.7 0.4h0m1.2 0h0m-1.2 0.2h0m1.8 0.5h0m-2.6 0.2h0m0.5 0.1h0m0.2 1.8h0m1.5 0h0m-2 1.5h0m2.4 0.4h0m-1.6 1.5h0m0 0.4h0m0.4 1.4h0m-1 0.2h0m-0.5 0.5h0m1.4 0.5h0m1.2 0.1h0m1.2-86.3h0m0.2 3.3h0m1.4 13.7h0m0.4 2.6h0m-1.4 2.9h0m0.6 4.4h0m-1.9 0.7h0m2.2 3h0m-2.1 0.2h0m1.8 0h0m-1.7 0.9h0m0.5 0.3h0m-0.5 0.6h0m1.1 0.7h0m-0.2 0.2h0m-0.7 1.4h0m2.1 0.2h0m-0.1 0.2h0m-0.6 0.5h0m-1.7 0.9h0m2.6 1h0m-1.4 0.5h0m1 0.9h0m-0.2 0.5h0m0.1 0h0m-0.5 0.2h0m0.3 0.8h0m0.4 0.8h0m-1.7 1.4h0m0.9 0.2h0m-0.8 1.8h0m0 1.2h0m1.4 0.4h0m-0.1 0h0m0.5 0.6h0m-0.1 0.1h0m0.1 0.4h0m-1.7 0.1h0m1.1 1.2h0m-1.9 0.1h0m1.4 0.2h0m-1.4 1.6h0m1.4 0.2h0m-1.3 1.3h0m1.1 0.3h0m-0.5 1.4h0m1.5 0.4h0m-2.1 0.4h0m0.1 0.3h0m0.7 1h0m-0.7 0.4h0m2.2 0.1h0m-1 0.9h0m0.3 0.5h0m-0.7 0.2h0m-0.2 0.3h0m0.2 0.3h0m-0.9 0.4h0m1.6 0.5h0m-1.2 0.6h0m1 0.4h0m-1.5 0.7h0m0 0.2h0m2.4 0.3h0m-0.9 0.1h0m0.5 0.6h0m-0.5 1.2h0m-1.2 0.2h0m1.5 0.1h0m-0.6 0.8h0m-1.2 0.1h0m1.3 1.3h0m-0.2 0.4h0m-0.8 0.1h0m-0.6 0.9h0m2.1 1h0m0.7 0.3h0m-2.1 0.1h0m2 0.5h0m-1 1.4h0m1 1h0m-1.1 1h0m-0.6 0.1h0m1.9 1h0m-0.5 0h0m-0.8 0.6h0m-1.6 0.1h0m2.4 0.8h0m-1.5 1.6h0m-0.2 0.5h0m1.4 0.7h0m-0.8 0.3h0m-0.8 0.7h0m-0.3 0.6h0m2.3 0.6h0m0 0.1h0m-1.5 1.4h0m1.4 0.1h0m-0.9 0.3h0m0.1 1.2h0m-0.6 0h0m-0.1 0.6h0m-0.5 0.2h0m1.9 0.4h0m0 0.2h0m-0.9 0.8h0m0.1 1.2h0m1.2 0.1h0m2.4-91h0m0.4 6.6h0m-0.5 4.4h0m0.3 6.4h0m-1.7 5.8h0m-0.3 0.9h0m0 0h0m2.6 3.4h0m-2.3 1.8h0m0.4 1.5h0m-0.7 0.5h0m1.3 0.3h0m1.1 0h0m-0.4 0.8h0m-0.9 0.5h0m0.6 1.4h0m-1.2 0.1h0m1.7 1h0m-0.6 0.2h0m-1.6 1.1h0m2.1 0.2h0m0.2 0.4h0m-1.7 0.1h0m1.9 0.6h0m-1.1 1.4h0m-0.8 1.1h0m1 0.3h0m0.6 0.6h0m-1.5 1h0m0.4 1.1h0m0.7 0.4h0m-1.5 0.1h0m1.9 0.6h0m-1.7 0.7h0m2 0.4h0m-1.8 0.4h0m0 0.1h0m1.4 1.1h0m-2.3 0h0m1.1 0.6h0m-0.2 0.7h0m-1 0.2h0m0.6 0.1h0m0.7 0.5h0m1.3 1.2h0m-1.9 0.6h0m1.2 1h0m-1.2 0.5h0m1 0.8h0m-1.2 1.1h0m1.4 0.1h0m-0.1 1h0m-1.4 0.7h0m2.4 0.8h0m-0.6 0.7h0m0 0h0m-1 0h0m-0.6 1.3h0m1.6 1.5h0m0.2 0.7h0m-2.4 0.2h0m2.9 0.2h0m-0.1 0.2h0m-1.8 0.6h0m1 0.1h0m0.4 0.4h0m-0.9 1.2h0m0.2 0.9h0m0.2 0.6h0m-0.4 0h0m-0.3 0.5h0m-0.6 1.2h0m2.1 0.6h0m-1.7 1.2h0m0.4 0.9h0m1 0.5h0m-1.7 0.1h0m0.6 1.1h0m-1.2 0.5h0m2.9 0.7h0m-2.4 0.8h0m0.8 1h0m0.1 1h0m0.1 0h0m0.4 0.2h0m0.3 0.1h0m-0.3 0.6h0m0.9 0.9h0m-1.8 0.8h0m1.7 0.5h0m-0.5 1h0m-1.9 0.4h0m0.2 0.6h0m1.9 0.1h0m0.4 0.2h0m-1.9 1.1h0m1.1 0.2h0m-0.7 0.7h0m1.6 0.5h0m-2.1 0.5h0m-0.6 1.1h0m0.2 0h0m1.2 0.5h0m0.3 0.7h0m0.1 0.6h0m0.2 0.3h0m-1.3 0.2h0m0 0.8h0m1.6 0h0m-1.4 0.4h0m-0.2 0.1h0m0 1.1h0m1.3 1.1h0m0.8-82.1h0m1.7 8.4h0m-1.6 3.1h0m1.7 1h0m1 0.2h0m-1.5 0.4h0m0.7 0.7h0m-0.5 0.9h0m-0.2 0.5h0m0.4 0.2h0m0.7 2.4h0m-1.8 1h0m1.3 0.2h0m0.3 0.8h0m-2.2 1.1h0m0.8 0.4h0m1.8 1.9h0m-0.7 0.6h0m0.6 0.1h0m-1.2 0.7h0m-0.9 0.6h0m-0.2 1.4h0m2.4 0.2h0m-1.2 0.6h0m-0.3 1h0m-0.8 0.5h0m1.9 0.3h0m0.2 0.3h0m-0.6 0.8h0m0.7 0.4h0m-1.8 0.5h0m0.8 0.1h0m-1.4 1.2h0m-0.2 0.4h0m1.8 0.2h0m0.2 0.1h0m-0.3 0.9h0m-1.6 0.8h0m1.6 0.2h0m0.6 0.6h0m0.1 0.1h0m-1 0.2h0m0.8 0h0m0 1.3h0m-0.4 1.1h0m-1.4 0.5h0m-0.2 0.3h0m2.5 0.4h0m-0.9 0.6h0m0.1 0.9h0m-0.4 1.3h0m-1.4 1.4h0m1.3 0.4h0m1.1 0.3h0m-1.5 1h0m0 0.5h0m1.7 0.3h0m-2.5 1.1h0m2.1 0.5h0m-1.1 0.4h0m0.4 1.2h0m-1.4 0.3h0m0.3 0.9h0m-0.4 0.7h0m1.2 0.4h0m-1.2 0.3h0m2.4 1.6h0m-2.1 0.1h0m-0.4 0.2h0m1.1 0.9h0m0.2 0.6h0m0.7 0.3h0m-1.5 0.3h0m2.2 0.2h0m-0.3 0.5h0m0.4 0.3h0m-2.2 0.5h0m1.9 0.3h0m0.1 1.3h0m-1.8 0.3h0m0.9 1h0m0.6 0.4h0m-1.5 1h0m0.5 0.4h0m0.8 1.6h0m-2.1 0.8h0m0.6 0.6h0m1.1 0.8h0m0.2 1.2h0m0.1 0.7h0m0.1 0.6h0m-0.1 1.2h0m0.4 0.8h0m-1 0.5h0m-0.6 0.3h0m0.7 1.7h0m1.4 0.3h0m-2.4 1.3h0m2.5 0.6h0m-1.8 0.1h0m0.6 0.4h0m-0.5 0.5h0m-0.9 0.4h0m2.2 1.2h0m-2 0.8h0m1.3 0.1h0m0.9 0.8h0m-2.3 1.4h0m0.8 0.4h0m1.6 0h0m-1.8 0.7h0m2.2-99.7h0m2.2 21.5h0m0.3 1.8h0m-1.2 1.1h0m-0.4 5.2h0m0.1 0.6h0m-1 3.4h0m2.2 1.5h0m0.3 1.2h0m-1.2 0.5h0m1 0.1h0m-0.6 0.1h0m0.7 1.2h0m-2 0.4h0m1.1 0.3h0m0.3 0.2h0m-1.8 0.5h0m1.6 1.3h0m0.1 0.8h0m-0.8 0.4h0m-0.7 0.2h0m2.2 0.9h0m-1.9 1.1h0m1.4 1.1h0m-2 0.7h0m0 0.2h0m1.7 0.7h0m-1.3 0.2h0m2.4 1h0m-0.8 0.2h0m0.8 0.6h0m-0.4 0.6h0m-2.2 0.5h0m1.7 0.3h0m-1.4 0.7h0m0.6 0.2h0m-0.8 0.7h0m2.2 0.9h0m-0.7 0.2h0m0.1 0.3h0m0.1 0.5h0m-0.7 0.3h0m1.1 0.8h0m-0.9 0.1h0m-1.1 0.9h0m0.5 0.7h0m0.4 1.2h0m1.1 0.4h0m-2 0.5h0m-0.2 1.2h0m2.1 0h0m0.4 0.1h0m-2.6 0.3h0m2.4 1.4h0m-1.9 0.2h0m1.1 1h0m-0.3 1.1h0m-0.1 0.9h0m0.7 0.1h0m0.3 1.1h0m-1.6 0.1h0m-0.5 0.3h0m1.9 0.7h0m-1.8 0.4h0m0.8 0.2h0m-0.3 0.6h0m-0.8 0.3h0m0.5 1h0m1.8 0.3h0m-1.2 0.2h0m1.5 0.3h0m-0.7 0h0m-1.1 0h0m-0.9 1.3h0m1 1h0m0.3 0.7h0m1 0.5h0m-0.9 0.4h0m0.1 0.2h0m-0.5 0.6h0m1.8 1.4h0m-1.2 0.1h0m1 1h0m0.1 0.4h0m-1 0.3h0m-1 0.3h0m1 0.4h0m0.5 0.3h0m-0.8 0.8h0m-1.3 0.4h0m1.2 0h0m-0.4 0h0m0.2 0.2h0m1 0.6h0m-0.8 1h0m-1 0.7h0m2.3 0.7h0m-2 0.2h0m-0.4 0h0m2.3 0.6h0m-1.7 0.3h0m-0.7 1.9h0m2.1 0.1h0m-1.3 0h0m0.2 1.2h0m0.8 0.5h0m-1.8 0.5h0m2.2 1h0m-1.6 1.2h0m1.9 0.5h0m-0.6 0.1h0m0.4 2.1h0m-0.6 0.6h0m-1.9 0.6h0m1.8 0.1h0m1.2 1.9h0m-1.9 0.4h0m1.7 0h0m-1.2 0.1h0m-0.6 1.5h0m2.2-97.9h0m1.6 4h0m0.9 6h0m-1.7 16.3h0m2 1.9h0m-0.9 4.4h0m0.6 1.1h0m-1.6 0.1h0m-0.6 1.5h0m1.3 0.5h0m1.2 0.3h0m-2.6 0.9h0m2.5 0.1h0m-1.8 0.7h0m0.4 1.2h0m-1.5 0.4h0m1.4 0.2h0m-0.3 0.1h0m-0.5 0.9h0m-0.4 0.1h0m2.7 0.3h0m-1.5 1.5h0m0.8 0.1h0m-1.5 0.2h0m1.8 1.2h0m-0.9 0.4h0m-1.4 0.3h0m0.2 1.3h0m1.2 0.3h0m-1.1 0.3h0m0.9 0.5h0m-1 0h0m0.9 1.4h0m-0.2 0.9h0m0.6 0.4h0m-0.8 0.4h0m-0.2 0.2h0m0 0.4h0m2 1.2h0m-1.5 0.4h0m1.6 0.8h0m-0.2 1h0m-2.3 0.1h0m-0.1 0.3h0m0.5 0.1h0m2.1 0.4h0m-1.5 1.2h0m0.2 0.2h0m0.4 0.3h0m-0.4 0.5h0m-1.5 0h0m1.6 1.4h0m-0.2 0h0m-0.4 0.7h0m-0.8 0.3h0m2.6 0.2h0m-1.1 0.5h0m0.3 1.7h0m-1.3 0.2h0m1.6 1.7h0m-1 0h0m-1.2 0.4h0m0.3 0.4h0m0.5 0.6h0m1.3 0.5h0m-0.5 0.3h0m0.9 0.3h0m-1.8 1.2h0m1.6 0.8h0m-0.7 0.3h0m-0.6 1h0m0.9 0.6h0m0.3 0.6h0m-2.3 0.1h0m0.1 0.1h0m0.9 0.9h0m1.3 0.1h0m-0.9 1.7h0m-1.3 0h0m0 0.7h0m2.9 0.2h0m-2.6 0.1h0m1.7 1.3h0m-1.6 1h0m2.5 0.4h0m-0.9 1.2h0m0.4 0.4h0m0 0.1h0m-2 0.5h0m-0.4 0.1h0m2.3 0.4h0m-1.7 1.3h0m1.2 0.3h0m0.9 0.1h0m-1.3 0.3h0m1 0.4h0m-2.4 1.4h0m1.2 0.2h0m-0.6 1.5h0m1.9 0.6h0m-1.1 0.2h0m-0.7 0.8h0m0.2 0.1h0m-0.6 0.4h0m0.4 1.1h0m1.3 0.6h0m-1.8 0.4h0m2.6 0.2h0m-1 0.2h0m-0.1 0h0m-0.7 0.2h0m1.7 0.3h0m-0.4 0.3h0m-0.3 1.6h0m-1.3 0.2h0m0.7 0.2h0m-0.1 0.2h0m0.2 0.7h0m0.5 0.8h0m-1.4 0.4h0m0.1 1.6h0m1.6 1.5h0m1.7-95.3h0m-0.8 10.5h0m1.3 15.2h0m0 0.8h0m-1 0.4h0m1.7 0.2h0m-0.9 4.8h0m1.6 1.4h0m-0.8 0h0m-1.3 0.1h0m0.6 1.1h0m-0.3 0.6h0m0.5 0.9h0m-1.2 0.1h0m1 0.5h0m-0.4 2h0m1.8 0.8h0m-2.2 0h0m0.7 0.5h0m-0.8 0.8h0m-0.4 0.9h0m1.1 0.2h0m-0.8 0h0m1.4 0.3h0m-1.1 1.7h0m0.8 0.7h0m-1 0.2h0m0.3 0.8h0m1.2 0.9h0m-1.8 0.3h0m0.1 0.4h0m0 0.3h0m1.4 1.1h0m0.1 1.3h0m-0.3 0.3h0m0.6 0.4h0m0 0.4h0m0.1 0.6h0m0.7 0.5h0m-2.1 0.1h0m1 0.8h0m-0.6 0.8h0m-1.2 0.4h0m1.8 1.2h0m-0.4 0.2h0m1.1 0.2h0m-1.9 0.1h0m0.9 0h0m1.1 2.2h0m-1.7 0h0m0.1 1h0m0.5 0.8h0m-1.1 0.1h0m-0.3 1.9h0m0.9 0.1h0m0.5 0.3h0m-1.4 2.3h0m2.3 0.1h0m-2.2 0.4h0m1.7 0.9h0m-0.2 0.4h0m0.4 1.7h0m-0.3 0.8h0m-0.8 0.5h0m0.8 0.8h0m0.9 0.3h0m-0.5 1.3h0m-1.7 0.4h0m-0.2 0.9h0m1.5 0.4h0m0.5 1.9h0m-2 0.4h0m0.8 0.1h0m-1.1 1.5h0m0.7 0h0m0.6 1.1h0m1.4 0.3h0m-0.2 0.6h0m-0.3 2h0m-0.4 0h0m-0.6 0.4h0m-1.1 0.4h0m0.6 1h0m0 0.9h0m0.7 0.2h0m0.1 0.9h0m-0.1 0.3h0m0.7 0.2h0m0.6 0.4h0m-1 0.6h0m-1.4 0h0m2.4 2.4h0m0.2 0h0m-1.6 0.4h0m1.5 1.5h0m-1.3 0.9h0m0.3 0.9h0m-0.5 0.3h0m-0.5 1.1h0m-0.1 0.2h0m2 0.4h0m-1.1 0.4h0m3.7-96.7h0m-0.1 4.6h0m-0.1 0.8h0m0.3 2.2h0m-0.9 0.8h0m1.4 5.1h0m-0.6 0.9h0m0 2.1h0m-1.2 0.4h0m1.3 4.3h0m0.4 1.4h0m-0.7 2h0m0.4 2.6h0m-1.2 0h0m-1 0.2h0m1.7 0.4h0m0.9 0.2h0m-1.8 1.5h0m-0.9 0.1h0m0.4 0.2h0m1.4 0.1h0m-0.6 1.1h0m-1.1 0.1h0m2.5 0.1h0m-1 0.5h0m-1.8 0.1h0m0.6 0.1h0m2.2 1.7h0m-1.2 0.5h0m-0.2 0.2h0m0.8 0.2h0m0.4 0.3h0m0.1 1.4h0m-2.3 0.2h0m0.4 0.1h0m-0.4 0h0m0.9 0.8h0m0.2 0.1h0m1.2 1h0m-2.8 0.5h0m1.6 0.1h0m1.2 1.3h0m-0.1 0.1h0m-2.6 0.4h0m1.6 1.3h0m-0.3 0.5h0m-0.4 0.1h0m2 0h0m-2.3 1h0m1.1 0.1h0m-0.9 0.4h0m-0.6 0.1h0m2.7 0.6h0m-2.7 0.6h0m1.5 0.2h0m-0.5 0.6h0m-0.3 1.3h0m-0.2 1.7h0m1.9 0.4h0m0.2 0.3h0m-2.6 0.4h0m0.6 0.1h0m1.5 0.9h0m-0.2 1h0m-0.4 0.1h0m1.2 0.4h0m-2.3 1.1h0m0.6 1h0m1.4 0.7h0m-1.6 0.1h0m-0.8 0.7h0m1.3 0.6h0m0.7 0.2h0m-0.2 0.5h0m0.4 0.1h0m-1.9 1h0m0 0h0m2 0.6h0m-2.4 0.1h0m0.9 2.1h0m-1 0.8h0m2.7 0.2h0m0.1 0.3h0m-2.5 0.3h0m1.6 0.9h0m-0.7 0.3h0m0.5 0.5h0m-0.5 0.2h0m0.9 1.1h0m-0.4 0.4h0m0.5 1.1h0m-2.1 0.8h0m1.9 0.2h0m-1.8 0.2h0m1 0.6h0m-0.5 0.2h0m-0.8 0.6h0m0.6 1.8h0m0.9 0.1h0m1.1 1.3h0m0.3 0h0m-1.7 1h0m0.7 0.7h0m-1.6 0.8h0m2.2 0.4h0m-2.2 0.6h0m1 0.4h0m-0.2 0.7h0m1.5 0.5h0m-1.5 2h0m0.6 0.6h0m1 0.7h0m-1.5 1.9h0m0.3 0h0m-1.2 0.1h0m0 0.1h0m2.5 1.4h0m0.1 0.6h0m-1.2 0.5h0m-1.1 0.6h0m-0.3 0.2h0m2.6 0.3h0m-2 1.1h0m0.9 0.6h0m0.2 2.6h0m-1.5 1.4h0m-0.4 1.9h0m4.3-106.9h0m-0.7 2.2h0m0.9 14.9h0m-1.2 1.6h0m0.7 8.6h0m1.9 3.1h0m-2.2 2.3h0m0.6 0.1h0m0.2 1.3h0m1.3 0.8h0m-1.7 0.4h0m1.7 0.5h0m-0.6 1h0m0.3 0.8h0m-1.6 0h0m0.8 0.3h0m1.1 0h0m-1.8 2.2h0m-0.2 0.2h0m-0.7 0.1h0m2.3 0.3h0m-1 0.7h0m-1.1 1.7h0m1.7 1h0m-1.7 1.7h0m2.4 0.4h0m-2.1 0.7h0m-0.6 0.2h0m2.4 0.3h0m-0.7 1h0m0.8 1.4h0m-0.7 0.8h0m0.1 0.2h0m-0.9 0.5h0m-0.7 0.2h0m0.5 0.2h0m0.4 1.7h0m-0.9 1.2h0m2 0.5h0m-1.3 1.9h0m-0.8 1.3h0m2.2 0.2h0m-2.3 0.8h0m0.3 0.9h0m0.1 0.5h0m2.2 0.1h0m-1.8 0.1h0m2 0.6h0m-2.7 0.5h0m0.6 0.9h0m0.7 0.7h0m-0.9 0.5h0m-0.4 0.1h0m1.1 0.6h0m1.5 0.1h0m-0.3 1.7h0m-0.2 1.5h0m-0.1 2.2h0m-1.6 0.8h0m0.6 0.2h0m1.2 1.5h0m-0.8 0.6h0m-0.2 0.7h0m0.3 1.5h0m-0.4 0.7h0m0 0.7h0m1.3 0.3h0m-2.7 0h0m2.6 1.9h0m-0.8 0.1h0m-0.4 0.9h0m-0.6 1.7h0m1.4 1.9h0m-0.5 0.7h0m1 0.3h0m-1.1 0.5h0m1.3 1h0m-2.2 0.8h0m1.8 1.1h0m-1.7 0.1h0m0.4 0.1h0m0.2 0.1h0m-0.5 0.7h0m1.7 1h0m-1.6 1h0m-1 0.8h0m1.9 0.1h0m-1.7 0.9h0m1.2 2.2h0m0.2 1h0m1.3 1.6h0m-1.7 0.1h0m-0.8 0h0m1.2 0.6h0m-0.5 3.3h0m-0.1 0.9h0m0 1.7h0m2 0h0m-1.2 0.5h0m-0.8 0.2h0m1.5 0.3h0m0 0h0m-0.6 0.2h0m1 1.8h0m-1.8 0.7h0m4-100.7h0m0.2 4.4h0m0.3 1.4h0m-0.6 4.2h0m-0.7 0.8h0m-0.8 3.9h0m1 4.5h0m1.2 0.5h0m-1.3 2.1h0m-0.8 0.8h0m1.5 0.9h0m-0.1 1.9h0m-1.9 0.4h0m2.9 1.3h0m-1.3 0.1h0m0.2 0.8h0m0.3 0.6h0m-1.7 1.4h0m0.4 1.9h0m1.6 0.3h0m-0.7 0.5h0m-1 0.1h0m-0.1 0.2h0m1.4 0.7h0m0 0.1h0m-0.3 0.7h0m0.4 0.9h0m-1.6 0.4h0m0.3 0.1h0m-0.3 0.7h0m1 0.1h0m-0.1 1.4h0m0.1 1h0m1.2 0.1h0m-0.4 0.4h0m-1.9 1.7h0m2.2 0.3h0m-1.6 0.3h0m0.5 0.5h0m-1.2 0h0m0.4 0.6h0m0.2 0.8h0m0.9 0.3h0m-0.6 0.2h0m0.1 0.8h0m0.5 0.5h0m-1.6 0.3h0m1.4 0.1h0m1 0.3h0m-0.3 0.2h0m-1.9 0h0m-0.3 0.8h0m1.9 1.3h0m-0.7 0.1h0m0.1 0.7h0m-1 0.5h0m0.2 0.7h0m-0.7 1.7h0m0.5 0.1h0m0.8 0.8h0m0.6 1.2h0m-1.6 0.5h0m0.1 1.4h0m0.1 0.2h0m0.4 1.8h0m1.8 1.9h0m-1.7 0.2h0m0.2 2.2h0m0.7 0.1h0m0.8 0.3h0m-2.1 0.4h0m1.6 1.9h0m-0.2 0h0m-1.2 1.4h0m-0.5 2.7h0m2.5 1.1h0m-2.1 0.8h0m-0.4 1.6h0m1.7 0.5h0m-1.1 0.3h0m-0.1 0.1h0m1.3 2h0m0.5 0.9h0m-2.3 0.5h0m-0.1 0.4h0m0.1 0h0m2.6 0h0m-1.5 0.1h0m-0.3 2.3h0m0.2 0.8h0m-0.3 0.8h0m1 0.1h0m-1.5 0.1h0m0.6 1.9h0m1.3 0.2h0m-0.4 2.1h0m-0.7 0.4h0m1.4 1.5h0m-2.6 0.3h0m1.3 1.1h0m-0.6 0.4h0m0.4 0.4h0m1.7 0.5h0m-1.4 1.4h0m-0.7 0.9h0m-0.2 1.3h0m1.2 0.7h0m-1.5 1.3h0m0.2 0.6h0m1.1 0.2h0m-1.2 1.9h0m-0.4 1.6h0m5.7-99.7h0m-0.1 10.3h0m-2.4 4.9h0m2.2 3.3h0m-2 0.4h0m1.1 0.3h0m1.1 0.3h0m-1.7 0.3h0m0.4 0.7h0m1.7 0.3h0m-2.1 0.8h0m1.9 2.1h0m-1 0.5h0m-0.1 0.3h0m0.1 0h0m-1.2 1.2h0m0.8 0h0m1.5 0.3h0m-2.1 0.1h0m1.8 1.5h0m-1.7 0.1h0m1.9 0.9h0m-1.2 0.6h0m-0.9 1h0m1.5 0.3h0m-2.1 0.1h0m2.4 0.5h0m-0.3 0.5h0m-1.7 0.2h0m1 0.6h0m-1.1 1.1h0m2.1 0.1h0m-1.1 0.1h0m-1.1 0.2h0m2.7 0.7h0m-2.9 0.7h0m1.7 1h0m0.5 0h0m-1 0.8h0m1 0.7h0m-2.3 0.2h0m1.6 0.1h0m1.4 0.1h0m-2.5 0.1h0m0.8 0.7h0m-0.8 1.9h0m1.1 0.4h0m-1.3 0.3h0m1 0.1h0m1 0.6h0m-1.2 0h0m-0.7 1.3h0m1 0.4h0m-1 1.4h0m0.8 0.8h0m-0.8 0.2h0m0 1.2h0m0.8 0.8h0m0.9 0.4h0m0.6 0h0m0.2 0.6h0m-2.9 1.1h0m1.5 2.2h0m-0.9 0.6h0m0.9 2h0m-0.3 1.3h0m1.8 2h0m-1.1 1.5h0m-1.7 0.1h0m2.3 0.6h0m-2 1.1h0m1.2 1.1h0m-0.5 4.2h0m1.7 3.5h0m-2.4 1.9h0m1.5 0.3h0m0.3 0.9h0m-2.1 0.2h0m0.3 0.3h0m0.3 0.3h0m1 0.9h0m-1.5 1.5h0m1 0.6h0m1.5 0.4h0m-2.7 0.7h0m0.1 0.7h0m1.8 0.6h0m-0.7 0.6h0m-0.7 2.2h0m0.6 2.4h0m-1 1.4h0m2.6 0.2h0m-0.9 0h0m-1 0.3h0m0.4 0.5h0m-0.6 1.7h0m-0.2 1.1h0m1.6 1h0m0 0.5h0m-0.2 0.7h0m-1.3 0.4h0m1.2 0.9h0m-0.1 1.4h0m3.1-97h0m-0.4 3.7h0m1 5.7h0m-1.1 5h0m0.4 2.8h0m-0.4 0.7h0m-0.6 0.7h0m1.5 1h0m-0.2 0.9h0m0.1 4h0m-0.1 1.4h0m0.2 0.2h0m-1 0.7h0m1.6 0.8h0m-1 0.2h0m-0.6 0.1h0m0.6 0h0m0.7 1.5h0m-1.1 1.5h0m1.6 1h0m-1.6 0.5h0m-1.1 0.1h0m2 0.5h0m-0.4 0.2h0m-1 1.2h0m1.8 0.1h0m-1.3 0.3h0m-0.5 0.5h0m-0.4 1.8h0m0.4 0h0m1.7 0.6h0m-0.1 0h0m-1.8 1.1h0m0.6 1.4h0m0.2 0.2h0m-1 1.5h0m2.1 0.1h0m-1.8 0.1h0m0.5 0.2h0m0.3 0.2h0m-0.2 0.6h0m-0.7 0h0m1.7 1.1h0m-0.3 1.2h0m-1.9 0.1h0m1.2 0.1h0m-0.2 1.4h0m0.1 0.3h0m-1 0.1h0m1.4 0.6h0m-1.7 1.7h0m0.9 1.7h0m1.4 1.5h0m0.4 0.6h0m-1.3 0.2h0m0.2 0.8h0m-1.2 1.1h0m1.7 3.2h0m0.8 0.3h0m-2.3 0.9h0m0.6 0h0m0.2 1.6h0m1.2 0.6h0m-2.2 1.7h0m2.1 2h0m-1.4 0.1h0m0.8 0.7h0m-0.5 2.6h0m-1.1 0h0m1.1 0.4h0m-0.6 2.6h0m2.2 0.1h0m-1.5 1.8h0m-0.4 0h0m0.7 3.7h0m-0.8 0.5h0m-0.5 1.4h0m-0.4 0.2h0m1.2 1.8h0m0.3 0.8h0m-0.8 1.8h0m-0.3 1.6h0m2.2 0.3h0m-2.2 0.2h0m1.6 0.6h0m-0.3 0h0m0.1 1.6h0m-1.1 0.7h0m-0.5 0.9h0m0.6 0.6h0m0 0.4h0m2 0.1h0m-1 0.4h0m0.4 0.3h0m-0.5 1.5h0m-1.5 2.9h0m2.2 0.6h0m-2.2 1.6h0m1.4 3.3h0m-0.4 0h0m1.8-113.5h0m0.1 7.4h0m0.9 14.8h0m-0.9 0.5h0m1.9 2.2h0m-0.7 1.9h0m0.5 0.9h0m0.4 1.6h0m-2.1 0.6h0m1.6 0.9h0m-1.3 0.4h0m1.3 0.4h0m-0.9 0.7h0m-0.6 3.2h0m0.4 1.2h0m1.3 0.2h0m-0.2 1.4h0m-1.3 0.8h0m1.6 0.4h0m0.2 1.3h0m-1.3 1.1h0m1.2 0.2h0m-0.6 0.9h0m0.2 1.9h0m1.1 0.3h0m-2.5 1.7h0m1.2 0.1h0m0.8 1h0m0.2 0.6h0m-1.3 0.1h0m0.4 1.2h0m0.1 1.8h0m-1.3 0.2h0m0.5 0.2h0m-0.6 0.3h0m-0.4 0.1h0m1.5 0.3h0m0 0.5h0m1.4 0.6h0m-2.3 0.4h0m1.8 0.7h0m-1.5 1.2h0m0.6 0.8h0m1.4 1.3h0m-1.8 0.4h0m0.3 1.4h0m0.6 0.2h0m-1.1 0.6h0m-0.8 0.1h0m1.4 0.7h0m-0.8 0.8h0m0.1 0h0m1.8 1.4h0m-2.4 0.1h0m2.1 0.9h0m-0.6 0.2h0m-1.3 0.8h0m1.7 3.5h0m0.4 3.4h0m-1.5 3.2h0m1.7 1.5h0m-2.5 0.8h0m0.9 2.6h0m1.1 2.6h0m-0.6 0.8h0m0.4 1.9h0m-0.2 0.1h0m0.5 2.3h0m0.5 0.3h0m-0.4 0.1h0m0 1.3h0m-1.4 0.7h0m-0.7 0.1h0m1.5 1.2h0m0.4 0.1h0m-1.4 2.3h0m1.4 0.1h0m0.4 0.2h0m-1.3 2.4h0m0 0.8h0m1.2 1.2h0m0.4 2.8h0m-2.4 0.3h0m0.2 0.9h0m1.7 0.5h0m0.3 4.8h0m-0.3 2h0m-2.3 0.7h0m2.1 0.7h0m-2.2 0.4h0m3.6-113.8h0m0.7 1.5h0m-1.1 0.3h0m0.2 9.7h0m1.7 7.1h0m0.2 1.1h0m-1.1 4.6h0m0.9 5.1h0m0.5 1.2h0m-1.3 0.4h0m0 1h0m-1 0.3h0m0.4 0.4h0m1.3 1h0m-0.7 0.3h0m0.1 0.8h0m0.9 0.5h0m0.4 0.6h0m-2.4 0.9h0m0.1 0.9h0m0.5 0.2h0m-0.8 0.3h0m2.7 0.3h0m-0.8 0.3h0m-0.5 0h0m-1 1.3h0m0.9 0.5h0m-1.3 0.1h0m1.6 1.3h0m-0.4 0.6h0m-0.2 0.7h0m-0.1 1h0m0.9 1.4h0m-1.3 0.8h0m-0.6 0.4h0m0.2 0.2h0m2.8 0.8h0m-1.5 0.1h0m0.3 1h0m0.8 0.3h0m-1.2 1.3h0m0 0.6h0m-0.7 2.3h0m0.2 0.4h0m-0.5 2.8h0m1 0.6h0m-1 1.1h0m1.2 0.1h0m-0.9 0.7h0m0.7 4.3h0m0.7 0.5h0m-1.2 0.4h0m-0.8 0.7h0m0.6 1.9h0m1.1 0.7h0m1.2 1.1h0m-1.7 0.3h0m-0.3 0.1h0m1.5 1.6h0m-0.4 0h0m-1.4 1h0m-0.7 0.3h0m1.9 1.8h0m0.5 0.2h0m-0.9 0.1h0m-0.9 1.1h0m0.5 0.8h0m0.7 1h0m-1.7 1.1h0m1.3 1.2h0m1.5 4.1h0m0 1.5h0m-2.1 1.2h0m-0.3 0.4h0m0.4 0.6h0m-0.9 0.6h0m1.8 2.5h0m-1.3 1.1h0m0.6 1.8h0m1 0.3h0m-0.3 0.3h0m-1.7 1.7h0m1.8 1.7h0m-0.4 2.1h0m0.2 1.2h0m1 1.6h0m0.2 2.9h0m0 2.1h0m-0.1 2.7h0m3-113.2h0m-0.6 8h0m0.1 5.7h0m-0.3 3.1h0m-1.1 2.7h0m2 5.2h0m-0.1 1.8h0m0.2 2.9h0m-0.1 3.1h0m-2.2 0.3h0m2.1 0.9h0m-0.6 0.7h0m0.5 0.3h0m-0.7 1.1h0m-1.9 0.4h0m2.2 0.9h0m-1.3 1h0m1.4 0.5h0m-0.8 0.7h0m-1.2 0.1h0m0.4 0.3h0m0.4 1.6h0m1.8 0.1h0m-3 0.1h0m0.4 0.5h0m0.9 0.7h0m-0.4 0.8h0m1.9 0.1h0m-1.6 0.4h0m0.6 0h0m0.6 2.5h0m0.2 0.4h0m-0.2 1.2h0m-1.1 0.2h0m-0.9 0.1h0m1.6 0h0m-0.2 1.3h0m-1.7 1.2h0m1.9 1.1h0m-1.8 0.4h0m2.6 0.1h0m0 0.4h0m-2.7 2.9h0m1.5 0.7h0m0.6 1h0m-2 0.3h0m1.2 1.1h0m1.2 0.8h0m-0.5 0h0m-1.2 0.1h0m1.5 0.4h0m-1.9 1h0m0 2.8h0m1.5 3.9h0m0.4 0h0m-1 1.9h0m1.5 2.4h0m-2.6 0.4h0m1.1 0.6h0m1.4 4.8h0m-1.4 1.3h0m-0.9 0.4h0m2.3 4.3h0m-2.7 1.2h0m1.8 0.6h0m0.8 0.5h0m-1.7 0.7h0m0.9 2h0m0.4 0.9h0m-2 3.7h0m2.2 2.5h0m0.2 1.1h0m-0.3 1h0m0.5 0.7h0m-1.2 0.7h0m-0.8 1.2h0m1.8 1.5h0m-1.6 3.1h0m0.7 1.6h0m0.1 0h0m-1.5 0.2h0m0.4 2.7h0m1.4 0.7h0m-1.9 6.3h0m3.9-123.1h0m1.6 4.3h0m-1.9 3.6h0m1.4 3.5h0m-1.4 1.7h0m-0.5 6.5h0m0.3 0.2h0m1.3 7.4h0m-2 1.3h0m0.6 2.1h0m0 1.4h0m-0.3 1.3h0m0.3 0.9h0m1.6 0.5h0m0 0.3h0m0.7 0.1h0m-1.4 1.4h0m0.1 1.3h0m1.3 0h0m-2.2 1.3h0m0.2 1.9h0m1.4 0.6h0m-0.4 1.2h0m-1.1 0.9h0m0.3 0.9h0m1.5 0h0m-1.8 1.4h0m0.3 0.5h0m-0.6 1.4h0m1.8 1.1h0m-0.6 0.8h0m-1 0.6h0m1 0h0m0.2 1.2h0m-0.7 1.7h0m-0.1 0.4h0m1.5 2h0m-1.9 2.2h0m0.6 0.1h0m0.4 0.6h0m-0.4 0.4h0m-1 2h0m2.2 5h0m-1.4 4.8h0m0.2 2.5h0m1.2 0.8h0m-1.6 1.5h0m-0.8 3.8h0m1.8 3.2h0m-1.5 4.2h0m-0.1 1.8h0m1.7 2.6h0m0.6 0.3h0m-0.9 0.3h0m-1.6 0.9h0m2.7 3.7h0m-1.4 4.6h0m0.7 0.3h0m-2 1.6h0m2.2 0.2h0m-0.6 3.8h0m0 0.9h0m-1.2 0.1h0m0.5 2.7h0m1.7 1.2h0m-0.9 6.7h0m-1.6 2.3h0m0.2 0.9h0m1.1 2.4h0m3-103.6h0m0.6 6.8h0m-1.4 0.9h0m1.4 0.4h0m0.2 4.9h0m0.3 1.6h0m0.1 0.9h0m-2.3 0.4h0m0.9 0.4h0m1 0.4h0m0.5 2.7h0m-0.7 0h0m0.3 0.1h0m-0.1 0.5h0m0.4 0.4h0m-1.9 0h0m0.1 0.7h0m0.6 0.1h0m0.9 0.9h0m0.2 2.1h0m-1.3 0h0m-0.1 0.7h0m0 0.6h0m-1 0.9h0m1.7 2.4h0m-0.8 0.4h0m-0.9 1.1h0m0.6 0.6h0m-0.8 0.6h0m1.4 1.9h0m-0.3 2h0m0.6 2h0m0.6 1h0m-1.1 0.2h0m-0.6 2.8h0m0.7 0.3h0m-0.4 3.5h0m1.9 4.7h0m-2.6 1.1h0m0.4 2.3h0m2 0.9h0m0.2 1.5h0m-1.5 4.8h0m0.4 12.9h0m-0.8 4.1h0m-0.7 4.3h0m1.6 2h0m0.1 4.6h0m0.8 1.6h0m-2.2 1h0m3.8-109.6h0m0.6 4.9h0m-1.4 9.5h0m2 10h0m-2.3 1.9h0m1.3 0.4h0m0.5 2.2h0m0 1.3h0m-1 0.9h0m0.6 0.1h0m-1 0.3h0m1.5 1.4h0m-1 0.6h0m1.7 1.1h0m-2.1 2h0m1.7 0.1h0m-1.9 0.3h0m0.6 1.7h0m1.2 0.7h0m-1.6 1.2h0m1.3 0.2h0m-1.8 0.8h0m0.5 4.4h0m-0.1 0.1h0m0.4 2.8h0m0.8 0.9h0m-1.1 0.7h0m1.8 1.6h0m0.1 1.2h0m-1.8 2.5h0m-0.8 1.5h0m1.2 1.2h0m-0.3 3.9h0m1.1 2.8h0m0.1 1.4h0m-1.4 3.3h0m1.9 1.2h0m0.1 1.5h0m0.1 0.7h0m-2 3.1h0m1.7 4.3h0m-2.4 3h0m0.2 5.3h0m1.2 11.4h0m0.3 2.6h0m1 2.4h0m-2.7 1.9h0m0.2 1h0m0.7 2.6h0m-0.4 2.9h0m2.3 0.7h0m-2.8 6.8h0m4.5-104h0m-0.6 1.6h0m-0.5 2.5h0m0.8 1.1h0m0 1.7h0m1.6 0.9h0m-0.4 0.5h0m-1.3 1.5h0m1.7 0.8h0m-0.3 2h0m-2.6 0.6h0m2 0.9h0m1 0.9h0m-1.7 0.8h0m-0.5 0.8h0m1.8 0.8h0m-2.1 2.2h0m1.3 0.4h0m-0.9 0.4h0m1.2 0.6h0m-0.8 0.9h0m1.4 0.1h0m-0.7 0.6h0m-1.7 0.4h0m2.5 0.1h0m-0.4 0.3h0m-0.5 2.8h0m1.1 2.3h0m-2.7 2.2h0m1.4 6.9h0m0.3 2h0m-1.2 0.9h0m-0.1 0.6h0m1.7 5.2h0m-0.7 0h0m-0.6 1.2h0m0.8 2.7h0m-1 1.6h0m1.5 6.3h0m0.1 0.7h0m-1.8 1.2h0m1.4 5.6h0m0.6 4.7h0m-1.6 2.4h0m0.6 5.2h0m0.3 0.1h0m-1.4 7.2h0m1.1 18.3h0m3-103.7h0m0.8 1.7h0m-1.4 0.1h0m1 0.2h0m0.5 3.1h0m-1.6 4.4h0m0.7 1h0m1 0.1h0m-1.4 1.8h0m1.6 0.3h0m-1.4 1.5h0m0.1 0.4h0m1.2 0.1h0m-0.9 1.5h0m-0.7 0.5h0m1.2 1.3h0m0.5 1.3h0m-1.5 0.5h0m-1.1 0.2h0m1.2 0.1h0m0.4 1h0m0.4 0.2h0m0.4 0.9h0m-1.5 1h0m-0.3 0.8h0m0.6 0.1h0m0.3 2.8h0m-0.5 6.1h0m-1.2 2.7h0m0.5 10.2h0m0.3 3h0m1 7.8h0m-0.5 5.6h0m0.9 0.5h0m0.3 3.4h0m-0.1 1.3h0m-1.1 3.8h0m-1.3 0.4h0m1 0.5h0m-0.7 2h0m2.3 12.7h0m0.2 3.9h0m-2.8 5.2h0m0.9 9.3h0m3-107.8h0m1.3 0.8h0m0.2 0.1h0m-2.3 4.3h0m0.8 3.7h0m1.4 0h0m-0.5 6.5h0m0.1 0.1h0m-1.6 1h0m2.5 1.7h0m-0.2 0.4h0m-1.6 0.4h0m1.4 0.2h0m-1.2 0.7h0m0.3 0.7h0m0.7 1.7h0m-1.3 4.1h0m-0.2 3h0m-0.4 2.1h0m0.9 8h0m0.1 23.8h0m-0.4 3.3h0m-0.3 7.8h0m0.7 6h0m0.9 0.5h0m-1.6 3h0m-0.3 2.7h0m1.8 6.1h0m-0.7 6.2h0m3.8-115.1h0m-1.4 8h0m-0.1 4.1h0m-0.6 0.1h0m1.6 0.4h0m-1.2 4.2h0m1.1 0.4h0m0.3 4.7h0m0 0.4h0m0.5 1.6h0m-1.9 0.2h0m-0.5 1.1h0m1.7 0.6h0m1.1 0.2h0m-1 0.8h0m0.1 1h0m0.7 0.7h0m-1.5 0.9h0m-0.6 0.6h0m1.9 0.8h0m-1.1 0.6h0m1.5 0.4h0m-1.2 0.2h0m-1.5 1.5h0m-0.2 0.8h0m1.4 0.5h0m-0.4 0.6h0m0.5 5.1h0m0.5 0.3h0m0.3 0.8h0m-0.8 0.2h0m1.3 1.2h0m-2 1.3h0m-0.3 15.9h0m0.4 1.5h0m-0.3 10.9h0m2.1 0.9h0m-1.1 16.6h0m0.9 7.1h0m-0.7 0.9h0m-0.6 16h0m-0.5 2.2h0m2.1 3.3h0m2.3-120.1h0m-0.9 11.4h0m-1 0h0m0.8 0.6h0m1 5.5h0m0.5 0.9h0m0.3 0.2h0m-2.1 1.5h0m-0.2 2.8h0m-0.3 0.2h0m-0.1 1.1h0m1.4 1.8h0m-1 0.9h0m2.4 0.9h0m-1.3 1.5h0m-1.6 3.7h0m1.5 2.4h0m0.5 4.5h0m0.6 15.6h0m0.2 8h0m-2.3 13.5h0m1.7 2.2h0m-1.8 6.7h0m1.9 12.1h0m0.4 1.8h0m1.2-97.4h0m1.4 11.1h0m-0.7 2h0m0.5 0.9h0m-1.2 1.1h0m1.9 0.1h0m-1.6 2.3h0m1.1 0.5h0m-0.8 1.1h0m-1.5 1.6h0m2.8 0.7h0m-2.4 0.1h0m1.3 0.3h0m-1.2 0h0m-0.5 2.3h0m2.2 0.7h0m0.8 1.8h0m-2.9 0.1h0m1.5 3.5h0m-1.4 0h0m0.7 2.5h0m0.2 3.3h0m-0.6 10.5h0m1.8 0.6h0m-1.8 0.4h0m1.4 10.2h0m-1.8 4.5h0m-0.1 5.1h0m1.4 13.3h0m4.5-71.7h0m-1.8 0.4h0m1.1 0.2h0m0.1 1.9h0m0.1 3.3h0m-0.3 1h0m0 0h0m-0.4 2.7h0m-0.1 1.3h0m-1 0.4h0m0.8 8.4h0m-0.5 5.6h0m0.7 2.2h0m0 6.2h0m-0.1 1.8h0m-1.1 4.4h0m-0.3 51.1h0m5.7-98.2h0m0 6.8h0m-1.3 1h0m-0.6 2.9h0m1.7 4.9h0m-1.4 16.7h0m0.6 6.9h0m-1.5 5.1h0m2.2 2.3h0m-1 4.3h0m-0.6 5.5h0m1.4 8.6h0m-0.1 1.3h0m2-69.6h0m1.3 6.8h0m-0.6 1.4h0m-0.6 3.4h0m1.2 4.3h0m-2.2 0.3h0m0.2 5.9h0m2.2 0.4h0m-0.9 34.3h0m-1.8 10.9h0m0.5 26.6h0m1.6 25.4h0m3.4-112.8h0m0.2 18.3h0m-0.9 9.4h0m2.4-31.3h0m2.7 3.7h0" stroke="#619CFF"/>
<path d="M307.4 386.8h0m0.1 0.1h0m-0.3 0.6h0m0.1 1.3h0m-0.3 0.2h0m0.3 1.4h0m-0.1 0.5h0m-0.2 1h0m0.3 0.7h0m-0.3 0.3h0m0 0.1h0m0.2 0.6h0m-0.2 1.2h0m0 0.6h0m0 0.7h0m0.1 0.3h0m0.1 0.7h0m0.1 1.5h0m-0.4 2h0m0.5 0.9h0m0 1.3h0m-0.3 0h0m0.9-16.2h0m1.5 0.1h0m-0.3 0.6h0m-0.3 0.6h0m0.1 0.1h0m1.3 0.3h0m-0.2 0.4h0m-1.7 0.7h0m-0.3 0.3h0m-0.4 0.9h0m1 0.1h0m1.4 1.1h0m-0.9 0h0m-0.8 0.9h0m1.8 0.8h0m-2.2 0.1h0m-0.4 0.3h0m1 0.2h0m1.3 0.2h0m-2 1.4h0m2.1 0.8h0m-2.1 0.4h0m0.6 0.1h0m-0.6 1.2h0m1.9 0.2h0m-2.3 0.6h0m0.3 0h0m1.9 1.5h0m-1.9 0.2h0m0.2 0.1h0m1.2 0.2h0m0.4 0h0m0.8 0.3h0m-1.1 1.5h0m0.4 0h0m-1.3 0h0m5-16.1h0m-2.1 0.1h0m0 0h0m0.4 0.1h0m1 0.3h0m-0.3 1.8h0m-1.5 1h0m1.8 0.2h0m-1.8 1.5h0m2.4 0.4h0m-1.1 0h0m-1.1 1.9h0m2.1 0.1h0m-0.9 0.4h0m0.5 0.7h0m-1.7 0.7h0m1.5 1h0m-0.9 0.6h0m-0.7 0.6h0m0.6 0.4h0m1.8 0h0m-1.7 0.7h0m-0.4 0.1h0m1.6 0.4h0m-1.2 0.7h0m1.4 1h0m-2.4 1.4h0m0.6 0h0m0.4 0h0m1.3 0h0m-0.9 0h0m1.8-16.2h0m1.6 0.1h0m-0.4 0.1h0m-0.8 0.1h0m0.3 0.1h0m-0.9 0.2h0m1.4 0h0m-0.4 1h0m-0.9 1.3h0m2.3 0.3h0m0.4 0.3h0m-0.9 0.4h0m-1.9 0.3h0m1.7 0h0m0.6 1.5h0m-1.3 0.5h0m1.6 0.5h0m-2.1 0.1h0m-0.3 0.4h0m0.3 0.5h0m1.6 0.5h0m-1.8 0.9h0m1.5 0.4h0m-1.9 0.1h0m1.5 1.7h0m-1.4 0.8h0m0.1 0.3h0m-0.1 0.5h0m2.2 0.5h0m-2 0.4h0m1.9 0.4h0m-1.5 0.6h0m0.4 1.4h0m0.6 0h0m1 0h0m-2.3 0h0m5.3-16.3h0m-0.4 0.1h0m0.5 0.1h0m-0.7 0.1h0m-2 0.4h0m2.4 0.1h0m-0.7 0.5h0m0.2 1h0m-1.4 0.5h0m2.2 0.2h0m-2.1 0.5h0m0.8 0.6h0m0.3 0.9h0m-1.2 0h0m-0.6 0.1h0m2.7 1.1h0m-1 1.1h0m-1.1 1.1h0m1.4 0.1h0m-1.6 0.3h0m1.1 0.7h0m-0.8 1.3h0m1.5 0h0m-1 0.4h0m0.1 0.2h0m0.4 0.2h0m-1.2 0.1h0m0.4 0.8h0m-0.4 1.1h0m2.4 0.9h0m-2 0.3h0m1.1 1.2h0m-1.2 0.3h0m0.7 0h0m0.9 0h0m-0.5 0h0m-1.8 0h0m1.9 0h0m3.4-16.2h0m0.1 0.1h0m-0.3 0.3h0m-0.1 0.1h0m0.4 0.3h0m-1.3 0.1h0m0.5 0.2h0m0.8 0.2h0m-1.4 0.8h0m1.4 0.9h0m-1.6 1.5h0m1.4 0.6h0m-2 0.1h0m2.5 0.3h0m0.1 0.5h0m-1.5 0.3h0m0.3 0.9h0m-0.9 0.4h0m-0.6 0.8h0m1.3 0.9h0m-0.2 0.8h0m1.1 0.6h0m-0.7 0.1h0m-0.5 0.2h0m-1.3 1.9h0m0.7 0.2h0m2.3 0.3h0m-1.2 1.3h0m0.9 0.1h0m-0.8 0h0m-0.5 1.4h0m0.9 0h0m-0.2 0h0m-0.5 0h0m-0.1 0h0m-1.2 0h0m4-16.1h0m1.2 0h0m-2 0.1h0m1.1 0.1h0m-1.2 0h0m1.4 0.1h0m-0.8 0h0m-0.6 0h0m2 0.7h0m0.3 0.3h0m-2.1 0.3h0m0 0.7h0m-0.4 0.4h0m0.5 0.5h0m0.7 0.2h0m1.2 0.2h0m-2.2 0.7h0m2.1 0h0m-2.1 0.4h0m2.4 0.6h0m-0.4 0.1h0m-0.4 1.4h0m-1.3 0.2h0m1.8 0.5h0m-0.1 0.2h0m-2.1 0.8h0m0.7 0.3h0m0.7 1.6h0m-1.4 0.3h0m-0.2 1h0m2 0.9h0m-0.1 0.1h0m-0.7 0.1h0m-1 0.3h0m0.4 0.6h0m0.8 1h0m0.6 1.4h0m-1.7 0h0m0.3 0h0m0.5 0h0m0.1 0h0m2.5-16.2h0m1.4 0.1h0m-0.3 0.1h0m-0.4 0h0m-1.3 0.1h0m0.7 0h0m-0.9 0.1h0m0.9 0.1h0m-0.4 0.1h0m1.1 0.3h0m0 0.4h0m-0.5 0h0m0.3 0.2h0m0.4 0.4h0m-0.8 0h0m0.6 1.3h0m-0.5 1.2h0m-1 0.3h0m1.6 1.1h0m1.1 0h0m-1.4 0.6h0m0.5 0.4h0m0.2 1.1h0m-0.6 0.4h0m-0.3 0.7h0m-0.9 0.1h0m-0.3 1.4h0m2.8 0.1h0m-0.5 0.5h0m0.4 0.1h0m-1.2 0.9h0m-0.5 1h0m0.8 0.6h0m0.3 0.6h0m-1.8 0.4h0m2.5 1.2h0m-0.1 0.3h0m-2.6 0h0m2.5 0h0m-1.4 0h0m1.4 0h0m-0.8 0h0m3.7-16.2h0m-2.1 0h0m1.8 0h0m-1.3 0.8h0m0.5 0.3h0m1.1 1.1h0m-0.8 0.4h0m0.7 0h0m-2.2 0h0m1.8 0.5h0m-1.9 0.6h0m2.2 0.3h0m-0.1 0.2h0m-0.7 0.1h0m0.1 1h0m1.2 0.4h0m-1.8 0.9h0m1.5 0.2h0m-2.2 0.2h0m1.9 0.7h0m-0.2 0.8h0m0.3 0h0m-2 0h0m1 0.9h0m0.1 1.8h0m-0.5 0.1h0m1.3 0.2h0m-0.6 0.6h0m-0.1 0.5h0m-1.1 0.6h0m2.2 1.3h0m-1.1 0.2h0m-0.4 1h0m-0.8 0.5h0m1.1 0h0m-1.2 0h0m1.4 0h0m0.6 0h0m1.2-16.2h0m2.2 0.1h0m0.2 0h0m-1.8 0.2h0m0.5 0.1h0m1 0.1h0m-1 0.3h0m0.6 1.3h0m0 0.6h0m-0.8 0.3h0m0.6 1h0m0.4 0.6h0m-0.2 0.3h0m-1.4 0.1h0m-0.4 0.5h0m2.3 0.7h0m-1.1 0.4h0m-0.1 0.2h0m1.3 0.5h0m-0.5 0.1h0m0 0.5h0m-0.8 0.2h0m-0.7 1.7h0m1.5 0.2h0m-1.2 0.3h0m-0.2 1.1h0m0.4 0.4h0m-1.1 0.3h0m2.7 0.6h0m-1.3 0.2h0m0 0.2h0m1.3 0.3h0m-0.7 0.9h0m-0.5 1.2h0m0.4 0.7h0m0.9 0h0m-1.4 0h0m-1.1 0h0m0.8 0h0m0.1 0h0m2.4-16.3h0m0.3 0.2h0m1.3 0.2h0m0 0.1h0m-0.3 0.1h0m-0.6 0.1h0m0.8 1.4h0m0.6 0.6h0m-2.1 0.1h0m-0.2 0.5h0m-0.3 1h0m1.8 0.4h0m-0.2 1.2h0m-0.3 0.9h0m0.3 0.3h0m-1.5 1.6h0m1.4 0.3h0m0.4 0.2h0m0.1 0.2h0m-2 0.8h0m1.6 0.2h0m-1.3 0.1h0m0.9 0.9h0m-1 0.3h0m1.2 0.2h0m0.4 0.7h0m-0.4 0.1h0m1.2 1.3h0m-0.5 0.6h0m-1.6 0.2h0m-0.5 1.5h0m2.8 0h0m-1.8 0h0m0.7 0h0m1.6-16.3h0m2.4 0.2h0m-2.1 0h0m1.7 0.2h0m0.3 0h0m-2.2 0h0m0.3 0h0m-0.1 0.2h0m1.5 0h0m-0.8 0.2h0m0 2.3h0m0.9 0.1h0m-0.9 0.4h0m-1.3 1.6h0m2.8 0.2h0m-1.8 0.2h0m0.2 1h0m0.9 0.1h0m-1.5 0.5h0m0.8 0.2h0m-0.8 0.8h0m0.9 0.5h0m-0.4 1.2h0m0.3 0.3h0m-1.2 1h0m2 0.7h0m-1.3 0.9h0m1.4 0.8h0m-2.1 0.2h0m2.2 1h0m-0.3 0h0m-0.8 1.5h0m1.2 0h0m-2.1 0h0m2.2 0h0m-1.4 0h0m-0.1 0h0m2-16.2h0m0.9 0.1h0m0.7 0.2h0m0.3 0.3h0m-1.9 0.3h0m1.4 0.2h0m1.1 0.4h0m-2.7 0.5h0m1.5 0.1h0m0.4 0.2h0m-0.4 0.3h0m-1.4 0.3h0m1.8 1h0m1 0h0m-2.9 0.3h0m1.1 0.1h0m0.9 1.6h0m0.2 0.6h0m-1.8 0.4h0m0.7 0.2h0m1.6 0.1h0m-1.9 0.5h0m0.4 0.6h0m-1 0.3h0m1.9 0.8h0m-0.7 0.7h0m0.5 0.1h0m-1.6 0.3h0m2.5 0.2h0m-0.4 1.2h0m-0.3 0.3h0m-0.4 0.2h0m-1 0.4h0m-0.7 0h0m0.3 0.1h0m1.7 0.8h0m-1.1 1.7h0m-0.7 0.1h0m1.8 0.7h0m-0.5 0h0m-0.3 0h0m-1 0h0m4.5-16.3h0m0.5 0.1h0m-1.6 0h0m-0.3 0.1h0m-0.1 0h0m2.1 0.2h0m-1.2 0.2h0m0.9 0h0m-0.3 0.1h0m-0.5 0.1h0m1.7 0.2h0m-2.4 0.7h0m0 0.8h0m0.7 1.3h0m1.2 0.1h0m-0.5 0.2h0m-1.8 0.8h0m1 0.2h0m1.6 0.4h0m-1.1 0.6h0m0 0.4h0m-1.3 0.9h0m2.1 0.2h0m-1.6 0.1h0m-0.3 0.1h0m1.2 0.2h0m0.6 0.8h0m-0.9 0.3h0m0 2.4h0m0.4 0.5h0m-0.8 0.5h0m1.2 0.3h0m0 0.7h0m0.1 0h0m-2.2 0.6h0m1 0.3h0m-1 0.4h0m1.8 0.4h0m0.9 1.1h0m-1.9 0h0m-1 0h0m2.1 0h0m3.6-16h0m-2.6 0h0m0.2 0.3h0m1.2 0h0m0.1 0.1h0m1.1 0h0m-0.9 0.2h0m-1.7 0.1h0m-0.1 1.3h0m0.8 0h0m1 0.3h0m0.9 0.8h0m-1.1 1.4h0m-0.3 1.7h0m0.6 1.7h0m-1.6 0.3h0m1.5 0.3h0m0.9 1.1h0m-2.3 0h0m0.5 0.2h0m1.7 0.7h0m-1.6 0.2h0m1.4 0.8h0m-0.8 0.9h0m-0.4 0.3h0m0.7 0.6h0m-0.1 0.2h0m-1.8 0.2h0m1.6 0.6h0m0.8 0.2h0m0.4 0.5h0m-0.1 1h0m-2.4 0h0m0.9 0h0m0.4 0h0m3.7-16.2h0m-1.2 0.1h0m1.7 1h0m-1.3 0.2h0m-0.5 0.8h0m1.3 0.9h0m-1 1.1h0m0.4 0.2h0m0.7 0.7h0m-1.7 0.1h0m2 0.3h0m-1.6 0.3h0m0.9 0.2h0m-1.9 0.5h0m1.5 0h0m-0.9 0.8h0m1.6 0h0m-1.9 0.3h0m-0.2 0.9h0m0.3 0.1h0m0.4 0.8h0m0.7 0.9h0m1.1 0.5h0m-1.5 0.2h0m-1.1 0.4h0m2.3 1.4h0m0.5 0.2h0m-2.6 0.2h0m1 0.3h0m0.6 0.5h0m0.8 2.3h0m-0.4 0h0m-1.4 0h0m-0.4 0h0m1.5 0h0m-1.4 0h0m3.4-16.2h0m-0.5 0.3h0m1 0h0m0.8 0h0m-1.7 0.4h0m-0.3 0.3h0m1.3 0.1h0m-0.3 0.4h0m1.7 0.4h0m-2.8 0.3h0m2.1 0.5h0m0.1 0.4h0m-1.3 0.3h0m0.8 0h0m-1.7 1.6h0m2.1 0h0m-0.6 0h0m1.2 1.3h0m-1.4 0.8h0m0.3 1.1h0m-1.1 0.2h0m1.2 0.1h0m-1.6 0.1h0m0.5 0.1h0m1.5 0.2h0m-1.1 0.7h0m0.7 1.3h0m-1.4 0.3h0m2.3 0.6h0m-2.2 1.1h0m-0.1 0.4h0m2.1 0.6h0m0.3 0h0m-1.5 0.3h0m-1.2 1h0m-0.1 0.5h0m0.8 0.5h0m-0.7 0h0m2.6 0h0m-0.1 0h0m-0.3 0h0m-0.6 0h0m0 0h0m1.8-16.2h0m1.9 0h0m-1.3 0.1h0m0.2 0.2h0m-1.2 0.1h0m1.3 0.1h0m-0.2 0.7h0m1.4 0.5h0m-1.7 1.3h0m-0.2 0.3h0m2.1 0.4h0m-2.3 0h0m0.6 0.9h0m1.2 0.5h0m-0.7 0.1h0m-0.7 0.9h0m0.6 0.8h0m-0.5 0.7h0m-0.7 0.4h0m1.4 0.2h0m-0.7 1.2h0m1.6 0h0m-1.8 0.3h0m1.7 0.8h0m-2.1 0.3h0m1.3 0h0m0.8 0.3h0m-0.9 0.5h0m-0.1 0h0m0.5 0.3h0m-2 0.2h0m0.3 0.7h0m1 1.1h0m-0.5 0.9h0m1.9 0h0m-0.3 0.4h0m-2 0.5h0m0.1 0.5h0m1.6 0h0m0.2 0h0m-1.2 0h0m2.4-16.1h0m0.2 0.6h0m1.1 1.3h0m0.5 1.2h0m-2.1 0.6h0m0.5 0.3h0m-0.3 1.6h0m0 0.4h0m1.2 0.4h0m-1.4 0.1h0m0.5 0h0m-0.5 1.1h0m1.4 2.3h0m0 0.4h0m0.2 1.3h0m0.5 0.9h0m-2.1 0.5h0m0.5 1.2h0m0.4 0.7h0m-0.4 0.8h0m1.8 0.4h0m-0.1 0h0m-2 0h0m1.8 0h0m-1.2 0h0m-0.1 0h0m2.3-16.1h0m0.7 0.7h0m1.8 0h0m-0.6 1.9h0m-1.6 0.1h0m0.1 0.3h0m-0.4 0.4h0m1.8 0.6h0m-1.3 0.6h0m0.4 0.6h0m-0.8 0.5h0m2 0.2h0m0.2 2h0m-1.8 0.7h0m-0.4 0.3h0m0.9 0h0m-0.4 0.1h0m0.8 0h0m0.9 1.1h0m-1.2 1.1h0m-1 0.2h0m1.9 0.4h0m-1.8 0.6h0m0.6 2.5h0m1.8 0.6h0m-2.3 0.6h0m0.5 0h0m1.4 0h0m-1.4 0h0m1.2 0h0m3-15.8h0m-1.2 0.5h0m-0.8 0.4h0m1.4 0.8h0m-1.3 0.4h0m0.4 0.5h0m1.7 0.4h0m-1.1 0h0m-0.1 1.1h0m0.1 1.3h0m-0.6 0.5h0m1.3 0.8h0m-0.5 0.1h0m-0.6 0.7h0m0.1 0.9h0m0.3 0.2h0m-1.1 0.1h0m0.8 0.8h0m1.8 0.6h0m-0.9 1.1h0m-1.9 0.3h0m2.4 0.7h0m-1.4 0.2h0m0.7 1.9h0m-0.7 0.7h0m0 0.8h0m0.6 0h0m0.5 0h0m-1.9 0h0m4.6-15.3h0m-0.5 0.8h0m0.4 0.2h0m-0.6 0.1h0m0.3 0.1h0m-0.2 1.2h0m1.2 1.5h0m-1.2 0h0m-1.3 1.4h0m0.9 0.1h0m1.6 1.5h0m-1 0.7h0m-1 0.7h0m1.1 0.4h0m1.2 2.3h0m-1.4 1.6h0m-0.8 0.4h0m1.5 0.5h0m-0.9 1.8h0m-1.2 0h0m2.8 0h0m-1.9 0h0m5.1-16h0m-1.5 0.5h0m-1.3 0.8h0m2 3.3h0m0.5 0.1h0m-1.1 0.1h0m-1 2.7h0m2.3 0.6h0m-1.4 0.1h0m-0.5 0.7h0m1.6 1.1h0m-0.2 0.5h0m-1.4 0.1h0m1.4 1.5h0m-0.4 0.4h0m-1.2 0.5h0m2 0.9h0m-2.2 1.5h0m1.9 0.2h0m-0.5 0.4h0m-0.1 0h0m-0.3 0h0m-0.6 0h0m4.1-16h0m-0.3 2.5h0m-0.2 0.1h0m0.8 0.6h0m-0.8 1.4h0m-0.3 0h0m0 1.5h0m1.6 1.5h0m-1.4 0.4h0m-0.5 1h0m0.7 2.4h0m0.2 0.7h0m-0.9 1h0m1.1 0.5h0m0.4 0.2h0m-1 0.5h0m0.8 0.1h0m0.7 0.9h0m-0.8 0.7h0m-2 0h0m2.5 0h0m-1.5 0h0m-0.2 0h0m2.3-15.8h0m0.6 0.3h0m0.5 1.6h0m-0.8 0.7h0m0.5 1.6h0m-1.1 0.6h0m1 0.1h0m0.5 0.7h0m-0.3 0.8h0m-0.6 0.5h0m-0.3 0.4h0m0.4 0.3h0m1.8 4.4h0m0 3h0m0.3 0.8h0m-0.8 0h0m-1.5 0h0m1.1 0h0m-1.2 0h0m3.1-16.1h0m1.5 0.6h0m-0.7 1.1h0m1.6 1.7h0m-0.7 0.9h0m-0.3 2h0m-1.3 2.7h0m2.1 0.3h0m-0.3 1.9h0m0.4 0.9h0m0.1 2.9h0m-1.8 1.1h0m1.1 0h0m-1.8 0h0m4.1-9.8h0m1.5 0.9h0m-2.7 0.3h0m0.6 0.1h0m-0.5 2.8h0m2.1 3.8h0m-0.9 0h0m-0.3 1.9h0m0.6 0h0m0.4 0h0m-1.7 0h0m-0.5 0h0m0.3 0h0m0.2 0h0m2.2 0h0m0.7-15.2h0m-0.2 0.2h0m2.2 3.9h0m-1.3 2.5h0m-1 0.4h0m0 1.5h0m1.6 1.3h0m0.7 0.2h0m-2.1 5.2h0m0.9 0h0m1.6 0h0m-0.6 0h0m1.3-14.4h0m0.1 2.8h0m1 3.5h0m-0.7 0.8h0m0.2 0.8h0m-1.2 2.6h0m0.5 1.6h0m2.5 2.3h0m-0.9 0h0m-0.4 0h0m-0.4 0h0m-0.4 0h0m2.8-15.8h0m-0.5 0.3h0m0.5 3.5h0m0.8 5.8h0m-1.3 0.9h0m0.6 5.3h0m1.2 0h0m3.6-12.8h0m-0.8 12.8h0m-0.9 0h0m0.9 0h0m-1.7 0h0m0.2 0h0m5.6-10.7h0m-2.2 1.2h0m5.6-5.4h0m5.6 4.4h0" stroke="#F8766D"/>
</g>
</g>
<path clip-path="url(#cE)" d="M281.10 410.09L454.10 252.28" stroke="#111" stroke-width="1" stroke-dasharray="0.9 2.2 3.1 2.2" fill="none"/>
<path d="M306.93 409.6v2.1M281.1 386.53h-2.1M345.59 409.6v2.1M281.1 351.26h-2.1M369.01 409.6v2.1M281.1 329.90h-2.1M415.48 409.6v2.1M281.1 287.51h-2.1" stroke="#555" stroke-width="0.65" fill="none"/>
<text class="tk" x="306.3" y="421.2" text-anchor="middle">0.01</text>
<text class="tk" x="277.9" y="390.1" text-anchor="end">0.01</text>
<text class="tk" x="345.6" y="421.2" text-anchor="middle">0.10</text>
<text class="tk" x="277.9" y="354.9" text-anchor="end">0.10</text>
<text class="tk" x="369.0" y="421.2" text-anchor="middle">0.20</text>
<text class="tk" x="277.9" y="333.5" text-anchor="end">0.20</text>
<text class="tk" x="415.5" y="421.2" text-anchor="middle">0.50</text>
<text class="tk" x="277.9" y="291.1" text-anchor="end">0.50</text>
<text class="ax" x="367.8" y="435.2" text-anchor="middle">PRS−CS</text>
<text class="ax" transform="translate(251.7 331.4) rotate(-90)" text-anchor="middle">FUSION</text>
<text class="tag" x="230.7" y="250.7">E</text>
</g>
</svg>
</body></html>
